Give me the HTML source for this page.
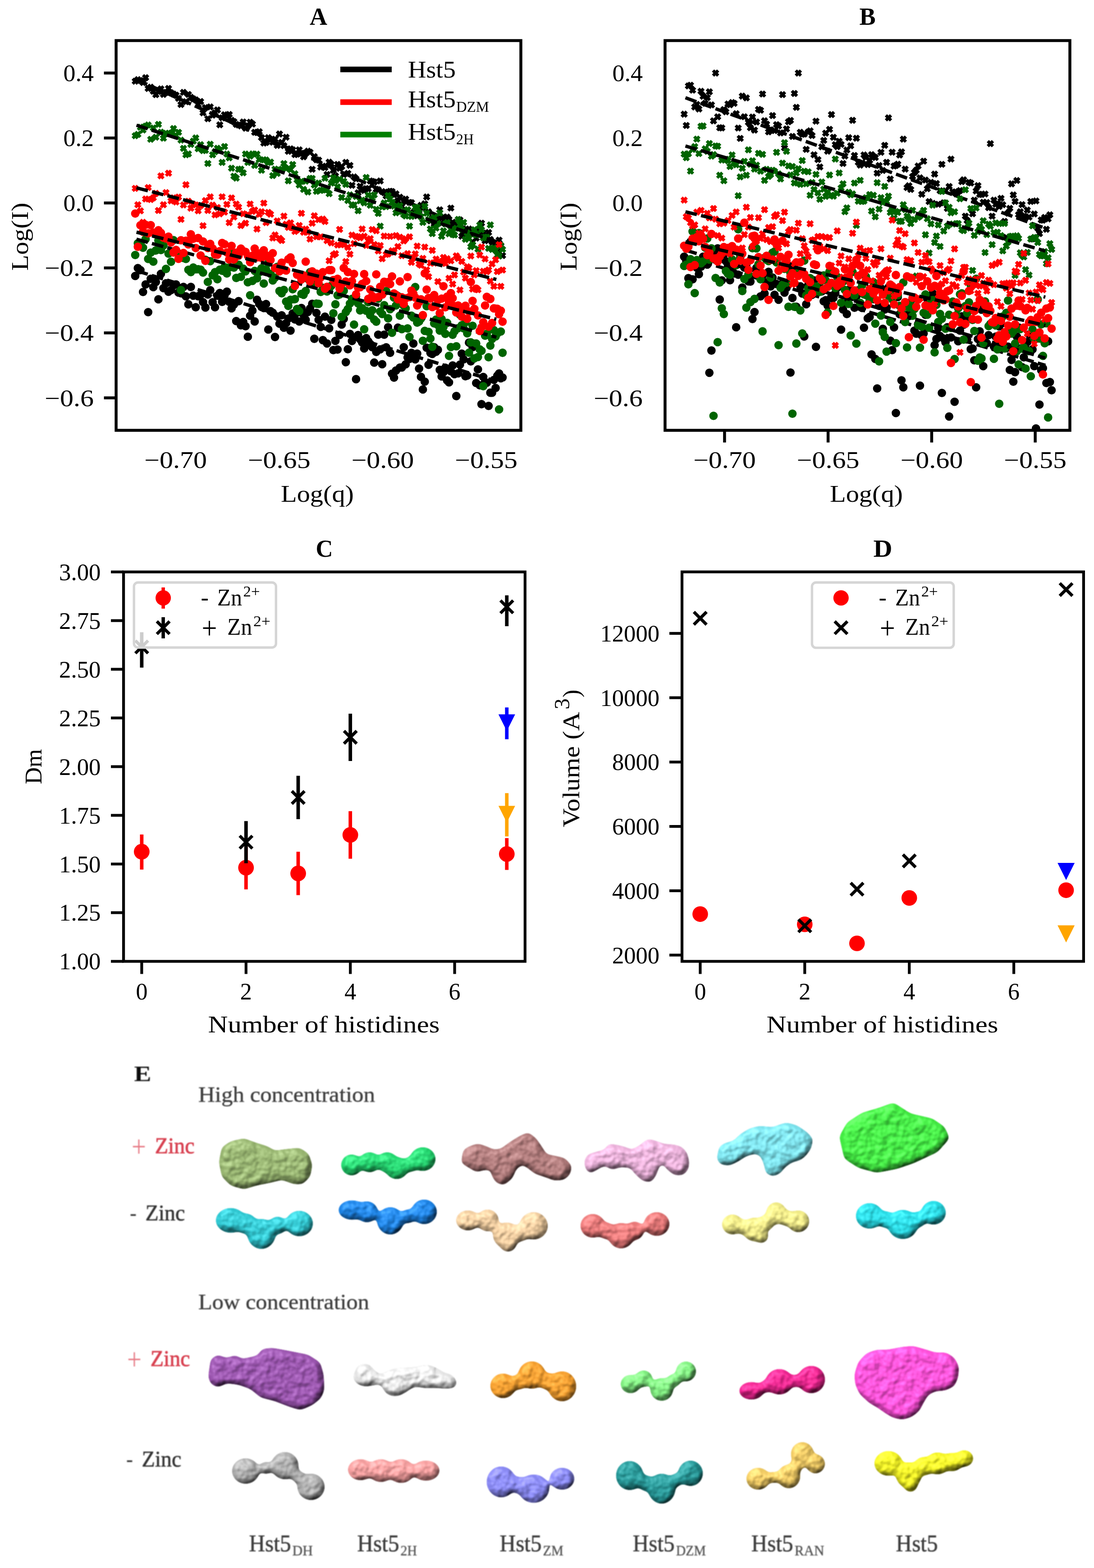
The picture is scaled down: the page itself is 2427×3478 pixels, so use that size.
<!DOCTYPE html>
<html><head><meta charset="utf-8"><style>
html,body{margin:0;padding:0;background:#fff;}
svg{display:block;font-family:'Liberation Serif', 'DejaVu Serif', serif;}
</style></head><body>
<svg width="2427" height="3478" viewBox="0 0 2427 3478">
<rect width="2427" height="3478" fill="#fff"/>
<clipPath id="clipA"><rect x="257.6" y="90" width="897.9" height="864.5"/></clipPath>
<path clip-path="url(#clipA)" fill="#000" d="M303.2,172.1 300.0,175.3 296.8,172.1 291.9,177.0 295.1,180.2 291.9,183.4 296.8,188.3 300.0,185.1 303.2,188.3 308.1,183.4 304.9,180.2 308.1,177.0ZM309.0,168.5 305.8,171.7 302.6,168.5 297.7,173.4 300.9,176.6 297.7,179.8 302.6,184.7 305.8,181.5 309.0,184.7 313.9,179.8 310.7,176.6 313.9,173.4ZM314.7,170.5 311.5,173.7 308.3,170.5 303.4,175.4 306.6,178.6 303.4,181.8 308.3,186.7 311.5,183.5 314.7,186.7 319.6,181.8 316.4,178.6 319.6,175.4ZM320.5,175.0 317.3,178.2 314.1,175.0 309.2,179.9 312.4,183.1 309.2,186.3 314.1,191.2 317.3,188.0 320.5,191.2 325.4,186.3 322.2,183.1 325.4,179.9ZM326.2,164.2 323.0,167.4 319.8,164.2 314.9,169.1 318.1,172.3 314.9,175.5 319.8,180.5 323.0,177.3 326.2,180.5 331.1,175.5 327.9,172.3 331.1,169.1ZM331.9,188.1 328.7,191.3 325.5,188.1 320.6,193.0 323.8,196.2 320.6,199.4 325.5,204.4 328.7,201.1 331.9,204.4 336.8,199.4 333.6,196.2 336.8,193.0ZM337.6,185.3 334.4,188.6 331.2,185.3 326.3,190.3 329.5,193.5 326.3,196.7 331.2,201.6 334.4,198.4 337.6,201.6 342.5,196.7 339.3,193.5 342.5,190.3ZM343.3,194.4 340.1,197.6 336.9,194.4 332.0,199.3 335.2,202.5 332.0,205.7 336.9,210.6 340.1,207.4 343.3,210.6 348.2,205.7 345.0,202.5 348.2,199.3ZM348.9,201.9 345.7,205.1 342.5,201.9 337.6,206.8 340.8,210.0 337.6,213.2 342.5,218.1 345.7,214.9 348.9,218.1 353.9,213.2 350.7,210.0 353.9,206.8ZM354.6,195.1 351.4,198.3 348.2,195.1 343.3,200.0 346.5,203.2 343.3,206.4 348.2,211.3 351.4,208.1 354.6,211.3 359.5,206.4 356.3,203.2 359.5,200.0ZM360.2,188.9 357.0,192.1 353.8,188.9 348.9,193.9 352.1,197.1 348.9,200.3 353.8,205.2 357.0,202.0 360.2,205.2 365.1,200.3 361.9,197.1 365.1,193.9ZM365.8,201.3 362.6,204.5 359.4,201.3 354.5,206.2 357.7,209.4 354.5,212.6 359.4,217.5 362.6,214.3 365.8,217.5 370.7,212.6 367.5,209.4 370.7,206.2ZM371.4,196.9 368.2,200.1 365.0,196.9 360.1,201.8 363.3,205.0 360.1,208.2 365.0,213.1 368.2,209.9 371.4,213.1 376.3,208.2 373.1,205.0 376.3,201.8ZM377.0,188.0 373.8,191.2 370.6,188.0 365.7,192.9 368.9,196.1 365.7,199.3 370.6,204.2 373.8,201.0 377.0,204.2 381.9,199.3 378.7,196.1 381.9,192.9ZM382.6,197.7 379.4,200.9 376.2,197.7 371.3,202.6 374.5,205.8 371.3,209.0 376.2,213.9 379.4,210.7 382.6,213.9 387.5,209.0 384.3,205.8 387.5,202.6ZM388.1,200.6 384.9,203.8 381.7,200.6 376.8,205.5 380.0,208.7 376.8,211.9 381.7,216.8 384.9,213.6 388.1,216.8 393.0,211.9 389.8,208.7 393.0,205.5ZM393.7,203.1 390.5,206.3 387.3,203.1 382.4,208.0 385.6,211.2 382.4,214.4 387.3,219.3 390.5,216.1 393.7,219.3 398.6,214.4 395.4,211.2 398.6,208.0ZM399.2,210.1 396.0,213.3 392.8,210.1 387.9,215.0 391.1,218.2 387.9,221.4 392.8,226.3 396.0,223.1 399.2,226.3 404.1,221.4 400.9,218.2 404.1,215.0ZM404.7,223.8 401.5,227.0 398.3,223.8 393.4,228.7 396.6,231.9 393.4,235.1 398.3,240.0 401.5,236.8 404.7,240.0 409.6,235.1 406.4,231.9 409.6,228.7ZM410.2,196.8 407.0,200.0 403.8,196.8 398.9,201.7 402.1,204.9 398.9,208.1 403.8,213.0 407.0,209.8 410.2,213.0 415.1,208.1 411.9,204.9 415.1,201.7ZM415.7,217.6 412.5,220.8 409.3,217.6 404.3,222.5 407.6,225.7 404.3,228.9 409.3,233.8 412.5,230.6 415.7,233.8 420.6,228.9 417.4,225.7 420.6,222.5ZM421.1,201.4 417.9,204.6 414.7,201.4 409.8,206.3 413.0,209.5 409.8,212.7 414.7,217.6 417.9,214.4 421.1,217.6 426.0,212.7 422.8,209.5 426.0,206.3ZM426.6,207.8 423.4,211.0 420.2,207.8 415.3,212.7 418.5,215.9 415.3,219.1 420.2,224.0 423.4,220.8 426.6,224.0 431.5,219.1 428.3,215.9 431.5,212.7ZM432.0,211.3 428.8,214.5 425.6,211.3 420.7,216.2 423.9,219.4 420.7,222.6 425.6,227.5 428.8,224.3 432.0,227.5 436.9,222.6 433.7,219.4 436.9,216.2ZM437.4,213.5 434.2,216.7 431.0,213.5 426.1,218.4 429.3,221.6 426.1,224.8 431.0,229.7 434.2,226.5 437.4,229.7 442.3,224.8 439.1,221.6 442.3,218.4ZM442.8,223.9 439.6,227.1 436.4,223.9 431.5,228.8 434.7,232.0 431.5,235.2 436.4,240.1 439.6,236.9 442.8,240.1 447.7,235.2 444.5,232.0 447.7,228.8ZM448.2,217.1 445.0,220.3 441.8,217.1 436.9,222.0 440.1,225.2 436.9,228.5 441.8,233.4 445.0,230.2 448.2,233.4 453.1,228.5 449.9,225.2 453.1,222.0ZM453.6,242.1 450.4,245.3 447.2,242.1 442.3,247.0 445.5,250.3 442.3,253.5 447.2,258.4 450.4,255.2 453.6,258.4 458.5,253.5 455.3,250.3 458.5,247.0ZM458.9,230.6 455.7,233.8 452.5,230.6 447.6,235.5 450.8,238.7 447.6,242.0 452.5,246.9 455.7,243.7 458.9,246.9 463.8,242.0 460.6,238.7 463.8,235.5ZM464.3,255.3 461.1,258.5 457.9,255.3 453.0,260.2 456.2,263.4 453.0,266.6 457.9,271.5 461.1,268.3 464.3,271.5 469.2,266.6 466.0,263.4 469.2,260.2ZM469.6,229.0 466.4,232.2 463.2,229.0 458.3,233.9 461.5,237.1 458.3,240.3 463.2,245.2 466.4,242.0 469.6,245.2 474.5,240.3 471.3,237.1 474.5,233.9ZM474.9,247.4 471.7,250.6 468.5,247.4 463.6,252.3 466.8,255.5 463.6,258.7 468.5,263.6 471.7,260.4 474.9,263.6 479.8,258.7 476.6,255.5 479.8,252.3ZM480.2,242.0 477.0,245.2 473.8,242.0 468.9,246.9 472.1,250.1 468.9,253.3 473.8,258.2 477.0,255.0 480.2,258.2 485.1,253.3 481.9,250.1 485.1,246.9ZM485.5,235.7 482.3,238.9 479.1,235.7 474.2,240.6 477.4,243.8 474.2,247.0 479.1,251.9 482.3,248.7 485.5,251.9 490.4,247.0 487.2,243.8 490.4,240.6ZM490.8,268.7 487.6,271.9 484.4,268.7 479.5,273.6 482.7,276.8 479.5,280.0 484.4,284.9 487.6,281.7 490.8,284.9 495.7,280.0 492.5,276.8 495.7,273.6ZM496.0,253.3 492.8,256.5 489.6,253.3 484.7,258.2 487.9,261.4 484.7,264.6 489.6,269.5 492.8,266.3 496.0,269.5 500.9,264.6 497.7,261.4 500.9,258.2ZM501.3,246.4 498.1,249.6 494.9,246.4 490.0,251.3 493.2,254.5 490.0,257.7 494.9,262.6 498.1,259.4 501.3,262.6 506.2,257.7 503.0,254.5 506.2,251.3ZM506.5,249.2 503.3,252.4 500.1,249.2 495.2,254.1 498.4,257.4 495.2,260.6 500.1,265.5 503.3,262.3 506.5,265.5 511.4,260.6 508.2,257.4 511.4,254.1ZM511.7,245.8 508.5,249.0 505.3,245.8 500.4,250.7 503.6,253.9 500.4,257.1 505.3,262.0 508.5,258.8 511.7,262.0 516.6,257.1 513.4,253.9 516.6,250.7ZM516.9,258.8 513.7,262.0 510.5,258.8 505.6,263.7 508.8,266.9 505.6,270.1 510.5,275.0 513.7,271.8 516.9,275.0 521.8,270.1 518.6,266.9 521.8,263.7ZM522.1,261.7 518.9,264.9 515.7,261.7 510.8,266.6 514.0,269.8 510.8,273.0 515.7,277.9 518.9,274.7 522.1,277.9 527.0,273.0 523.8,269.8 527.0,266.6ZM527.3,267.9 524.1,271.1 520.9,267.9 516.0,272.8 519.2,276.0 516.0,279.2 520.9,284.1 524.1,280.9 527.3,284.1 532.2,279.2 529.0,276.0 532.2,272.8ZM532.5,269.2 529.3,272.4 526.1,269.2 521.1,274.1 524.3,277.3 521.1,280.5 526.1,285.4 529.3,282.2 532.5,285.4 537.4,280.5 534.2,277.3 537.4,274.1ZM537.6,271.3 534.4,274.5 531.2,271.3 526.3,276.2 529.5,279.4 526.3,282.6 531.2,287.5 534.4,284.3 537.6,287.5 542.5,282.6 539.3,279.4 542.5,276.2ZM542.7,262.4 539.5,265.6 536.3,262.4 531.4,267.3 534.6,270.5 531.4,273.7 536.3,278.6 539.5,275.4 542.7,278.6 547.7,273.7 544.4,270.5 547.7,267.3ZM547.9,276.3 544.7,279.5 541.5,276.3 536.6,281.2 539.8,284.4 536.6,287.6 541.5,292.5 544.7,289.3 547.9,292.5 552.8,287.6 549.6,284.4 552.8,281.2ZM553.0,271.2 549.8,274.4 546.6,271.2 541.7,276.1 544.9,279.3 541.7,282.5 546.6,287.4 549.8,284.2 553.0,287.4 557.9,282.5 554.7,279.3 557.9,276.1ZM558.1,262.9 554.9,266.1 551.7,262.9 546.8,267.8 550.0,271.1 546.8,274.3 551.7,279.2 554.9,276.0 558.1,279.2 563.0,274.3 559.8,271.1 563.0,267.8ZM563.2,267.1 560.0,270.3 556.8,267.1 551.8,272.0 555.1,275.2 551.8,278.4 556.8,283.3 560.0,280.1 563.2,283.3 568.1,278.4 564.9,275.2 568.1,272.0ZM568.2,285.3 565.0,288.5 561.8,285.3 556.9,290.2 560.1,293.4 556.9,296.7 561.8,301.6 565.0,298.4 568.2,301.6 573.1,296.7 569.9,293.4 573.1,290.2ZM573.3,285.7 570.1,288.9 566.9,285.7 562.0,290.6 565.2,293.8 562.0,297.0 566.9,301.9 570.1,298.7 573.3,301.9 578.2,297.0 575.0,293.8 578.2,290.6ZM578.3,284.1 575.1,287.3 571.9,284.1 567.0,289.0 570.2,292.2 567.0,295.4 571.9,300.4 575.1,297.1 578.3,300.4 583.2,295.4 580.0,292.2 583.2,289.0ZM583.4,297.3 580.2,300.5 577.0,297.3 572.1,302.2 575.3,305.4 572.1,308.6 577.0,313.5 580.2,310.3 583.4,313.5 588.3,308.6 585.1,305.4 588.3,302.2ZM588.4,309.3 585.2,312.5 582.0,309.3 577.1,314.2 580.3,317.4 577.1,320.6 582.0,325.5 585.2,322.3 588.4,325.5 593.3,320.6 590.1,317.4 593.3,314.2ZM593.4,308.1 590.2,311.3 587.0,308.1 582.1,313.0 585.3,316.2 582.1,319.4 587.0,324.3 590.2,321.1 593.4,324.3 598.3,319.4 595.1,316.2 598.3,313.0ZM598.4,297.2 595.2,300.4 592.0,297.2 587.1,302.1 590.3,305.3 587.1,308.5 592.0,313.4 595.2,310.2 598.4,313.4 603.3,308.5 600.1,305.3 603.3,302.1ZM603.4,301.6 600.2,304.8 597.0,301.6 592.1,306.5 595.3,309.7 592.1,312.9 597.0,317.9 600.2,314.6 603.4,317.9 608.3,312.9 605.1,309.7 608.3,306.5ZM608.3,307.4 605.1,310.6 601.9,307.4 597.0,312.3 600.2,315.5 597.0,318.7 601.9,323.6 605.1,320.4 608.3,323.6 613.3,318.7 610.0,315.5 613.3,312.3ZM613.3,300.5 610.1,303.7 606.9,300.5 602.0,305.4 605.2,308.6 602.0,311.8 606.9,316.7 610.1,313.5 613.3,316.7 618.2,311.8 615.0,308.6 618.2,305.4ZM618.2,314.5 615.0,317.7 611.8,314.5 606.9,319.4 610.1,322.6 606.9,325.8 611.8,330.7 615.0,327.5 618.2,330.7 623.2,325.8 620.0,322.6 623.2,319.4ZM623.2,289.1 620.0,292.3 616.8,289.1 611.9,294.0 615.1,297.2 611.9,300.4 616.8,305.4 620.0,302.2 623.2,305.4 628.1,300.4 624.9,297.2 628.1,294.0ZM628.1,307.8 624.9,311.0 621.7,307.8 616.8,312.7 620.0,315.9 616.8,319.1 621.7,324.0 624.9,320.8 628.1,324.0 633.0,319.1 629.8,315.9 633.0,312.7ZM633.0,315.0 629.8,318.2 626.6,315.0 621.7,319.9 624.9,323.1 621.7,326.3 626.6,331.2 629.8,328.0 633.0,331.2 637.9,326.3 634.7,323.1 637.9,319.9ZM637.9,296.3 634.7,299.5 631.5,296.3 626.6,301.2 629.8,304.4 626.6,307.6 631.5,312.5 634.7,309.3 637.9,312.5 642.8,307.6 639.6,304.4 642.8,301.2ZM642.8,327.6 639.6,330.8 636.4,327.6 631.5,332.5 634.7,335.7 631.5,338.9 636.4,343.8 639.6,340.6 642.8,343.8 647.7,338.9 644.5,335.7 647.7,332.5ZM647.7,322.1 644.5,325.3 641.3,322.1 636.4,327.0 639.6,330.2 636.4,333.4 641.3,338.3 644.5,335.1 647.7,338.3 652.6,333.4 649.4,330.2 652.6,327.0ZM652.5,324.2 649.3,327.4 646.1,324.2 641.2,329.1 644.4,332.3 641.2,335.5 646.1,340.4 649.3,337.2 652.5,340.4 657.4,335.5 654.2,332.3 657.4,329.1ZM657.4,334.8 654.2,338.0 651.0,334.8 646.1,339.7 649.3,342.9 646.1,346.1 651.0,351.0 654.2,347.8 657.4,351.0 662.3,346.1 659.1,342.9 662.3,339.7ZM662.2,333.9 659.0,337.1 655.8,333.9 650.9,338.8 654.1,342.0 650.9,345.2 655.8,350.1 659.0,346.9 662.2,350.1 667.1,345.2 663.9,342.0 667.1,338.8ZM667.0,324.2 663.8,327.4 660.6,324.2 655.7,329.1 658.9,332.3 655.7,335.5 660.6,340.4 663.8,337.2 667.0,340.4 671.9,335.5 668.7,332.3 671.9,329.1ZM671.9,332.1 668.7,335.3 665.5,332.1 660.5,337.0 663.7,340.2 660.5,343.4 665.5,348.3 668.7,345.1 671.9,348.3 676.8,343.4 673.6,340.2 676.8,337.0ZM676.7,339.7 673.5,342.9 670.3,339.7 665.3,344.6 668.5,347.8 665.3,351.0 670.3,355.9 673.5,352.7 676.7,355.9 681.6,351.0 678.4,347.8 681.6,344.6ZM681.5,331.6 678.2,334.8 675.0,331.6 670.1,336.6 673.3,339.8 670.1,343.0 675.0,347.9 678.2,344.7 681.5,347.9 686.4,343.0 683.2,339.8 686.4,336.6ZM686.2,327.0 683.0,330.3 679.8,327.0 674.9,332.0 678.1,335.2 674.9,338.4 679.8,343.3 683.0,340.1 686.2,343.3 691.1,338.4 687.9,335.2 691.1,332.0ZM691.0,329.5 687.8,332.7 684.6,329.5 679.7,334.4 682.9,337.6 679.7,340.8 684.6,345.7 687.8,342.5 691.0,345.7 695.9,340.8 692.7,337.6 695.9,334.4ZM695.8,367.4 692.6,370.6 689.3,367.4 684.4,372.3 687.6,375.5 684.4,378.7 689.3,383.6 692.6,380.4 695.8,383.6 700.7,378.7 697.5,375.5 700.7,372.3ZM700.5,339.3 697.3,342.5 694.1,339.3 689.2,344.2 692.4,347.4 689.2,350.6 694.1,355.6 697.3,352.4 700.5,355.6 705.4,350.6 702.2,347.4 705.4,344.2ZM705.2,346.2 702.0,349.4 698.8,346.2 693.9,351.2 697.1,354.4 693.9,357.6 698.8,362.5 702.0,359.3 705.2,362.5 710.1,357.6 706.9,354.4 710.1,351.2ZM710.0,347.0 706.8,350.2 703.6,347.0 698.6,351.9 701.8,355.1 698.6,358.3 703.6,363.2 706.8,360.0 710.0,363.2 714.9,358.3 711.7,355.1 714.9,351.9ZM714.7,362.6 711.5,365.8 708.3,362.6 703.4,367.5 706.6,370.7 703.4,373.9 708.3,378.8 711.5,375.6 714.7,378.8 719.6,373.9 716.4,370.7 719.6,367.5ZM719.4,360.5 716.2,363.7 713.0,360.5 708.1,365.4 711.3,368.6 708.1,371.8 713.0,376.7 716.2,373.5 719.4,376.7 724.3,371.8 721.1,368.6 724.3,365.4ZM724.1,363.5 720.9,366.7 717.7,363.5 712.7,368.4 716.0,371.7 712.7,374.9 717.7,379.8 720.9,376.6 724.1,379.8 729.0,374.9 725.8,371.7 729.0,368.4ZM728.7,378.9 725.5,382.1 722.3,378.9 717.4,383.8 720.6,387.0 717.4,390.2 722.3,395.1 725.5,391.9 728.7,395.1 733.6,390.2 730.4,387.0 733.6,383.8ZM733.4,351.6 730.2,354.8 727.0,351.6 722.1,356.5 725.3,359.7 722.1,362.9 727.0,367.8 730.2,364.6 733.4,367.8 738.3,362.9 735.1,359.7 738.3,356.5ZM738.1,356.2 734.9,359.4 731.7,356.2 726.8,361.1 730.0,364.3 726.8,367.5 731.7,372.4 734.9,369.2 738.1,372.4 743.0,367.5 739.8,364.3 743.0,361.1ZM742.7,369.6 739.5,372.8 736.3,369.6 731.4,374.5 734.6,377.7 731.4,381.0 736.3,385.9 739.5,382.7 742.7,385.9 747.6,381.0 744.4,377.7 747.6,374.5ZM747.3,382.1 744.1,385.3 740.9,382.1 736.0,387.0 739.2,390.2 736.0,393.4 740.9,398.4 744.1,395.2 747.3,398.4 752.3,393.4 749.1,390.2 752.3,387.0ZM752.0,356.5 748.8,359.7 745.6,356.5 740.7,361.4 743.9,364.6 740.7,367.8 745.6,372.8 748.8,369.6 752.0,372.8 756.9,367.8 753.7,364.6 756.9,361.4ZM756.6,365.2 753.4,368.4 750.2,365.2 745.3,370.1 748.5,373.3 745.3,376.5 750.2,381.4 753.4,378.2 756.6,381.4 761.5,376.5 758.3,373.3 761.5,370.1ZM761.2,361.5 758.0,364.7 754.8,361.5 749.9,366.4 753.1,369.6 749.9,372.8 754.8,377.7 758.0,374.5 761.2,377.7 766.1,372.8 762.9,369.6 766.1,366.4ZM765.8,379.1 762.6,382.3 759.4,379.1 754.5,384.0 757.7,387.2 754.5,390.4 759.4,395.3 762.6,392.1 765.8,395.3 770.7,390.4 767.5,387.2 770.7,384.0ZM770.4,352.0 767.2,355.2 764.0,352.0 759.0,356.9 762.3,360.1 759.0,363.3 764.0,368.2 767.2,365.0 770.4,368.2 775.3,363.3 772.1,360.1 775.3,356.9ZM774.9,376.4 771.7,379.6 768.5,376.4 763.6,381.3 766.8,384.5 763.6,387.7 768.5,392.6 771.7,389.4 774.9,392.6 779.8,387.7 776.6,384.5 779.8,381.3ZM779.5,358.7 776.3,361.9 773.1,358.7 768.2,363.6 771.4,366.8 768.2,370.0 773.1,374.9 776.3,371.7 779.5,374.9 784.4,370.0 781.2,366.8 784.4,363.6ZM784.0,403.0 780.8,406.2 777.6,403.0 772.7,407.9 775.9,411.1 772.7,414.3 777.6,419.3 780.8,416.0 784.0,419.3 789.0,414.3 785.8,411.1 789.0,407.9ZM788.6,384.2 785.4,387.4 782.2,384.2 777.3,389.1 780.5,392.3 777.3,395.5 782.2,400.4 785.4,397.2 788.6,400.4 793.5,395.5 790.3,392.3 793.5,389.1ZM793.1,388.5 789.9,391.7 786.7,388.5 781.8,393.4 785.0,396.6 781.8,399.8 786.7,404.7 789.9,401.5 793.1,404.7 798.0,399.8 794.8,396.6 798.0,393.4ZM797.6,419.4 794.4,422.6 791.2,419.4 786.3,424.3 789.5,427.5 786.3,430.7 791.2,435.7 794.4,432.5 797.6,435.7 802.5,430.7 799.3,427.5 802.5,424.3ZM802.1,405.0 798.9,408.2 795.7,405.0 790.8,409.9 794.0,413.1 790.8,416.3 795.7,421.2 798.9,418.0 802.1,421.2 807.1,416.3 803.9,413.1 807.1,409.9ZM806.6,411.9 803.4,415.1 800.2,411.9 795.3,416.8 798.5,420.0 795.3,423.2 800.2,428.1 803.4,424.9 806.6,428.1 811.6,423.2 808.4,420.0 811.6,416.8ZM811.1,414.5 807.9,417.7 804.7,414.5 799.8,419.4 803.0,422.6 799.8,425.8 804.7,430.7 807.9,427.5 811.1,430.7 816.0,425.8 812.8,422.6 816.0,419.4ZM815.6,410.3 812.4,413.5 809.2,410.3 804.3,415.2 807.5,418.4 804.3,421.6 809.2,426.5 812.4,423.3 815.6,426.5 820.5,421.6 817.3,418.4 820.5,415.2ZM820.1,410.7 816.9,413.9 813.7,410.7 808.8,415.6 812.0,418.8 808.8,422.0 813.7,426.9 816.9,423.7 820.1,426.9 825.0,422.0 821.8,418.8 825.0,415.6ZM824.5,393.2 821.3,396.4 818.1,393.2 813.2,398.2 816.4,401.4 813.2,404.6 818.1,409.5 821.3,406.3 824.5,409.5 829.5,404.6 826.2,401.4 829.5,398.2ZM829.0,394.2 825.8,397.4 822.6,394.2 817.7,399.1 820.9,402.3 817.7,405.5 822.6,410.4 825.8,407.2 829.0,410.4 833.9,405.5 830.7,402.3 833.9,399.1ZM833.4,395.7 830.2,398.9 827.0,395.7 822.1,400.6 825.3,403.8 822.1,407.1 827.0,412.0 830.2,408.8 833.4,412.0 838.3,407.1 835.1,403.8 838.3,400.6ZM837.9,411.8 834.7,415.0 831.5,411.8 826.5,416.7 829.8,419.9 826.5,423.1 831.5,428.0 834.7,424.8 837.9,428.0 842.8,423.1 839.6,419.9 842.8,416.7ZM842.3,412.8 839.1,416.0 835.9,412.8 831.0,417.7 834.2,420.9 831.0,424.1 835.9,429.1 839.1,425.8 842.3,429.1 847.2,424.1 844.0,420.9 847.2,417.7ZM846.7,393.2 843.5,396.4 840.3,393.2 835.4,398.1 838.6,401.3 835.4,404.5 840.3,409.4 843.5,406.2 846.7,409.4 851.6,404.5 848.4,401.3 851.6,398.1ZM851.1,416.7 847.9,419.9 844.7,416.7 839.8,421.7 843.0,424.9 839.8,428.1 844.7,433.0 847.9,429.8 851.1,433.0 856.0,428.1 852.8,424.9 856.0,421.7ZM855.5,419.2 852.3,422.4 849.1,419.2 844.2,424.1 847.4,427.3 844.2,430.6 849.1,435.5 852.3,432.3 855.5,435.5 860.4,430.6 857.2,427.3 860.4,424.1ZM859.9,426.3 856.7,429.5 853.5,426.3 848.5,431.2 851.8,434.4 848.5,437.7 853.5,442.6 856.7,439.4 859.9,442.6 864.8,437.7 861.6,434.4 864.8,431.2ZM864.2,418.1 861.0,421.3 857.8,418.1 852.9,423.0 856.1,426.2 852.9,429.4 857.8,434.3 861.0,431.1 864.2,434.3 869.1,429.4 865.9,426.2 869.1,423.0ZM868.6,416.3 865.4,419.5 862.2,416.3 857.3,421.2 860.5,424.4 857.3,427.6 862.2,432.5 865.4,429.3 868.6,432.5 873.5,427.6 870.3,424.4 873.5,421.2ZM872.9,416.7 869.7,419.9 866.5,416.7 861.6,421.6 864.8,424.8 861.6,428.0 866.5,432.9 869.7,429.7 872.9,432.9 877.9,428.0 874.7,424.8 877.9,421.6ZM877.3,423.4 874.1,426.6 870.9,423.4 866.0,428.3 869.2,431.5 866.0,434.7 870.9,439.6 874.1,436.4 877.3,439.6 882.2,434.7 879.0,431.5 882.2,428.3ZM881.6,421.8 878.4,425.0 875.2,421.8 870.3,426.7 873.5,429.9 870.3,433.1 875.2,438.0 878.4,434.8 881.6,438.0 886.5,433.1 883.3,429.9 886.5,426.7ZM885.9,437.3 882.7,440.5 879.5,437.3 874.6,442.2 877.8,445.4 874.6,448.6 879.5,453.5 882.7,450.3 885.9,453.5 890.9,448.6 887.7,445.4 890.9,442.2ZM890.3,429.3 887.1,432.5 883.9,429.3 878.9,434.2 882.2,437.4 878.9,440.6 883.9,445.5 887.1,442.3 890.3,445.5 895.2,440.6 892.0,437.4 895.2,434.2ZM894.6,449.6 891.4,452.8 888.2,449.6 883.3,454.5 886.5,457.7 883.3,460.9 888.2,465.8 891.4,462.6 894.6,465.8 899.5,460.9 896.3,457.7 899.5,454.5ZM898.9,438.0 895.7,441.2 892.5,438.0 887.5,442.9 890.8,446.1 887.5,449.3 892.5,454.2 895.7,451.0 898.9,454.2 903.8,449.3 900.6,446.1 903.8,442.9ZM903.2,433.5 899.9,436.7 896.7,433.5 891.8,438.4 895.0,441.6 891.8,444.8 896.7,449.7 899.9,446.5 903.2,449.7 908.1,444.8 904.9,441.6 908.1,438.4ZM907.4,457.8 904.2,461.0 901.0,457.8 896.1,462.7 899.3,465.9 896.1,469.1 901.0,474.0 904.2,470.8 907.4,474.0 912.3,469.1 909.1,465.9 912.3,462.7ZM911.7,440.9 908.5,444.1 905.3,440.9 900.4,445.8 903.6,449.0 900.4,452.2 905.3,457.1 908.5,453.9 911.7,457.1 916.6,452.2 913.4,449.0 916.6,445.8ZM916.0,441.4 912.8,444.6 909.5,441.4 904.6,446.3 907.8,449.5 904.6,452.7 909.5,457.6 912.8,454.4 916.0,457.6 920.9,452.7 917.7,449.5 920.9,446.3ZM920.2,463.5 917.0,466.7 913.8,463.5 908.9,468.4 912.1,471.7 908.9,474.9 913.8,479.8 917.0,476.6 920.2,479.8 925.1,474.9 921.9,471.7 925.1,468.4ZM924.4,468.3 921.2,471.5 918.0,468.3 913.1,473.2 916.3,476.4 913.1,479.6 918.0,484.5 921.2,481.3 924.4,484.5 929.4,479.6 926.2,476.4 929.4,473.2ZM928.7,470.6 925.5,473.8 922.3,470.6 917.4,475.5 920.6,478.7 917.4,481.9 922.3,486.8 925.5,483.6 928.7,486.8 933.6,481.9 930.4,478.7 933.6,475.5ZM932.9,465.7 929.7,468.9 926.5,465.7 921.6,470.6 924.8,473.8 921.6,477.0 926.5,481.9 929.7,478.7 932.9,481.9 937.8,477.0 934.6,473.8 937.8,470.6ZM937.1,447.3 933.9,450.5 930.7,447.3 925.8,452.2 929.0,455.4 925.8,458.6 930.7,463.5 933.9,460.3 937.1,463.5 942.0,458.6 938.8,455.4 942.0,452.2ZM941.3,452.5 938.1,455.7 934.9,452.5 930.0,457.4 933.2,460.6 930.0,463.8 934.9,468.8 938.1,465.5 941.3,468.8 946.2,463.8 943.0,460.6 946.2,457.4ZM945.5,443.9 942.3,447.1 939.1,443.9 934.2,448.8 937.4,452.0 934.2,455.2 939.1,460.1 942.3,456.9 945.5,460.1 950.4,455.2 947.2,452.0 950.4,448.8ZM949.7,428.7 946.5,431.9 943.3,428.7 938.4,433.6 941.6,436.8 938.4,440.0 943.3,444.9 946.5,441.7 949.7,444.9 954.6,440.0 951.4,436.8 954.6,433.6ZM953.9,461.8 950.7,465.0 947.5,461.8 942.6,466.7 945.8,469.9 942.6,473.1 947.5,478.0 950.7,474.8 953.9,478.0 958.8,473.1 955.6,469.9 958.8,466.7ZM958.1,481.7 954.9,484.9 951.6,481.7 946.7,486.6 949.9,489.8 946.7,493.0 951.6,497.9 954.9,494.7 958.1,497.9 963.0,493.0 959.8,489.8 963.0,486.6ZM962.2,475.6 959.0,478.8 955.8,475.6 950.9,480.5 954.1,483.7 950.9,486.9 955.8,491.8 959.0,488.6 962.2,491.8 967.1,486.9 963.9,483.7 967.1,480.5ZM966.4,488.2 963.2,491.4 960.0,488.2 955.1,493.1 958.3,496.3 955.1,499.5 960.0,504.4 963.2,501.2 966.4,504.4 971.3,499.5 968.1,496.3 971.3,493.1ZM970.5,475.1 967.3,478.3 964.1,475.1 959.2,480.0 962.4,483.2 959.2,486.4 964.1,491.3 967.3,488.1 970.5,491.3 975.4,486.4 972.2,483.2 975.4,480.0ZM974.6,477.3 971.4,480.5 968.2,477.3 963.3,482.2 966.5,485.4 963.3,488.6 968.2,493.5 971.4,490.3 974.6,493.5 979.6,488.6 976.4,485.4 979.6,482.2ZM978.8,457.3 975.6,460.5 972.4,457.3 967.5,462.2 970.7,465.4 967.5,468.6 972.4,473.5 975.6,470.3 978.8,473.5 983.7,468.6 980.5,465.4 983.7,462.2ZM982.9,486.5 979.7,489.7 976.5,486.5 971.6,491.4 974.8,494.6 971.6,497.8 976.5,502.7 979.7,499.5 982.9,502.7 987.8,497.8 984.6,494.6 987.8,491.4ZM987.0,473.4 983.8,476.6 980.6,473.4 975.7,478.3 978.9,481.5 975.7,484.7 980.6,489.7 983.8,486.4 987.0,489.7 991.9,484.7 988.7,481.5 991.9,478.3ZM991.1,477.1 987.9,480.3 984.7,477.1 979.8,482.0 983.0,485.2 979.8,488.4 984.7,493.4 987.9,490.1 991.1,493.4 996.0,488.4 992.8,485.2 996.0,482.0ZM995.2,473.3 992.0,476.5 988.8,473.3 983.9,478.2 987.1,481.4 983.9,484.6 988.8,489.5 992.0,486.3 995.2,489.5 1000.1,484.6 996.9,481.4 1000.1,478.2ZM999.3,478.5 996.1,481.7 992.9,478.5 988.0,483.5 991.2,486.7 988.0,489.9 992.9,494.8 996.1,491.6 999.3,494.8 1004.2,489.9 1001.0,486.7 1004.2,483.5ZM1003.4,453.4 1000.2,456.6 997.0,453.4 992.0,458.3 995.3,461.5 992.0,464.7 997.0,469.6 1000.2,466.4 1003.4,469.6 1008.3,464.7 1005.1,461.5 1008.3,458.3ZM1007.4,485.3 1004.2,488.5 1001.0,485.3 996.1,490.2 999.3,493.4 996.1,496.6 1001.0,501.5 1004.2,498.3 1007.4,501.5 1012.3,496.6 1009.1,493.4 1012.3,490.2ZM1011.5,489.5 1008.3,492.7 1005.1,489.5 1000.2,494.4 1003.4,497.6 1000.2,500.8 1005.1,505.7 1008.3,502.5 1011.5,505.7 1016.4,500.8 1013.2,497.6 1016.4,494.4ZM1015.5,485.3 1012.3,488.5 1009.1,485.3 1004.2,490.3 1007.4,493.5 1004.2,496.7 1009.1,501.6 1012.3,498.4 1015.5,501.6 1020.4,496.7 1017.2,493.5 1020.4,490.3ZM1019.6,497.1 1016.4,500.3 1013.2,497.1 1008.3,502.0 1011.5,505.2 1008.3,508.4 1013.2,513.3 1016.4,510.1 1019.6,513.3 1024.5,508.4 1021.3,505.2 1024.5,502.0ZM1023.6,479.7 1020.4,482.9 1017.2,479.7 1012.3,484.6 1015.5,487.8 1012.3,491.0 1017.2,495.9 1020.4,492.7 1023.6,495.9 1028.5,491.0 1025.3,487.8 1028.5,484.6ZM1027.6,515.8 1024.4,519.0 1021.2,515.8 1016.3,520.7 1019.5,523.9 1016.3,527.1 1021.2,532.0 1024.4,528.8 1027.6,532.0 1032.6,527.1 1029.4,523.9 1032.6,520.7ZM1031.7,505.9 1028.5,509.1 1025.3,505.9 1020.4,510.8 1023.6,514.0 1020.4,517.2 1025.3,522.1 1028.5,518.9 1031.7,522.1 1036.6,517.2 1033.4,514.0 1036.6,510.8ZM1035.7,511.9 1032.5,515.1 1029.3,511.9 1024.4,516.8 1027.6,520.0 1024.4,523.2 1029.3,528.1 1032.5,524.9 1035.7,528.1 1040.6,523.2 1037.4,520.0 1040.6,516.8ZM1039.7,509.5 1036.5,512.7 1033.3,509.5 1028.4,514.4 1031.6,517.6 1028.4,520.8 1033.3,525.7 1036.5,522.5 1039.7,525.7 1044.6,520.8 1041.4,517.6 1044.6,514.4ZM1043.7,499.8 1040.5,503.0 1037.3,499.8 1032.4,504.7 1035.6,507.9 1032.4,511.1 1037.3,516.0 1040.5,512.8 1043.7,516.0 1048.6,511.1 1045.4,507.9 1048.6,504.7ZM1047.7,509.6 1044.5,512.8 1041.3,509.6 1036.3,514.5 1039.6,517.7 1036.3,520.9 1041.3,525.9 1044.5,522.6 1047.7,525.9 1052.6,520.9 1049.4,517.7 1052.6,514.5ZM1051.6,528.9 1048.4,532.1 1045.2,528.9 1040.3,533.8 1043.5,537.0 1040.3,540.2 1045.2,545.1 1048.4,541.9 1051.6,545.1 1056.5,540.2 1053.3,537.0 1056.5,533.8ZM1055.6,507.5 1052.4,510.7 1049.2,507.5 1044.3,512.4 1047.5,515.6 1044.3,518.8 1049.2,523.7 1052.4,520.5 1055.6,523.7 1060.5,518.8 1057.3,515.6 1060.5,512.4ZM1059.6,520.1 1056.4,523.3 1053.2,520.1 1048.3,525.0 1051.5,528.2 1048.3,531.4 1053.2,536.3 1056.4,533.1 1059.6,536.3 1064.5,531.4 1061.3,528.2 1064.5,525.0ZM1063.5,501.7 1060.3,504.9 1057.1,501.7 1052.2,506.6 1055.4,509.8 1052.2,513.0 1057.1,517.9 1060.3,514.7 1063.5,517.9 1068.4,513.0 1065.2,509.8 1068.4,506.6ZM1067.5,505.5 1064.3,508.7 1061.1,505.5 1056.2,510.4 1059.4,513.6 1056.2,516.8 1061.1,521.7 1064.3,518.5 1067.5,521.7 1072.4,516.8 1069.2,513.6 1072.4,510.4ZM1071.4,486.9 1068.2,490.1 1065.0,486.9 1060.1,491.8 1063.3,495.0 1060.1,498.2 1065.0,503.1 1068.2,499.9 1071.4,503.1 1076.3,498.2 1073.1,495.0 1076.3,491.8ZM1075.3,508.8 1072.1,512.0 1068.9,508.8 1064.0,513.7 1067.2,516.9 1064.0,520.1 1068.9,525.0 1072.1,521.8 1075.3,525.0 1080.3,520.1 1077.1,516.9 1080.3,513.7ZM1079.3,526.1 1076.1,529.3 1072.9,526.1 1068.0,531.0 1071.2,534.2 1068.0,537.4 1072.9,542.3 1076.1,539.1 1079.3,542.3 1084.2,537.4 1081.0,534.2 1084.2,531.0ZM1083.2,514.6 1080.0,517.8 1076.8,514.6 1071.9,519.5 1075.1,522.7 1071.9,525.9 1076.8,530.9 1080.0,527.6 1083.2,530.9 1088.1,525.9 1084.9,522.7 1088.1,519.5ZM1087.1,507.6 1083.9,510.8 1080.7,507.6 1075.8,512.5 1079.0,515.7 1075.8,518.9 1080.7,523.8 1083.9,520.6 1087.1,523.8 1092.0,518.9 1088.8,515.7 1092.0,512.5ZM1091.0,523.0 1087.8,526.2 1084.6,523.0 1079.7,527.9 1082.9,531.1 1079.7,534.3 1084.6,539.2 1087.8,536.0 1091.0,539.2 1095.9,534.3 1092.7,531.1 1095.9,527.9ZM1094.9,528.7 1091.7,531.9 1088.5,528.7 1083.6,533.6 1086.8,536.9 1083.6,540.1 1088.5,545.0 1091.7,541.8 1094.9,545.0 1099.8,540.1 1096.6,536.9 1099.8,533.6ZM1098.8,535.7 1095.6,538.9 1092.4,535.7 1087.5,540.6 1090.7,543.8 1087.5,547.0 1092.4,551.9 1095.6,548.7 1098.8,551.9 1103.7,547.0 1100.5,543.8 1103.7,540.6ZM1102.7,538.5 1099.5,541.7 1096.3,538.5 1091.3,543.4 1094.5,546.6 1091.3,549.8 1096.3,554.7 1099.5,551.5 1102.7,554.7 1107.6,549.8 1104.4,546.6 1107.6,543.4ZM1106.5,548.0 1103.3,551.2 1100.1,548.0 1095.2,552.9 1098.4,556.1 1095.2,559.3 1100.1,564.2 1103.3,561.0 1106.5,564.2 1111.4,559.3 1108.2,556.1 1111.4,552.9ZM1110.4,524.4 1107.2,527.6 1104.0,524.4 1099.1,529.3 1102.3,532.5 1099.1,535.7 1104.0,540.6 1107.2,537.4 1110.4,540.6 1115.3,535.7 1112.1,532.5 1115.3,529.3ZM1114.2,537.5 1111.0,540.7 1107.8,537.5 1102.9,542.4 1106.1,545.6 1102.9,548.8 1107.8,553.7 1111.0,550.5 1114.2,553.7 1119.2,548.8 1116.0,545.6 1119.2,542.4ZM1118.1,558.7 1114.9,561.9 1111.7,558.7 1106.8,563.6 1110.0,566.8 1106.8,570.0 1111.7,574.9 1114.9,571.7 1118.1,574.9 1123.0,570.0 1119.8,566.8 1123.0,563.6Z"/>
<line clip-path="url(#clipA)" x1="302.8" y1="176.4" x2="1101.1" y2="536.7" stroke="#000" stroke-width="7.5" stroke-dasharray="26,9.5"/>
<path clip-path="url(#clipA)" fill="#000" d="M290.6,612.1a9.4,9.4 0 1,0 18.8,0a9.4,9.4 0 1,0 -18.8,0ZM296.4,594.7a9.4,9.4 0 1,0 18.8,0a9.4,9.4 0 1,0 -18.8,0ZM302.1,599.2a9.4,9.4 0 1,0 18.8,0a9.4,9.4 0 1,0 -18.8,0ZM307.9,647.6a9.4,9.4 0 1,0 18.8,0a9.4,9.4 0 1,0 -18.8,0ZM313.6,630.9a9.4,9.4 0 1,0 18.8,0a9.4,9.4 0 1,0 -18.8,0ZM319.3,692.3a9.4,9.4 0 1,0 18.8,0a9.4,9.4 0 1,0 -18.8,0ZM325.0,618.5a9.4,9.4 0 1,0 18.8,0a9.4,9.4 0 1,0 -18.8,0ZM330.7,636.9a9.4,9.4 0 1,0 18.8,0a9.4,9.4 0 1,0 -18.8,0ZM336.3,625.5a9.4,9.4 0 1,0 18.8,0a9.4,9.4 0 1,0 -18.8,0ZM342.0,663.9a9.4,9.4 0 1,0 18.8,0a9.4,9.4 0 1,0 -18.8,0ZM347.6,607.4a9.4,9.4 0 1,0 18.8,0a9.4,9.4 0 1,0 -18.8,0ZM353.2,639.1a9.4,9.4 0 1,0 18.8,0a9.4,9.4 0 1,0 -18.8,0ZM358.8,628.4a9.4,9.4 0 1,0 18.8,0a9.4,9.4 0 1,0 -18.8,0ZM364.4,647.2a9.4,9.4 0 1,0 18.8,0a9.4,9.4 0 1,0 -18.8,0ZM370.0,643.7a9.4,9.4 0 1,0 18.8,0a9.4,9.4 0 1,0 -18.8,0ZM375.5,633.0a9.4,9.4 0 1,0 18.8,0a9.4,9.4 0 1,0 -18.8,0ZM381.1,631.0a9.4,9.4 0 1,0 18.8,0a9.4,9.4 0 1,0 -18.8,0ZM386.6,648.9a9.4,9.4 0 1,0 18.8,0a9.4,9.4 0 1,0 -18.8,0ZM392.1,650.6a9.4,9.4 0 1,0 18.8,0a9.4,9.4 0 1,0 -18.8,0ZM397.6,636.5a9.4,9.4 0 1,0 18.8,0a9.4,9.4 0 1,0 -18.8,0ZM403.1,657.4a9.4,9.4 0 1,0 18.8,0a9.4,9.4 0 1,0 -18.8,0ZM408.5,675.0a9.4,9.4 0 1,0 18.8,0a9.4,9.4 0 1,0 -18.8,0ZM414.0,636.5a9.4,9.4 0 1,0 18.8,0a9.4,9.4 0 1,0 -18.8,0ZM419.4,655.8a9.4,9.4 0 1,0 18.8,0a9.4,9.4 0 1,0 -18.8,0ZM424.8,681.5a9.4,9.4 0 1,0 18.8,0a9.4,9.4 0 1,0 -18.8,0ZM430.2,657.2a9.4,9.4 0 1,0 18.8,0a9.4,9.4 0 1,0 -18.8,0ZM435.6,653.9a9.4,9.4 0 1,0 18.8,0a9.4,9.4 0 1,0 -18.8,0ZM441.0,670.2a9.4,9.4 0 1,0 18.8,0a9.4,9.4 0 1,0 -18.8,0ZM446.3,682.0a9.4,9.4 0 1,0 18.8,0a9.4,9.4 0 1,0 -18.8,0ZM451.7,653.4a9.4,9.4 0 1,0 18.8,0a9.4,9.4 0 1,0 -18.8,0ZM457.0,643.6a9.4,9.4 0 1,0 18.8,0a9.4,9.4 0 1,0 -18.8,0ZM462.3,670.5a9.4,9.4 0 1,0 18.8,0a9.4,9.4 0 1,0 -18.8,0ZM467.6,681.7a9.4,9.4 0 1,0 18.8,0a9.4,9.4 0 1,0 -18.8,0ZM472.9,655.9a9.4,9.4 0 1,0 18.8,0a9.4,9.4 0 1,0 -18.8,0ZM478.2,649.9a9.4,9.4 0 1,0 18.8,0a9.4,9.4 0 1,0 -18.8,0ZM483.4,669.6a9.4,9.4 0 1,0 18.8,0a9.4,9.4 0 1,0 -18.8,0ZM488.7,655.2a9.4,9.4 0 1,0 18.8,0a9.4,9.4 0 1,0 -18.8,0ZM493.9,646.8a9.4,9.4 0 1,0 18.8,0a9.4,9.4 0 1,0 -18.8,0ZM499.1,669.5a9.4,9.4 0 1,0 18.8,0a9.4,9.4 0 1,0 -18.8,0ZM504.3,683.9a9.4,9.4 0 1,0 18.8,0a9.4,9.4 0 1,0 -18.8,0ZM509.5,675.7a9.4,9.4 0 1,0 18.8,0a9.4,9.4 0 1,0 -18.8,0ZM514.7,712.1a9.4,9.4 0 1,0 18.8,0a9.4,9.4 0 1,0 -18.8,0ZM519.9,668.0a9.4,9.4 0 1,0 18.8,0a9.4,9.4 0 1,0 -18.8,0ZM525.0,721.6a9.4,9.4 0 1,0 18.8,0a9.4,9.4 0 1,0 -18.8,0ZM530.1,714.1a9.4,9.4 0 1,0 18.8,0a9.4,9.4 0 1,0 -18.8,0ZM535.3,723.7a9.4,9.4 0 1,0 18.8,0a9.4,9.4 0 1,0 -18.8,0ZM540.4,746.9a9.4,9.4 0 1,0 18.8,0a9.4,9.4 0 1,0 -18.8,0ZM545.5,700.4a9.4,9.4 0 1,0 18.8,0a9.4,9.4 0 1,0 -18.8,0ZM550.6,688.9a9.4,9.4 0 1,0 18.8,0a9.4,9.4 0 1,0 -18.8,0ZM555.6,713.0a9.4,9.4 0 1,0 18.8,0a9.4,9.4 0 1,0 -18.8,0ZM560.7,664.9a9.4,9.4 0 1,0 18.8,0a9.4,9.4 0 1,0 -18.8,0ZM565.7,674.0a9.4,9.4 0 1,0 18.8,0a9.4,9.4 0 1,0 -18.8,0ZM570.8,680.8a9.4,9.4 0 1,0 18.8,0a9.4,9.4 0 1,0 -18.8,0ZM575.8,683.4a9.4,9.4 0 1,0 18.8,0a9.4,9.4 0 1,0 -18.8,0ZM580.8,674.4a9.4,9.4 0 1,0 18.8,0a9.4,9.4 0 1,0 -18.8,0ZM585.8,730.9a9.4,9.4 0 1,0 18.8,0a9.4,9.4 0 1,0 -18.8,0ZM590.8,690.2a9.4,9.4 0 1,0 18.8,0a9.4,9.4 0 1,0 -18.8,0ZM595.7,693.6a9.4,9.4 0 1,0 18.8,0a9.4,9.4 0 1,0 -18.8,0ZM600.7,747.5a9.4,9.4 0 1,0 18.8,0a9.4,9.4 0 1,0 -18.8,0ZM605.6,702.4a9.4,9.4 0 1,0 18.8,0a9.4,9.4 0 1,0 -18.8,0ZM610.6,717.9a9.4,9.4 0 1,0 18.8,0a9.4,9.4 0 1,0 -18.8,0ZM615.5,699.3a9.4,9.4 0 1,0 18.8,0a9.4,9.4 0 1,0 -18.8,0ZM620.4,726.9a9.4,9.4 0 1,0 18.8,0a9.4,9.4 0 1,0 -18.8,0ZM625.3,716.9a9.4,9.4 0 1,0 18.8,0a9.4,9.4 0 1,0 -18.8,0ZM630.2,706.7a9.4,9.4 0 1,0 18.8,0a9.4,9.4 0 1,0 -18.8,0ZM635.1,733.4a9.4,9.4 0 1,0 18.8,0a9.4,9.4 0 1,0 -18.8,0ZM639.9,695.4a9.4,9.4 0 1,0 18.8,0a9.4,9.4 0 1,0 -18.8,0ZM644.8,708.5a9.4,9.4 0 1,0 18.8,0a9.4,9.4 0 1,0 -18.8,0ZM649.6,693.7a9.4,9.4 0 1,0 18.8,0a9.4,9.4 0 1,0 -18.8,0ZM654.4,713.1a9.4,9.4 0 1,0 18.8,0a9.4,9.4 0 1,0 -18.8,0ZM659.3,683.1a9.4,9.4 0 1,0 18.8,0a9.4,9.4 0 1,0 -18.8,0ZM664.1,698.4a9.4,9.4 0 1,0 18.8,0a9.4,9.4 0 1,0 -18.8,0ZM668.8,709.5a9.4,9.4 0 1,0 18.8,0a9.4,9.4 0 1,0 -18.8,0ZM673.6,692.2a9.4,9.4 0 1,0 18.8,0a9.4,9.4 0 1,0 -18.8,0ZM678.4,684.4a9.4,9.4 0 1,0 18.8,0a9.4,9.4 0 1,0 -18.8,0ZM683.2,674.0a9.4,9.4 0 1,0 18.8,0a9.4,9.4 0 1,0 -18.8,0ZM687.9,751.5a9.4,9.4 0 1,0 18.8,0a9.4,9.4 0 1,0 -18.8,0ZM692.6,694.1a9.4,9.4 0 1,0 18.8,0a9.4,9.4 0 1,0 -18.8,0ZM697.4,709.4a9.4,9.4 0 1,0 18.8,0a9.4,9.4 0 1,0 -18.8,0ZM702.1,725.2a9.4,9.4 0 1,0 18.8,0a9.4,9.4 0 1,0 -18.8,0ZM706.8,754.5a9.4,9.4 0 1,0 18.8,0a9.4,9.4 0 1,0 -18.8,0ZM711.5,702.4a9.4,9.4 0 1,0 18.8,0a9.4,9.4 0 1,0 -18.8,0ZM716.1,761.8a9.4,9.4 0 1,0 18.8,0a9.4,9.4 0 1,0 -18.8,0ZM720.8,728.4a9.4,9.4 0 1,0 18.8,0a9.4,9.4 0 1,0 -18.8,0ZM725.5,709.7a9.4,9.4 0 1,0 18.8,0a9.4,9.4 0 1,0 -18.8,0ZM730.1,776.5a9.4,9.4 0 1,0 18.8,0a9.4,9.4 0 1,0 -18.8,0ZM734.7,756.1a9.4,9.4 0 1,0 18.8,0a9.4,9.4 0 1,0 -18.8,0ZM739.4,775.4a9.4,9.4 0 1,0 18.8,0a9.4,9.4 0 1,0 -18.8,0ZM744.0,742.8a9.4,9.4 0 1,0 18.8,0a9.4,9.4 0 1,0 -18.8,0ZM748.6,719.9a9.4,9.4 0 1,0 18.8,0a9.4,9.4 0 1,0 -18.8,0ZM753.2,707.3a9.4,9.4 0 1,0 18.8,0a9.4,9.4 0 1,0 -18.8,0ZM757.8,803.3a9.4,9.4 0 1,0 18.8,0a9.4,9.4 0 1,0 -18.8,0ZM762.3,774.7a9.4,9.4 0 1,0 18.8,0a9.4,9.4 0 1,0 -18.8,0ZM766.9,740.7a9.4,9.4 0 1,0 18.8,0a9.4,9.4 0 1,0 -18.8,0ZM771.4,756.4a9.4,9.4 0 1,0 18.8,0a9.4,9.4 0 1,0 -18.8,0ZM776.0,749.1a9.4,9.4 0 1,0 18.8,0a9.4,9.4 0 1,0 -18.8,0ZM780.5,841.0a9.4,9.4 0 1,0 18.8,0a9.4,9.4 0 1,0 -18.8,0ZM785.0,743.1a9.4,9.4 0 1,0 18.8,0a9.4,9.4 0 1,0 -18.8,0ZM789.5,752.5a9.4,9.4 0 1,0 18.8,0a9.4,9.4 0 1,0 -18.8,0ZM794.0,759.6a9.4,9.4 0 1,0 18.8,0a9.4,9.4 0 1,0 -18.8,0ZM798.5,772.9a9.4,9.4 0 1,0 18.8,0a9.4,9.4 0 1,0 -18.8,0ZM803.0,750.0a9.4,9.4 0 1,0 18.8,0a9.4,9.4 0 1,0 -18.8,0ZM807.5,757.1a9.4,9.4 0 1,0 18.8,0a9.4,9.4 0 1,0 -18.8,0ZM811.9,762.8a9.4,9.4 0 1,0 18.8,0a9.4,9.4 0 1,0 -18.8,0ZM816.4,770.1a9.4,9.4 0 1,0 18.8,0a9.4,9.4 0 1,0 -18.8,0ZM820.8,804.3a9.4,9.4 0 1,0 18.8,0a9.4,9.4 0 1,0 -18.8,0ZM825.3,780.7a9.4,9.4 0 1,0 18.8,0a9.4,9.4 0 1,0 -18.8,0ZM829.7,742.4a9.4,9.4 0 1,0 18.8,0a9.4,9.4 0 1,0 -18.8,0ZM834.1,774.8a9.4,9.4 0 1,0 18.8,0a9.4,9.4 0 1,0 -18.8,0ZM838.5,807.9a9.4,9.4 0 1,0 18.8,0a9.4,9.4 0 1,0 -18.8,0ZM842.9,742.3a9.4,9.4 0 1,0 18.8,0a9.4,9.4 0 1,0 -18.8,0ZM847.3,770.4a9.4,9.4 0 1,0 18.8,0a9.4,9.4 0 1,0 -18.8,0ZM851.6,725.8a9.4,9.4 0 1,0 18.8,0a9.4,9.4 0 1,0 -18.8,0ZM856.0,782.6a9.4,9.4 0 1,0 18.8,0a9.4,9.4 0 1,0 -18.8,0ZM860.3,828.8a9.4,9.4 0 1,0 18.8,0a9.4,9.4 0 1,0 -18.8,0ZM864.7,837.7a9.4,9.4 0 1,0 18.8,0a9.4,9.4 0 1,0 -18.8,0ZM869.0,822.0a9.4,9.4 0 1,0 18.8,0a9.4,9.4 0 1,0 -18.8,0ZM873.3,726.8a9.4,9.4 0 1,0 18.8,0a9.4,9.4 0 1,0 -18.8,0ZM877.7,815.4a9.4,9.4 0 1,0 18.8,0a9.4,9.4 0 1,0 -18.8,0ZM882.0,815.2a9.4,9.4 0 1,0 18.8,0a9.4,9.4 0 1,0 -18.8,0ZM886.3,770.2a9.4,9.4 0 1,0 18.8,0a9.4,9.4 0 1,0 -18.8,0ZM890.5,808.2a9.4,9.4 0 1,0 18.8,0a9.4,9.4 0 1,0 -18.8,0ZM894.8,792.8a9.4,9.4 0 1,0 18.8,0a9.4,9.4 0 1,0 -18.8,0ZM899.1,796.0a9.4,9.4 0 1,0 18.8,0a9.4,9.4 0 1,0 -18.8,0ZM903.4,782.7a9.4,9.4 0 1,0 18.8,0a9.4,9.4 0 1,0 -18.8,0ZM907.6,762.0a9.4,9.4 0 1,0 18.8,0a9.4,9.4 0 1,0 -18.8,0ZM911.8,797.0a9.4,9.4 0 1,0 18.8,0a9.4,9.4 0 1,0 -18.8,0ZM916.1,784.5a9.4,9.4 0 1,0 18.8,0a9.4,9.4 0 1,0 -18.8,0ZM920.3,817.7a9.4,9.4 0 1,0 18.8,0a9.4,9.4 0 1,0 -18.8,0ZM924.5,835.9a9.4,9.4 0 1,0 18.8,0a9.4,9.4 0 1,0 -18.8,0ZM928.7,863.9a9.4,9.4 0 1,0 18.8,0a9.4,9.4 0 1,0 -18.8,0ZM932.9,846.7a9.4,9.4 0 1,0 18.8,0a9.4,9.4 0 1,0 -18.8,0ZM937.1,771.3a9.4,9.4 0 1,0 18.8,0a9.4,9.4 0 1,0 -18.8,0ZM941.3,809.1a9.4,9.4 0 1,0 18.8,0a9.4,9.4 0 1,0 -18.8,0ZM945.5,782.8a9.4,9.4 0 1,0 18.8,0a9.4,9.4 0 1,0 -18.8,0ZM949.6,785.0a9.4,9.4 0 1,0 18.8,0a9.4,9.4 0 1,0 -18.8,0ZM953.8,770.2a9.4,9.4 0 1,0 18.8,0a9.4,9.4 0 1,0 -18.8,0ZM957.9,780.4a9.4,9.4 0 1,0 18.8,0a9.4,9.4 0 1,0 -18.8,0ZM962.0,776.0a9.4,9.4 0 1,0 18.8,0a9.4,9.4 0 1,0 -18.8,0ZM966.2,820.5a9.4,9.4 0 1,0 18.8,0a9.4,9.4 0 1,0 -18.8,0ZM970.3,834.9a9.4,9.4 0 1,0 18.8,0a9.4,9.4 0 1,0 -18.8,0ZM974.4,825.5a9.4,9.4 0 1,0 18.8,0a9.4,9.4 0 1,0 -18.8,0ZM978.5,815.7a9.4,9.4 0 1,0 18.8,0a9.4,9.4 0 1,0 -18.8,0ZM982.6,843.9a9.4,9.4 0 1,0 18.8,0a9.4,9.4 0 1,0 -18.8,0ZM986.7,848.1a9.4,9.4 0 1,0 18.8,0a9.4,9.4 0 1,0 -18.8,0ZM990.8,823.7a9.4,9.4 0 1,0 18.8,0a9.4,9.4 0 1,0 -18.8,0ZM994.8,810.7a9.4,9.4 0 1,0 18.8,0a9.4,9.4 0 1,0 -18.8,0ZM998.9,829.9a9.4,9.4 0 1,0 18.8,0a9.4,9.4 0 1,0 -18.8,0ZM1002.9,878.5a9.4,9.4 0 1,0 18.8,0a9.4,9.4 0 1,0 -18.8,0ZM1007.0,828.1a9.4,9.4 0 1,0 18.8,0a9.4,9.4 0 1,0 -18.8,0ZM1011.0,808.8a9.4,9.4 0 1,0 18.8,0a9.4,9.4 0 1,0 -18.8,0ZM1015.0,784.3a9.4,9.4 0 1,0 18.8,0a9.4,9.4 0 1,0 -18.8,0ZM1019.1,797.2a9.4,9.4 0 1,0 18.8,0a9.4,9.4 0 1,0 -18.8,0ZM1023.1,834.5a9.4,9.4 0 1,0 18.8,0a9.4,9.4 0 1,0 -18.8,0ZM1027.1,833.2a9.4,9.4 0 1,0 18.8,0a9.4,9.4 0 1,0 -18.8,0ZM1031.1,759.9a9.4,9.4 0 1,0 18.8,0a9.4,9.4 0 1,0 -18.8,0ZM1035.1,801.5a9.4,9.4 0 1,0 18.8,0a9.4,9.4 0 1,0 -18.8,0ZM1039.0,770.1a9.4,9.4 0 1,0 18.8,0a9.4,9.4 0 1,0 -18.8,0ZM1043.0,762.5a9.4,9.4 0 1,0 18.8,0a9.4,9.4 0 1,0 -18.8,0ZM1047.0,849.7a9.4,9.4 0 1,0 18.8,0a9.4,9.4 0 1,0 -18.8,0ZM1050.9,819.4a9.4,9.4 0 1,0 18.8,0a9.4,9.4 0 1,0 -18.8,0ZM1054.9,854.6a9.4,9.4 0 1,0 18.8,0a9.4,9.4 0 1,0 -18.8,0ZM1058.8,896.5a9.4,9.4 0 1,0 18.8,0a9.4,9.4 0 1,0 -18.8,0ZM1062.7,836.1a9.4,9.4 0 1,0 18.8,0a9.4,9.4 0 1,0 -18.8,0ZM1066.7,848.1a9.4,9.4 0 1,0 18.8,0a9.4,9.4 0 1,0 -18.8,0ZM1070.6,848.9a9.4,9.4 0 1,0 18.8,0a9.4,9.4 0 1,0 -18.8,0ZM1074.5,900.3a9.4,9.4 0 1,0 18.8,0a9.4,9.4 0 1,0 -18.8,0ZM1078.4,871.0a9.4,9.4 0 1,0 18.8,0a9.4,9.4 0 1,0 -18.8,0ZM1082.3,871.0a9.4,9.4 0 1,0 18.8,0a9.4,9.4 0 1,0 -18.8,0ZM1086.2,842.7a9.4,9.4 0 1,0 18.8,0a9.4,9.4 0 1,0 -18.8,0ZM1090.1,860.6a9.4,9.4 0 1,0 18.8,0a9.4,9.4 0 1,0 -18.8,0ZM1093.9,833.3a9.4,9.4 0 1,0 18.8,0a9.4,9.4 0 1,0 -18.8,0ZM1097.8,828.4a9.4,9.4 0 1,0 18.8,0a9.4,9.4 0 1,0 -18.8,0ZM1101.6,839.0a9.4,9.4 0 1,0 18.8,0a9.4,9.4 0 1,0 -18.8,0ZM1105.5,837.3a9.4,9.4 0 1,0 18.8,0a9.4,9.4 0 1,0 -18.8,0Z"/>
<line clip-path="url(#clipA)" x1="302.8" y1="600.6" x2="1101.1" y2="845.7" stroke="#000" stroke-width="7.5" stroke-dasharray="26,9.5"/>
<path clip-path="url(#clipA)" fill="#006400" d="M303.2,292.9 300.0,296.1 296.8,292.9 291.9,297.8 295.1,301.0 291.9,304.3 296.8,309.2 300.0,306.0 303.2,309.2 308.1,304.3 304.9,301.0 308.1,297.8ZM309.0,290.1 305.8,293.3 302.6,290.1 297.7,295.0 300.9,298.2 297.7,301.4 302.6,306.3 305.8,303.1 309.0,306.3 313.9,301.4 310.7,298.2 313.9,295.0ZM314.7,274.1 311.5,277.3 308.3,274.1 303.4,279.0 306.6,282.2 303.4,285.4 308.3,290.3 311.5,287.1 314.7,290.3 319.6,285.4 316.4,282.2 319.6,279.0ZM320.5,280.4 317.3,283.6 314.1,280.4 309.2,285.3 312.4,288.5 309.2,291.7 314.1,296.6 317.3,293.4 320.5,296.6 325.4,291.7 322.2,288.5 325.4,285.3ZM326.2,271.8 323.0,275.0 319.8,271.8 314.9,276.7 318.1,279.9 314.9,283.1 319.8,288.1 323.0,284.9 326.2,288.1 331.1,283.1 327.9,279.9 331.1,276.7ZM331.9,269.1 328.7,272.3 325.5,269.1 320.6,274.0 323.8,277.2 320.6,280.4 325.5,285.3 328.7,282.1 331.9,285.3 336.8,280.4 333.6,277.2 336.8,274.0ZM337.6,300.9 334.4,304.1 331.2,300.9 326.3,305.8 329.5,309.0 326.3,312.2 331.2,317.1 334.4,313.9 337.6,317.1 342.5,312.2 339.3,309.0 342.5,305.8ZM343.3,275.8 340.1,279.0 336.9,275.8 332.0,280.7 335.2,283.9 332.0,287.1 336.9,292.0 340.1,288.8 343.3,292.0 348.2,287.1 345.0,283.9 348.2,280.7ZM348.9,296.2 345.7,299.4 342.5,296.2 337.6,301.1 340.8,304.3 337.6,307.5 342.5,312.4 345.7,309.2 348.9,312.4 353.9,307.5 350.7,304.3 353.9,301.1ZM354.6,267.8 351.4,271.0 348.2,267.8 343.3,272.7 346.5,275.9 343.3,279.1 348.2,284.0 351.4,280.8 354.6,284.0 359.5,279.1 356.3,275.9 359.5,272.7ZM360.2,284.9 357.0,288.1 353.8,284.9 348.9,289.8 352.1,293.0 348.9,296.2 353.8,301.2 357.0,297.9 360.2,301.2 365.1,296.2 361.9,293.0 365.1,289.8ZM365.8,298.4 362.6,301.6 359.4,298.4 354.5,303.3 357.7,306.5 354.5,309.7 359.4,314.6 362.6,311.4 365.8,314.6 370.7,309.7 367.5,306.5 370.7,303.3ZM371.4,287.5 368.2,290.7 365.0,287.5 360.1,292.4 363.3,295.6 360.1,298.9 365.0,303.8 368.2,300.6 371.4,303.8 376.3,298.9 373.1,295.6 376.3,292.4ZM377.0,287.8 373.8,291.0 370.6,287.8 365.7,292.7 368.9,295.9 365.7,299.1 370.6,304.0 373.8,300.8 377.0,304.0 381.9,299.1 378.7,295.9 381.9,292.7ZM382.6,287.6 379.4,290.8 376.2,287.6 371.3,292.5 374.5,295.7 371.3,298.9 376.2,303.8 379.4,300.6 382.6,303.8 387.5,298.9 384.3,295.7 387.5,292.5ZM388.1,277.1 384.9,280.3 381.7,277.1 376.8,282.0 380.0,285.2 376.8,288.4 381.7,293.3 384.9,290.1 388.1,293.3 393.0,288.4 389.8,285.2 393.0,282.0ZM393.7,292.7 390.5,295.9 387.3,292.7 382.4,297.6 385.6,300.8 382.4,304.0 387.3,308.9 390.5,305.7 393.7,308.9 398.6,304.0 395.4,300.8 398.6,297.6ZM399.2,285.4 396.0,288.6 392.8,285.4 387.9,290.3 391.1,293.5 387.9,296.7 392.8,301.6 396.0,298.4 399.2,301.6 404.1,296.7 400.9,293.5 404.1,290.3ZM404.7,302.7 401.5,306.0 398.3,302.7 393.4,307.7 396.6,310.9 393.4,314.1 398.3,319.0 401.5,315.8 404.7,319.0 409.6,314.1 406.4,310.9 409.6,307.7ZM410.2,321.0 407.0,324.2 403.8,321.0 398.9,325.9 402.1,329.1 398.9,332.3 403.8,337.2 407.0,334.0 410.2,337.2 415.1,332.3 411.9,329.1 415.1,325.9ZM415.7,335.2 412.5,338.4 409.3,335.2 404.3,340.1 407.6,343.3 404.3,346.5 409.3,351.4 412.5,348.2 415.7,351.4 420.6,346.5 417.4,343.3 420.6,340.1ZM421.1,333.2 417.9,336.4 414.7,333.2 409.8,338.1 413.0,341.3 409.8,344.5 414.7,349.4 417.9,346.2 421.1,349.4 426.0,344.5 422.8,341.3 426.0,338.1ZM426.6,312.1 423.4,315.4 420.2,312.1 415.3,317.1 418.5,320.3 415.3,323.5 420.2,328.4 423.4,325.2 426.6,328.4 431.5,323.5 428.3,320.3 431.5,317.1ZM432.0,304.9 428.8,308.1 425.6,304.9 420.7,309.8 423.9,313.0 420.7,316.2 425.6,321.1 428.8,317.9 432.0,321.1 436.9,316.2 433.7,313.0 436.9,309.8ZM437.4,297.8 434.2,301.0 431.0,297.8 426.1,302.7 429.3,305.9 426.1,309.1 431.0,314.1 434.2,310.8 437.4,314.1 442.3,309.1 439.1,305.9 442.3,302.7ZM442.8,321.9 439.6,325.1 436.4,321.9 431.5,326.8 434.7,330.0 431.5,333.2 436.4,338.1 439.6,334.9 442.8,338.1 447.7,333.2 444.5,330.0 447.7,326.8ZM448.2,312.8 445.0,316.0 441.8,312.8 436.9,317.7 440.1,320.9 436.9,324.1 441.8,329.0 445.0,325.8 448.2,329.0 453.1,324.1 449.9,320.9 453.1,317.7ZM453.6,326.0 450.4,329.2 447.2,326.0 442.3,330.9 445.5,334.2 442.3,337.4 447.2,342.3 450.4,339.1 453.6,342.3 458.5,337.4 455.3,334.2 458.5,330.9ZM458.9,325.3 455.7,328.5 452.5,325.3 447.6,330.2 450.8,333.4 447.6,336.6 452.5,341.5 455.7,338.3 458.9,341.5 463.8,336.6 460.6,333.4 463.8,330.2ZM464.3,354.5 461.1,357.7 457.9,354.5 453.0,359.4 456.2,362.6 453.0,365.8 457.9,370.7 461.1,367.5 464.3,370.7 469.2,365.8 466.0,362.6 469.2,359.4ZM469.6,311.8 466.4,315.0 463.2,311.8 458.3,316.7 461.5,319.9 458.3,323.1 463.2,328.0 466.4,324.8 469.6,328.0 474.5,323.1 471.3,319.9 474.5,316.7ZM474.9,335.2 471.7,338.4 468.5,335.2 463.6,340.1 466.8,343.3 463.6,346.5 468.5,351.4 471.7,348.2 474.9,351.4 479.8,346.5 476.6,343.3 479.8,340.1ZM480.2,328.5 477.0,331.7 473.8,328.5 468.9,333.4 472.1,336.6 468.9,339.8 473.8,344.7 477.0,341.5 480.2,344.7 485.1,339.8 481.9,336.6 485.1,333.4ZM485.5,320.8 482.3,324.0 479.1,320.8 474.2,325.7 477.4,328.9 474.2,332.1 479.1,337.0 482.3,333.8 485.5,337.0 490.4,332.1 487.2,328.9 490.4,325.7ZM490.8,325.0 487.6,328.2 484.4,325.0 479.5,329.9 482.7,333.1 479.5,336.3 484.4,341.2 487.6,338.0 490.8,341.2 495.7,336.3 492.5,333.1 495.7,329.9ZM496.0,352.1 492.8,355.3 489.6,352.1 484.7,357.0 487.9,360.2 484.7,363.4 489.6,368.4 492.8,365.2 496.0,368.4 500.9,363.4 497.7,360.2 500.9,357.0ZM501.3,316.9 498.1,320.1 494.9,316.9 490.0,321.8 493.2,325.0 490.0,328.3 494.9,333.2 498.1,330.0 501.3,333.2 506.2,328.3 503.0,325.0 506.2,321.8ZM506.5,333.5 503.3,336.7 500.1,333.5 495.2,338.4 498.4,341.6 495.2,344.8 500.1,349.7 503.3,346.5 506.5,349.7 511.4,344.8 508.2,341.6 511.4,338.4ZM511.7,342.0 508.5,345.2 505.3,342.0 500.4,346.9 503.6,350.1 500.4,353.3 505.3,358.2 508.5,355.0 511.7,358.2 516.6,353.3 513.4,350.1 516.6,346.9ZM516.9,365.0 513.7,368.2 510.5,365.0 505.6,369.9 508.8,373.1 505.6,376.3 510.5,381.2 513.7,378.0 516.9,381.2 521.8,376.3 518.6,373.1 521.8,369.9ZM522.1,382.7 518.9,385.9 515.7,382.7 510.8,387.6 514.0,390.8 510.8,394.0 515.7,398.9 518.9,395.7 522.1,398.9 527.0,394.0 523.8,390.8 527.0,387.6ZM527.3,387.0 524.1,390.2 520.9,387.0 516.0,391.9 519.2,395.1 516.0,398.3 520.9,403.2 524.1,400.0 527.3,403.2 532.2,398.3 529.0,395.1 532.2,391.9ZM532.5,367.5 529.3,370.7 526.1,367.5 521.1,372.4 524.3,375.6 521.1,378.8 526.1,383.7 529.3,380.5 532.5,383.7 537.4,378.8 534.2,375.6 537.4,372.4ZM537.6,367.1 534.4,370.3 531.2,367.1 526.3,372.0 529.5,375.2 526.3,378.4 531.2,383.3 534.4,380.1 537.6,383.3 542.5,378.4 539.3,375.2 542.5,372.0ZM542.7,375.3 539.5,378.5 536.3,375.3 531.4,380.2 534.6,383.4 531.4,386.6 536.3,391.5 539.5,388.3 542.7,391.5 547.7,386.6 544.4,383.4 547.7,380.2ZM547.9,333.6 544.7,336.8 541.5,333.6 536.6,338.5 539.8,341.7 536.6,344.9 541.5,349.8 544.7,346.6 547.9,349.8 552.8,344.9 549.6,341.7 552.8,338.5ZM553.0,352.3 549.8,355.5 546.6,352.3 541.7,357.2 544.9,360.4 541.7,363.6 546.6,368.5 549.8,365.3 553.0,368.5 557.9,363.6 554.7,360.4 557.9,357.2ZM558.1,338.3 554.9,341.5 551.7,338.3 546.8,343.2 550.0,346.4 546.8,349.6 551.7,354.5 554.9,351.3 558.1,354.5 563.0,349.6 559.8,346.4 563.0,343.2ZM563.2,333.3 560.0,336.5 556.8,333.3 551.8,338.2 555.1,341.4 551.8,344.7 556.8,349.6 560.0,346.4 563.2,349.6 568.1,344.7 564.9,341.4 568.1,338.2ZM568.2,358.7 565.0,361.9 561.8,358.7 556.9,363.6 560.1,366.8 556.9,370.0 561.8,374.9 565.0,371.7 568.2,374.9 573.1,370.0 569.9,366.8 573.1,363.6ZM573.3,333.8 570.1,337.0 566.9,333.8 562.0,338.7 565.2,341.9 562.0,345.2 566.9,350.1 570.1,346.9 573.3,350.1 578.2,345.2 575.0,341.9 578.2,338.7ZM578.3,345.7 575.1,348.9 571.9,345.7 567.0,350.6 570.2,353.8 567.0,357.0 571.9,361.9 575.1,358.7 578.3,361.9 583.2,357.0 580.0,353.8 583.2,350.6ZM583.4,369.6 580.2,372.8 577.0,369.6 572.1,374.5 575.3,377.7 572.1,380.9 577.0,385.8 580.2,382.6 583.4,385.8 588.3,380.9 585.1,377.7 588.3,374.5ZM588.4,346.5 585.2,349.7 582.0,346.5 577.1,351.4 580.3,354.6 577.1,357.8 582.0,362.7 585.2,359.5 588.4,362.7 593.3,357.8 590.1,354.6 593.3,351.4ZM593.4,346.8 590.2,350.0 587.0,346.8 582.1,351.7 585.3,354.9 582.1,358.1 587.0,363.0 590.2,359.8 593.4,363.0 598.3,358.1 595.1,354.9 598.3,351.7ZM598.4,352.6 595.2,355.8 592.0,352.6 587.1,357.5 590.3,360.7 587.1,363.9 592.0,368.8 595.2,365.6 598.4,368.8 603.3,363.9 600.1,360.7 603.3,357.5ZM603.4,351.4 600.2,354.6 597.0,351.4 592.1,356.3 595.3,359.6 592.1,362.8 597.0,367.7 600.2,364.5 603.4,367.7 608.3,362.8 605.1,359.6 608.3,356.3ZM608.3,381.4 605.1,384.6 601.9,381.4 597.0,386.3 600.2,389.5 597.0,392.7 601.9,397.6 605.1,394.4 608.3,397.6 613.3,392.7 610.0,389.5 613.3,386.3ZM613.3,367.0 610.1,370.3 606.9,367.0 602.0,372.0 605.2,375.2 602.0,378.4 606.9,383.3 610.1,380.1 613.3,383.3 618.2,378.4 615.0,375.2 618.2,372.0ZM618.2,376.6 615.0,379.8 611.8,376.6 606.9,381.5 610.1,384.7 606.9,387.9 611.8,392.8 615.0,389.6 618.2,392.8 623.2,387.9 620.0,384.7 623.2,381.5ZM623.2,368.9 620.0,372.1 616.8,368.9 611.9,373.8 615.1,377.0 611.9,380.2 616.8,385.1 620.0,381.9 623.2,385.1 628.1,380.2 624.9,377.0 628.1,373.8ZM628.1,367.3 624.9,370.5 621.7,367.3 616.8,372.2 620.0,375.4 616.8,378.6 621.7,383.5 624.9,380.3 628.1,383.5 633.0,378.6 629.8,375.4 633.0,372.2ZM633.0,354.7 629.8,357.9 626.6,354.7 621.7,359.6 624.9,362.8 621.7,366.0 626.6,371.0 629.8,367.7 633.0,371.0 637.9,366.0 634.7,362.8 637.9,359.6ZM637.9,365.6 634.7,368.8 631.5,365.6 626.6,370.5 629.8,373.7 626.6,376.9 631.5,381.8 634.7,378.6 637.9,381.8 642.8,376.9 639.6,373.7 642.8,370.5ZM642.8,392.9 639.6,396.1 636.4,392.9 631.5,397.8 634.7,401.0 631.5,404.2 636.4,409.2 639.6,405.9 642.8,409.2 647.7,404.2 644.5,401.0 647.7,397.8ZM647.7,368.2 644.5,371.4 641.3,368.2 636.4,373.1 639.6,376.3 636.4,379.5 641.3,384.4 644.5,381.2 647.7,384.4 652.6,379.5 649.4,376.3 652.6,373.1ZM652.5,356.8 649.3,360.0 646.1,356.8 641.2,361.7 644.4,364.9 641.2,368.1 646.1,373.0 649.3,369.8 652.5,373.0 657.4,368.1 654.2,364.9 657.4,361.7ZM657.4,377.3 654.2,380.5 651.0,377.3 646.1,382.2 649.3,385.4 646.1,388.6 651.0,393.5 654.2,390.3 657.4,393.5 662.3,388.6 659.1,385.4 662.3,382.2ZM662.2,390.9 659.0,394.1 655.8,390.9 650.9,395.8 654.1,399.0 650.9,402.2 655.8,407.1 659.0,403.9 662.2,407.1 667.1,402.2 663.9,399.0 667.1,395.8ZM667.0,402.3 663.8,405.5 660.6,402.3 655.7,407.2 658.9,410.4 655.7,413.6 660.6,418.5 663.8,415.3 667.0,418.5 671.9,413.6 668.7,410.4 671.9,407.2ZM671.9,394.2 668.7,397.4 665.5,394.2 660.5,399.1 663.7,402.3 660.5,405.5 665.5,410.4 668.7,407.2 671.9,410.4 676.8,405.5 673.6,402.3 676.8,399.1ZM676.7,412.1 673.5,415.3 670.3,412.1 665.3,417.0 668.5,420.2 665.3,423.4 670.3,428.3 673.5,425.1 676.7,428.3 681.6,423.4 678.4,420.2 681.6,417.0ZM681.5,393.7 678.2,396.9 675.0,393.7 670.1,398.6 673.3,401.8 670.1,405.0 675.0,409.9 678.2,406.7 681.5,409.9 686.4,405.0 683.2,401.8 686.4,398.6ZM686.2,417.7 683.0,420.9 679.8,417.7 674.9,422.6 678.1,425.8 674.9,429.0 679.8,433.9 683.0,430.7 686.2,433.9 691.1,429.0 687.9,425.8 691.1,422.6ZM691.0,387.8 687.8,391.0 684.6,387.8 679.7,392.7 682.9,395.9 679.7,399.1 684.6,404.0 687.8,400.8 691.0,404.0 695.9,399.1 692.7,395.9 695.9,392.7ZM695.8,387.7 692.6,390.9 689.3,387.7 684.4,392.6 687.6,395.8 684.4,399.0 689.3,403.9 692.6,400.7 695.8,403.9 700.7,399.0 697.5,395.8 700.7,392.6ZM700.5,402.2 697.3,405.4 694.1,402.2 689.2,407.2 692.4,410.4 689.2,413.6 694.1,418.5 697.3,415.3 700.5,418.5 705.4,413.6 702.2,410.4 705.4,407.2ZM705.2,416.2 702.0,419.4 698.8,416.2 693.9,421.1 697.1,424.3 693.9,427.5 698.8,432.5 702.0,429.2 705.2,432.5 710.1,427.5 706.9,424.3 710.1,421.1ZM710.0,397.9 706.8,401.1 703.6,397.9 698.6,402.8 701.8,406.0 698.6,409.2 703.6,414.1 706.8,410.9 710.0,414.1 714.9,409.2 711.7,406.0 714.9,402.8ZM714.7,414.2 711.5,417.4 708.3,414.2 703.4,419.1 706.6,422.3 703.4,425.5 708.3,430.4 711.5,427.2 714.7,430.4 719.6,425.5 716.4,422.3 719.6,419.1ZM719.4,413.4 716.2,416.6 713.0,413.4 708.1,418.3 711.3,421.5 708.1,424.7 713.0,429.6 716.2,426.4 719.4,429.6 724.3,424.7 721.1,421.5 724.3,418.3ZM724.1,387.3 720.9,390.5 717.7,387.3 712.7,392.2 716.0,395.4 712.7,398.6 717.7,403.5 720.9,400.3 724.1,403.5 729.0,398.6 725.8,395.4 729.0,392.2ZM728.7,412.1 725.5,415.3 722.3,412.1 717.4,417.0 720.6,420.2 717.4,423.4 722.3,428.4 725.5,425.1 728.7,428.4 733.6,423.4 730.4,420.2 733.6,417.0ZM733.4,421.6 730.2,424.8 727.0,421.6 722.1,426.5 725.3,429.7 722.1,432.9 727.0,437.8 730.2,434.6 733.4,437.8 738.3,432.9 735.1,429.7 738.3,426.5ZM738.1,398.0 734.9,401.2 731.7,398.0 726.8,402.9 730.0,406.1 726.8,409.3 731.7,414.2 734.9,411.0 738.1,414.2 743.0,409.3 739.8,406.1 743.0,402.9ZM742.7,386.1 739.5,389.3 736.3,386.1 731.4,391.1 734.6,394.3 731.4,397.5 736.3,402.4 739.5,399.2 742.7,402.4 747.6,397.5 744.4,394.3 747.6,391.1ZM747.3,393.2 744.1,396.4 740.9,393.2 736.0,398.1 739.2,401.3 736.0,404.5 740.9,409.4 744.1,406.2 747.3,409.4 752.3,404.5 749.1,401.3 752.3,398.1ZM752.0,406.5 748.8,409.7 745.6,406.5 740.7,411.4 743.9,414.6 740.7,417.8 745.6,422.7 748.8,419.5 752.0,422.7 756.9,417.8 753.7,414.6 756.9,411.4ZM756.6,389.5 753.4,392.7 750.2,389.5 745.3,394.4 748.5,397.6 745.3,400.8 750.2,405.7 753.4,402.5 756.6,405.7 761.5,400.8 758.3,397.6 761.5,394.4ZM761.2,429.9 758.0,433.1 754.8,429.9 749.9,434.8 753.1,438.0 749.9,441.2 754.8,446.1 758.0,442.9 761.2,446.1 766.1,441.2 762.9,438.0 766.1,434.8ZM765.8,393.8 762.6,397.0 759.4,393.8 754.5,398.7 757.7,402.0 754.5,405.2 759.4,410.1 762.6,406.9 765.8,410.1 770.7,405.2 767.5,402.0 770.7,398.7ZM770.4,400.9 767.2,404.1 764.0,400.9 759.0,405.8 762.3,409.0 759.0,412.2 764.0,417.2 767.2,413.9 770.4,417.2 775.3,412.2 772.1,409.0 775.3,405.8ZM774.9,436.7 771.7,439.9 768.5,436.7 763.6,441.6 766.8,444.8 763.6,448.0 768.5,452.9 771.7,449.7 774.9,452.9 779.8,448.0 776.6,444.8 779.8,441.6ZM779.5,424.0 776.3,427.2 773.1,424.0 768.2,428.9 771.4,432.1 768.2,435.3 773.1,440.2 776.3,437.0 779.5,440.2 784.4,435.3 781.2,432.1 784.4,428.9ZM784.0,446.6 780.8,449.9 777.6,446.6 772.7,451.6 775.9,454.8 772.7,458.0 777.6,462.9 780.8,459.7 784.0,462.9 789.0,458.0 785.8,454.8 789.0,451.6ZM788.6,446.7 785.4,449.9 782.2,446.7 777.3,451.6 780.5,454.8 777.3,458.0 782.2,462.9 785.4,459.7 788.6,462.9 793.5,458.0 790.3,454.8 793.5,451.6ZM793.1,427.8 789.9,431.0 786.7,427.8 781.8,432.7 785.0,435.9 781.8,439.1 786.7,444.0 789.9,440.8 793.1,444.0 798.0,439.1 794.8,435.9 798.0,432.7ZM797.6,459.4 794.4,462.6 791.2,459.4 786.3,464.3 789.5,467.5 786.3,470.7 791.2,475.6 794.4,472.4 797.6,475.6 802.5,470.7 799.3,467.5 802.5,464.3ZM802.1,437.1 798.9,440.3 795.7,437.1 790.8,442.1 794.0,445.3 790.8,448.5 795.7,453.4 798.9,450.2 802.1,453.4 807.1,448.5 803.9,445.3 807.1,442.1ZM806.6,435.9 803.4,439.1 800.2,435.9 795.3,440.8 798.5,444.0 795.3,447.2 800.2,452.1 803.4,448.9 806.6,452.1 811.6,447.2 808.4,444.0 811.6,440.8ZM811.1,442.0 807.9,445.2 804.7,442.0 799.8,446.9 803.0,450.1 799.8,453.3 804.7,458.2 807.9,455.0 811.1,458.2 816.0,453.3 812.8,450.1 816.0,446.9ZM815.6,385.5 812.4,388.7 809.2,385.5 804.3,390.4 807.5,393.6 804.3,396.8 809.2,401.7 812.4,398.5 815.6,401.7 820.5,396.8 817.3,393.6 820.5,390.4ZM820.1,424.8 816.9,428.0 813.7,424.8 808.8,429.7 812.0,432.9 808.8,436.1 813.7,441.0 816.9,437.8 820.1,441.0 825.0,436.1 821.8,432.9 825.0,429.7ZM824.5,447.1 821.3,450.3 818.1,447.1 813.2,452.0 816.4,455.3 813.2,458.5 818.1,463.4 821.3,460.2 824.5,463.4 829.5,458.5 826.2,455.3 829.5,452.0ZM829.0,431.1 825.8,434.3 822.6,431.1 817.7,436.0 820.9,439.2 817.7,442.4 822.6,447.3 825.8,444.1 829.0,447.3 833.9,442.4 830.7,439.2 833.9,436.0ZM833.4,424.2 830.2,427.4 827.0,424.2 822.1,429.1 825.3,432.3 822.1,435.5 827.0,440.4 830.2,437.2 833.4,440.4 838.3,435.5 835.1,432.3 838.3,429.1ZM837.9,456.2 834.7,459.4 831.5,456.2 826.5,461.1 829.8,464.3 826.5,467.5 831.5,472.4 834.7,469.2 837.9,472.4 842.8,467.5 839.6,464.3 842.8,461.1ZM842.3,465.4 839.1,468.6 835.9,465.4 831.0,470.3 834.2,473.5 831.0,476.7 835.9,481.6 839.1,478.4 842.3,481.6 847.2,476.7 844.0,473.5 847.2,470.3ZM846.7,493.5 843.5,496.7 840.3,493.5 835.4,498.4 838.6,501.6 835.4,504.9 840.3,509.8 843.5,506.6 846.7,509.8 851.6,504.9 848.4,501.6 851.6,498.4ZM851.1,450.8 847.9,454.0 844.7,450.8 839.8,455.7 843.0,458.9 839.8,462.1 844.7,467.0 847.9,463.8 851.1,467.0 856.0,462.1 852.8,458.9 856.0,455.7ZM855.5,442.0 852.3,445.3 849.1,442.0 844.2,447.0 847.4,450.2 844.2,453.4 849.1,458.3 852.3,455.1 855.5,458.3 860.4,453.4 857.2,450.2 860.4,447.0ZM859.9,450.3 856.7,453.5 853.5,450.3 848.5,455.2 851.8,458.4 848.5,461.6 853.5,466.5 856.7,463.3 859.9,466.5 864.8,461.6 861.6,458.4 864.8,455.2ZM864.2,425.4 861.0,428.6 857.8,425.4 852.9,430.3 856.1,433.5 852.9,436.7 857.8,441.6 861.0,438.4 864.2,441.6 869.1,436.7 865.9,433.5 869.1,430.3ZM868.6,433.2 865.4,436.4 862.2,433.2 857.3,438.1 860.5,441.3 857.3,444.5 862.2,449.4 865.4,446.2 868.6,449.4 873.5,444.5 870.3,441.3 873.5,438.1ZM872.9,440.7 869.7,443.9 866.5,440.7 861.6,445.6 864.8,448.8 861.6,452.0 866.5,456.9 869.7,453.7 872.9,456.9 877.9,452.0 874.7,448.8 877.9,445.6ZM877.3,449.1 874.1,452.3 870.9,449.1 866.0,454.0 869.2,457.2 866.0,460.4 870.9,465.3 874.1,462.1 877.3,465.3 882.2,460.4 879.0,457.2 882.2,454.0ZM881.6,464.1 878.4,467.3 875.2,464.1 870.3,469.0 873.5,472.2 870.3,475.4 875.2,480.3 878.4,477.1 881.6,480.3 886.5,475.4 883.3,472.2 886.5,469.0ZM885.9,452.3 882.7,455.5 879.5,452.3 874.6,457.2 877.8,460.4 874.6,463.6 879.5,468.6 882.7,465.3 885.9,468.6 890.9,463.6 887.7,460.4 890.9,457.2ZM890.3,448.1 887.1,451.3 883.9,448.1 878.9,453.0 882.2,456.2 878.9,459.4 883.9,464.3 887.1,461.1 890.3,464.3 895.2,459.4 892.0,456.2 895.2,453.0ZM894.6,461.1 891.4,464.3 888.2,461.1 883.3,466.0 886.5,469.2 883.3,472.4 888.2,477.3 891.4,474.1 894.6,477.3 899.5,472.4 896.3,469.2 899.5,466.0ZM898.9,467.9 895.7,471.1 892.5,467.9 887.5,472.8 890.8,476.0 887.5,479.2 892.5,484.1 895.7,480.9 898.9,484.1 903.8,479.2 900.6,476.0 903.8,472.8ZM903.2,470.9 899.9,474.1 896.7,470.9 891.8,475.9 895.0,479.1 891.8,482.3 896.7,487.2 899.9,484.0 903.2,487.2 908.1,482.3 904.9,479.1 908.1,475.9ZM907.4,457.0 904.2,460.2 901.0,457.0 896.1,461.9 899.3,465.1 896.1,468.3 901.0,473.2 904.2,470.0 907.4,473.2 912.3,468.3 909.1,465.1 912.3,461.9ZM911.7,493.5 908.5,496.7 905.3,493.5 900.4,498.4 903.6,501.6 900.4,504.8 905.3,509.7 908.5,506.5 911.7,509.7 916.6,504.8 913.4,501.6 916.6,498.4ZM916.0,472.0 912.8,475.2 909.5,472.0 904.6,476.9 907.8,480.1 904.6,483.3 909.5,488.2 912.8,485.0 916.0,488.2 920.9,483.3 917.7,480.1 920.9,476.9ZM920.2,467.0 917.0,470.2 913.8,467.0 908.9,472.0 912.1,475.2 908.9,478.4 913.8,483.3 917.0,480.1 920.2,483.3 925.1,478.4 921.9,475.2 925.1,472.0ZM924.4,451.9 921.2,455.1 918.0,451.9 913.1,456.8 916.3,460.0 913.1,463.2 918.0,468.2 921.2,465.0 924.4,468.2 929.4,463.2 926.2,460.0 929.4,456.8ZM928.7,452.0 925.5,455.2 922.3,452.0 917.4,456.9 920.6,460.2 917.4,463.4 922.3,468.3 925.5,465.1 928.7,468.3 933.6,463.4 930.4,460.2 933.6,456.9ZM932.9,463.5 929.7,466.7 926.5,463.5 921.6,468.4 924.8,471.6 921.6,474.8 926.5,479.7 929.7,476.5 932.9,479.7 937.8,474.8 934.6,471.6 937.8,468.4ZM937.1,472.7 933.9,475.9 930.7,472.7 925.8,477.6 929.0,480.8 925.8,484.0 930.7,488.9 933.9,485.7 937.1,488.9 942.0,484.0 938.8,480.8 942.0,477.6ZM941.3,485.2 938.1,488.4 934.9,485.2 930.0,490.1 933.2,493.3 930.0,496.5 934.9,501.4 938.1,498.2 941.3,501.4 946.2,496.5 943.0,493.3 946.2,490.1ZM945.5,449.6 942.3,452.8 939.1,449.6 934.2,454.5 937.4,457.7 934.2,460.9 939.1,465.8 942.3,462.6 945.5,465.8 950.4,460.9 947.2,457.7 950.4,454.5ZM949.7,464.6 946.5,467.8 943.3,464.6 938.4,469.5 941.6,472.8 938.4,476.0 943.3,480.9 946.5,477.7 949.7,480.9 954.6,476.0 951.4,472.8 954.6,469.5ZM953.9,479.1 950.7,482.3 947.5,479.1 942.6,484.0 945.8,487.2 942.6,490.4 947.5,495.3 950.7,492.1 953.9,495.3 958.8,490.4 955.6,487.2 958.8,484.0ZM958.1,499.7 954.9,502.9 951.6,499.7 946.7,504.6 949.9,507.8 946.7,511.0 951.6,515.9 954.9,512.7 958.1,515.9 963.0,511.0 959.8,507.8 963.0,504.6ZM962.2,510.0 959.0,513.2 955.8,510.0 950.9,514.9 954.1,518.1 950.9,521.4 955.8,526.3 959.0,523.1 962.2,526.3 967.1,521.4 963.9,518.1 967.1,514.9ZM966.4,474.6 963.2,477.8 960.0,474.6 955.1,479.5 958.3,482.7 955.1,485.9 960.0,490.8 963.2,487.6 966.4,490.8 971.3,485.9 968.1,482.7 971.3,479.5ZM970.5,497.8 967.3,501.1 964.1,497.8 959.2,502.8 962.4,506.0 959.2,509.2 964.1,514.1 967.3,510.9 970.5,514.1 975.4,509.2 972.2,506.0 975.4,502.8ZM974.6,487.5 971.4,490.7 968.2,487.5 963.3,492.4 966.5,495.6 963.3,498.8 968.2,503.7 971.4,500.5 974.6,503.7 979.6,498.8 976.4,495.6 979.6,492.4ZM978.8,464.2 975.6,467.4 972.4,464.2 967.5,469.1 970.7,472.4 967.5,475.6 972.4,480.5 975.6,477.3 978.8,480.5 983.7,475.6 980.5,472.4 983.7,469.1ZM982.9,515.9 979.7,519.1 976.5,515.9 971.6,520.8 974.8,524.1 971.6,527.3 976.5,532.2 979.7,529.0 982.9,532.2 987.8,527.3 984.6,524.1 987.8,520.8ZM987.0,504.0 983.8,507.2 980.6,504.0 975.7,508.9 978.9,512.2 975.7,515.4 980.6,520.3 983.8,517.1 987.0,520.3 991.9,515.4 988.7,512.2 991.9,508.9ZM991.1,488.8 987.9,492.0 984.7,488.8 979.8,493.7 983.0,496.9 979.8,500.1 984.7,505.0 987.9,501.8 991.1,505.0 996.0,500.1 992.8,496.9 996.0,493.7ZM995.2,485.6 992.0,488.8 988.8,485.6 983.9,490.5 987.1,493.7 983.9,496.9 988.8,501.8 992.0,498.6 995.2,501.8 1000.1,496.9 996.9,493.7 1000.1,490.5ZM999.3,510.4 996.1,513.6 992.9,510.4 988.0,515.3 991.2,518.5 988.0,521.7 992.9,526.7 996.1,523.5 999.3,526.7 1004.2,521.7 1001.0,518.5 1004.2,515.3ZM1003.4,500.6 1000.2,503.8 997.0,500.6 992.0,505.5 995.3,508.7 992.0,511.9 997.0,516.8 1000.2,513.6 1003.4,516.8 1008.3,511.9 1005.1,508.7 1008.3,505.5ZM1007.4,512.1 1004.2,515.3 1001.0,512.1 996.1,517.0 999.3,520.2 996.1,523.4 1001.0,528.3 1004.2,525.1 1007.4,528.3 1012.3,523.4 1009.1,520.2 1012.3,517.0ZM1011.5,513.0 1008.3,516.2 1005.1,513.0 1000.2,517.9 1003.4,521.1 1000.2,524.3 1005.1,529.2 1008.3,526.0 1011.5,529.2 1016.4,524.3 1013.2,521.1 1016.4,517.9ZM1015.5,498.2 1012.3,501.4 1009.1,498.2 1004.2,503.1 1007.4,506.3 1004.2,509.5 1009.1,514.4 1012.3,511.2 1015.5,514.4 1020.4,509.5 1017.2,506.3 1020.4,503.1ZM1019.6,478.5 1016.4,481.7 1013.2,478.5 1008.3,483.4 1011.5,486.6 1008.3,489.8 1013.2,494.7 1016.4,491.5 1019.6,494.7 1024.5,489.8 1021.3,486.6 1024.5,483.4ZM1023.6,490.1 1020.4,493.3 1017.2,490.1 1012.3,495.0 1015.5,498.2 1012.3,501.4 1017.2,506.3 1020.4,503.1 1023.6,506.3 1028.5,501.4 1025.3,498.2 1028.5,495.0ZM1027.6,500.5 1024.4,503.7 1021.2,500.5 1016.3,505.4 1019.5,508.6 1016.3,511.8 1021.2,516.7 1024.4,513.5 1027.6,516.7 1032.6,511.8 1029.4,508.6 1032.6,505.4ZM1031.7,485.2 1028.5,488.4 1025.3,485.2 1020.4,490.1 1023.6,493.3 1020.4,496.5 1025.3,501.4 1028.5,498.2 1031.7,501.4 1036.6,496.5 1033.4,493.3 1036.6,490.1ZM1035.7,522.7 1032.5,525.9 1029.3,522.7 1024.4,527.6 1027.6,530.8 1024.4,534.0 1029.3,538.9 1032.5,535.7 1035.7,538.9 1040.6,534.0 1037.4,530.8 1040.6,527.6ZM1039.7,508.6 1036.5,511.8 1033.3,508.6 1028.4,513.5 1031.6,516.7 1028.4,519.9 1033.3,524.9 1036.5,521.6 1039.7,524.9 1044.6,519.9 1041.4,516.7 1044.6,513.5ZM1043.7,520.4 1040.5,523.6 1037.3,520.4 1032.4,525.3 1035.6,528.5 1032.4,531.7 1037.3,536.6 1040.5,533.4 1043.7,536.6 1048.6,531.7 1045.4,528.5 1048.6,525.3ZM1047.7,539.3 1044.5,542.5 1041.3,539.3 1036.3,544.2 1039.6,547.4 1036.3,550.6 1041.3,555.5 1044.5,552.3 1047.7,555.5 1052.6,550.6 1049.4,547.4 1052.6,544.2ZM1051.6,534.5 1048.4,537.7 1045.2,534.5 1040.3,539.4 1043.5,542.6 1040.3,545.8 1045.2,550.7 1048.4,547.5 1051.6,550.7 1056.5,545.8 1053.3,542.6 1056.5,539.4ZM1055.6,501.4 1052.4,504.6 1049.2,501.4 1044.3,506.3 1047.5,509.5 1044.3,512.7 1049.2,517.6 1052.4,514.4 1055.6,517.6 1060.5,512.7 1057.3,509.5 1060.5,506.3ZM1059.6,513.2 1056.4,516.4 1053.2,513.2 1048.3,518.1 1051.5,521.3 1048.3,524.5 1053.2,529.5 1056.4,526.2 1059.6,529.5 1064.5,524.5 1061.3,521.3 1064.5,518.1ZM1063.5,544.6 1060.3,547.8 1057.1,544.6 1052.2,549.5 1055.4,552.7 1052.2,555.9 1057.1,560.8 1060.3,557.6 1063.5,560.8 1068.4,555.9 1065.2,552.7 1068.4,549.5ZM1067.5,490.9 1064.3,494.1 1061.1,490.9 1056.2,495.8 1059.4,499.0 1056.2,502.2 1061.1,507.1 1064.3,503.9 1067.5,507.1 1072.4,502.2 1069.2,499.0 1072.4,495.8ZM1071.4,501.5 1068.2,504.7 1065.0,501.5 1060.1,506.4 1063.3,509.6 1060.1,512.8 1065.0,517.7 1068.2,514.5 1071.4,517.7 1076.3,512.8 1073.1,509.6 1076.3,506.4ZM1075.3,519.5 1072.1,522.7 1068.9,519.5 1064.0,524.4 1067.2,527.6 1064.0,530.8 1068.9,535.7 1072.1,532.5 1075.3,535.7 1080.3,530.8 1077.1,527.6 1080.3,524.4ZM1079.3,518.3 1076.1,521.5 1072.9,518.3 1068.0,523.2 1071.2,526.4 1068.0,529.6 1072.9,534.5 1076.1,531.3 1079.3,534.5 1084.2,529.6 1081.0,526.4 1084.2,523.2ZM1083.2,518.0 1080.0,521.2 1076.8,518.0 1071.9,522.9 1075.1,526.1 1071.9,529.3 1076.8,534.2 1080.0,531.0 1083.2,534.2 1088.1,529.3 1084.9,526.1 1088.1,522.9ZM1087.1,542.7 1083.9,546.0 1080.7,542.7 1075.8,547.7 1079.0,550.9 1075.8,554.1 1080.7,559.0 1083.9,555.8 1087.1,559.0 1092.0,554.1 1088.8,550.9 1092.0,547.7ZM1091.0,490.7 1087.8,493.9 1084.6,490.7 1079.7,495.6 1082.9,498.8 1079.7,502.0 1084.6,506.9 1087.8,503.7 1091.0,506.9 1095.9,502.0 1092.7,498.8 1095.9,495.6ZM1094.9,545.2 1091.7,548.4 1088.5,545.2 1083.6,550.1 1086.8,553.3 1083.6,556.5 1088.5,561.4 1091.7,558.2 1094.9,561.4 1099.8,556.5 1096.6,553.3 1099.8,550.1ZM1098.8,541.7 1095.6,544.9 1092.4,541.7 1087.5,546.6 1090.7,549.8 1087.5,553.0 1092.4,557.9 1095.6,554.7 1098.8,557.9 1103.7,553.0 1100.5,549.8 1103.7,546.6ZM1102.7,547.3 1099.5,550.5 1096.3,547.3 1091.3,552.2 1094.5,555.4 1091.3,558.6 1096.3,563.5 1099.5,560.3 1102.7,563.5 1107.6,558.6 1104.4,555.4 1107.6,552.2ZM1106.5,557.8 1103.3,561.0 1100.1,557.8 1095.2,562.7 1098.4,565.9 1095.2,569.1 1100.1,574.0 1103.3,570.8 1106.5,574.0 1111.4,569.1 1108.2,565.9 1111.4,562.7ZM1110.4,559.9 1107.2,563.1 1104.0,559.9 1099.1,564.8 1102.3,568.0 1099.1,571.2 1104.0,576.1 1107.2,572.9 1110.4,576.1 1115.3,571.2 1112.1,568.0 1115.3,564.8ZM1114.2,535.9 1111.0,539.1 1107.8,535.9 1102.9,540.8 1106.1,544.0 1102.9,547.2 1107.8,552.1 1111.0,548.9 1114.2,552.1 1119.2,547.2 1116.0,544.0 1119.2,540.8ZM1118.1,545.0 1114.9,548.2 1111.7,545.0 1106.8,549.9 1110.0,553.1 1106.8,556.3 1111.7,561.2 1114.9,558.0 1118.1,561.2 1123.0,556.3 1119.8,553.1 1123.0,549.9Z"/>
<line clip-path="url(#clipA)" x1="302.8" y1="277.7" x2="1101.1" y2="535.9" stroke="#000" stroke-width="7.5" stroke-dasharray="26,9.5"/>
<path clip-path="url(#clipA)" fill="#006400" d="M290.6,565.6a9.4,9.4 0 1,0 18.8,0a9.4,9.4 0 1,0 -18.8,0ZM296.4,539.6a9.4,9.4 0 1,0 18.8,0a9.4,9.4 0 1,0 -18.8,0ZM302.1,540.0a9.4,9.4 0 1,0 18.8,0a9.4,9.4 0 1,0 -18.8,0ZM307.9,549.5a9.4,9.4 0 1,0 18.8,0a9.4,9.4 0 1,0 -18.8,0ZM313.6,530.5a9.4,9.4 0 1,0 18.8,0a9.4,9.4 0 1,0 -18.8,0ZM319.3,574.3a9.4,9.4 0 1,0 18.8,0a9.4,9.4 0 1,0 -18.8,0ZM325.0,560.3a9.4,9.4 0 1,0 18.8,0a9.4,9.4 0 1,0 -18.8,0ZM330.7,580.4a9.4,9.4 0 1,0 18.8,0a9.4,9.4 0 1,0 -18.8,0ZM336.3,555.5a9.4,9.4 0 1,0 18.8,0a9.4,9.4 0 1,0 -18.8,0ZM342.0,533.4a9.4,9.4 0 1,0 18.8,0a9.4,9.4 0 1,0 -18.8,0ZM347.6,554.5a9.4,9.4 0 1,0 18.8,0a9.4,9.4 0 1,0 -18.8,0ZM353.2,544.7a9.4,9.4 0 1,0 18.8,0a9.4,9.4 0 1,0 -18.8,0ZM358.8,596.5a9.4,9.4 0 1,0 18.8,0a9.4,9.4 0 1,0 -18.8,0ZM364.4,562.5a9.4,9.4 0 1,0 18.8,0a9.4,9.4 0 1,0 -18.8,0ZM370.0,580.7a9.4,9.4 0 1,0 18.8,0a9.4,9.4 0 1,0 -18.8,0ZM375.5,532.6a9.4,9.4 0 1,0 18.8,0a9.4,9.4 0 1,0 -18.8,0ZM381.1,557.1a9.4,9.4 0 1,0 18.8,0a9.4,9.4 0 1,0 -18.8,0ZM386.6,561.9a9.4,9.4 0 1,0 18.8,0a9.4,9.4 0 1,0 -18.8,0ZM392.1,643.4a9.4,9.4 0 1,0 18.8,0a9.4,9.4 0 1,0 -18.8,0ZM397.6,572.3a9.4,9.4 0 1,0 18.8,0a9.4,9.4 0 1,0 -18.8,0ZM403.1,574.3a9.4,9.4 0 1,0 18.8,0a9.4,9.4 0 1,0 -18.8,0ZM408.5,598.3a9.4,9.4 0 1,0 18.8,0a9.4,9.4 0 1,0 -18.8,0ZM414.0,603.5a9.4,9.4 0 1,0 18.8,0a9.4,9.4 0 1,0 -18.8,0ZM419.4,593.5a9.4,9.4 0 1,0 18.8,0a9.4,9.4 0 1,0 -18.8,0ZM424.8,597.4a9.4,9.4 0 1,0 18.8,0a9.4,9.4 0 1,0 -18.8,0ZM430.2,597.1a9.4,9.4 0 1,0 18.8,0a9.4,9.4 0 1,0 -18.8,0ZM435.6,598.1a9.4,9.4 0 1,0 18.8,0a9.4,9.4 0 1,0 -18.8,0ZM441.0,604.6a9.4,9.4 0 1,0 18.8,0a9.4,9.4 0 1,0 -18.8,0ZM446.3,576.2a9.4,9.4 0 1,0 18.8,0a9.4,9.4 0 1,0 -18.8,0ZM451.7,625.4a9.4,9.4 0 1,0 18.8,0a9.4,9.4 0 1,0 -18.8,0ZM457.0,579.3a9.4,9.4 0 1,0 18.8,0a9.4,9.4 0 1,0 -18.8,0ZM462.3,610.7a9.4,9.4 0 1,0 18.8,0a9.4,9.4 0 1,0 -18.8,0ZM467.6,603.7a9.4,9.4 0 1,0 18.8,0a9.4,9.4 0 1,0 -18.8,0ZM472.9,619.3a9.4,9.4 0 1,0 18.8,0a9.4,9.4 0 1,0 -18.8,0ZM478.2,598.1a9.4,9.4 0 1,0 18.8,0a9.4,9.4 0 1,0 -18.8,0ZM483.4,600.7a9.4,9.4 0 1,0 18.8,0a9.4,9.4 0 1,0 -18.8,0ZM488.7,592.5a9.4,9.4 0 1,0 18.8,0a9.4,9.4 0 1,0 -18.8,0ZM493.9,606.7a9.4,9.4 0 1,0 18.8,0a9.4,9.4 0 1,0 -18.8,0ZM499.1,593.3a9.4,9.4 0 1,0 18.8,0a9.4,9.4 0 1,0 -18.8,0ZM504.3,560.2a9.4,9.4 0 1,0 18.8,0a9.4,9.4 0 1,0 -18.8,0ZM509.5,593.5a9.4,9.4 0 1,0 18.8,0a9.4,9.4 0 1,0 -18.8,0ZM514.7,616.5a9.4,9.4 0 1,0 18.8,0a9.4,9.4 0 1,0 -18.8,0ZM519.9,587.1a9.4,9.4 0 1,0 18.8,0a9.4,9.4 0 1,0 -18.8,0ZM525.0,613.9a9.4,9.4 0 1,0 18.8,0a9.4,9.4 0 1,0 -18.8,0ZM530.1,595.8a9.4,9.4 0 1,0 18.8,0a9.4,9.4 0 1,0 -18.8,0ZM535.3,601.8a9.4,9.4 0 1,0 18.8,0a9.4,9.4 0 1,0 -18.8,0ZM540.4,626.1a9.4,9.4 0 1,0 18.8,0a9.4,9.4 0 1,0 -18.8,0ZM545.5,654.8a9.4,9.4 0 1,0 18.8,0a9.4,9.4 0 1,0 -18.8,0ZM550.6,623.0a9.4,9.4 0 1,0 18.8,0a9.4,9.4 0 1,0 -18.8,0ZM555.6,600.8a9.4,9.4 0 1,0 18.8,0a9.4,9.4 0 1,0 -18.8,0ZM560.7,617.4a9.4,9.4 0 1,0 18.8,0a9.4,9.4 0 1,0 -18.8,0ZM565.7,604.0a9.4,9.4 0 1,0 18.8,0a9.4,9.4 0 1,0 -18.8,0ZM570.8,595.1a9.4,9.4 0 1,0 18.8,0a9.4,9.4 0 1,0 -18.8,0ZM575.8,628.9a9.4,9.4 0 1,0 18.8,0a9.4,9.4 0 1,0 -18.8,0ZM580.8,598.0a9.4,9.4 0 1,0 18.8,0a9.4,9.4 0 1,0 -18.8,0ZM585.8,583.6a9.4,9.4 0 1,0 18.8,0a9.4,9.4 0 1,0 -18.8,0ZM590.8,607.4a9.4,9.4 0 1,0 18.8,0a9.4,9.4 0 1,0 -18.8,0ZM595.7,622.2a9.4,9.4 0 1,0 18.8,0a9.4,9.4 0 1,0 -18.8,0ZM600.7,615.8a9.4,9.4 0 1,0 18.8,0a9.4,9.4 0 1,0 -18.8,0ZM605.6,591.9a9.4,9.4 0 1,0 18.8,0a9.4,9.4 0 1,0 -18.8,0ZM610.6,645.5a9.4,9.4 0 1,0 18.8,0a9.4,9.4 0 1,0 -18.8,0ZM615.5,650.6a9.4,9.4 0 1,0 18.8,0a9.4,9.4 0 1,0 -18.8,0ZM620.4,643.2a9.4,9.4 0 1,0 18.8,0a9.4,9.4 0 1,0 -18.8,0ZM625.3,668.8a9.4,9.4 0 1,0 18.8,0a9.4,9.4 0 1,0 -18.8,0ZM630.2,678.7a9.4,9.4 0 1,0 18.8,0a9.4,9.4 0 1,0 -18.8,0ZM635.1,664.9a9.4,9.4 0 1,0 18.8,0a9.4,9.4 0 1,0 -18.8,0ZM639.9,641.7a9.4,9.4 0 1,0 18.8,0a9.4,9.4 0 1,0 -18.8,0ZM644.8,663.5a9.4,9.4 0 1,0 18.8,0a9.4,9.4 0 1,0 -18.8,0ZM649.6,685.3a9.4,9.4 0 1,0 18.8,0a9.4,9.4 0 1,0 -18.8,0ZM654.4,690.1a9.4,9.4 0 1,0 18.8,0a9.4,9.4 0 1,0 -18.8,0ZM659.3,652.0a9.4,9.4 0 1,0 18.8,0a9.4,9.4 0 1,0 -18.8,0ZM664.1,653.8a9.4,9.4 0 1,0 18.8,0a9.4,9.4 0 1,0 -18.8,0ZM668.8,645.4a9.4,9.4 0 1,0 18.8,0a9.4,9.4 0 1,0 -18.8,0ZM673.6,618.5a9.4,9.4 0 1,0 18.8,0a9.4,9.4 0 1,0 -18.8,0ZM678.4,603.6a9.4,9.4 0 1,0 18.8,0a9.4,9.4 0 1,0 -18.8,0ZM683.2,628.1a9.4,9.4 0 1,0 18.8,0a9.4,9.4 0 1,0 -18.8,0ZM687.9,621.9a9.4,9.4 0 1,0 18.8,0a9.4,9.4 0 1,0 -18.8,0ZM692.6,673.5a9.4,9.4 0 1,0 18.8,0a9.4,9.4 0 1,0 -18.8,0ZM697.4,674.0a9.4,9.4 0 1,0 18.8,0a9.4,9.4 0 1,0 -18.8,0ZM702.1,647.5a9.4,9.4 0 1,0 18.8,0a9.4,9.4 0 1,0 -18.8,0ZM706.8,638.5a9.4,9.4 0 1,0 18.8,0a9.4,9.4 0 1,0 -18.8,0ZM711.5,639.1a9.4,9.4 0 1,0 18.8,0a9.4,9.4 0 1,0 -18.8,0ZM716.1,646.6a9.4,9.4 0 1,0 18.8,0a9.4,9.4 0 1,0 -18.8,0ZM720.8,641.3a9.4,9.4 0 1,0 18.8,0a9.4,9.4 0 1,0 -18.8,0ZM725.5,634.0a9.4,9.4 0 1,0 18.8,0a9.4,9.4 0 1,0 -18.8,0ZM730.1,694.9a9.4,9.4 0 1,0 18.8,0a9.4,9.4 0 1,0 -18.8,0ZM734.7,675.0a9.4,9.4 0 1,0 18.8,0a9.4,9.4 0 1,0 -18.8,0ZM739.4,654.8a9.4,9.4 0 1,0 18.8,0a9.4,9.4 0 1,0 -18.8,0ZM744.0,653.2a9.4,9.4 0 1,0 18.8,0a9.4,9.4 0 1,0 -18.8,0ZM748.6,702.9a9.4,9.4 0 1,0 18.8,0a9.4,9.4 0 1,0 -18.8,0ZM753.2,645.1a9.4,9.4 0 1,0 18.8,0a9.4,9.4 0 1,0 -18.8,0ZM757.8,692.4a9.4,9.4 0 1,0 18.8,0a9.4,9.4 0 1,0 -18.8,0ZM762.3,685.5a9.4,9.4 0 1,0 18.8,0a9.4,9.4 0 1,0 -18.8,0ZM766.9,673.2a9.4,9.4 0 1,0 18.8,0a9.4,9.4 0 1,0 -18.8,0ZM771.4,663.0a9.4,9.4 0 1,0 18.8,0a9.4,9.4 0 1,0 -18.8,0ZM776.0,719.9a9.4,9.4 0 1,0 18.8,0a9.4,9.4 0 1,0 -18.8,0ZM780.5,657.8a9.4,9.4 0 1,0 18.8,0a9.4,9.4 0 1,0 -18.8,0ZM785.0,673.0a9.4,9.4 0 1,0 18.8,0a9.4,9.4 0 1,0 -18.8,0ZM789.5,688.7a9.4,9.4 0 1,0 18.8,0a9.4,9.4 0 1,0 -18.8,0ZM794.0,683.6a9.4,9.4 0 1,0 18.8,0a9.4,9.4 0 1,0 -18.8,0ZM798.5,730.5a9.4,9.4 0 1,0 18.8,0a9.4,9.4 0 1,0 -18.8,0ZM803.0,689.4a9.4,9.4 0 1,0 18.8,0a9.4,9.4 0 1,0 -18.8,0ZM807.5,670.4a9.4,9.4 0 1,0 18.8,0a9.4,9.4 0 1,0 -18.8,0ZM811.9,699.0a9.4,9.4 0 1,0 18.8,0a9.4,9.4 0 1,0 -18.8,0ZM816.4,688.1a9.4,9.4 0 1,0 18.8,0a9.4,9.4 0 1,0 -18.8,0ZM820.8,709.0a9.4,9.4 0 1,0 18.8,0a9.4,9.4 0 1,0 -18.8,0ZM825.3,713.5a9.4,9.4 0 1,0 18.8,0a9.4,9.4 0 1,0 -18.8,0ZM829.7,662.5a9.4,9.4 0 1,0 18.8,0a9.4,9.4 0 1,0 -18.8,0ZM834.1,691.0a9.4,9.4 0 1,0 18.8,0a9.4,9.4 0 1,0 -18.8,0ZM838.5,696.6a9.4,9.4 0 1,0 18.8,0a9.4,9.4 0 1,0 -18.8,0ZM842.9,676.9a9.4,9.4 0 1,0 18.8,0a9.4,9.4 0 1,0 -18.8,0ZM847.3,645.6a9.4,9.4 0 1,0 18.8,0a9.4,9.4 0 1,0 -18.8,0ZM851.6,706.0a9.4,9.4 0 1,0 18.8,0a9.4,9.4 0 1,0 -18.8,0ZM856.0,685.8a9.4,9.4 0 1,0 18.8,0a9.4,9.4 0 1,0 -18.8,0ZM860.3,738.1a9.4,9.4 0 1,0 18.8,0a9.4,9.4 0 1,0 -18.8,0ZM864.7,660.2a9.4,9.4 0 1,0 18.8,0a9.4,9.4 0 1,0 -18.8,0ZM869.0,677.6a9.4,9.4 0 1,0 18.8,0a9.4,9.4 0 1,0 -18.8,0ZM873.3,656.8a9.4,9.4 0 1,0 18.8,0a9.4,9.4 0 1,0 -18.8,0ZM877.7,700.2a9.4,9.4 0 1,0 18.8,0a9.4,9.4 0 1,0 -18.8,0ZM882.0,730.0a9.4,9.4 0 1,0 18.8,0a9.4,9.4 0 1,0 -18.8,0ZM886.3,678.4a9.4,9.4 0 1,0 18.8,0a9.4,9.4 0 1,0 -18.8,0ZM890.5,684.2a9.4,9.4 0 1,0 18.8,0a9.4,9.4 0 1,0 -18.8,0ZM894.8,728.5a9.4,9.4 0 1,0 18.8,0a9.4,9.4 0 1,0 -18.8,0ZM899.1,747.3a9.4,9.4 0 1,0 18.8,0a9.4,9.4 0 1,0 -18.8,0ZM903.4,700.1a9.4,9.4 0 1,0 18.8,0a9.4,9.4 0 1,0 -18.8,0ZM907.6,704.4a9.4,9.4 0 1,0 18.8,0a9.4,9.4 0 1,0 -18.8,0ZM911.8,636.6a9.4,9.4 0 1,0 18.8,0a9.4,9.4 0 1,0 -18.8,0ZM916.1,715.7a9.4,9.4 0 1,0 18.8,0a9.4,9.4 0 1,0 -18.8,0ZM920.3,713.2a9.4,9.4 0 1,0 18.8,0a9.4,9.4 0 1,0 -18.8,0ZM924.5,706.8a9.4,9.4 0 1,0 18.8,0a9.4,9.4 0 1,0 -18.8,0ZM928.7,755.9a9.4,9.4 0 1,0 18.8,0a9.4,9.4 0 1,0 -18.8,0ZM932.9,733.9a9.4,9.4 0 1,0 18.8,0a9.4,9.4 0 1,0 -18.8,0ZM937.1,679.1a9.4,9.4 0 1,0 18.8,0a9.4,9.4 0 1,0 -18.8,0ZM941.3,736.1a9.4,9.4 0 1,0 18.8,0a9.4,9.4 0 1,0 -18.8,0ZM945.5,750.9a9.4,9.4 0 1,0 18.8,0a9.4,9.4 0 1,0 -18.8,0ZM949.6,769.2a9.4,9.4 0 1,0 18.8,0a9.4,9.4 0 1,0 -18.8,0ZM953.8,717.4a9.4,9.4 0 1,0 18.8,0a9.4,9.4 0 1,0 -18.8,0ZM957.9,708.9a9.4,9.4 0 1,0 18.8,0a9.4,9.4 0 1,0 -18.8,0ZM962.0,721.2a9.4,9.4 0 1,0 18.8,0a9.4,9.4 0 1,0 -18.8,0ZM966.2,733.3a9.4,9.4 0 1,0 18.8,0a9.4,9.4 0 1,0 -18.8,0ZM970.3,707.7a9.4,9.4 0 1,0 18.8,0a9.4,9.4 0 1,0 -18.8,0ZM974.4,725.0a9.4,9.4 0 1,0 18.8,0a9.4,9.4 0 1,0 -18.8,0ZM978.5,740.5a9.4,9.4 0 1,0 18.8,0a9.4,9.4 0 1,0 -18.8,0ZM982.6,716.2a9.4,9.4 0 1,0 18.8,0a9.4,9.4 0 1,0 -18.8,0ZM986.7,789.3a9.4,9.4 0 1,0 18.8,0a9.4,9.4 0 1,0 -18.8,0ZM990.8,769.8a9.4,9.4 0 1,0 18.8,0a9.4,9.4 0 1,0 -18.8,0ZM994.8,742.5a9.4,9.4 0 1,0 18.8,0a9.4,9.4 0 1,0 -18.8,0ZM998.9,734.9a9.4,9.4 0 1,0 18.8,0a9.4,9.4 0 1,0 -18.8,0ZM1002.9,768.1a9.4,9.4 0 1,0 18.8,0a9.4,9.4 0 1,0 -18.8,0ZM1007.0,727.8a9.4,9.4 0 1,0 18.8,0a9.4,9.4 0 1,0 -18.8,0ZM1011.0,698.2a9.4,9.4 0 1,0 18.8,0a9.4,9.4 0 1,0 -18.8,0ZM1015.0,721.3a9.4,9.4 0 1,0 18.8,0a9.4,9.4 0 1,0 -18.8,0ZM1019.1,728.4a9.4,9.4 0 1,0 18.8,0a9.4,9.4 0 1,0 -18.8,0ZM1023.1,715.2a9.4,9.4 0 1,0 18.8,0a9.4,9.4 0 1,0 -18.8,0ZM1027.1,739.3a9.4,9.4 0 1,0 18.8,0a9.4,9.4 0 1,0 -18.8,0ZM1031.1,782.3a9.4,9.4 0 1,0 18.8,0a9.4,9.4 0 1,0 -18.8,0ZM1035.1,759.3a9.4,9.4 0 1,0 18.8,0a9.4,9.4 0 1,0 -18.8,0ZM1039.0,722.7a9.4,9.4 0 1,0 18.8,0a9.4,9.4 0 1,0 -18.8,0ZM1043.0,794.8a9.4,9.4 0 1,0 18.8,0a9.4,9.4 0 1,0 -18.8,0ZM1047.0,761.9a9.4,9.4 0 1,0 18.8,0a9.4,9.4 0 1,0 -18.8,0ZM1050.9,791.8a9.4,9.4 0 1,0 18.8,0a9.4,9.4 0 1,0 -18.8,0ZM1054.9,774.9a9.4,9.4 0 1,0 18.8,0a9.4,9.4 0 1,0 -18.8,0ZM1058.8,778.2a9.4,9.4 0 1,0 18.8,0a9.4,9.4 0 1,0 -18.8,0ZM1062.7,856.7a9.4,9.4 0 1,0 18.8,0a9.4,9.4 0 1,0 -18.8,0ZM1066.7,744.6a9.4,9.4 0 1,0 18.8,0a9.4,9.4 0 1,0 -18.8,0ZM1070.6,740.5a9.4,9.4 0 1,0 18.8,0a9.4,9.4 0 1,0 -18.8,0ZM1074.5,792.4a9.4,9.4 0 1,0 18.8,0a9.4,9.4 0 1,0 -18.8,0ZM1078.4,766.6a9.4,9.4 0 1,0 18.8,0a9.4,9.4 0 1,0 -18.8,0ZM1082.3,751.8a9.4,9.4 0 1,0 18.8,0a9.4,9.4 0 1,0 -18.8,0ZM1086.2,732.2a9.4,9.4 0 1,0 18.8,0a9.4,9.4 0 1,0 -18.8,0ZM1090.1,746.4a9.4,9.4 0 1,0 18.8,0a9.4,9.4 0 1,0 -18.8,0ZM1093.9,739.6a9.4,9.4 0 1,0 18.8,0a9.4,9.4 0 1,0 -18.8,0ZM1097.8,908.2a9.4,9.4 0 1,0 18.8,0a9.4,9.4 0 1,0 -18.8,0ZM1101.6,735.3a9.4,9.4 0 1,0 18.8,0a9.4,9.4 0 1,0 -18.8,0ZM1105.5,782.5a9.4,9.4 0 1,0 18.8,0a9.4,9.4 0 1,0 -18.8,0Z"/>
<line clip-path="url(#clipA)" x1="302.8" y1="530.7" x2="1101.1" y2="748.0" stroke="#000" stroke-width="7.5" stroke-dasharray="26,9.5"/>
<path clip-path="url(#clipA)" fill="#ff0000" d="M303.2,409.7 300.0,412.9 296.8,409.7 291.9,414.6 295.1,417.8 291.9,421.0 296.8,425.9 300.0,422.7 303.2,425.9 308.1,421.0 304.9,417.8 308.1,414.6ZM309.0,446.1 305.8,449.3 302.6,446.1 297.7,451.0 300.9,454.2 297.7,457.4 302.6,462.3 305.8,459.1 309.0,462.3 313.9,457.4 310.7,454.2 313.9,451.0ZM314.7,459.6 311.5,462.8 308.3,459.6 303.4,464.5 306.6,467.7 303.4,470.9 308.3,475.8 311.5,472.6 314.7,475.8 319.6,470.9 316.4,467.7 319.6,464.5ZM320.5,484.9 317.3,488.1 314.1,484.9 309.2,489.8 312.4,493.0 309.2,496.2 314.1,501.1 317.3,497.9 320.5,501.1 325.4,496.2 322.2,493.0 325.4,489.8ZM326.2,433.3 323.0,436.5 319.8,433.3 314.9,438.2 318.1,441.4 314.9,444.6 319.8,449.5 323.0,446.3 326.2,449.5 331.1,444.6 327.9,441.4 331.1,438.2ZM331.9,407.9 328.7,411.1 325.5,407.9 320.6,412.8 323.8,416.0 320.6,419.2 325.5,424.1 328.7,420.9 331.9,424.1 336.8,419.2 333.6,416.0 336.8,412.8ZM337.6,434.6 334.4,437.8 331.2,434.6 326.3,439.5 329.5,442.7 326.3,445.9 331.2,450.8 334.4,447.6 337.6,450.8 342.5,445.9 339.3,442.7 342.5,439.5ZM343.3,430.8 340.1,434.0 336.9,430.8 332.0,435.7 335.2,438.9 332.0,442.1 336.9,447.0 340.1,443.8 343.3,447.0 348.2,442.1 345.0,438.9 348.2,435.7ZM348.9,420.7 345.7,423.9 342.5,420.7 337.6,425.6 340.8,428.8 337.6,432.0 342.5,436.9 345.7,433.7 348.9,436.9 353.9,432.0 350.7,428.8 353.9,425.6ZM354.6,458.7 351.4,461.9 348.2,458.7 343.3,463.6 346.5,466.8 343.3,470.0 348.2,474.9 351.4,471.7 354.6,474.9 359.5,470.0 356.3,466.8 359.5,463.6ZM360.2,381.9 357.0,385.1 353.8,381.9 348.9,386.9 352.1,390.1 348.9,393.3 353.8,398.2 357.0,395.0 360.2,398.2 365.1,393.3 361.9,390.1 365.1,386.9ZM365.8,446.1 362.6,449.3 359.4,446.1 354.5,451.0 357.7,454.2 354.5,457.4 359.4,462.3 362.6,459.1 365.8,462.3 370.7,457.4 367.5,454.2 370.7,451.0ZM371.4,419.0 368.2,422.2 365.0,419.0 360.1,423.9 363.3,427.1 360.1,430.3 365.0,435.2 368.2,432.0 371.4,435.2 376.3,430.3 373.1,427.1 376.3,423.9ZM377.0,376.1 373.8,379.3 370.6,376.1 365.7,381.0 368.9,384.2 365.7,387.4 370.6,392.3 373.8,389.1 377.0,392.3 381.9,387.4 378.7,384.2 381.9,381.0ZM382.6,437.5 379.4,440.7 376.2,437.5 371.3,442.4 374.5,445.6 371.3,448.8 376.2,453.7 379.4,450.5 382.6,453.7 387.5,448.8 384.3,445.6 387.5,442.4ZM388.1,430.8 384.9,434.0 381.7,430.8 376.8,435.7 380.0,438.9 376.8,442.1 381.7,447.0 384.9,443.8 388.1,447.0 393.0,442.1 389.8,438.9 393.0,435.7ZM393.7,440.0 390.5,443.2 387.3,440.0 382.4,444.9 385.6,448.1 382.4,451.3 387.3,456.2 390.5,453.0 393.7,456.2 398.6,451.3 395.4,448.1 398.6,444.9ZM399.2,429.0 396.0,432.2 392.8,429.0 387.9,433.9 391.1,437.1 387.9,440.3 392.8,445.2 396.0,442.0 399.2,445.2 404.1,440.3 400.9,437.1 404.1,433.9ZM404.7,478.6 401.5,481.8 398.3,478.6 393.4,483.5 396.6,486.7 393.4,489.9 398.3,494.8 401.5,491.6 404.7,494.8 409.6,489.9 406.4,486.7 409.6,483.5ZM410.2,446.5 407.0,449.7 403.8,446.5 398.9,451.4 402.1,454.6 398.9,457.8 403.8,462.7 407.0,459.5 410.2,462.7 415.1,457.8 411.9,454.6 415.1,451.4ZM415.7,401.6 412.5,404.8 409.3,401.6 404.3,406.5 407.6,409.7 404.3,412.9 409.3,417.9 412.5,414.7 415.7,417.9 420.6,412.9 417.4,409.7 420.6,406.5ZM421.1,438.2 417.9,441.4 414.7,438.2 409.8,443.1 413.0,446.3 409.8,449.6 414.7,454.5 417.9,451.3 421.1,454.5 426.0,449.6 422.8,446.3 426.0,443.1ZM426.6,453.7 423.4,456.9 420.2,453.7 415.3,458.6 418.5,461.8 415.3,465.0 420.2,469.9 423.4,466.7 426.6,469.9 431.5,465.0 428.3,461.8 431.5,458.6ZM432.0,445.1 428.8,448.3 425.6,445.1 420.7,450.0 423.9,453.2 420.7,456.4 425.6,461.3 428.8,458.1 432.0,461.3 436.9,456.4 433.7,453.2 436.9,450.0ZM437.4,446.4 434.2,449.6 431.0,446.4 426.1,451.3 429.3,454.5 426.1,457.7 431.0,462.6 434.2,459.4 437.4,462.6 442.3,457.7 439.1,454.5 442.3,451.3ZM442.8,459.4 439.6,462.6 436.4,459.4 431.5,464.3 434.7,467.6 431.5,470.8 436.4,475.7 439.6,472.5 442.8,475.7 447.7,470.8 444.5,467.6 447.7,464.3ZM448.2,447.8 445.0,451.0 441.8,447.8 436.9,452.8 440.1,456.0 436.9,459.2 441.8,464.1 445.0,460.9 448.2,464.1 453.1,459.2 449.9,456.0 453.1,452.8ZM453.6,492.5 450.4,495.7 447.2,492.5 442.3,497.4 445.5,500.6 442.3,503.8 447.2,508.7 450.4,505.5 453.6,508.7 458.5,503.8 455.3,500.6 458.5,497.4ZM458.9,436.8 455.7,440.0 452.5,436.8 447.6,441.7 450.8,444.9 447.6,448.1 452.5,453.0 455.7,449.8 458.9,453.0 463.8,448.1 460.6,444.9 463.8,441.7ZM464.3,458.8 461.1,462.0 457.9,458.8 453.0,463.7 456.2,466.9 453.0,470.1 457.9,475.1 461.1,471.8 464.3,475.1 469.2,470.1 466.0,466.9 469.2,463.7ZM469.6,428.5 466.4,431.7 463.2,428.5 458.3,433.4 461.5,436.6 458.3,439.9 463.2,444.8 466.4,441.6 469.6,444.8 474.5,439.9 471.3,436.6 474.5,433.4ZM474.9,446.8 471.7,450.0 468.5,446.8 463.6,451.7 466.8,454.9 463.6,458.1 468.5,463.0 471.7,459.8 474.9,463.0 479.8,458.1 476.6,454.9 479.8,451.7ZM480.2,468.6 477.0,471.8 473.8,468.6 468.9,473.5 472.1,476.7 468.9,479.9 473.8,484.8 477.0,481.6 480.2,484.8 485.1,479.9 481.9,476.7 485.1,473.5ZM485.5,452.2 482.3,455.4 479.1,452.2 474.2,457.1 477.4,460.3 474.2,463.5 479.1,468.4 482.3,465.2 485.5,468.4 490.4,463.5 487.2,460.3 490.4,457.1ZM490.8,466.2 487.6,469.4 484.4,466.2 479.5,471.1 482.7,474.3 479.5,477.5 484.4,482.4 487.6,479.2 490.8,482.4 495.7,477.5 492.5,474.3 495.7,471.1ZM496.0,428.4 492.8,431.6 489.6,428.4 484.7,433.3 487.9,436.5 484.7,439.7 489.6,444.6 492.8,441.4 496.0,444.6 500.9,439.7 497.7,436.5 500.9,433.3ZM501.3,462.4 498.1,465.6 494.9,462.4 490.0,467.3 493.2,470.5 490.0,473.7 494.9,478.6 498.1,475.4 501.3,478.6 506.2,473.7 503.0,470.5 506.2,467.3ZM506.5,445.3 503.3,448.5 500.1,445.3 495.2,450.2 498.4,453.4 495.2,456.6 500.1,461.5 503.3,458.3 506.5,461.5 511.4,456.6 508.2,453.4 511.4,450.2ZM511.7,485.7 508.5,488.9 505.3,485.7 500.4,490.6 503.6,493.8 500.4,497.0 505.3,501.9 508.5,498.7 511.7,501.9 516.6,497.0 513.4,493.8 516.6,490.6ZM516.9,430.9 513.7,434.1 510.5,430.9 505.6,435.8 508.8,439.0 505.6,442.2 510.5,447.1 513.7,443.9 516.9,447.1 521.8,442.2 518.6,439.0 521.8,435.8ZM522.1,473.3 518.9,476.5 515.7,473.3 510.8,478.2 514.0,481.4 510.8,484.6 515.7,489.5 518.9,486.3 522.1,489.5 527.0,484.6 523.8,481.4 527.0,478.2ZM527.3,444.5 524.1,447.7 520.9,444.5 516.0,449.4 519.2,452.6 516.0,455.8 520.9,460.7 524.1,457.5 527.3,460.7 532.2,455.8 529.0,452.6 532.2,449.4ZM532.5,451.3 529.3,454.5 526.1,451.3 521.1,456.2 524.3,459.4 521.1,462.6 526.1,467.5 529.3,464.3 532.5,467.5 537.4,462.6 534.2,459.4 537.4,456.2ZM537.6,492.3 534.4,495.5 531.2,492.3 526.3,497.2 529.5,500.4 526.3,503.7 531.2,508.6 534.4,505.4 537.6,508.6 542.5,503.7 539.3,500.4 542.5,497.2ZM542.7,466.0 539.5,469.2 536.3,466.0 531.4,470.9 534.6,474.1 531.4,477.3 536.3,482.2 539.5,479.0 542.7,482.2 547.7,477.3 544.4,474.1 547.7,470.9ZM547.9,487.0 544.7,490.2 541.5,487.0 536.6,491.9 539.8,495.1 536.6,498.3 541.5,503.2 544.7,500.0 547.9,503.2 552.8,498.3 549.6,495.1 552.8,491.9ZM553.0,467.8 549.8,471.0 546.6,467.8 541.7,472.7 544.9,475.9 541.7,479.1 546.6,484.0 549.8,480.8 553.0,484.0 557.9,479.1 554.7,475.9 557.9,472.7ZM558.1,444.4 554.9,447.6 551.7,444.4 546.8,449.3 550.0,452.5 546.8,455.7 551.7,460.6 554.9,457.4 558.1,460.6 563.0,455.7 559.8,452.5 563.0,449.3ZM563.2,460.8 560.0,464.0 556.8,460.8 551.8,465.8 555.1,469.0 551.8,472.2 556.8,477.1 560.0,473.9 563.2,477.1 568.1,472.2 564.9,469.0 568.1,465.8ZM568.2,457.7 565.0,460.9 561.8,457.7 556.9,462.6 560.1,465.8 556.9,469.0 561.8,473.9 565.0,470.7 568.2,473.9 573.1,469.0 569.9,465.8 573.1,462.6ZM573.3,500.0 570.1,503.2 566.9,500.0 562.0,504.9 565.2,508.1 562.0,511.3 566.9,516.2 570.1,513.0 573.3,516.2 578.2,511.3 575.0,508.1 578.2,504.9ZM578.3,467.2 575.1,470.4 571.9,467.2 567.0,472.1 570.2,475.3 567.0,478.5 571.9,483.4 575.1,480.2 578.3,483.4 583.2,478.5 580.0,475.3 583.2,472.1ZM583.4,461.6 580.2,464.8 577.0,461.6 572.1,466.5 575.3,469.7 572.1,472.9 577.0,477.8 580.2,474.6 583.4,477.8 588.3,472.9 585.1,469.7 588.3,466.5ZM588.4,442.4 585.2,445.6 582.0,442.4 577.1,447.3 580.3,450.5 577.1,453.7 582.0,458.6 585.2,455.4 588.4,458.6 593.3,453.7 590.1,450.5 593.3,447.3ZM593.4,485.6 590.2,488.9 587.0,485.6 582.1,490.6 585.3,493.8 582.1,497.0 587.0,501.9 590.2,498.7 593.4,501.9 598.3,497.0 595.1,493.8 598.3,490.6ZM598.4,463.0 595.2,466.2 592.0,463.0 587.1,467.9 590.3,471.1 587.1,474.3 592.0,479.2 595.2,476.0 598.4,479.2 603.3,474.3 600.1,471.1 603.3,467.9ZM603.4,467.1 600.2,470.3 597.0,467.1 592.1,472.0 595.3,475.2 592.1,478.4 597.0,483.3 600.2,480.1 603.4,483.3 608.3,478.4 605.1,475.2 608.3,472.0ZM608.3,519.8 605.1,523.1 601.9,519.8 597.0,524.8 600.2,528.0 597.0,531.2 601.9,536.1 605.1,532.9 608.3,536.1 613.3,531.2 610.0,528.0 613.3,524.8ZM613.3,513.1 610.1,516.3 606.9,513.1 602.0,518.0 605.2,521.2 602.0,524.4 606.9,529.3 610.1,526.1 613.3,529.3 618.2,524.4 615.0,521.2 618.2,518.0ZM618.2,481.9 615.0,485.1 611.8,481.9 606.9,486.8 610.1,490.0 606.9,493.2 611.8,498.1 615.0,494.9 618.2,498.1 623.2,493.2 620.0,490.0 623.2,486.8ZM623.2,520.5 620.0,523.7 616.8,520.5 611.9,525.4 615.1,528.6 611.9,531.8 616.8,536.7 620.0,533.5 623.2,536.7 628.1,531.8 624.9,528.6 628.1,525.4ZM628.1,525.4 624.9,528.6 621.7,525.4 616.8,530.3 620.0,533.5 616.8,536.7 621.7,541.6 624.9,538.4 628.1,541.6 633.0,536.7 629.8,533.5 633.0,530.3ZM633.0,471.2 629.8,474.4 626.6,471.2 621.7,476.1 624.9,479.3 621.7,482.5 626.6,487.4 629.8,484.2 633.0,487.4 637.9,482.5 634.7,479.3 637.9,476.1ZM637.9,489.2 634.7,492.4 631.5,489.2 626.6,494.1 629.8,497.3 626.6,500.5 631.5,505.4 634.7,502.2 637.9,505.4 642.8,500.5 639.6,497.3 642.8,494.1ZM642.8,496.3 639.6,499.5 636.4,496.3 631.5,501.2 634.7,504.4 631.5,507.6 636.4,512.5 639.6,509.3 642.8,512.5 647.7,507.6 644.5,504.4 647.7,501.2ZM647.7,486.3 644.5,489.5 641.3,486.3 636.4,491.2 639.6,494.4 636.4,497.6 641.3,502.5 644.5,499.3 647.7,502.5 652.6,497.6 649.4,494.4 652.6,491.2ZM652.5,497.4 649.3,500.6 646.1,497.4 641.2,502.3 644.4,505.5 641.2,508.7 646.1,513.6 649.3,510.4 652.5,513.6 657.4,508.7 654.2,505.5 657.4,502.3ZM657.4,505.3 654.2,508.5 651.0,505.3 646.1,510.2 649.3,513.4 646.1,516.6 651.0,521.5 654.2,518.3 657.4,521.5 662.3,516.6 659.1,513.4 662.3,510.2ZM662.2,501.5 659.0,504.7 655.8,501.5 650.9,506.4 654.1,509.6 650.9,512.8 655.8,517.7 659.0,514.5 662.2,517.7 667.1,512.8 663.9,509.6 667.1,506.4ZM667.0,492.0 663.8,495.2 660.6,492.0 655.7,496.9 658.9,500.1 655.7,503.3 660.6,508.2 663.8,505.0 667.0,508.2 671.9,503.3 668.7,500.1 671.9,496.9ZM671.9,464.9 668.7,468.2 665.5,464.9 660.5,469.9 663.7,473.1 660.5,476.3 665.5,481.2 668.7,478.0 671.9,481.2 676.8,476.3 673.6,473.1 676.8,469.9ZM676.7,507.0 673.5,510.2 670.3,507.0 665.3,511.9 668.5,515.1 665.3,518.3 670.3,523.3 673.5,520.1 676.7,523.3 681.6,518.3 678.4,515.1 681.6,511.9ZM681.5,500.0 678.2,503.3 675.0,500.0 670.1,505.0 673.3,508.2 670.1,511.4 675.0,516.3 678.2,513.1 681.5,516.3 686.4,511.4 683.2,508.2 686.4,505.0ZM686.2,506.9 683.0,510.1 679.8,506.9 674.9,511.8 678.1,515.0 674.9,518.2 679.8,523.1 683.0,519.9 686.2,523.1 691.1,518.2 687.9,515.0 691.1,511.8ZM691.0,522.2 687.8,525.4 684.6,522.2 679.7,527.1 682.9,530.3 679.7,533.5 684.6,538.4 687.8,535.2 691.0,538.4 695.9,533.5 692.7,530.3 695.9,527.1ZM695.8,487.0 692.6,490.2 689.3,487.0 684.4,491.9 687.6,495.1 684.4,498.3 689.3,503.2 692.6,500.0 695.8,503.2 700.7,498.3 697.5,495.1 700.7,491.9ZM700.5,470.5 697.3,473.7 694.1,470.5 689.2,475.4 692.4,478.6 689.2,481.9 694.1,486.8 697.3,483.6 700.5,486.8 705.4,481.9 702.2,478.6 705.4,475.4ZM705.2,517.1 702.0,520.3 698.8,517.1 693.9,522.0 697.1,525.2 693.9,528.4 698.8,533.3 702.0,530.1 705.2,533.3 710.1,528.4 706.9,525.2 710.1,522.0ZM710.0,479.0 706.8,482.2 703.6,479.0 698.6,483.9 701.8,487.1 698.6,490.3 703.6,495.2 706.8,492.0 710.0,495.2 714.9,490.3 711.7,487.1 714.9,483.9ZM714.7,517.3 711.5,520.5 708.3,517.3 703.4,522.2 706.6,525.4 703.4,528.6 708.3,533.6 711.5,530.4 714.7,533.6 719.6,528.6 716.4,525.4 719.6,522.2ZM719.4,477.8 716.2,481.0 713.0,477.8 708.1,482.7 711.3,485.9 708.1,489.1 713.0,494.0 716.2,490.8 719.4,494.0 724.3,489.1 721.1,485.9 724.3,482.7ZM724.1,483.2 720.9,486.4 717.7,483.2 712.7,488.1 716.0,491.3 712.7,494.5 717.7,499.4 720.9,496.2 724.1,499.4 729.0,494.5 725.8,491.3 729.0,488.1ZM728.7,525.7 725.5,528.9 722.3,525.7 717.4,530.6 720.6,533.8 717.4,537.0 722.3,541.9 725.5,538.7 728.7,541.9 733.6,537.0 730.4,533.8 733.6,530.6ZM733.4,570.2 730.2,573.4 727.0,570.2 722.1,575.1 725.3,578.3 722.1,581.6 727.0,586.5 730.2,583.3 733.4,586.5 738.3,581.6 735.1,578.3 738.3,575.1ZM738.1,530.7 734.9,533.9 731.7,530.7 726.8,535.6 730.0,538.8 726.8,542.0 731.7,546.9 734.9,543.7 738.1,546.9 743.0,542.0 739.8,538.8 743.0,535.6ZM742.7,557.4 739.5,560.7 736.3,557.4 731.4,562.4 734.6,565.6 731.4,568.8 736.3,573.7 739.5,570.5 742.7,573.7 747.6,568.8 744.4,565.6 747.6,562.4ZM747.3,554.5 744.1,557.7 740.9,554.5 736.0,559.4 739.2,562.6 736.0,565.8 740.9,570.7 744.1,567.5 747.3,570.7 752.3,565.8 749.1,562.6 752.3,559.4ZM752.0,535.3 748.8,538.5 745.6,535.3 740.7,540.2 743.9,543.4 740.7,546.6 745.6,551.5 748.8,548.3 752.0,551.5 756.9,546.6 753.7,543.4 756.9,540.2ZM756.6,500.7 753.4,503.9 750.2,500.7 745.3,505.6 748.5,508.8 745.3,512.0 750.2,516.9 753.4,513.7 756.6,516.9 761.5,512.0 758.3,508.8 761.5,505.6ZM761.2,533.9 758.0,537.1 754.8,533.9 749.9,538.8 753.1,542.0 749.9,545.2 754.8,550.1 758.0,546.9 761.2,550.1 766.1,545.2 762.9,542.0 766.1,538.8ZM765.8,534.7 762.6,537.9 759.4,534.7 754.5,539.6 757.7,542.8 754.5,546.0 759.4,550.9 762.6,547.7 765.8,550.9 770.7,546.0 767.5,542.8 770.7,539.6ZM770.4,572.1 767.2,575.3 764.0,572.1 759.0,577.0 762.3,580.2 759.0,583.4 764.0,588.3 767.2,585.1 770.4,588.3 775.3,583.4 772.1,580.2 775.3,577.0ZM774.9,540.5 771.7,543.7 768.5,540.5 763.6,545.4 766.8,548.6 763.6,551.8 768.5,556.7 771.7,553.5 774.9,556.7 779.8,551.8 776.6,548.6 779.8,545.4ZM779.5,555.8 776.3,559.0 773.1,555.8 768.2,560.7 771.4,563.9 768.2,567.1 773.1,572.0 776.3,568.8 779.5,572.0 784.4,567.1 781.2,563.9 784.4,560.7ZM784.0,513.3 780.8,516.5 777.6,513.3 772.7,518.2 775.9,521.4 772.7,524.6 777.6,529.5 780.8,526.3 784.0,529.5 789.0,524.6 785.8,521.4 789.0,518.2ZM788.6,532.2 785.4,535.4 782.2,532.2 777.3,537.1 780.5,540.3 777.3,543.5 782.2,548.4 785.4,545.2 788.6,548.4 793.5,543.5 790.3,540.3 793.5,537.1ZM793.1,516.4 789.9,519.6 786.7,516.4 781.8,521.3 785.0,524.5 781.8,527.7 786.7,532.6 789.9,529.4 793.1,532.6 798.0,527.7 794.8,524.5 798.0,521.3ZM797.6,516.9 794.4,520.1 791.2,516.9 786.3,521.8 789.5,525.0 786.3,528.2 791.2,533.1 794.4,529.9 797.6,533.1 802.5,528.2 799.3,525.0 802.5,521.8ZM802.1,519.4 798.9,522.6 795.7,519.4 790.8,524.3 794.0,527.5 790.8,530.7 795.7,535.6 798.9,532.4 802.1,535.6 807.1,530.7 803.9,527.5 807.1,524.3ZM806.6,499.7 803.4,502.9 800.2,499.7 795.3,504.6 798.5,507.8 795.3,511.0 800.2,515.9 803.4,512.7 806.6,515.9 811.6,511.0 808.4,507.8 811.6,504.6ZM811.1,516.0 807.9,519.2 804.7,516.0 799.8,521.0 803.0,524.2 799.8,527.4 804.7,532.3 807.9,529.1 811.1,532.3 816.0,527.4 812.8,524.2 816.0,521.0ZM815.6,536.3 812.4,539.5 809.2,536.3 804.3,541.2 807.5,544.4 804.3,547.6 809.2,552.5 812.4,549.3 815.6,552.5 820.5,547.6 817.3,544.4 820.5,541.2ZM820.1,526.2 816.9,529.4 813.7,526.2 808.8,531.1 812.0,534.3 808.8,537.5 813.7,542.4 816.9,539.2 820.1,542.4 825.0,537.5 821.8,534.3 825.0,531.1ZM824.5,521.2 821.3,524.4 818.1,521.2 813.2,526.1 816.4,529.3 813.2,532.5 818.1,537.4 821.3,534.2 824.5,537.4 829.5,532.5 826.2,529.3 829.5,526.1ZM829.0,501.1 825.8,504.3 822.6,501.1 817.7,506.0 820.9,509.2 817.7,512.4 822.6,517.3 825.8,514.1 829.0,517.3 833.9,512.4 830.7,509.2 833.9,506.0ZM833.4,534.2 830.2,537.4 827.0,534.2 822.1,539.1 825.3,542.3 822.1,545.5 827.0,550.4 830.2,547.2 833.4,550.4 838.3,545.5 835.1,542.3 838.3,539.1ZM837.9,503.8 834.7,507.0 831.5,503.8 826.5,508.7 829.8,511.9 826.5,515.1 831.5,520.0 834.7,516.8 837.9,520.0 842.8,515.1 839.6,511.9 842.8,508.7ZM842.3,548.6 839.1,551.8 835.9,548.6 831.0,553.5 834.2,556.7 831.0,559.9 835.9,564.8 839.1,561.6 842.3,564.8 847.2,559.9 844.0,556.7 847.2,553.5ZM846.7,536.5 843.5,539.7 840.3,536.5 835.4,541.4 838.6,544.6 835.4,547.8 840.3,552.7 843.5,549.5 846.7,552.7 851.6,547.8 848.4,544.6 851.6,541.4ZM851.1,565.9 847.9,569.1 844.7,565.9 839.8,570.8 843.0,574.0 839.8,577.2 844.7,582.1 847.9,578.9 851.1,582.1 856.0,577.2 852.8,574.0 856.0,570.8ZM855.5,515.6 852.3,518.8 849.1,515.6 844.2,520.5 847.4,523.7 844.2,526.9 849.1,531.8 852.3,528.6 855.5,531.8 860.4,526.9 857.2,523.7 860.4,520.5ZM859.9,556.3 856.7,559.5 853.5,556.3 848.5,561.2 851.8,564.4 848.5,567.6 853.5,572.5 856.7,569.3 859.9,572.5 864.8,567.6 861.6,564.4 864.8,561.2ZM864.2,555.3 861.0,558.5 857.8,555.3 852.9,560.2 856.1,563.4 852.9,566.6 857.8,571.5 861.0,568.3 864.2,571.5 869.1,566.6 865.9,563.4 869.1,560.2ZM868.6,516.2 865.4,519.4 862.2,516.2 857.3,521.1 860.5,524.3 857.3,527.5 862.2,532.4 865.4,529.2 868.6,532.4 873.5,527.5 870.3,524.3 873.5,521.1ZM872.9,548.1 869.7,551.3 866.5,548.1 861.6,553.0 864.8,556.2 861.6,559.4 866.5,564.3 869.7,561.1 872.9,564.3 877.9,559.4 874.7,556.2 877.9,553.0ZM877.3,551.2 874.1,554.4 870.9,551.2 866.0,556.1 869.2,559.3 866.0,562.5 870.9,567.4 874.1,564.2 877.3,567.4 882.2,562.5 879.0,559.3 882.2,556.1ZM881.6,514.4 878.4,517.6 875.2,514.4 870.3,519.3 873.5,522.6 870.3,525.8 875.2,530.7 878.4,527.5 881.6,530.7 886.5,525.8 883.3,522.6 886.5,519.3ZM885.9,538.8 882.7,542.0 879.5,538.8 874.6,543.7 877.8,546.9 874.6,550.1 879.5,555.0 882.7,551.8 885.9,555.0 890.9,550.1 887.7,546.9 890.9,543.7ZM890.3,517.9 887.1,521.1 883.9,517.9 878.9,522.8 882.2,526.0 878.9,529.3 883.9,534.2 887.1,531.0 890.3,534.2 895.2,529.3 892.0,526.0 895.2,522.8ZM894.6,559.0 891.4,562.2 888.2,559.0 883.3,563.9 886.5,567.1 883.3,570.3 888.2,575.3 891.4,572.0 894.6,575.3 899.5,570.3 896.3,567.1 899.5,563.9ZM898.9,526.3 895.7,529.6 892.5,526.3 887.5,531.3 890.8,534.5 887.5,537.7 892.5,542.6 895.7,539.4 898.9,542.6 903.8,537.7 900.6,534.5 903.8,531.3ZM903.2,521.5 899.9,524.7 896.7,521.5 891.8,526.4 895.0,529.6 891.8,532.8 896.7,537.7 899.9,534.5 903.2,537.7 908.1,532.8 904.9,529.6 908.1,526.4ZM907.4,554.5 904.2,557.7 901.0,554.5 896.1,559.4 899.3,562.6 896.1,565.8 901.0,570.7 904.2,567.5 907.4,570.7 912.3,565.8 909.1,562.6 912.3,559.4ZM911.7,517.3 908.5,520.5 905.3,517.3 900.4,522.2 903.6,525.4 900.4,528.6 905.3,533.5 908.5,530.3 911.7,533.5 916.6,528.6 913.4,525.4 916.6,522.2ZM916.0,573.8 912.8,577.0 909.5,573.8 904.6,578.7 907.8,581.9 904.6,585.1 909.5,590.0 912.8,586.8 916.0,590.0 920.9,585.1 917.7,581.9 920.9,578.7ZM920.2,563.5 917.0,566.7 913.8,563.5 908.9,568.4 912.1,571.6 908.9,574.8 913.8,579.7 917.0,576.5 920.2,579.7 925.1,574.8 921.9,571.6 925.1,568.4ZM924.4,555.0 921.2,558.2 918.0,555.0 913.1,559.9 916.3,563.1 913.1,566.3 918.0,571.2 921.2,568.0 924.4,571.2 929.4,566.3 926.2,563.1 929.4,559.9ZM928.7,537.7 925.5,540.9 922.3,537.7 917.4,542.6 920.6,545.8 917.4,549.0 922.3,553.9 925.5,550.7 928.7,553.9 933.6,549.0 930.4,545.8 933.6,542.6ZM932.9,577.5 929.7,580.7 926.5,577.5 921.6,582.4 924.8,585.6 921.6,588.8 926.5,593.7 929.7,590.5 932.9,593.7 937.8,588.8 934.6,585.6 937.8,582.4ZM937.1,580.4 933.9,583.6 930.7,580.4 925.8,585.3 929.0,588.5 925.8,591.7 930.7,596.6 933.9,593.4 937.1,596.6 942.0,591.7 938.8,588.5 942.0,585.3ZM941.3,565.0 938.1,568.2 934.9,565.0 930.0,569.9 933.2,573.1 930.0,576.4 934.9,581.3 938.1,578.1 941.3,581.3 946.2,576.4 943.0,573.1 946.2,569.9ZM945.5,539.9 942.3,543.1 939.1,539.9 934.2,544.8 937.4,548.0 934.2,551.2 939.1,556.1 942.3,552.9 945.5,556.1 950.4,551.2 947.2,548.0 950.4,544.8ZM949.7,590.6 946.5,593.8 943.3,590.6 938.4,595.5 941.6,598.8 938.4,602.0 943.3,606.9 946.5,603.7 949.7,606.9 954.6,602.0 951.4,598.8 954.6,595.5ZM953.9,605.7 950.7,608.9 947.5,605.7 942.6,610.6 945.8,613.8 942.6,617.0 947.5,622.0 950.7,618.8 953.9,622.0 958.8,617.0 955.6,613.8 958.8,610.6ZM958.1,575.3 954.9,578.5 951.6,575.3 946.7,580.3 949.9,583.5 946.7,586.7 951.6,591.6 954.9,588.4 958.1,591.6 963.0,586.7 959.8,583.5 963.0,580.3ZM962.2,547.2 959.0,550.4 955.8,547.2 950.9,552.1 954.1,555.3 950.9,558.5 955.8,563.4 959.0,560.2 962.2,563.4 967.1,558.5 963.9,555.3 967.1,552.1ZM966.4,575.6 963.2,578.8 960.0,575.6 955.1,580.5 958.3,583.7 955.1,586.9 960.0,591.8 963.2,588.6 966.4,591.8 971.3,586.9 968.1,583.7 971.3,580.5ZM970.5,566.5 967.3,569.7 964.1,566.5 959.2,571.4 962.4,574.6 959.2,577.8 964.1,582.7 967.3,579.5 970.5,582.7 975.4,577.8 972.2,574.6 975.4,571.4ZM974.6,616.5 971.4,619.7 968.2,616.5 963.3,621.4 966.5,624.6 963.3,627.8 968.2,632.8 971.4,629.5 974.6,632.8 979.6,627.8 976.4,624.6 979.6,621.4ZM978.8,572.8 975.6,576.0 972.4,572.8 967.5,577.7 970.7,580.9 967.5,584.1 972.4,589.0 975.6,585.8 978.8,589.0 983.7,584.1 980.5,580.9 983.7,577.7ZM982.9,571.9 979.7,575.1 976.5,571.9 971.6,576.8 974.8,580.0 971.6,583.2 976.5,588.1 979.7,584.9 982.9,588.1 987.8,583.2 984.6,580.0 987.8,576.8ZM987.0,563.0 983.8,566.2 980.6,563.0 975.7,567.9 978.9,571.1 975.7,574.3 980.6,579.2 983.8,576.0 987.0,579.2 991.9,574.3 988.7,571.1 991.9,567.9ZM991.1,576.3 987.9,579.5 984.7,576.3 979.8,581.2 983.0,584.4 979.8,587.6 984.7,592.5 987.9,589.3 991.1,592.5 996.0,587.6 992.8,584.4 996.0,581.2ZM995.2,565.7 992.0,568.9 988.8,565.7 983.9,570.6 987.1,573.8 983.9,577.0 988.8,581.9 992.0,578.7 995.2,581.9 1000.1,577.0 996.9,573.8 1000.1,570.6ZM999.3,609.1 996.1,612.3 992.9,609.1 988.0,614.0 991.2,617.2 988.0,620.4 992.9,625.3 996.1,622.1 999.3,625.3 1004.2,620.4 1001.0,617.2 1004.2,614.0ZM1003.4,570.4 1000.2,573.6 997.0,570.4 992.0,575.3 995.3,578.5 992.0,581.7 997.0,586.6 1000.2,583.4 1003.4,586.6 1008.3,581.7 1005.1,578.5 1008.3,575.3ZM1007.4,621.9 1004.2,625.1 1001.0,621.9 996.1,626.8 999.3,630.1 996.1,633.3 1001.0,638.2 1004.2,635.0 1007.4,638.2 1012.3,633.3 1009.1,630.1 1012.3,626.8ZM1011.5,601.7 1008.3,604.9 1005.1,601.7 1000.2,606.6 1003.4,609.8 1000.2,613.0 1005.1,617.9 1008.3,614.7 1011.5,617.9 1016.4,613.0 1013.2,609.8 1016.4,606.6ZM1015.5,559.4 1012.3,562.6 1009.1,559.4 1004.2,564.3 1007.4,567.5 1004.2,570.7 1009.1,575.6 1012.3,572.4 1015.5,575.6 1020.4,570.7 1017.2,567.5 1020.4,564.3ZM1019.6,565.3 1016.4,568.5 1013.2,565.3 1008.3,570.2 1011.5,573.4 1008.3,576.6 1013.2,581.5 1016.4,578.3 1019.6,581.5 1024.5,576.6 1021.3,573.4 1024.5,570.2ZM1023.6,635.0 1020.4,638.2 1017.2,635.0 1012.3,639.9 1015.5,643.1 1012.3,646.3 1017.2,651.2 1020.4,648.0 1023.6,651.2 1028.5,646.3 1025.3,643.1 1028.5,639.9ZM1027.6,571.8 1024.4,575.0 1021.2,571.8 1016.3,576.7 1019.5,579.9 1016.3,583.1 1021.2,588.0 1024.4,584.8 1027.6,588.0 1032.6,583.1 1029.4,579.9 1032.6,576.7ZM1031.7,595.2 1028.5,598.4 1025.3,595.2 1020.4,600.1 1023.6,603.3 1020.4,606.5 1025.3,611.4 1028.5,608.2 1031.7,611.4 1036.6,606.5 1033.4,603.3 1036.6,600.1ZM1035.7,608.9 1032.5,612.1 1029.3,608.9 1024.4,613.8 1027.6,617.0 1024.4,620.2 1029.3,625.1 1032.5,621.9 1035.7,625.1 1040.6,620.2 1037.4,617.0 1040.6,613.8ZM1039.7,583.5 1036.5,586.7 1033.3,583.5 1028.4,588.4 1031.6,591.6 1028.4,594.8 1033.3,599.7 1036.5,596.5 1039.7,599.7 1044.6,594.8 1041.4,591.6 1044.6,588.4ZM1043.7,586.2 1040.5,589.4 1037.3,586.2 1032.4,591.2 1035.6,594.4 1032.4,597.6 1037.3,602.5 1040.5,599.3 1043.7,602.5 1048.6,597.6 1045.4,594.4 1048.6,591.2ZM1047.7,559.8 1044.5,563.0 1041.3,559.8 1036.3,564.7 1039.6,567.9 1036.3,571.1 1041.3,576.0 1044.5,572.8 1047.7,576.0 1052.6,571.1 1049.4,567.9 1052.6,564.7ZM1051.6,633.1 1048.4,636.3 1045.2,633.1 1040.3,638.0 1043.5,641.2 1040.3,644.4 1045.2,649.3 1048.4,646.1 1051.6,649.3 1056.5,644.4 1053.3,641.2 1056.5,638.0ZM1055.6,601.5 1052.4,604.7 1049.2,601.5 1044.3,606.4 1047.5,609.6 1044.3,612.8 1049.2,617.7 1052.4,614.5 1055.6,617.7 1060.5,612.8 1057.3,609.6 1060.5,606.4ZM1059.6,592.2 1056.4,595.4 1053.2,592.2 1048.3,597.1 1051.5,600.3 1048.3,603.5 1053.2,608.5 1056.4,605.3 1059.6,608.5 1064.5,603.5 1061.3,600.3 1064.5,597.1ZM1063.5,634.6 1060.3,637.8 1057.1,634.6 1052.2,639.5 1055.4,642.7 1052.2,645.9 1057.1,650.8 1060.3,647.6 1063.5,650.8 1068.4,645.9 1065.2,642.7 1068.4,639.5ZM1067.5,557.6 1064.3,560.8 1061.1,557.6 1056.2,562.5 1059.4,565.7 1056.2,568.9 1061.1,573.8 1064.3,570.6 1067.5,573.8 1072.4,568.9 1069.2,565.7 1072.4,562.5ZM1071.4,539.8 1068.2,543.0 1065.0,539.8 1060.1,544.7 1063.3,548.0 1060.1,551.2 1065.0,556.1 1068.2,552.9 1071.4,556.1 1076.3,551.2 1073.1,548.0 1076.3,544.7ZM1075.3,593.6 1072.1,596.8 1068.9,593.6 1064.0,598.5 1067.2,601.7 1064.0,604.9 1068.9,609.8 1072.1,606.6 1075.3,609.8 1080.3,604.9 1077.1,601.7 1080.3,598.5ZM1079.3,566.3 1076.1,569.5 1072.9,566.3 1068.0,571.2 1071.2,574.4 1068.0,577.6 1072.9,582.5 1076.1,579.3 1079.3,582.5 1084.2,577.6 1081.0,574.4 1084.2,571.2ZM1083.2,594.6 1080.0,597.8 1076.8,594.6 1071.9,599.5 1075.1,602.7 1071.9,605.9 1076.8,610.8 1080.0,607.6 1083.2,610.8 1088.1,605.9 1084.9,602.7 1088.1,599.5ZM1087.1,590.6 1083.9,593.8 1080.7,590.6 1075.8,595.5 1079.0,598.7 1075.8,601.9 1080.7,606.8 1083.9,603.6 1087.1,606.8 1092.0,601.9 1088.8,598.7 1092.0,595.5ZM1091.0,615.5 1087.8,618.8 1084.6,615.5 1079.7,620.5 1082.9,623.7 1079.7,626.9 1084.6,631.8 1087.8,628.6 1091.0,631.8 1095.9,626.9 1092.7,623.7 1095.9,620.5ZM1094.9,577.4 1091.7,580.6 1088.5,577.4 1083.6,582.3 1086.8,585.5 1083.6,588.7 1088.5,593.6 1091.7,590.4 1094.9,593.6 1099.8,588.7 1096.6,585.5 1099.8,582.3ZM1098.8,626.8 1095.6,630.0 1092.4,626.8 1087.5,631.8 1090.7,635.0 1087.5,638.2 1092.4,643.1 1095.6,639.9 1098.8,643.1 1103.7,638.2 1100.5,635.0 1103.7,631.8ZM1102.7,568.1 1099.5,571.3 1096.3,568.1 1091.3,573.0 1094.5,576.2 1091.3,579.4 1096.3,584.3 1099.5,581.1 1102.7,584.3 1107.6,579.4 1104.4,576.2 1107.6,573.0ZM1106.5,594.2 1103.3,597.4 1100.1,594.2 1095.2,599.1 1098.4,602.3 1095.2,605.5 1100.1,610.4 1103.3,607.2 1106.5,610.4 1111.4,605.5 1108.2,602.3 1111.4,599.1ZM1110.4,534.4 1107.2,537.6 1104.0,534.4 1099.1,539.3 1102.3,542.5 1099.1,545.7 1104.0,550.6 1107.2,547.4 1110.4,550.6 1115.3,545.7 1112.1,542.5 1115.3,539.3ZM1114.2,627.0 1111.0,630.2 1107.8,627.0 1102.9,631.9 1106.1,635.1 1102.9,638.3 1107.8,643.2 1111.0,640.0 1114.2,643.2 1119.2,638.3 1116.0,635.1 1119.2,631.9ZM1118.1,590.9 1114.9,594.1 1111.7,590.9 1106.8,595.8 1110.0,599.0 1106.8,602.2 1111.7,607.1 1114.9,603.9 1118.1,607.1 1123.0,602.2 1119.8,599.0 1123.0,595.8Z"/>
<line clip-path="url(#clipA)" x1="302.8" y1="416.7" x2="1101.1" y2="619.9" stroke="#000" stroke-width="7.5" stroke-dasharray="26,9.5"/>
<path clip-path="url(#clipA)" fill="#ff0000" d="M290.6,473.7a9.4,9.4 0 1,0 18.8,0a9.4,9.4 0 1,0 -18.8,0ZM296.4,547.4a9.4,9.4 0 1,0 18.8,0a9.4,9.4 0 1,0 -18.8,0ZM302.1,499.7a9.4,9.4 0 1,0 18.8,0a9.4,9.4 0 1,0 -18.8,0ZM307.9,514.0a9.4,9.4 0 1,0 18.8,0a9.4,9.4 0 1,0 -18.8,0ZM313.6,498.6a9.4,9.4 0 1,0 18.8,0a9.4,9.4 0 1,0 -18.8,0ZM319.3,517.6a9.4,9.4 0 1,0 18.8,0a9.4,9.4 0 1,0 -18.8,0ZM325.0,499.4a9.4,9.4 0 1,0 18.8,0a9.4,9.4 0 1,0 -18.8,0ZM330.7,515.9a9.4,9.4 0 1,0 18.8,0a9.4,9.4 0 1,0 -18.8,0ZM336.3,517.5a9.4,9.4 0 1,0 18.8,0a9.4,9.4 0 1,0 -18.8,0ZM342.0,510.6a9.4,9.4 0 1,0 18.8,0a9.4,9.4 0 1,0 -18.8,0ZM347.6,516.6a9.4,9.4 0 1,0 18.8,0a9.4,9.4 0 1,0 -18.8,0ZM353.2,527.0a9.4,9.4 0 1,0 18.8,0a9.4,9.4 0 1,0 -18.8,0ZM358.8,528.9a9.4,9.4 0 1,0 18.8,0a9.4,9.4 0 1,0 -18.8,0ZM364.4,525.0a9.4,9.4 0 1,0 18.8,0a9.4,9.4 0 1,0 -18.8,0ZM370.0,537.8a9.4,9.4 0 1,0 18.8,0a9.4,9.4 0 1,0 -18.8,0ZM375.5,560.0a9.4,9.4 0 1,0 18.8,0a9.4,9.4 0 1,0 -18.8,0ZM381.1,554.3a9.4,9.4 0 1,0 18.8,0a9.4,9.4 0 1,0 -18.8,0ZM386.6,574.1a9.4,9.4 0 1,0 18.8,0a9.4,9.4 0 1,0 -18.8,0ZM392.1,532.9a9.4,9.4 0 1,0 18.8,0a9.4,9.4 0 1,0 -18.8,0ZM397.6,561.1a9.4,9.4 0 1,0 18.8,0a9.4,9.4 0 1,0 -18.8,0ZM403.1,533.8a9.4,9.4 0 1,0 18.8,0a9.4,9.4 0 1,0 -18.8,0ZM408.5,542.1a9.4,9.4 0 1,0 18.8,0a9.4,9.4 0 1,0 -18.8,0ZM414.0,519.7a9.4,9.4 0 1,0 18.8,0a9.4,9.4 0 1,0 -18.8,0ZM419.4,529.5a9.4,9.4 0 1,0 18.8,0a9.4,9.4 0 1,0 -18.8,0ZM424.8,550.2a9.4,9.4 0 1,0 18.8,0a9.4,9.4 0 1,0 -18.8,0ZM430.2,527.9a9.4,9.4 0 1,0 18.8,0a9.4,9.4 0 1,0 -18.8,0ZM435.6,566.6a9.4,9.4 0 1,0 18.8,0a9.4,9.4 0 1,0 -18.8,0ZM441.0,535.7a9.4,9.4 0 1,0 18.8,0a9.4,9.4 0 1,0 -18.8,0ZM446.3,578.5a9.4,9.4 0 1,0 18.8,0a9.4,9.4 0 1,0 -18.8,0ZM451.7,550.0a9.4,9.4 0 1,0 18.8,0a9.4,9.4 0 1,0 -18.8,0ZM457.0,540.8a9.4,9.4 0 1,0 18.8,0a9.4,9.4 0 1,0 -18.8,0ZM462.3,551.1a9.4,9.4 0 1,0 18.8,0a9.4,9.4 0 1,0 -18.8,0ZM467.6,564.3a9.4,9.4 0 1,0 18.8,0a9.4,9.4 0 1,0 -18.8,0ZM472.9,564.9a9.4,9.4 0 1,0 18.8,0a9.4,9.4 0 1,0 -18.8,0ZM478.2,557.0a9.4,9.4 0 1,0 18.8,0a9.4,9.4 0 1,0 -18.8,0ZM483.4,538.8a9.4,9.4 0 1,0 18.8,0a9.4,9.4 0 1,0 -18.8,0ZM488.7,541.6a9.4,9.4 0 1,0 18.8,0a9.4,9.4 0 1,0 -18.8,0ZM493.9,559.8a9.4,9.4 0 1,0 18.8,0a9.4,9.4 0 1,0 -18.8,0ZM499.1,575.5a9.4,9.4 0 1,0 18.8,0a9.4,9.4 0 1,0 -18.8,0ZM504.3,545.4a9.4,9.4 0 1,0 18.8,0a9.4,9.4 0 1,0 -18.8,0ZM509.5,575.7a9.4,9.4 0 1,0 18.8,0a9.4,9.4 0 1,0 -18.8,0ZM514.7,560.5a9.4,9.4 0 1,0 18.8,0a9.4,9.4 0 1,0 -18.8,0ZM519.9,567.1a9.4,9.4 0 1,0 18.8,0a9.4,9.4 0 1,0 -18.8,0ZM525.0,551.3a9.4,9.4 0 1,0 18.8,0a9.4,9.4 0 1,0 -18.8,0ZM530.1,556.8a9.4,9.4 0 1,0 18.8,0a9.4,9.4 0 1,0 -18.8,0ZM535.3,558.7a9.4,9.4 0 1,0 18.8,0a9.4,9.4 0 1,0 -18.8,0ZM540.4,567.4a9.4,9.4 0 1,0 18.8,0a9.4,9.4 0 1,0 -18.8,0ZM545.5,581.5a9.4,9.4 0 1,0 18.8,0a9.4,9.4 0 1,0 -18.8,0ZM550.6,567.1a9.4,9.4 0 1,0 18.8,0a9.4,9.4 0 1,0 -18.8,0ZM555.6,551.3a9.4,9.4 0 1,0 18.8,0a9.4,9.4 0 1,0 -18.8,0ZM560.7,570.8a9.4,9.4 0 1,0 18.8,0a9.4,9.4 0 1,0 -18.8,0ZM565.7,562.5a9.4,9.4 0 1,0 18.8,0a9.4,9.4 0 1,0 -18.8,0ZM570.8,572.1a9.4,9.4 0 1,0 18.8,0a9.4,9.4 0 1,0 -18.8,0ZM575.8,555.2a9.4,9.4 0 1,0 18.8,0a9.4,9.4 0 1,0 -18.8,0ZM580.8,566.1a9.4,9.4 0 1,0 18.8,0a9.4,9.4 0 1,0 -18.8,0ZM585.8,570.4a9.4,9.4 0 1,0 18.8,0a9.4,9.4 0 1,0 -18.8,0ZM590.8,576.8a9.4,9.4 0 1,0 18.8,0a9.4,9.4 0 1,0 -18.8,0ZM595.7,561.6a9.4,9.4 0 1,0 18.8,0a9.4,9.4 0 1,0 -18.8,0ZM600.7,594.7a9.4,9.4 0 1,0 18.8,0a9.4,9.4 0 1,0 -18.8,0ZM605.6,594.5a9.4,9.4 0 1,0 18.8,0a9.4,9.4 0 1,0 -18.8,0ZM610.6,601.8a9.4,9.4 0 1,0 18.8,0a9.4,9.4 0 1,0 -18.8,0ZM615.5,582.6a9.4,9.4 0 1,0 18.8,0a9.4,9.4 0 1,0 -18.8,0ZM620.4,598.3a9.4,9.4 0 1,0 18.8,0a9.4,9.4 0 1,0 -18.8,0ZM625.3,600.2a9.4,9.4 0 1,0 18.8,0a9.4,9.4 0 1,0 -18.8,0ZM630.2,574.8a9.4,9.4 0 1,0 18.8,0a9.4,9.4 0 1,0 -18.8,0ZM635.1,570.9a9.4,9.4 0 1,0 18.8,0a9.4,9.4 0 1,0 -18.8,0ZM639.9,583.3a9.4,9.4 0 1,0 18.8,0a9.4,9.4 0 1,0 -18.8,0ZM644.8,634.2a9.4,9.4 0 1,0 18.8,0a9.4,9.4 0 1,0 -18.8,0ZM649.6,609.3a9.4,9.4 0 1,0 18.8,0a9.4,9.4 0 1,0 -18.8,0ZM654.4,610.2a9.4,9.4 0 1,0 18.8,0a9.4,9.4 0 1,0 -18.8,0ZM659.3,619.9a9.4,9.4 0 1,0 18.8,0a9.4,9.4 0 1,0 -18.8,0ZM664.1,610.9a9.4,9.4 0 1,0 18.8,0a9.4,9.4 0 1,0 -18.8,0ZM668.8,580.3a9.4,9.4 0 1,0 18.8,0a9.4,9.4 0 1,0 -18.8,0ZM673.6,616.7a9.4,9.4 0 1,0 18.8,0a9.4,9.4 0 1,0 -18.8,0ZM678.4,624.4a9.4,9.4 0 1,0 18.8,0a9.4,9.4 0 1,0 -18.8,0ZM683.2,601.9a9.4,9.4 0 1,0 18.8,0a9.4,9.4 0 1,0 -18.8,0ZM687.9,613.8a9.4,9.4 0 1,0 18.8,0a9.4,9.4 0 1,0 -18.8,0ZM692.6,606.8a9.4,9.4 0 1,0 18.8,0a9.4,9.4 0 1,0 -18.8,0ZM697.4,628.0a9.4,9.4 0 1,0 18.8,0a9.4,9.4 0 1,0 -18.8,0ZM702.1,615.4a9.4,9.4 0 1,0 18.8,0a9.4,9.4 0 1,0 -18.8,0ZM706.8,603.6a9.4,9.4 0 1,0 18.8,0a9.4,9.4 0 1,0 -18.8,0ZM711.5,640.3a9.4,9.4 0 1,0 18.8,0a9.4,9.4 0 1,0 -18.8,0ZM716.1,636.2a9.4,9.4 0 1,0 18.8,0a9.4,9.4 0 1,0 -18.8,0ZM720.8,599.1a9.4,9.4 0 1,0 18.8,0a9.4,9.4 0 1,0 -18.8,0ZM725.5,599.2a9.4,9.4 0 1,0 18.8,0a9.4,9.4 0 1,0 -18.8,0ZM730.1,621.2a9.4,9.4 0 1,0 18.8,0a9.4,9.4 0 1,0 -18.8,0ZM734.7,627.1a9.4,9.4 0 1,0 18.8,0a9.4,9.4 0 1,0 -18.8,0ZM739.4,618.5a9.4,9.4 0 1,0 18.8,0a9.4,9.4 0 1,0 -18.8,0ZM744.0,640.3a9.4,9.4 0 1,0 18.8,0a9.4,9.4 0 1,0 -18.8,0ZM748.6,630.4a9.4,9.4 0 1,0 18.8,0a9.4,9.4 0 1,0 -18.8,0ZM753.2,594.4a9.4,9.4 0 1,0 18.8,0a9.4,9.4 0 1,0 -18.8,0ZM757.8,624.4a9.4,9.4 0 1,0 18.8,0a9.4,9.4 0 1,0 -18.8,0ZM762.3,603.4a9.4,9.4 0 1,0 18.8,0a9.4,9.4 0 1,0 -18.8,0ZM766.9,632.9a9.4,9.4 0 1,0 18.8,0a9.4,9.4 0 1,0 -18.8,0ZM771.4,623.7a9.4,9.4 0 1,0 18.8,0a9.4,9.4 0 1,0 -18.8,0ZM776.0,607.7a9.4,9.4 0 1,0 18.8,0a9.4,9.4 0 1,0 -18.8,0ZM780.5,653.0a9.4,9.4 0 1,0 18.8,0a9.4,9.4 0 1,0 -18.8,0ZM785.0,638.0a9.4,9.4 0 1,0 18.8,0a9.4,9.4 0 1,0 -18.8,0ZM789.5,637.2a9.4,9.4 0 1,0 18.8,0a9.4,9.4 0 1,0 -18.8,0ZM794.0,629.6a9.4,9.4 0 1,0 18.8,0a9.4,9.4 0 1,0 -18.8,0ZM798.5,607.9a9.4,9.4 0 1,0 18.8,0a9.4,9.4 0 1,0 -18.8,0ZM803.0,623.4a9.4,9.4 0 1,0 18.8,0a9.4,9.4 0 1,0 -18.8,0ZM807.5,663.0a9.4,9.4 0 1,0 18.8,0a9.4,9.4 0 1,0 -18.8,0ZM811.9,641.8a9.4,9.4 0 1,0 18.8,0a9.4,9.4 0 1,0 -18.8,0ZM816.4,656.3a9.4,9.4 0 1,0 18.8,0a9.4,9.4 0 1,0 -18.8,0ZM820.8,661.3a9.4,9.4 0 1,0 18.8,0a9.4,9.4 0 1,0 -18.8,0ZM825.3,608.7a9.4,9.4 0 1,0 18.8,0a9.4,9.4 0 1,0 -18.8,0ZM829.7,658.6a9.4,9.4 0 1,0 18.8,0a9.4,9.4 0 1,0 -18.8,0ZM834.1,636.2a9.4,9.4 0 1,0 18.8,0a9.4,9.4 0 1,0 -18.8,0ZM838.5,653.6a9.4,9.4 0 1,0 18.8,0a9.4,9.4 0 1,0 -18.8,0ZM842.9,624.8a9.4,9.4 0 1,0 18.8,0a9.4,9.4 0 1,0 -18.8,0ZM847.3,627.5a9.4,9.4 0 1,0 18.8,0a9.4,9.4 0 1,0 -18.8,0ZM851.6,625.5a9.4,9.4 0 1,0 18.8,0a9.4,9.4 0 1,0 -18.8,0ZM856.0,630.1a9.4,9.4 0 1,0 18.8,0a9.4,9.4 0 1,0 -18.8,0ZM860.3,613.2a9.4,9.4 0 1,0 18.8,0a9.4,9.4 0 1,0 -18.8,0ZM864.7,651.0a9.4,9.4 0 1,0 18.8,0a9.4,9.4 0 1,0 -18.8,0ZM869.0,654.0a9.4,9.4 0 1,0 18.8,0a9.4,9.4 0 1,0 -18.8,0ZM873.3,663.8a9.4,9.4 0 1,0 18.8,0a9.4,9.4 0 1,0 -18.8,0ZM877.7,624.1a9.4,9.4 0 1,0 18.8,0a9.4,9.4 0 1,0 -18.8,0ZM882.0,659.5a9.4,9.4 0 1,0 18.8,0a9.4,9.4 0 1,0 -18.8,0ZM886.3,673.9a9.4,9.4 0 1,0 18.8,0a9.4,9.4 0 1,0 -18.8,0ZM890.5,661.9a9.4,9.4 0 1,0 18.8,0a9.4,9.4 0 1,0 -18.8,0ZM894.8,614.6a9.4,9.4 0 1,0 18.8,0a9.4,9.4 0 1,0 -18.8,0ZM899.1,658.9a9.4,9.4 0 1,0 18.8,0a9.4,9.4 0 1,0 -18.8,0ZM903.4,644.6a9.4,9.4 0 1,0 18.8,0a9.4,9.4 0 1,0 -18.8,0ZM907.6,651.4a9.4,9.4 0 1,0 18.8,0a9.4,9.4 0 1,0 -18.8,0ZM911.8,660.0a9.4,9.4 0 1,0 18.8,0a9.4,9.4 0 1,0 -18.8,0ZM916.1,677.5a9.4,9.4 0 1,0 18.8,0a9.4,9.4 0 1,0 -18.8,0ZM920.3,670.0a9.4,9.4 0 1,0 18.8,0a9.4,9.4 0 1,0 -18.8,0ZM924.5,663.8a9.4,9.4 0 1,0 18.8,0a9.4,9.4 0 1,0 -18.8,0ZM928.7,699.0a9.4,9.4 0 1,0 18.8,0a9.4,9.4 0 1,0 -18.8,0ZM932.9,606.4a9.4,9.4 0 1,0 18.8,0a9.4,9.4 0 1,0 -18.8,0ZM937.1,642.3a9.4,9.4 0 1,0 18.8,0a9.4,9.4 0 1,0 -18.8,0ZM941.3,660.8a9.4,9.4 0 1,0 18.8,0a9.4,9.4 0 1,0 -18.8,0ZM945.5,662.4a9.4,9.4 0 1,0 18.8,0a9.4,9.4 0 1,0 -18.8,0ZM949.6,681.2a9.4,9.4 0 1,0 18.8,0a9.4,9.4 0 1,0 -18.8,0ZM953.8,654.4a9.4,9.4 0 1,0 18.8,0a9.4,9.4 0 1,0 -18.8,0ZM957.9,678.4a9.4,9.4 0 1,0 18.8,0a9.4,9.4 0 1,0 -18.8,0ZM962.0,665.6a9.4,9.4 0 1,0 18.8,0a9.4,9.4 0 1,0 -18.8,0ZM966.2,694.7a9.4,9.4 0 1,0 18.8,0a9.4,9.4 0 1,0 -18.8,0ZM970.3,662.4a9.4,9.4 0 1,0 18.8,0a9.4,9.4 0 1,0 -18.8,0ZM974.4,634.8a9.4,9.4 0 1,0 18.8,0a9.4,9.4 0 1,0 -18.8,0ZM978.5,681.6a9.4,9.4 0 1,0 18.8,0a9.4,9.4 0 1,0 -18.8,0ZM982.6,658.0a9.4,9.4 0 1,0 18.8,0a9.4,9.4 0 1,0 -18.8,0ZM986.7,670.1a9.4,9.4 0 1,0 18.8,0a9.4,9.4 0 1,0 -18.8,0ZM990.8,650.1a9.4,9.4 0 1,0 18.8,0a9.4,9.4 0 1,0 -18.8,0ZM994.8,661.3a9.4,9.4 0 1,0 18.8,0a9.4,9.4 0 1,0 -18.8,0ZM998.9,678.9a9.4,9.4 0 1,0 18.8,0a9.4,9.4 0 1,0 -18.8,0ZM1002.9,693.1a9.4,9.4 0 1,0 18.8,0a9.4,9.4 0 1,0 -18.8,0ZM1007.0,677.7a9.4,9.4 0 1,0 18.8,0a9.4,9.4 0 1,0 -18.8,0ZM1011.0,687.5a9.4,9.4 0 1,0 18.8,0a9.4,9.4 0 1,0 -18.8,0ZM1015.0,702.4a9.4,9.4 0 1,0 18.8,0a9.4,9.4 0 1,0 -18.8,0ZM1019.1,683.9a9.4,9.4 0 1,0 18.8,0a9.4,9.4 0 1,0 -18.8,0ZM1023.1,678.2a9.4,9.4 0 1,0 18.8,0a9.4,9.4 0 1,0 -18.8,0ZM1027.1,707.2a9.4,9.4 0 1,0 18.8,0a9.4,9.4 0 1,0 -18.8,0ZM1031.1,690.8a9.4,9.4 0 1,0 18.8,0a9.4,9.4 0 1,0 -18.8,0ZM1035.1,625.6a9.4,9.4 0 1,0 18.8,0a9.4,9.4 0 1,0 -18.8,0ZM1039.0,667.5a9.4,9.4 0 1,0 18.8,0a9.4,9.4 0 1,0 -18.8,0ZM1043.0,685.1a9.4,9.4 0 1,0 18.8,0a9.4,9.4 0 1,0 -18.8,0ZM1047.0,640.3a9.4,9.4 0 1,0 18.8,0a9.4,9.4 0 1,0 -18.8,0ZM1050.9,699.6a9.4,9.4 0 1,0 18.8,0a9.4,9.4 0 1,0 -18.8,0ZM1054.9,734.0a9.4,9.4 0 1,0 18.8,0a9.4,9.4 0 1,0 -18.8,0ZM1058.8,726.2a9.4,9.4 0 1,0 18.8,0a9.4,9.4 0 1,0 -18.8,0ZM1062.7,714.8a9.4,9.4 0 1,0 18.8,0a9.4,9.4 0 1,0 -18.8,0ZM1066.7,677.7a9.4,9.4 0 1,0 18.8,0a9.4,9.4 0 1,0 -18.8,0ZM1070.6,658.4a9.4,9.4 0 1,0 18.8,0a9.4,9.4 0 1,0 -18.8,0ZM1074.5,724.7a9.4,9.4 0 1,0 18.8,0a9.4,9.4 0 1,0 -18.8,0ZM1078.4,663.0a9.4,9.4 0 1,0 18.8,0a9.4,9.4 0 1,0 -18.8,0ZM1082.3,716.5a9.4,9.4 0 1,0 18.8,0a9.4,9.4 0 1,0 -18.8,0ZM1086.2,684.0a9.4,9.4 0 1,0 18.8,0a9.4,9.4 0 1,0 -18.8,0ZM1090.1,684.6a9.4,9.4 0 1,0 18.8,0a9.4,9.4 0 1,0 -18.8,0ZM1093.9,685.0a9.4,9.4 0 1,0 18.8,0a9.4,9.4 0 1,0 -18.8,0ZM1097.8,696.8a9.4,9.4 0 1,0 18.8,0a9.4,9.4 0 1,0 -18.8,0ZM1101.6,689.1a9.4,9.4 0 1,0 18.8,0a9.4,9.4 0 1,0 -18.8,0ZM1105.5,713.5a9.4,9.4 0 1,0 18.8,0a9.4,9.4 0 1,0 -18.8,0Z"/>
<line clip-path="url(#clipA)" x1="302.8" y1="515.0" x2="1101.1" y2="708.1" stroke="#000" stroke-width="7.5" stroke-dasharray="26,9.5"/>
<rect x="257.6" y="90" width="897.9" height="864.5" fill="none" stroke="#000" stroke-width="6.5"/>
<line x1="230.6" y1="162.0" x2="257.6" y2="162.0" stroke="#000" stroke-width="6.5"/>
<text x="208.1" y="180.0" font-size="52" text-anchor="end" textLength="67.5" lengthAdjust="spacingAndGlyphs" fill="#000">0.4</text>
<line x1="230.6" y1="306.1" x2="257.6" y2="306.1" stroke="#000" stroke-width="6.5"/>
<text x="208.1" y="324.1" font-size="52" text-anchor="end" textLength="67.5" lengthAdjust="spacingAndGlyphs" fill="#000">0.2</text>
<line x1="230.6" y1="450.2" x2="257.6" y2="450.2" stroke="#000" stroke-width="6.5"/>
<text x="208.1" y="468.2" font-size="52" text-anchor="end" textLength="67.5" lengthAdjust="spacingAndGlyphs" fill="#000">0.0</text>
<line x1="230.6" y1="594.3" x2="257.6" y2="594.3" stroke="#000" stroke-width="6.5"/>
<text x="208.1" y="612.3" font-size="52" text-anchor="end" textLength="109.0" lengthAdjust="spacingAndGlyphs" fill="#000">−0.2</text>
<line x1="230.6" y1="738.4" x2="257.6" y2="738.4" stroke="#000" stroke-width="6.5"/>
<text x="208.1" y="756.4" font-size="52" text-anchor="end" textLength="109.0" lengthAdjust="spacingAndGlyphs" fill="#000">−0.4</text>
<line x1="230.6" y1="882.5" x2="257.6" y2="882.5" stroke="#000" stroke-width="6.5"/>
<text x="208.1" y="900.5" font-size="52" text-anchor="end" textLength="109.0" lengthAdjust="spacingAndGlyphs" fill="#000">−0.6</text>
<text x="389.6" y="1038.0" font-size="52" text-anchor="middle" textLength="139.0" lengthAdjust="spacingAndGlyphs" fill="#000">−0.70</text>
<text x="619.2" y="1038.0" font-size="52" text-anchor="middle" textLength="139.0" lengthAdjust="spacingAndGlyphs" fill="#000">−0.65</text>
<text x="848.9" y="1038.0" font-size="52" text-anchor="middle" textLength="139.0" lengthAdjust="spacingAndGlyphs" fill="#000">−0.60</text>
<text x="1078.6" y="1038.0" font-size="52" text-anchor="middle" textLength="139.0" lengthAdjust="spacingAndGlyphs" fill="#000">−0.55</text>
<text x="704.0" y="1113.0" font-size="52" text-anchor="middle" textLength="162.0" lengthAdjust="spacingAndGlyphs" fill="#000">Log(q)</text>
<text transform="translate(61.6,525) rotate(-90)" font-size="52" text-anchor="middle" textLength="151" lengthAdjust="spacingAndGlyphs">Log(I)</text>
<text x="706.5" y="55.0" font-size="54" text-anchor="middle" font-weight="bold" fill="#000">A</text>
<line x1="755" y1="154" x2="869" y2="154" stroke="#000" stroke-width="12.5"/>
<line x1="755" y1="226.5" x2="869" y2="226.5" stroke="#ff0000" stroke-width="12.5"/>
<line x1="755" y1="298.5" x2="869" y2="298.5" stroke="#008000" stroke-width="12.5"/>
<text x="905.0" y="172.0" font-size="52" textLength="106.0" lengthAdjust="spacingAndGlyphs" fill="#000">Hst5</text>
<text x="905.0" y="237.5" font-size="52" textLength="106.0" lengthAdjust="spacingAndGlyphs" fill="#000">Hst5</text>
<text x="1012.0" y="248.0" font-size="34" textLength="73.0" lengthAdjust="spacingAndGlyphs" fill="#000">DZM</text>
<text x="905.0" y="310.0" font-size="52" textLength="106.0" lengthAdjust="spacingAndGlyphs" fill="#000">Hst5</text>
<text x="1012.0" y="320.0" font-size="34" textLength="39.0" lengthAdjust="spacingAndGlyphs" fill="#000">2H</text>
<clipPath id="clipB"><rect x="1475.4" y="90" width="898.0999999999999" height="864.5"/></clipPath>
<path clip-path="url(#clipB)" fill="#000" d="M1521.0,245.1 1517.8,248.3 1514.6,245.1 1509.7,250.1 1512.9,253.3 1509.7,256.5 1514.6,261.4 1517.8,258.2 1521.0,261.4 1525.9,256.5 1522.7,253.3 1525.9,250.1ZM1525.7,270.2 1522.5,273.4 1519.3,270.2 1514.4,275.1 1517.6,278.3 1514.4,281.5 1519.3,286.4 1522.5,283.2 1525.7,286.4 1530.6,281.5 1527.4,278.3 1530.6,275.1ZM1530.4,182.5 1527.2,185.7 1524.0,182.5 1519.1,187.4 1522.3,190.6 1519.1,193.8 1524.0,198.7 1527.2,195.5 1530.4,198.7 1535.3,193.8 1532.1,190.6 1535.3,187.4ZM1535.1,180.9 1531.9,184.1 1528.7,180.9 1523.8,185.8 1527.0,189.0 1523.8,192.2 1528.7,197.1 1531.9,193.9 1535.1,197.1 1540.0,192.2 1536.8,189.0 1540.0,185.8ZM1539.7,191.9 1536.5,195.1 1533.3,191.9 1528.4,196.8 1531.6,200.0 1528.4,203.2 1533.3,208.1 1536.5,204.9 1539.7,208.1 1544.6,203.2 1541.4,200.0 1544.6,196.8ZM1544.4,229.2 1541.2,232.4 1538.0,229.2 1533.1,234.1 1536.3,237.3 1533.1,240.5 1538.0,245.4 1541.2,242.2 1544.4,245.4 1549.3,240.5 1546.1,237.3 1549.3,234.1ZM1549.1,223.5 1545.9,226.7 1542.7,223.5 1537.7,228.4 1541.0,231.7 1537.7,234.9 1542.7,239.8 1545.9,236.6 1549.1,239.8 1554.0,234.9 1550.8,231.7 1554.0,228.4ZM1553.7,233.7 1550.5,236.9 1547.3,233.7 1542.4,238.6 1545.6,241.8 1542.4,245.0 1547.3,249.9 1550.5,246.7 1553.7,249.9 1558.6,245.0 1555.4,241.8 1558.6,238.6ZM1558.4,194.3 1555.2,197.5 1552.0,194.3 1547.0,199.2 1550.3,202.4 1547.0,205.6 1552.0,210.5 1555.2,207.3 1558.4,210.5 1563.3,205.6 1560.1,202.4 1563.3,199.2ZM1563.0,205.6 1559.8,208.8 1556.6,205.6 1551.7,210.5 1554.9,213.7 1551.7,216.9 1556.6,221.8 1559.8,218.6 1563.0,221.8 1567.9,216.9 1564.7,213.7 1567.9,210.5ZM1567.6,220.9 1564.4,224.1 1561.2,220.9 1556.3,225.9 1559.5,229.1 1556.3,232.3 1561.2,237.2 1564.4,234.0 1567.6,237.2 1572.5,232.3 1569.3,229.1 1572.5,225.9ZM1572.3,208.4 1569.1,211.6 1565.9,208.4 1560.9,213.3 1564.1,216.5 1560.9,219.7 1565.9,224.6 1569.1,221.4 1572.3,224.6 1577.2,219.7 1574.0,216.5 1577.2,213.3ZM1576.9,195.6 1573.7,198.8 1570.5,195.6 1565.6,200.5 1568.8,203.7 1565.6,206.9 1570.5,211.8 1573.7,208.6 1576.9,211.8 1581.8,206.9 1578.6,203.7 1581.8,200.5ZM1581.5,224.5 1578.3,227.7 1575.1,224.5 1570.2,229.4 1573.4,232.7 1570.2,235.9 1575.1,240.8 1578.3,237.6 1581.5,240.8 1586.4,235.9 1583.2,232.7 1586.4,229.4ZM1586.1,259.9 1582.9,263.1 1579.7,259.9 1574.8,264.8 1578.0,268.0 1574.8,271.2 1579.7,276.2 1582.9,273.0 1586.1,276.2 1591.0,271.2 1587.8,268.0 1591.0,264.8ZM1590.7,153.9 1587.5,157.1 1584.3,153.9 1579.4,158.8 1582.6,162.0 1579.4,165.2 1584.3,170.2 1587.5,166.9 1590.7,170.2 1595.6,165.2 1592.4,162.0 1595.6,158.8ZM1595.3,251.0 1592.1,254.2 1588.9,251.0 1584.0,255.9 1587.2,259.1 1584.0,262.3 1588.9,267.2 1592.1,264.0 1595.3,267.2 1600.2,262.3 1597.0,259.1 1600.2,255.9ZM1599.9,275.4 1596.7,278.6 1593.5,275.4 1588.6,280.3 1591.8,283.5 1588.6,286.7 1593.5,291.6 1596.7,288.4 1599.9,291.6 1604.8,286.7 1601.6,283.5 1604.8,280.3ZM1604.5,275.6 1601.3,278.9 1598.1,275.6 1593.2,280.6 1596.4,283.8 1593.2,287.0 1598.1,291.9 1601.3,288.7 1604.5,291.9 1609.4,287.0 1606.2,283.8 1609.4,280.6ZM1609.0,234.9 1605.8,238.1 1602.6,234.9 1597.7,239.8 1600.9,243.0 1597.7,246.2 1602.6,251.1 1605.8,247.9 1609.0,251.1 1614.0,246.2 1610.7,243.0 1614.0,239.8ZM1613.6,240.0 1610.4,243.2 1607.2,240.0 1602.3,244.9 1605.5,248.1 1602.3,251.3 1607.2,256.2 1610.4,253.0 1613.6,256.2 1618.5,251.3 1615.3,248.1 1618.5,244.9ZM1618.2,222.4 1615.0,225.6 1611.8,222.4 1606.9,227.3 1610.1,230.5 1606.9,233.7 1611.8,238.6 1615.0,235.4 1618.2,238.6 1623.1,233.7 1619.9,230.5 1623.1,227.3ZM1622.7,224.3 1619.5,227.5 1616.3,224.3 1611.4,229.2 1614.6,232.5 1611.4,235.7 1616.3,240.6 1619.5,237.4 1622.7,240.6 1627.6,235.7 1624.4,232.5 1627.6,229.2ZM1627.3,219.3 1624.1,222.5 1620.9,219.3 1616.0,224.2 1619.2,227.4 1616.0,230.6 1620.9,235.6 1624.1,232.4 1627.3,235.6 1632.2,230.6 1629.0,227.4 1632.2,224.2ZM1631.8,221.3 1628.6,224.5 1625.4,221.3 1620.5,226.2 1623.7,229.4 1620.5,232.6 1625.4,237.6 1628.6,234.3 1631.8,237.6 1636.7,232.6 1633.5,229.4 1636.7,226.2ZM1636.4,244.1 1633.2,247.3 1630.0,244.1 1625.1,249.0 1628.3,252.2 1625.1,255.4 1630.0,260.3 1633.2,257.1 1636.4,260.3 1641.3,255.4 1638.1,252.2 1641.3,249.0ZM1640.9,275.9 1637.7,279.1 1634.5,275.9 1629.6,280.8 1632.8,284.0 1629.6,287.2 1634.5,292.1 1637.7,288.9 1640.9,292.1 1645.8,287.2 1642.6,284.0 1645.8,280.8ZM1645.4,298.9 1642.2,302.1 1639.0,298.9 1634.1,303.8 1637.3,307.0 1634.1,310.2 1639.0,315.1 1642.2,311.9 1645.4,315.1 1650.3,310.2 1647.1,307.0 1650.3,303.8ZM1650.0,205.1 1646.8,208.3 1643.6,205.1 1638.6,210.0 1641.8,213.2 1638.6,216.4 1643.6,221.4 1646.8,218.1 1650.0,221.4 1654.9,216.4 1651.7,213.2 1654.9,210.0ZM1654.5,250.9 1651.3,254.1 1648.1,250.9 1643.2,255.8 1646.4,259.0 1643.2,262.2 1648.1,267.1 1651.3,263.9 1654.5,267.1 1659.4,262.2 1656.2,259.0 1659.4,255.8ZM1659.0,209.0 1655.8,212.2 1652.6,209.0 1647.7,213.9 1650.9,217.1 1647.7,220.3 1652.6,225.2 1655.8,222.0 1659.0,225.2 1663.9,220.3 1660.7,217.1 1663.9,213.9ZM1663.5,263.4 1660.3,266.6 1657.1,263.4 1652.2,268.3 1655.4,271.5 1652.2,274.7 1657.1,279.7 1660.3,276.4 1663.5,279.7 1668.4,274.7 1665.2,271.5 1668.4,268.3ZM1668.0,275.2 1664.8,278.4 1661.6,275.2 1656.7,280.1 1659.9,283.3 1656.7,286.5 1661.6,291.4 1664.8,288.2 1668.0,291.4 1672.9,286.5 1669.7,283.3 1672.9,280.1ZM1672.5,251.5 1669.3,254.7 1666.1,251.5 1661.2,256.4 1664.4,259.6 1661.2,262.8 1666.1,267.7 1669.3,264.5 1672.5,267.7 1677.4,262.8 1674.2,259.6 1677.4,256.4ZM1677.0,280.5 1673.8,283.7 1670.6,280.5 1665.7,285.4 1668.9,288.6 1665.7,291.8 1670.6,296.7 1673.8,293.5 1677.0,296.7 1681.9,291.8 1678.7,288.6 1681.9,285.4ZM1681.5,262.5 1678.2,265.7 1675.0,262.5 1670.1,267.4 1673.3,270.6 1670.1,273.8 1675.0,278.7 1678.2,275.5 1681.5,278.7 1686.4,273.8 1683.2,270.6 1686.4,267.4ZM1685.9,234.5 1682.7,237.7 1679.5,234.5 1674.6,239.4 1677.8,242.6 1674.6,245.8 1679.5,250.7 1682.7,247.5 1685.9,250.7 1690.8,245.8 1687.6,242.6 1690.8,239.4ZM1690.4,236.4 1687.2,239.6 1684.0,236.4 1679.1,241.3 1682.3,244.5 1679.1,247.7 1684.0,252.6 1687.2,249.4 1690.4,252.6 1695.3,247.7 1692.1,244.5 1695.3,241.3ZM1694.9,200.4 1691.7,203.6 1688.5,200.4 1683.5,205.3 1686.8,208.5 1683.5,211.7 1688.5,216.6 1691.7,213.4 1694.9,216.6 1699.8,211.7 1696.6,208.5 1699.8,205.3ZM1699.3,259.8 1696.1,263.0 1692.9,259.8 1688.0,264.7 1691.2,267.9 1688.0,271.1 1692.9,276.0 1696.1,272.8 1699.3,276.0 1704.2,271.1 1701.0,267.9 1704.2,264.7ZM1703.8,267.3 1700.6,270.5 1697.4,267.3 1692.5,272.2 1695.7,275.5 1692.5,278.7 1697.4,283.6 1700.6,280.4 1703.8,283.6 1708.7,278.7 1705.5,275.5 1708.7,272.2ZM1708.2,284.4 1705.0,287.6 1701.8,284.4 1696.9,289.3 1700.1,292.5 1696.9,295.7 1701.8,300.6 1705.0,297.4 1708.2,300.6 1713.1,295.7 1709.9,292.5 1713.1,289.3ZM1712.7,279.9 1709.5,283.1 1706.3,279.9 1701.4,284.8 1704.6,288.0 1701.4,291.2 1706.3,296.1 1709.5,292.9 1712.7,296.1 1717.6,291.2 1714.4,288.0 1717.6,284.8ZM1717.1,248.3 1713.9,251.5 1710.7,248.3 1705.8,253.2 1709.0,256.4 1705.8,259.6 1710.7,264.5 1713.9,261.3 1717.1,264.5 1722.0,259.6 1718.8,256.4 1722.0,253.2ZM1721.5,281.5 1718.3,284.8 1715.1,281.5 1710.2,286.5 1713.4,289.7 1710.2,292.9 1715.1,297.8 1718.3,294.6 1721.5,297.8 1726.4,292.9 1723.2,289.7 1726.4,286.5ZM1726.0,268.4 1722.8,271.6 1719.6,268.4 1714.6,273.3 1717.9,276.5 1714.6,279.7 1719.6,284.6 1722.8,281.4 1726.0,284.6 1730.9,279.7 1727.7,276.5 1730.9,273.3ZM1730.4,271.3 1727.2,274.5 1724.0,271.3 1719.1,276.3 1722.3,279.5 1719.1,282.7 1724.0,287.6 1727.2,284.4 1730.4,287.6 1735.3,282.7 1732.1,279.5 1735.3,276.3ZM1734.8,286.7 1731.6,289.9 1728.4,286.7 1723.5,291.6 1726.7,294.8 1723.5,298.0 1728.4,302.9 1731.6,299.7 1734.8,302.9 1739.7,298.0 1736.5,294.8 1739.7,291.6ZM1739.2,201.8 1736.0,205.0 1732.8,201.8 1727.9,206.7 1731.1,209.9 1727.9,213.1 1732.8,218.0 1736.0,214.8 1739.2,218.0 1744.1,213.1 1740.9,209.9 1744.1,206.7ZM1743.6,319.9 1740.4,323.1 1737.2,319.9 1732.3,324.8 1735.5,328.0 1732.3,331.2 1737.2,336.1 1740.4,332.9 1743.6,336.1 1748.5,331.2 1745.3,328.0 1748.5,324.8ZM1748.0,277.9 1744.8,281.1 1741.6,277.9 1736.7,282.8 1739.9,286.0 1736.7,289.2 1741.6,294.1 1744.8,290.9 1748.0,294.1 1752.9,289.2 1749.7,286.0 1752.9,282.8ZM1752.4,262.0 1749.2,265.2 1746.0,262.0 1741.1,266.9 1744.3,270.1 1741.1,273.3 1746.0,278.2 1749.2,275.0 1752.4,278.2 1757.3,273.3 1754.1,270.1 1757.3,266.9ZM1756.8,259.0 1753.6,262.2 1750.4,259.0 1745.5,263.9 1748.7,267.1 1745.5,270.3 1750.4,275.2 1753.6,272.0 1756.8,275.2 1761.7,270.3 1758.5,267.1 1761.7,263.9ZM1761.2,294.5 1758.0,297.7 1754.8,294.5 1749.9,299.4 1753.1,302.6 1749.9,305.8 1754.8,310.7 1758.0,307.5 1761.2,310.7 1766.1,305.8 1762.9,302.6 1766.1,299.4ZM1765.6,199.2 1762.4,202.4 1759.2,199.2 1754.2,204.1 1757.4,207.3 1754.2,210.5 1759.2,215.4 1762.4,212.2 1765.6,215.4 1770.5,210.5 1767.3,207.3 1770.5,204.1ZM1769.9,230.0 1766.7,233.2 1763.5,230.0 1758.6,234.9 1761.8,238.1 1758.6,241.3 1763.5,246.2 1766.7,243.0 1769.9,246.2 1774.8,241.3 1771.6,238.1 1774.8,234.9ZM1774.3,153.9 1771.1,157.1 1767.9,153.9 1763.0,158.8 1766.2,162.0 1763.0,165.2 1767.9,170.2 1771.1,166.9 1774.3,170.2 1779.2,165.2 1776.0,162.0 1779.2,158.8ZM1778.7,285.3 1775.5,288.5 1772.3,285.3 1767.3,290.2 1770.6,293.4 1767.3,296.6 1772.3,301.5 1775.5,298.3 1778.7,301.5 1783.6,296.6 1780.4,293.4 1783.6,290.2ZM1783.0,289.8 1779.8,293.0 1776.6,289.8 1771.7,294.7 1774.9,297.9 1771.7,301.1 1776.6,306.0 1779.8,302.8 1783.0,306.0 1787.9,301.1 1784.7,297.9 1787.9,294.7ZM1787.4,289.4 1784.2,292.6 1781.0,289.4 1776.1,294.3 1779.3,297.5 1776.1,300.7 1781.0,305.6 1784.2,302.4 1787.4,305.6 1792.3,300.7 1789.1,297.5 1792.3,294.3ZM1791.7,323.3 1788.5,326.5 1785.3,323.3 1780.4,328.2 1783.6,331.4 1780.4,334.6 1785.3,339.5 1788.5,336.3 1791.7,339.5 1796.6,334.6 1793.4,331.4 1796.6,328.2ZM1796.1,284.9 1792.9,288.1 1789.7,284.9 1784.7,289.8 1788.0,293.0 1784.7,296.2 1789.7,301.1 1792.9,297.9 1796.1,301.1 1801.0,296.2 1797.8,293.0 1801.0,289.8ZM1800.4,282.1 1797.2,285.3 1794.0,282.1 1789.1,287.0 1792.3,290.2 1789.1,293.4 1794.0,298.3 1797.2,295.1 1800.4,298.3 1805.3,293.4 1802.1,290.2 1805.3,287.0ZM1804.7,292.4 1801.5,295.6 1798.3,292.4 1793.4,297.3 1796.6,300.6 1793.4,303.8 1798.3,308.7 1801.5,305.5 1804.7,308.7 1809.6,303.8 1806.4,300.6 1809.6,297.3ZM1809.1,335.2 1805.9,338.4 1802.7,335.2 1797.7,340.1 1800.9,343.3 1797.7,346.5 1802.7,351.4 1805.9,348.2 1809.1,351.4 1814.0,346.5 1810.8,343.3 1814.0,340.1ZM1813.4,260.7 1810.2,263.9 1807.0,260.7 1802.1,265.6 1805.3,268.8 1802.1,272.0 1807.0,276.9 1810.2,273.7 1813.4,276.9 1818.3,272.0 1815.1,268.8 1818.3,265.6ZM1817.7,345.9 1814.5,349.1 1811.3,345.9 1806.4,350.8 1809.6,354.0 1806.4,357.2 1811.3,362.1 1814.5,358.9 1817.7,362.1 1822.6,357.2 1819.4,354.0 1822.6,350.8ZM1822.0,362.2 1818.8,365.4 1815.6,362.2 1810.7,367.1 1813.9,370.3 1810.7,373.5 1815.6,378.4 1818.8,375.2 1822.0,378.4 1826.9,373.5 1823.7,370.3 1826.9,367.1ZM1826.3,317.5 1823.1,320.7 1819.9,317.5 1815.0,322.4 1818.2,325.6 1815.0,328.8 1819.9,333.7 1823.1,330.5 1826.3,333.7 1831.2,328.8 1828.0,325.6 1831.2,322.4ZM1830.6,303.4 1827.4,306.6 1824.2,303.4 1819.3,308.3 1822.5,311.5 1819.3,314.7 1824.2,319.6 1827.4,316.4 1830.6,319.6 1835.5,314.7 1832.3,311.5 1835.5,308.3ZM1834.9,287.2 1831.7,290.4 1828.5,287.2 1823.6,292.1 1826.8,295.3 1823.6,298.5 1828.5,303.4 1831.7,300.2 1834.9,303.4 1839.8,298.5 1836.6,295.3 1839.8,292.1ZM1839.2,327.2 1836.0,330.4 1832.8,327.2 1827.9,332.1 1831.1,335.3 1827.9,338.5 1832.8,343.5 1836.0,340.2 1839.2,343.5 1844.1,338.5 1840.9,335.3 1844.1,332.1ZM1843.5,278.7 1840.3,282.0 1837.1,278.7 1832.2,283.7 1835.4,286.9 1832.2,290.1 1837.1,295.0 1840.3,291.8 1843.5,295.0 1848.4,290.1 1845.2,286.9 1848.4,283.7ZM1847.8,246.1 1844.6,249.3 1841.4,246.1 1836.5,251.0 1839.7,254.2 1836.5,257.4 1841.4,262.3 1844.6,259.1 1847.8,262.3 1852.7,257.4 1849.5,254.2 1852.7,251.0ZM1852.1,296.4 1848.9,299.6 1845.7,296.4 1840.8,301.3 1844.0,304.5 1840.8,307.7 1845.7,312.6 1848.9,309.4 1852.1,312.6 1857.0,307.7 1853.8,304.5 1857.0,301.3ZM1856.3,312.7 1853.1,315.9 1849.9,312.7 1845.0,317.6 1848.2,320.8 1845.0,324.0 1849.9,328.9 1853.1,325.7 1856.3,328.9 1861.2,324.0 1858.0,320.8 1861.2,317.6ZM1860.6,317.2 1857.4,320.4 1854.2,317.2 1849.3,322.1 1852.5,325.3 1849.3,328.5 1854.2,333.4 1857.4,330.2 1860.6,333.4 1865.5,328.5 1862.3,325.3 1865.5,322.1ZM1864.9,305.3 1861.7,308.5 1858.5,305.3 1853.6,310.3 1856.8,313.5 1853.6,316.7 1858.5,321.6 1861.7,318.4 1864.9,321.6 1869.8,316.7 1866.6,313.5 1869.8,310.3ZM1869.1,312.2 1865.9,315.4 1862.7,312.2 1857.8,317.1 1861.0,320.3 1857.8,323.5 1862.7,328.4 1865.9,325.2 1869.1,328.4 1874.0,323.5 1870.8,320.3 1874.0,317.1ZM1873.4,354.5 1870.2,357.7 1867.0,354.5 1862.1,359.4 1865.3,362.6 1862.1,365.8 1867.0,370.7 1870.2,367.5 1873.4,370.7 1878.3,365.8 1875.1,362.6 1878.3,359.4ZM1877.6,338.1 1874.4,341.3 1871.2,338.1 1866.3,343.0 1869.5,346.2 1866.3,349.4 1871.2,354.3 1874.4,351.1 1877.6,354.3 1882.5,349.4 1879.3,346.2 1882.5,343.0ZM1881.9,324.5 1878.7,327.7 1875.5,324.5 1870.6,329.4 1873.8,332.6 1870.6,335.9 1875.5,340.8 1878.7,337.6 1881.9,340.8 1886.8,335.9 1883.6,332.6 1886.8,329.4ZM1886.1,297.3 1882.9,300.5 1879.7,297.3 1874.8,302.2 1878.0,305.4 1874.8,308.6 1879.7,313.5 1882.9,310.3 1886.1,313.5 1891.0,308.6 1887.8,305.4 1891.0,302.2ZM1890.4,315.3 1887.2,318.5 1884.0,315.3 1879.1,320.2 1882.3,323.4 1879.1,326.6 1884.0,331.5 1887.2,328.3 1890.4,331.5 1895.3,326.6 1892.1,323.4 1895.3,320.2ZM1894.6,258.7 1891.4,261.9 1888.2,258.7 1883.3,263.6 1886.5,266.8 1883.3,270.0 1888.2,274.9 1891.4,271.7 1894.6,274.9 1899.5,270.0 1896.3,266.8 1899.5,263.6ZM1898.8,336.8 1895.6,340.0 1892.4,336.8 1887.5,341.7 1890.7,344.9 1887.5,348.1 1892.4,353.0 1895.6,349.8 1898.8,353.0 1903.7,348.1 1900.5,344.9 1903.7,341.7ZM1903.1,298.5 1899.8,301.7 1896.6,298.5 1891.7,303.4 1894.9,306.6 1891.7,309.8 1896.6,314.7 1899.8,311.5 1903.1,314.7 1908.0,309.8 1904.8,306.6 1908.0,303.4ZM1907.3,352.1 1904.1,355.3 1900.9,352.1 1896.0,357.0 1899.2,360.2 1896.0,363.4 1900.9,368.3 1904.1,365.1 1907.3,368.3 1912.2,363.4 1909.0,360.2 1912.2,357.0ZM1911.5,358.1 1908.3,361.3 1905.1,358.1 1900.2,363.0 1903.4,366.3 1900.2,369.5 1905.1,374.4 1908.3,371.2 1911.5,374.4 1916.4,369.5 1913.2,366.3 1916.4,363.0ZM1915.7,353.5 1912.5,356.7 1909.3,353.5 1904.4,358.4 1907.6,361.6 1904.4,364.8 1909.3,369.7 1912.5,366.5 1915.7,369.7 1920.6,364.8 1917.4,361.6 1920.6,358.4ZM1919.9,335.5 1916.7,338.7 1913.5,335.5 1908.6,340.4 1911.8,343.6 1908.6,346.8 1913.5,351.7 1916.7,348.5 1919.9,351.7 1924.8,346.8 1921.6,343.6 1924.8,340.4ZM1924.1,340.7 1920.9,343.9 1917.7,340.7 1912.8,345.6 1916.0,348.8 1912.8,352.0 1917.7,356.9 1920.9,353.7 1924.1,356.9 1929.0,352.0 1925.8,348.8 1929.0,345.6ZM1928.3,357.1 1925.1,360.3 1921.9,357.1 1917.0,362.0 1920.2,365.2 1917.0,368.4 1921.9,373.3 1925.1,370.1 1928.3,373.3 1933.2,368.4 1930.0,365.2 1933.2,362.0ZM1932.5,347.6 1929.3,350.8 1926.1,347.6 1921.2,352.5 1924.4,355.7 1921.2,358.9 1926.1,363.8 1929.3,360.6 1932.5,363.8 1937.4,358.9 1934.2,355.7 1937.4,352.5ZM1936.7,334.9 1933.5,338.1 1930.3,334.9 1925.4,339.8 1928.6,343.0 1925.4,346.2 1930.3,351.1 1933.5,347.9 1936.7,351.1 1941.6,346.2 1938.4,343.0 1941.6,339.8ZM1940.9,339.1 1937.7,342.3 1934.5,339.1 1929.5,344.0 1932.8,347.2 1929.5,350.4 1934.5,355.3 1937.7,352.1 1940.9,355.3 1945.8,350.4 1942.6,347.2 1945.8,344.0ZM1945.0,341.3 1941.8,344.5 1938.6,341.3 1933.7,346.2 1936.9,349.4 1933.7,352.6 1938.6,357.5 1941.8,354.3 1945.0,357.5 1949.9,352.6 1946.7,349.4 1949.9,346.2ZM1949.2,376.0 1946.0,379.2 1942.8,376.0 1937.9,380.9 1941.1,384.1 1937.9,387.3 1942.8,392.2 1946.0,389.0 1949.2,392.2 1954.1,387.3 1950.9,384.1 1954.1,380.9ZM1953.4,359.1 1950.2,362.3 1947.0,359.1 1942.1,364.0 1945.3,367.2 1942.1,370.4 1947.0,375.3 1950.2,372.1 1953.4,375.3 1958.3,370.4 1955.1,367.2 1958.3,364.0ZM1957.6,329.8 1954.3,333.0 1951.1,329.8 1946.2,334.7 1949.4,337.9 1946.2,341.1 1951.1,346.0 1954.3,342.8 1957.6,346.0 1962.5,341.1 1959.3,337.9 1962.5,334.7ZM1961.7,370.0 1958.5,373.2 1955.3,370.0 1950.4,374.9 1953.6,378.1 1950.4,381.3 1955.3,386.2 1958.5,383.0 1961.7,386.2 1966.6,381.3 1963.4,378.1 1966.6,374.9ZM1965.9,314.3 1962.7,317.5 1959.5,314.3 1954.6,319.2 1957.8,322.4 1954.6,325.6 1959.5,330.5 1962.7,327.3 1965.9,330.5 1970.8,325.6 1967.6,322.4 1970.8,319.2ZM1970.0,351.9 1966.8,355.1 1963.6,351.9 1958.7,356.8 1961.9,360.0 1958.7,363.2 1963.6,368.2 1966.8,364.9 1970.0,368.2 1974.9,363.2 1971.7,360.0 1974.9,356.8ZM1974.2,253.3 1971.0,256.5 1967.8,253.3 1962.9,258.2 1966.1,261.4 1962.9,264.6 1967.8,269.5 1971.0,266.3 1974.2,269.5 1979.1,264.6 1975.9,261.4 1979.1,258.2ZM1978.3,389.0 1975.1,392.2 1971.9,389.0 1967.0,394.0 1970.2,397.2 1967.0,400.4 1971.9,405.3 1975.1,402.1 1978.3,405.3 1983.2,400.4 1980.0,397.2 1983.2,394.0ZM1982.5,329.6 1979.3,332.8 1976.1,329.6 1971.1,334.5 1974.3,337.7 1971.1,340.9 1976.1,345.8 1979.3,342.6 1982.5,345.8 1987.4,340.9 1984.2,337.7 1987.4,334.5ZM1986.6,360.2 1983.4,363.4 1980.2,360.2 1975.3,365.1 1978.5,368.3 1975.3,371.5 1980.2,376.4 1983.4,373.2 1986.6,376.4 1991.5,371.5 1988.3,368.3 1991.5,365.1ZM1990.7,359.0 1987.5,362.2 1984.3,359.0 1979.4,363.9 1982.6,367.1 1979.4,370.3 1984.3,375.2 1987.5,372.0 1990.7,375.2 1995.6,370.3 1992.4,367.1 1995.6,363.9ZM1994.9,356.1 1991.7,359.3 1988.5,356.1 1983.5,361.0 1986.7,364.2 1983.5,367.4 1988.5,372.3 1991.7,369.1 1994.9,372.3 1999.8,367.4 1996.6,364.2 1999.8,361.0ZM1999.0,335.9 1995.8,339.1 1992.6,335.9 1987.7,340.8 1990.9,344.0 1987.7,347.2 1992.6,352.1 1995.8,348.9 1999.0,352.1 2003.9,347.2 2000.7,344.0 2003.9,340.8ZM2003.1,328.8 1999.9,332.0 1996.7,328.8 1991.8,333.7 1995.0,336.9 1991.8,340.1 1996.7,345.0 1999.9,341.8 2003.1,345.0 2008.0,340.1 2004.8,336.9 2008.0,333.7ZM2007.2,300.6 2004.0,303.8 2000.8,300.6 1995.9,305.5 1999.1,308.7 1995.9,311.9 2000.8,316.8 2004.0,313.6 2007.2,316.8 2012.1,311.9 2008.9,308.7 2012.1,305.5ZM2011.3,367.0 2008.1,370.2 2004.9,367.0 2000.0,371.9 2003.2,375.1 2000.0,378.3 2004.9,383.2 2008.1,380.0 2011.3,383.2 2016.2,378.3 2013.0,375.1 2016.2,371.9ZM2015.4,408.0 2012.2,411.2 2009.0,408.0 2004.1,412.9 2007.3,416.1 2004.1,419.3 2009.0,424.2 2012.2,421.0 2015.4,424.2 2020.3,419.3 2017.1,416.1 2020.3,412.9ZM2019.5,403.7 2016.3,406.9 2013.1,403.7 2008.2,408.7 2011.4,411.9 2008.2,415.1 2013.1,420.0 2016.3,416.8 2019.5,420.0 2024.5,415.1 2021.2,411.9 2024.5,408.7ZM2023.6,412.1 2020.4,415.3 2017.2,412.1 2012.3,417.0 2015.5,420.2 2012.3,423.4 2017.2,428.3 2020.4,425.1 2023.6,428.3 2028.6,423.4 2025.3,420.2 2028.6,417.0ZM2027.7,383.5 2024.5,386.7 2021.3,383.5 2016.4,388.4 2019.6,391.6 2016.4,394.8 2021.3,399.7 2024.5,396.5 2027.7,399.7 2032.6,394.8 2029.4,391.6 2032.6,388.4ZM2031.8,374.3 2028.6,377.5 2025.4,374.3 2020.5,379.2 2023.7,382.4 2020.5,385.6 2025.4,390.6 2028.6,387.4 2031.8,390.6 2036.7,385.6 2033.5,382.4 2036.7,379.2ZM2035.9,369.6 2032.7,372.8 2029.5,369.6 2024.6,374.5 2027.8,377.7 2024.6,380.9 2029.5,385.8 2032.7,382.6 2035.9,385.8 2040.8,380.9 2037.6,377.7 2040.8,374.5ZM2040.0,360.1 2036.8,363.3 2033.6,360.1 2028.7,365.0 2031.9,368.2 2028.7,371.4 2033.6,376.3 2036.8,373.1 2040.0,376.3 2044.9,371.4 2041.7,368.2 2044.9,365.0ZM2044.1,386.3 2040.9,389.5 2037.7,386.3 2032.8,391.2 2036.0,394.5 2032.8,397.7 2037.7,402.6 2040.9,399.4 2044.1,402.6 2049.0,397.7 2045.8,394.5 2049.0,391.2ZM2048.2,422.8 2045.0,426.0 2041.8,422.8 2036.8,427.7 2040.0,430.9 2036.8,434.1 2041.8,439.0 2045.0,435.8 2048.2,439.0 2053.1,434.1 2049.9,430.9 2053.1,427.7ZM2052.2,349.4 2049.0,352.6 2045.8,349.4 2040.9,354.3 2044.1,357.5 2040.9,360.7 2045.8,365.6 2049.0,362.4 2052.2,365.6 2057.1,360.7 2053.9,357.5 2057.1,354.3ZM2056.3,391.3 2053.1,394.5 2049.9,391.3 2045.0,396.2 2048.2,399.4 2045.0,402.6 2049.9,407.5 2053.1,404.3 2056.3,407.5 2061.2,402.6 2058.0,399.4 2061.2,396.2ZM2060.4,410.6 2057.2,413.8 2054.0,410.6 2049.1,415.5 2052.3,418.7 2049.1,421.9 2054.0,426.8 2057.2,423.6 2060.4,426.8 2065.3,421.9 2062.1,418.7 2065.3,415.5ZM2064.4,439.1 2061.2,442.3 2058.0,439.1 2053.1,444.0 2056.3,447.2 2053.1,450.4 2058.0,455.3 2061.2,452.1 2064.4,455.3 2069.3,450.4 2066.1,447.2 2069.3,444.0ZM2068.5,396.3 2065.3,399.5 2062.1,396.3 2057.2,401.2 2060.4,404.4 2057.2,407.6 2062.1,412.5 2065.3,409.3 2068.5,412.5 2073.4,407.6 2070.2,404.4 2073.4,401.2ZM2072.5,442.9 2069.3,446.1 2066.1,442.9 2061.2,447.8 2064.4,451.0 2061.2,454.2 2066.1,459.1 2069.3,455.9 2072.5,459.1 2077.4,454.2 2074.2,451.0 2077.4,447.8ZM2076.6,378.0 2073.4,381.2 2070.2,378.0 2065.3,382.9 2068.5,386.1 2065.3,389.3 2070.2,394.2 2073.4,391.0 2076.6,394.2 2081.5,389.3 2078.3,386.1 2081.5,382.9ZM2080.6,398.9 2077.4,402.1 2074.2,398.9 2069.3,403.8 2072.5,407.1 2069.3,410.3 2074.2,415.2 2077.4,412.0 2080.6,415.2 2085.5,410.3 2082.3,407.1 2085.5,403.8ZM2084.7,445.0 2081.5,448.2 2078.3,445.0 2073.4,449.9 2076.6,453.1 2073.4,456.3 2078.3,461.2 2081.5,458.0 2084.7,461.2 2089.6,456.3 2086.4,453.1 2089.6,449.9ZM2088.7,415.0 2085.5,418.2 2082.3,415.0 2077.4,419.9 2080.6,423.1 2077.4,426.3 2082.3,431.2 2085.5,428.0 2088.7,431.2 2093.6,426.3 2090.4,423.1 2093.6,419.9ZM2092.7,356.4 2089.5,359.6 2086.3,356.4 2081.4,361.3 2084.6,364.5 2081.4,367.7 2086.3,372.6 2089.5,369.4 2092.7,372.6 2097.7,367.7 2094.4,364.5 2097.7,361.3ZM2096.8,441.7 2093.6,444.9 2090.4,441.7 2085.5,446.6 2088.7,449.9 2085.5,453.1 2090.4,458.0 2093.6,454.8 2096.8,458.0 2101.7,453.1 2098.5,449.9 2101.7,446.6ZM2100.8,415.2 2097.6,418.4 2094.4,415.2 2089.5,420.1 2092.7,423.3 2089.5,426.6 2094.4,431.5 2097.6,428.3 2100.8,431.5 2105.7,426.6 2102.5,423.3 2105.7,420.1ZM2104.8,454.3 2101.6,457.5 2098.4,454.3 2093.5,459.2 2096.7,462.4 2093.5,465.6 2098.4,470.5 2101.6,467.3 2104.8,470.5 2109.7,465.6 2106.5,462.4 2109.7,459.2ZM2108.8,405.6 2105.6,408.8 2102.4,405.6 2097.5,410.5 2100.7,413.7 2097.5,416.9 2102.4,421.8 2105.6,418.6 2108.8,421.8 2113.8,416.9 2110.5,413.7 2113.8,410.5ZM2112.9,344.8 2109.7,348.0 2106.5,344.8 2101.5,349.7 2104.7,352.9 2101.5,356.1 2106.5,361.0 2109.7,357.8 2112.9,361.0 2117.8,356.1 2114.6,352.9 2117.8,349.7ZM2116.9,417.6 2113.7,420.8 2110.5,417.6 2105.6,422.5 2108.8,425.7 2105.6,428.9 2110.5,433.8 2113.7,430.6 2116.9,433.8 2121.8,428.9 2118.6,425.7 2121.8,422.5ZM2120.9,418.8 2117.7,422.0 2114.5,418.8 2109.6,423.8 2112.8,427.0 2109.6,430.2 2114.5,435.1 2117.7,431.9 2120.9,435.1 2125.8,430.2 2122.6,427.0 2125.8,423.8ZM2124.9,422.2 2121.7,425.4 2118.5,422.2 2113.6,427.1 2116.8,430.3 2113.6,433.5 2118.5,438.4 2121.7,435.2 2124.9,438.4 2129.8,433.5 2126.6,430.3 2129.8,427.1ZM2128.9,417.0 2125.7,420.2 2122.5,417.0 2117.6,421.9 2120.8,425.1 2117.6,428.3 2122.5,433.2 2125.7,430.0 2128.9,433.2 2133.8,428.3 2130.6,425.1 2133.8,421.9ZM2132.9,414.5 2129.7,417.7 2126.5,414.5 2121.6,419.4 2124.8,422.6 2121.6,425.8 2126.5,430.7 2129.7,427.5 2132.9,430.7 2137.8,425.8 2134.6,422.6 2137.8,419.4ZM2136.9,394.9 2133.7,398.1 2130.5,394.9 2125.6,399.8 2128.8,403.0 2125.6,406.2 2130.5,411.1 2133.7,407.9 2136.9,411.1 2141.8,406.2 2138.6,403.0 2141.8,399.8ZM2140.9,390.7 2137.7,393.9 2134.5,390.7 2129.6,395.6 2132.8,398.8 2129.6,402.0 2134.5,406.9 2137.7,403.7 2140.9,406.9 2145.8,402.0 2142.6,398.8 2145.8,395.6ZM2144.9,471.4 2141.7,474.6 2138.4,471.4 2133.5,476.3 2136.7,479.5 2133.5,482.7 2138.4,487.6 2141.7,484.4 2144.9,487.6 2149.8,482.7 2146.6,479.5 2149.8,476.3ZM2148.8,481.1 2145.6,484.3 2142.4,481.1 2137.5,486.0 2140.7,489.2 2137.5,492.4 2142.4,497.3 2145.6,494.1 2148.8,497.3 2153.7,492.4 2150.5,489.2 2153.7,486.0ZM2152.8,396.4 2149.6,399.6 2146.4,396.4 2141.5,401.3 2144.7,404.5 2141.5,407.7 2146.4,412.6 2149.6,409.4 2152.8,412.6 2157.7,407.7 2154.5,404.5 2157.7,401.3ZM2156.8,397.9 2153.6,401.1 2150.4,397.9 2145.5,402.8 2148.7,406.0 2145.5,409.2 2150.4,414.1 2153.6,410.9 2156.8,414.1 2161.7,409.2 2158.5,406.0 2161.7,402.8ZM2160.8,466.0 2157.6,469.2 2154.4,466.0 2149.5,470.9 2152.7,474.1 2149.5,477.3 2154.4,482.2 2157.6,479.0 2160.8,482.2 2165.7,477.3 2162.5,474.1 2165.7,470.9ZM2164.7,435.9 2161.5,439.1 2158.3,435.9 2153.4,440.8 2156.6,444.0 2153.4,447.2 2158.3,452.1 2161.5,448.9 2164.7,452.1 2169.6,447.2 2166.4,444.0 2169.6,440.8ZM2168.7,415.6 2165.5,418.8 2162.3,415.6 2157.4,420.5 2160.6,423.7 2157.4,426.9 2162.3,431.8 2165.5,428.6 2168.7,431.8 2173.6,426.9 2170.4,423.7 2173.6,420.5ZM2172.7,403.5 2169.5,406.7 2166.3,403.5 2161.3,408.4 2164.6,411.6 2161.3,414.8 2166.3,419.7 2169.5,416.5 2172.7,419.7 2177.6,414.8 2174.4,411.6 2177.6,408.4ZM2176.6,423.1 2173.4,426.3 2170.2,423.1 2165.3,428.0 2168.5,431.2 2165.3,434.4 2170.2,439.3 2173.4,436.1 2176.6,439.3 2181.5,434.4 2178.3,431.2 2181.5,428.0ZM2180.6,423.1 2177.4,426.3 2174.2,423.1 2169.3,428.0 2172.5,431.2 2169.3,434.4 2174.2,439.3 2177.4,436.1 2180.6,439.3 2185.5,434.4 2182.3,431.2 2185.5,428.0ZM2184.5,440.5 2181.3,443.8 2178.1,440.5 2173.2,445.5 2176.4,448.7 2173.2,451.9 2178.1,456.8 2181.3,453.6 2184.5,456.8 2189.4,451.9 2186.2,448.7 2189.4,445.5ZM2188.5,422.2 2185.3,425.4 2182.1,422.2 2177.2,427.1 2180.4,430.3 2177.2,433.5 2182.1,438.4 2185.3,435.2 2188.5,438.4 2193.4,433.5 2190.2,430.3 2193.4,427.1ZM2192.4,441.1 2189.2,444.3 2186.0,441.1 2181.1,446.0 2184.3,449.2 2181.1,452.4 2186.0,457.4 2189.2,454.1 2192.4,457.4 2197.3,452.4 2194.1,449.2 2197.3,446.0ZM2196.4,452.6 2193.2,455.8 2190.0,452.6 2185.0,457.5 2188.3,460.7 2185.0,463.9 2190.0,468.8 2193.2,465.6 2196.4,468.8 2201.3,463.9 2198.1,460.7 2201.3,457.5ZM2200.3,310.5 2197.1,313.7 2193.9,310.5 2189.0,315.4 2192.2,318.6 2189.0,321.8 2193.9,326.7 2197.1,323.5 2200.3,326.7 2205.2,321.8 2202.0,318.6 2205.2,315.4ZM2204.2,471.4 2201.0,474.6 2197.8,471.4 2192.9,476.3 2196.1,479.5 2192.9,482.7 2197.8,487.6 2201.0,484.4 2204.2,487.6 2209.1,482.7 2205.9,479.5 2209.1,476.3ZM2208.2,435.8 2205.0,439.0 2201.8,435.8 2196.9,440.7 2200.1,443.9 2196.9,447.1 2201.8,452.0 2205.0,448.8 2208.2,452.0 2213.1,447.1 2209.9,443.9 2213.1,440.7ZM2212.1,444.9 2208.9,448.1 2205.7,444.9 2200.8,449.8 2204.0,453.0 2200.8,456.2 2205.7,461.1 2208.9,457.9 2212.1,461.1 2217.0,456.2 2213.8,453.0 2217.0,449.8ZM2216.0,443.2 2212.8,446.4 2209.6,443.2 2204.7,448.1 2207.9,451.3 2204.7,454.5 2209.6,459.4 2212.8,456.2 2216.0,459.4 2220.9,454.5 2217.7,451.3 2220.9,448.1ZM2219.9,449.9 2216.7,453.1 2213.5,449.9 2208.6,454.8 2211.8,458.0 2208.6,461.2 2213.5,466.1 2216.7,462.9 2219.9,466.1 2224.8,461.2 2221.6,458.0 2224.8,454.8ZM2223.9,431.8 2220.7,435.0 2217.5,431.8 2212.5,436.7 2215.7,439.9 2212.5,443.1 2217.5,448.0 2220.7,444.8 2223.9,448.0 2228.8,443.1 2225.6,439.9 2228.8,436.7ZM2227.8,446.0 2224.6,449.2 2221.4,446.0 2216.5,450.9 2219.7,454.1 2216.5,457.3 2221.4,462.2 2224.6,459.0 2227.8,462.2 2232.7,457.3 2229.5,454.1 2232.7,450.9ZM2231.7,483.0 2228.5,486.2 2225.3,483.0 2220.4,487.9 2223.6,491.1 2220.4,494.3 2225.3,499.2 2228.5,496.0 2231.7,499.2 2236.6,494.3 2233.4,491.1 2236.6,487.9ZM2235.6,518.6 2232.4,521.8 2229.2,518.6 2224.3,523.5 2227.5,526.7 2224.3,529.9 2229.2,534.8 2232.4,531.6 2235.6,534.8 2240.5,529.9 2237.3,526.7 2240.5,523.5ZM2239.5,464.7 2236.3,467.9 2233.1,464.7 2228.2,469.6 2231.4,472.8 2228.2,476.0 2233.1,480.9 2236.3,477.7 2239.5,480.9 2244.4,476.0 2241.2,472.8 2244.4,469.6ZM2243.4,454.0 2240.2,457.2 2237.0,454.0 2232.1,458.9 2235.3,462.1 2232.1,465.3 2237.0,470.2 2240.2,467.0 2243.4,470.2 2248.3,465.3 2245.1,462.1 2248.3,458.9ZM2247.3,399.6 2244.1,402.8 2240.9,399.6 2236.0,404.5 2239.2,407.7 2236.0,411.0 2240.9,415.9 2244.1,412.7 2247.3,415.9 2252.2,411.0 2249.0,407.7 2252.2,404.5ZM2251.2,424.3 2248.0,427.5 2244.8,424.3 2239.9,429.2 2243.1,432.4 2239.9,435.7 2244.8,440.6 2248.0,437.4 2251.2,440.6 2256.1,435.7 2252.9,432.4 2256.1,429.2ZM2255.1,438.7 2251.9,441.9 2248.7,438.7 2243.8,443.6 2247.0,446.8 2243.8,450.0 2248.7,454.9 2251.9,451.7 2255.1,454.9 2260.0,450.0 2256.8,446.8 2260.0,443.6ZM2259.0,392.3 2255.8,395.5 2252.6,392.3 2247.7,397.2 2250.9,400.4 2247.7,403.6 2252.6,408.5 2255.8,405.3 2259.0,408.5 2263.9,403.6 2260.7,400.4 2263.9,397.2ZM2262.9,468.0 2259.7,471.2 2256.5,468.0 2251.5,472.9 2254.7,476.1 2251.5,479.3 2256.5,484.2 2259.7,481.0 2262.9,484.2 2267.8,479.3 2264.6,476.1 2267.8,472.9ZM2266.7,461.5 2263.5,464.7 2260.3,461.5 2255.4,466.4 2258.6,469.6 2255.4,472.8 2260.3,477.7 2263.5,474.5 2266.7,477.7 2271.6,472.8 2268.4,469.6 2271.6,466.4ZM2270.6,445.7 2267.4,448.9 2264.2,445.7 2259.3,450.6 2262.5,453.8 2259.3,457.0 2264.2,461.9 2267.4,458.7 2270.6,461.9 2275.5,457.0 2272.3,453.8 2275.5,450.6ZM2274.5,472.6 2271.3,475.8 2268.1,472.6 2263.2,477.5 2266.4,480.7 2263.2,483.9 2268.1,488.8 2271.3,485.6 2274.5,488.8 2279.4,483.9 2276.2,480.7 2279.4,477.5ZM2278.4,472.5 2275.2,475.7 2272.0,472.5 2267.1,477.4 2270.3,480.6 2267.1,483.8 2272.0,488.7 2275.2,485.5 2278.4,488.7 2283.3,483.8 2280.1,480.6 2283.3,477.4ZM2282.2,457.8 2279.0,461.1 2275.8,457.8 2270.9,462.8 2274.1,466.0 2270.9,469.2 2275.8,474.1 2279.0,470.9 2282.2,474.1 2287.1,469.2 2283.9,466.0 2287.1,462.8ZM2286.1,473.6 2282.9,476.8 2279.7,473.6 2274.8,478.5 2278.0,481.7 2274.8,484.9 2279.7,489.8 2282.9,486.6 2286.1,489.8 2291.0,484.9 2287.8,481.7 2291.0,478.5ZM2290.0,438.8 2286.8,442.0 2283.6,438.8 2278.7,443.7 2281.9,446.9 2278.7,450.1 2283.6,455.0 2286.8,451.8 2290.0,455.0 2294.9,450.1 2291.7,446.9 2294.9,443.7ZM2293.8,521.7 2290.6,524.9 2287.4,521.7 2282.5,526.6 2285.7,529.8 2282.5,533.0 2287.4,537.9 2290.6,534.7 2293.8,537.9 2298.7,533.0 2295.5,529.8 2298.7,526.6ZM2297.7,466.6 2294.5,469.8 2291.3,466.6 2286.4,471.5 2289.6,474.7 2286.4,477.9 2291.3,482.8 2294.5,479.6 2297.7,482.8 2302.6,477.9 2299.4,474.7 2302.6,471.5ZM2301.5,437.6 2298.3,440.8 2295.1,437.6 2290.2,442.5 2293.4,445.7 2290.2,448.9 2295.1,453.8 2298.3,450.6 2301.5,453.8 2306.4,448.9 2303.2,445.7 2306.4,442.5ZM2305.4,498.0 2302.2,501.2 2299.0,498.0 2294.1,502.9 2297.3,506.1 2294.1,509.4 2299.0,514.3 2302.2,511.1 2305.4,514.3 2310.3,509.4 2307.1,506.1 2310.3,502.9ZM2309.2,510.1 2306.0,513.3 2302.8,510.1 2297.9,515.0 2301.1,518.2 2297.9,521.4 2302.8,526.3 2306.0,523.1 2309.2,526.3 2314.1,521.4 2310.9,518.2 2314.1,515.0ZM2313.1,479.7 2309.9,482.9 2306.7,479.7 2301.8,484.6 2305.0,487.8 2301.8,491.0 2306.7,495.9 2309.9,492.7 2313.1,495.9 2318.0,491.0 2314.8,487.8 2318.0,484.6ZM2316.9,480.3 2313.7,483.5 2310.5,480.3 2305.6,485.2 2308.8,488.4 2305.6,491.6 2310.5,496.6 2313.7,493.3 2316.9,496.6 2321.8,491.6 2318.6,488.4 2321.8,485.2ZM2320.8,474.2 2317.6,477.4 2314.4,474.2 2309.4,479.1 2312.7,482.3 2309.4,485.5 2314.4,490.4 2317.6,487.2 2320.8,490.4 2325.7,485.5 2322.5,482.3 2325.7,479.1ZM2324.6,500.5 2321.4,503.7 2318.2,500.5 2313.3,505.4 2316.5,508.6 2313.3,511.8 2318.2,516.7 2321.4,513.5 2324.6,516.7 2329.5,511.8 2326.3,508.6 2329.5,505.4ZM2328.4,477.5 2325.2,480.7 2322.0,477.5 2317.1,482.4 2320.3,485.6 2317.1,488.8 2322.0,493.7 2325.2,490.5 2328.4,493.7 2333.3,488.8 2330.1,485.6 2333.3,482.4ZM2332.3,468.3 2329.1,471.5 2325.9,468.3 2320.9,473.2 2324.1,476.4 2320.9,479.6 2325.9,484.5 2329.1,481.3 2332.3,484.5 2337.2,479.6 2334.0,476.4 2337.2,473.2ZM2336.1,545.1 2332.9,548.3 2329.7,545.1 2324.8,550.0 2328.0,553.2 2324.8,556.4 2329.7,561.3 2332.9,558.1 2336.1,561.3 2341.0,556.4 2337.8,553.2 2341.0,550.0Z"/>
<line clip-path="url(#clipB)" x1="1520.6" y1="216.8" x2="2319.1" y2="506.4" stroke="#000" stroke-width="7.5" stroke-dasharray="26,9.5"/>
<path clip-path="url(#clipB)" fill="#000" d="M1508.4,569.5a9.4,9.4 0 1,0 18.8,0a9.4,9.4 0 1,0 -18.8,0ZM1513.1,578.9a9.4,9.4 0 1,0 18.8,0a9.4,9.4 0 1,0 -18.8,0ZM1517.8,617.0a9.4,9.4 0 1,0 18.8,0a9.4,9.4 0 1,0 -18.8,0ZM1522.5,536.1a9.4,9.4 0 1,0 18.8,0a9.4,9.4 0 1,0 -18.8,0ZM1527.1,619.6a9.4,9.4 0 1,0 18.8,0a9.4,9.4 0 1,0 -18.8,0ZM1531.8,589.5a9.4,9.4 0 1,0 18.8,0a9.4,9.4 0 1,0 -18.8,0ZM1536.5,593.9a9.4,9.4 0 1,0 18.8,0a9.4,9.4 0 1,0 -18.8,0ZM1541.1,608.0a9.4,9.4 0 1,0 18.8,0a9.4,9.4 0 1,0 -18.8,0ZM1545.8,591.5a9.4,9.4 0 1,0 18.8,0a9.4,9.4 0 1,0 -18.8,0ZM1550.4,569.3a9.4,9.4 0 1,0 18.8,0a9.4,9.4 0 1,0 -18.8,0ZM1555.0,575.2a9.4,9.4 0 1,0 18.8,0a9.4,9.4 0 1,0 -18.8,0ZM1559.7,586.8a9.4,9.4 0 1,0 18.8,0a9.4,9.4 0 1,0 -18.8,0ZM1564.3,826.8a9.4,9.4 0 1,0 18.8,0a9.4,9.4 0 1,0 -18.8,0ZM1568.9,777.5a9.4,9.4 0 1,0 18.8,0a9.4,9.4 0 1,0 -18.8,0ZM1573.5,558.9a9.4,9.4 0 1,0 18.8,0a9.4,9.4 0 1,0 -18.8,0ZM1578.1,576.3a9.4,9.4 0 1,0 18.8,0a9.4,9.4 0 1,0 -18.8,0ZM1582.7,550.9a9.4,9.4 0 1,0 18.8,0a9.4,9.4 0 1,0 -18.8,0ZM1587.3,664.5a9.4,9.4 0 1,0 18.8,0a9.4,9.4 0 1,0 -18.8,0ZM1591.9,621.8a9.4,9.4 0 1,0 18.8,0a9.4,9.4 0 1,0 -18.8,0ZM1596.4,564.4a9.4,9.4 0 1,0 18.8,0a9.4,9.4 0 1,0 -18.8,0ZM1601.0,579.4a9.4,9.4 0 1,0 18.8,0a9.4,9.4 0 1,0 -18.8,0ZM1605.6,588.1a9.4,9.4 0 1,0 18.8,0a9.4,9.4 0 1,0 -18.8,0ZM1610.1,621.7a9.4,9.4 0 1,0 18.8,0a9.4,9.4 0 1,0 -18.8,0ZM1614.7,597.1a9.4,9.4 0 1,0 18.8,0a9.4,9.4 0 1,0 -18.8,0ZM1619.2,606.5a9.4,9.4 0 1,0 18.8,0a9.4,9.4 0 1,0 -18.8,0ZM1623.8,725.9a9.4,9.4 0 1,0 18.8,0a9.4,9.4 0 1,0 -18.8,0ZM1628.3,609.3a9.4,9.4 0 1,0 18.8,0a9.4,9.4 0 1,0 -18.8,0ZM1632.8,570.8a9.4,9.4 0 1,0 18.8,0a9.4,9.4 0 1,0 -18.8,0ZM1637.4,637.8a9.4,9.4 0 1,0 18.8,0a9.4,9.4 0 1,0 -18.8,0ZM1641.9,593.6a9.4,9.4 0 1,0 18.8,0a9.4,9.4 0 1,0 -18.8,0ZM1646.4,586.5a9.4,9.4 0 1,0 18.8,0a9.4,9.4 0 1,0 -18.8,0ZM1650.9,624.1a9.4,9.4 0 1,0 18.8,0a9.4,9.4 0 1,0 -18.8,0ZM1655.4,624.6a9.4,9.4 0 1,0 18.8,0a9.4,9.4 0 1,0 -18.8,0ZM1659.9,707.6a9.4,9.4 0 1,0 18.8,0a9.4,9.4 0 1,0 -18.8,0ZM1664.4,692.1a9.4,9.4 0 1,0 18.8,0a9.4,9.4 0 1,0 -18.8,0ZM1668.8,594.2a9.4,9.4 0 1,0 18.8,0a9.4,9.4 0 1,0 -18.8,0ZM1673.3,603.1a9.4,9.4 0 1,0 18.8,0a9.4,9.4 0 1,0 -18.8,0ZM1677.8,657.3a9.4,9.4 0 1,0 18.8,0a9.4,9.4 0 1,0 -18.8,0ZM1682.3,611.2a9.4,9.4 0 1,0 18.8,0a9.4,9.4 0 1,0 -18.8,0ZM1686.7,651.0a9.4,9.4 0 1,0 18.8,0a9.4,9.4 0 1,0 -18.8,0ZM1691.2,626.3a9.4,9.4 0 1,0 18.8,0a9.4,9.4 0 1,0 -18.8,0ZM1695.6,603.0a9.4,9.4 0 1,0 18.8,0a9.4,9.4 0 1,0 -18.8,0ZM1700.1,635.4a9.4,9.4 0 1,0 18.8,0a9.4,9.4 0 1,0 -18.8,0ZM1704.5,615.7a9.4,9.4 0 1,0 18.8,0a9.4,9.4 0 1,0 -18.8,0ZM1708.9,653.8a9.4,9.4 0 1,0 18.8,0a9.4,9.4 0 1,0 -18.8,0ZM1713.4,629.9a9.4,9.4 0 1,0 18.8,0a9.4,9.4 0 1,0 -18.8,0ZM1717.8,664.8a9.4,9.4 0 1,0 18.8,0a9.4,9.4 0 1,0 -18.8,0ZM1722.2,632.4a9.4,9.4 0 1,0 18.8,0a9.4,9.4 0 1,0 -18.8,0ZM1726.6,628.3a9.4,9.4 0 1,0 18.8,0a9.4,9.4 0 1,0 -18.8,0ZM1731.0,649.1a9.4,9.4 0 1,0 18.8,0a9.4,9.4 0 1,0 -18.8,0ZM1735.4,638.6a9.4,9.4 0 1,0 18.8,0a9.4,9.4 0 1,0 -18.8,0ZM1739.8,589.5a9.4,9.4 0 1,0 18.8,0a9.4,9.4 0 1,0 -18.8,0ZM1744.2,826.4a9.4,9.4 0 1,0 18.8,0a9.4,9.4 0 1,0 -18.8,0ZM1748.6,660.9a9.4,9.4 0 1,0 18.8,0a9.4,9.4 0 1,0 -18.8,0ZM1753.0,594.3a9.4,9.4 0 1,0 18.8,0a9.4,9.4 0 1,0 -18.8,0ZM1757.3,680.4a9.4,9.4 0 1,0 18.8,0a9.4,9.4 0 1,0 -18.8,0ZM1761.7,1080.0a9.4,9.4 0 1,0 18.8,0a9.4,9.4 0 1,0 -18.8,0ZM1766.1,635.1a9.4,9.4 0 1,0 18.8,0a9.4,9.4 0 1,0 -18.8,0ZM1770.4,651.0a9.4,9.4 0 1,0 18.8,0a9.4,9.4 0 1,0 -18.8,0ZM1774.8,746.4a9.4,9.4 0 1,0 18.8,0a9.4,9.4 0 1,0 -18.8,0ZM1779.1,674.9a9.4,9.4 0 1,0 18.8,0a9.4,9.4 0 1,0 -18.8,0ZM1783.5,632.6a9.4,9.4 0 1,0 18.8,0a9.4,9.4 0 1,0 -18.8,0ZM1787.8,649.4a9.4,9.4 0 1,0 18.8,0a9.4,9.4 0 1,0 -18.8,0ZM1792.1,653.8a9.4,9.4 0 1,0 18.8,0a9.4,9.4 0 1,0 -18.8,0ZM1796.5,621.8a9.4,9.4 0 1,0 18.8,0a9.4,9.4 0 1,0 -18.8,0ZM1800.8,769.3a9.4,9.4 0 1,0 18.8,0a9.4,9.4 0 1,0 -18.8,0ZM1805.1,639.4a9.4,9.4 0 1,0 18.8,0a9.4,9.4 0 1,0 -18.8,0ZM1809.4,637.5a9.4,9.4 0 1,0 18.8,0a9.4,9.4 0 1,0 -18.8,0ZM1813.7,646.3a9.4,9.4 0 1,0 18.8,0a9.4,9.4 0 1,0 -18.8,0ZM1818.0,668.3a9.4,9.4 0 1,0 18.8,0a9.4,9.4 0 1,0 -18.8,0ZM1822.3,665.9a9.4,9.4 0 1,0 18.8,0a9.4,9.4 0 1,0 -18.8,0ZM1826.6,677.8a9.4,9.4 0 1,0 18.8,0a9.4,9.4 0 1,0 -18.8,0ZM1830.9,629.1a9.4,9.4 0 1,0 18.8,0a9.4,9.4 0 1,0 -18.8,0ZM1835.2,656.7a9.4,9.4 0 1,0 18.8,0a9.4,9.4 0 1,0 -18.8,0ZM1839.5,660.9a9.4,9.4 0 1,0 18.8,0a9.4,9.4 0 1,0 -18.8,0ZM1843.7,650.5a9.4,9.4 0 1,0 18.8,0a9.4,9.4 0 1,0 -18.8,0ZM1848.0,638.0a9.4,9.4 0 1,0 18.8,0a9.4,9.4 0 1,0 -18.8,0ZM1852.3,617.9a9.4,9.4 0 1,0 18.8,0a9.4,9.4 0 1,0 -18.8,0ZM1856.5,731.1a9.4,9.4 0 1,0 18.8,0a9.4,9.4 0 1,0 -18.8,0ZM1860.8,686.5a9.4,9.4 0 1,0 18.8,0a9.4,9.4 0 1,0 -18.8,0ZM1865.0,673.7a9.4,9.4 0 1,0 18.8,0a9.4,9.4 0 1,0 -18.8,0ZM1869.3,696.7a9.4,9.4 0 1,0 18.8,0a9.4,9.4 0 1,0 -18.8,0ZM1873.5,642.8a9.4,9.4 0 1,0 18.8,0a9.4,9.4 0 1,0 -18.8,0ZM1877.8,658.3a9.4,9.4 0 1,0 18.8,0a9.4,9.4 0 1,0 -18.8,0ZM1882.0,658.7a9.4,9.4 0 1,0 18.8,0a9.4,9.4 0 1,0 -18.8,0ZM1886.2,682.6a9.4,9.4 0 1,0 18.8,0a9.4,9.4 0 1,0 -18.8,0ZM1890.4,656.9a9.4,9.4 0 1,0 18.8,0a9.4,9.4 0 1,0 -18.8,0ZM1894.7,644.0a9.4,9.4 0 1,0 18.8,0a9.4,9.4 0 1,0 -18.8,0ZM1898.9,672.1a9.4,9.4 0 1,0 18.8,0a9.4,9.4 0 1,0 -18.8,0ZM1903.1,683.0a9.4,9.4 0 1,0 18.8,0a9.4,9.4 0 1,0 -18.8,0ZM1907.3,726.8a9.4,9.4 0 1,0 18.8,0a9.4,9.4 0 1,0 -18.8,0ZM1911.5,654.2a9.4,9.4 0 1,0 18.8,0a9.4,9.4 0 1,0 -18.8,0ZM1915.7,706.2a9.4,9.4 0 1,0 18.8,0a9.4,9.4 0 1,0 -18.8,0ZM1919.9,703.0a9.4,9.4 0 1,0 18.8,0a9.4,9.4 0 1,0 -18.8,0ZM1924.1,786.2a9.4,9.4 0 1,0 18.8,0a9.4,9.4 0 1,0 -18.8,0ZM1928.3,663.5a9.4,9.4 0 1,0 18.8,0a9.4,9.4 0 1,0 -18.8,0ZM1932.4,796.1a9.4,9.4 0 1,0 18.8,0a9.4,9.4 0 1,0 -18.8,0ZM1936.6,861.6a9.4,9.4 0 1,0 18.8,0a9.4,9.4 0 1,0 -18.8,0ZM1940.8,678.3a9.4,9.4 0 1,0 18.8,0a9.4,9.4 0 1,0 -18.8,0ZM1944.9,639.4a9.4,9.4 0 1,0 18.8,0a9.4,9.4 0 1,0 -18.8,0ZM1949.1,729.5a9.4,9.4 0 1,0 18.8,0a9.4,9.4 0 1,0 -18.8,0ZM1953.3,686.7a9.4,9.4 0 1,0 18.8,0a9.4,9.4 0 1,0 -18.8,0ZM1957.4,682.5a9.4,9.4 0 1,0 18.8,0a9.4,9.4 0 1,0 -18.8,0ZM1961.6,637.7a9.4,9.4 0 1,0 18.8,0a9.4,9.4 0 1,0 -18.8,0ZM1965.7,755.6a9.4,9.4 0 1,0 18.8,0a9.4,9.4 0 1,0 -18.8,0ZM1969.9,776.7a9.4,9.4 0 1,0 18.8,0a9.4,9.4 0 1,0 -18.8,0ZM1974.0,726.1a9.4,9.4 0 1,0 18.8,0a9.4,9.4 0 1,0 -18.8,0ZM1978.1,916.1a9.4,9.4 0 1,0 18.8,0a9.4,9.4 0 1,0 -18.8,0ZM1982.3,658.9a9.4,9.4 0 1,0 18.8,0a9.4,9.4 0 1,0 -18.8,0ZM1986.4,696.9a9.4,9.4 0 1,0 18.8,0a9.4,9.4 0 1,0 -18.8,0ZM1990.5,843.6a9.4,9.4 0 1,0 18.8,0a9.4,9.4 0 1,0 -18.8,0ZM1994.6,859.0a9.4,9.4 0 1,0 18.8,0a9.4,9.4 0 1,0 -18.8,0ZM1998.7,670.4a9.4,9.4 0 1,0 18.8,0a9.4,9.4 0 1,0 -18.8,0ZM2002.8,698.4a9.4,9.4 0 1,0 18.8,0a9.4,9.4 0 1,0 -18.8,0ZM2006.9,700.9a9.4,9.4 0 1,0 18.8,0a9.4,9.4 0 1,0 -18.8,0ZM2011.0,700.1a9.4,9.4 0 1,0 18.8,0a9.4,9.4 0 1,0 -18.8,0ZM2015.1,662.9a9.4,9.4 0 1,0 18.8,0a9.4,9.4 0 1,0 -18.8,0ZM2019.2,733.4a9.4,9.4 0 1,0 18.8,0a9.4,9.4 0 1,0 -18.8,0ZM2023.3,740.0a9.4,9.4 0 1,0 18.8,0a9.4,9.4 0 1,0 -18.8,0ZM2027.4,718.8a9.4,9.4 0 1,0 18.8,0a9.4,9.4 0 1,0 -18.8,0ZM2031.5,855.3a9.4,9.4 0 1,0 18.8,0a9.4,9.4 0 1,0 -18.8,0ZM2035.6,744.1a9.4,9.4 0 1,0 18.8,0a9.4,9.4 0 1,0 -18.8,0ZM2039.6,739.6a9.4,9.4 0 1,0 18.8,0a9.4,9.4 0 1,0 -18.8,0ZM2043.7,698.3a9.4,9.4 0 1,0 18.8,0a9.4,9.4 0 1,0 -18.8,0ZM2047.8,663.2a9.4,9.4 0 1,0 18.8,0a9.4,9.4 0 1,0 -18.8,0ZM2051.8,675.3a9.4,9.4 0 1,0 18.8,0a9.4,9.4 0 1,0 -18.8,0ZM2055.9,671.5a9.4,9.4 0 1,0 18.8,0a9.4,9.4 0 1,0 -18.8,0ZM2059.9,650.8a9.4,9.4 0 1,0 18.8,0a9.4,9.4 0 1,0 -18.8,0ZM2064.0,765.7a9.4,9.4 0 1,0 18.8,0a9.4,9.4 0 1,0 -18.8,0ZM2068.0,751.9a9.4,9.4 0 1,0 18.8,0a9.4,9.4 0 1,0 -18.8,0ZM2072.1,727.7a9.4,9.4 0 1,0 18.8,0a9.4,9.4 0 1,0 -18.8,0ZM2076.1,745.3a9.4,9.4 0 1,0 18.8,0a9.4,9.4 0 1,0 -18.8,0ZM2080.1,871.6a9.4,9.4 0 1,0 18.8,0a9.4,9.4 0 1,0 -18.8,0ZM2084.2,750.8a9.4,9.4 0 1,0 18.8,0a9.4,9.4 0 1,0 -18.8,0ZM2088.2,759.2a9.4,9.4 0 1,0 18.8,0a9.4,9.4 0 1,0 -18.8,0ZM2092.2,726.0a9.4,9.4 0 1,0 18.8,0a9.4,9.4 0 1,0 -18.8,0ZM2096.2,923.8a9.4,9.4 0 1,0 18.8,0a9.4,9.4 0 1,0 -18.8,0ZM2100.3,748.6a9.4,9.4 0 1,0 18.8,0a9.4,9.4 0 1,0 -18.8,0ZM2104.3,674.8a9.4,9.4 0 1,0 18.8,0a9.4,9.4 0 1,0 -18.8,0ZM2108.3,891.1a9.4,9.4 0 1,0 18.8,0a9.4,9.4 0 1,0 -18.8,0ZM2112.3,966.5a9.4,9.4 0 1,0 18.8,0a9.4,9.4 0 1,0 -18.8,0ZM2116.3,756.9a9.4,9.4 0 1,0 18.8,0a9.4,9.4 0 1,0 -18.8,0ZM2120.3,733.3a9.4,9.4 0 1,0 18.8,0a9.4,9.4 0 1,0 -18.8,0ZM2124.3,701.7a9.4,9.4 0 1,0 18.8,0a9.4,9.4 0 1,0 -18.8,0ZM2128.3,720.6a9.4,9.4 0 1,0 18.8,0a9.4,9.4 0 1,0 -18.8,0ZM2132.3,705.5a9.4,9.4 0 1,0 18.8,0a9.4,9.4 0 1,0 -18.8,0ZM2136.2,752.8a9.4,9.4 0 1,0 18.8,0a9.4,9.4 0 1,0 -18.8,0ZM2140.2,1062.5a9.4,9.4 0 1,0 18.8,0a9.4,9.4 0 1,0 -18.8,0ZM2144.2,774.5a9.4,9.4 0 1,0 18.8,0a9.4,9.4 0 1,0 -18.8,0ZM2148.2,773.1a9.4,9.4 0 1,0 18.8,0a9.4,9.4 0 1,0 -18.8,0ZM2152.1,799.2a9.4,9.4 0 1,0 18.8,0a9.4,9.4 0 1,0 -18.8,0ZM2156.1,859.2a9.4,9.4 0 1,0 18.8,0a9.4,9.4 0 1,0 -18.8,0ZM2160.1,752.1a9.4,9.4 0 1,0 18.8,0a9.4,9.4 0 1,0 -18.8,0ZM2164.0,735.0a9.4,9.4 0 1,0 18.8,0a9.4,9.4 0 1,0 -18.8,0ZM2168.0,686.9a9.4,9.4 0 1,0 18.8,0a9.4,9.4 0 1,0 -18.8,0ZM2171.9,812.2a9.4,9.4 0 1,0 18.8,0a9.4,9.4 0 1,0 -18.8,0ZM2175.9,686.8a9.4,9.4 0 1,0 18.8,0a9.4,9.4 0 1,0 -18.8,0ZM2179.8,761.4a9.4,9.4 0 1,0 18.8,0a9.4,9.4 0 1,0 -18.8,0ZM2183.8,743.4a9.4,9.4 0 1,0 18.8,0a9.4,9.4 0 1,0 -18.8,0ZM2187.7,719.2a9.4,9.4 0 1,0 18.8,0a9.4,9.4 0 1,0 -18.8,0ZM2191.6,715.2a9.4,9.4 0 1,0 18.8,0a9.4,9.4 0 1,0 -18.8,0ZM2195.6,768.8a9.4,9.4 0 1,0 18.8,0a9.4,9.4 0 1,0 -18.8,0ZM2199.5,746.6a9.4,9.4 0 1,0 18.8,0a9.4,9.4 0 1,0 -18.8,0ZM2203.4,761.1a9.4,9.4 0 1,0 18.8,0a9.4,9.4 0 1,0 -18.8,0ZM2207.3,723.9a9.4,9.4 0 1,0 18.8,0a9.4,9.4 0 1,0 -18.8,0ZM2211.3,718.7a9.4,9.4 0 1,0 18.8,0a9.4,9.4 0 1,0 -18.8,0ZM2215.2,768.8a9.4,9.4 0 1,0 18.8,0a9.4,9.4 0 1,0 -18.8,0ZM2219.1,745.8a9.4,9.4 0 1,0 18.8,0a9.4,9.4 0 1,0 -18.8,0ZM2223.0,772.4a9.4,9.4 0 1,0 18.8,0a9.4,9.4 0 1,0 -18.8,0ZM2226.9,768.9a9.4,9.4 0 1,0 18.8,0a9.4,9.4 0 1,0 -18.8,0ZM2230.8,820.6a9.4,9.4 0 1,0 18.8,0a9.4,9.4 0 1,0 -18.8,0ZM2234.7,798.4a9.4,9.4 0 1,0 18.8,0a9.4,9.4 0 1,0 -18.8,0ZM2238.6,846.6a9.4,9.4 0 1,0 18.8,0a9.4,9.4 0 1,0 -18.8,0ZM2242.5,825.5a9.4,9.4 0 1,0 18.8,0a9.4,9.4 0 1,0 -18.8,0ZM2246.4,746.5a9.4,9.4 0 1,0 18.8,0a9.4,9.4 0 1,0 -18.8,0ZM2250.3,726.3a9.4,9.4 0 1,0 18.8,0a9.4,9.4 0 1,0 -18.8,0ZM2254.1,772.8a9.4,9.4 0 1,0 18.8,0a9.4,9.4 0 1,0 -18.8,0ZM2258.0,814.4a9.4,9.4 0 1,0 18.8,0a9.4,9.4 0 1,0 -18.8,0ZM2261.9,792.7a9.4,9.4 0 1,0 18.8,0a9.4,9.4 0 1,0 -18.8,0ZM2265.8,772.9a9.4,9.4 0 1,0 18.8,0a9.4,9.4 0 1,0 -18.8,0ZM2269.6,758.8a9.4,9.4 0 1,0 18.8,0a9.4,9.4 0 1,0 -18.8,0ZM2273.5,742.0a9.4,9.4 0 1,0 18.8,0a9.4,9.4 0 1,0 -18.8,0ZM2277.4,741.1a9.4,9.4 0 1,0 18.8,0a9.4,9.4 0 1,0 -18.8,0ZM2281.2,774.9a9.4,9.4 0 1,0 18.8,0a9.4,9.4 0 1,0 -18.8,0ZM2285.1,812.1a9.4,9.4 0 1,0 18.8,0a9.4,9.4 0 1,0 -18.8,0ZM2288.9,950.3a9.4,9.4 0 1,0 18.8,0a9.4,9.4 0 1,0 -18.8,0ZM2292.8,749.1a9.4,9.4 0 1,0 18.8,0a9.4,9.4 0 1,0 -18.8,0ZM2296.6,897.4a9.4,9.4 0 1,0 18.8,0a9.4,9.4 0 1,0 -18.8,0ZM2300.5,821.1a9.4,9.4 0 1,0 18.8,0a9.4,9.4 0 1,0 -18.8,0ZM2304.3,816.7a9.4,9.4 0 1,0 18.8,0a9.4,9.4 0 1,0 -18.8,0ZM2308.2,992.2a9.4,9.4 0 1,0 18.8,0a9.4,9.4 0 1,0 -18.8,0ZM2312.0,849.7a9.4,9.4 0 1,0 18.8,0a9.4,9.4 0 1,0 -18.8,0ZM2315.8,757.0a9.4,9.4 0 1,0 18.8,0a9.4,9.4 0 1,0 -18.8,0ZM2319.7,847.3a9.4,9.4 0 1,0 18.8,0a9.4,9.4 0 1,0 -18.8,0ZM2323.5,865.6a9.4,9.4 0 1,0 18.8,0a9.4,9.4 0 1,0 -18.8,0Z"/>
<line clip-path="url(#clipB)" x1="1520.6" y1="569.1" x2="2319.1" y2="810.4" stroke="#000" stroke-width="7.5" stroke-dasharray="26,9.5"/>
<path clip-path="url(#clipB)" fill="#006400" d="M1521.0,333.8 1517.8,337.0 1514.6,333.8 1509.7,338.7 1512.9,341.9 1509.7,345.1 1514.6,350.0 1517.8,346.8 1521.0,350.0 1525.9,345.1 1522.7,341.9 1525.9,338.7ZM1525.7,341.8 1522.5,345.0 1519.3,341.8 1514.4,346.7 1517.6,349.9 1514.4,353.1 1519.3,358.0 1522.5,354.8 1525.7,358.0 1530.6,353.1 1527.4,349.9 1530.6,346.7ZM1530.4,333.0 1527.2,336.2 1524.0,333.0 1519.1,337.9 1522.3,341.1 1519.1,344.3 1524.0,349.2 1527.2,346.0 1530.4,349.2 1535.3,344.3 1532.1,341.1 1535.3,337.9ZM1535.1,371.4 1531.9,374.6 1528.7,371.4 1523.8,376.3 1527.0,379.5 1523.8,382.7 1528.7,387.6 1531.9,384.4 1535.1,387.6 1540.0,382.7 1536.8,379.5 1540.0,376.3ZM1539.7,323.1 1536.5,326.4 1533.3,323.1 1528.4,328.1 1531.6,331.3 1528.4,334.5 1533.3,339.4 1536.5,336.2 1539.7,339.4 1544.6,334.5 1541.4,331.3 1544.6,328.1ZM1544.4,317.0 1541.2,320.2 1538.0,317.0 1533.1,321.9 1536.3,325.1 1533.1,328.3 1538.0,333.2 1541.2,330.0 1544.4,333.2 1549.3,328.3 1546.1,325.1 1549.3,321.9ZM1549.1,300.4 1545.9,303.6 1542.7,300.4 1537.7,305.3 1541.0,308.5 1537.7,311.7 1542.7,316.6 1545.9,313.4 1549.1,316.6 1554.0,311.7 1550.8,308.5 1554.0,305.3ZM1553.7,332.6 1550.5,335.8 1547.3,332.6 1542.4,337.5 1545.6,340.7 1542.4,343.9 1547.3,348.8 1550.5,345.6 1553.7,348.8 1558.6,343.9 1555.4,340.7 1558.6,337.5ZM1558.4,272.0 1555.2,275.2 1552.0,272.0 1547.0,276.9 1550.3,280.1 1547.0,283.3 1552.0,288.2 1555.2,285.0 1558.4,288.2 1563.3,283.3 1560.1,280.1 1563.3,276.9ZM1563.0,271.3 1559.8,274.5 1556.6,271.3 1551.7,276.2 1554.9,279.4 1551.7,282.6 1556.6,287.5 1559.8,284.3 1563.0,287.5 1567.9,282.6 1564.7,279.4 1567.9,276.2ZM1567.6,321.9 1564.4,325.1 1561.2,321.9 1556.3,326.8 1559.5,330.0 1556.3,333.2 1561.2,338.1 1564.4,334.9 1567.6,338.1 1572.5,333.2 1569.3,330.0 1572.5,326.8ZM1572.3,327.6 1569.1,330.8 1565.9,327.6 1560.9,332.5 1564.1,335.7 1560.9,338.9 1565.9,343.8 1569.1,340.6 1572.3,343.8 1577.2,338.9 1574.0,335.7 1577.2,332.5ZM1576.9,310.2 1573.7,313.4 1570.5,310.2 1565.6,315.1 1568.8,318.3 1565.6,321.5 1570.5,326.4 1573.7,323.2 1576.9,326.4 1581.8,321.5 1578.6,318.3 1581.8,315.1ZM1581.5,338.3 1578.3,341.5 1575.1,338.3 1570.2,343.2 1573.4,346.4 1570.2,349.6 1575.1,354.5 1578.3,351.3 1581.5,354.5 1586.4,349.6 1583.2,346.4 1586.4,343.2ZM1586.1,334.8 1582.9,338.0 1579.7,334.8 1574.8,339.7 1578.0,342.9 1574.8,346.1 1579.7,351.0 1582.9,347.8 1586.1,351.0 1591.0,346.1 1587.8,342.9 1591.0,339.7ZM1590.7,315.7 1587.5,318.9 1584.3,315.7 1579.4,320.6 1582.6,323.8 1579.4,327.0 1584.3,331.9 1587.5,328.7 1590.7,331.9 1595.6,327.0 1592.4,323.8 1595.6,320.6ZM1595.3,316.2 1592.1,319.4 1588.9,316.2 1584.0,321.1 1587.2,324.3 1584.0,327.5 1588.9,332.4 1592.1,329.2 1595.3,332.4 1600.2,327.5 1597.0,324.3 1600.2,321.1ZM1599.9,380.6 1596.7,383.8 1593.5,380.6 1588.6,385.5 1591.8,388.7 1588.6,391.9 1593.5,396.8 1596.7,393.6 1599.9,396.8 1604.8,391.9 1601.6,388.7 1604.8,385.5ZM1604.5,347.1 1601.3,350.3 1598.1,347.1 1593.2,352.0 1596.4,355.2 1593.2,358.4 1598.1,363.3 1601.3,360.1 1604.5,363.3 1609.4,358.4 1606.2,355.2 1609.4,352.0ZM1609.0,392.8 1605.8,396.0 1602.6,392.8 1597.7,397.7 1600.9,400.9 1597.7,404.1 1602.6,409.0 1605.8,405.8 1609.0,409.0 1614.0,404.1 1610.7,400.9 1614.0,397.7ZM1613.6,345.3 1610.4,348.5 1607.2,345.3 1602.3,350.2 1605.5,353.4 1602.3,356.6 1607.2,361.5 1610.4,358.3 1613.6,361.5 1618.5,356.6 1615.3,353.4 1618.5,350.2ZM1618.2,348.5 1615.0,351.7 1611.8,348.5 1606.9,353.4 1610.1,356.6 1606.9,359.8 1611.8,364.7 1615.0,361.5 1618.2,364.7 1623.1,359.8 1619.9,356.6 1623.1,353.4ZM1622.7,361.2 1619.5,364.4 1616.3,361.2 1611.4,366.1 1614.6,369.3 1611.4,372.5 1616.3,377.4 1619.5,374.2 1622.7,377.4 1627.6,372.5 1624.4,369.3 1627.6,366.1ZM1627.3,335.6 1624.1,338.8 1620.9,335.6 1616.0,340.5 1619.2,343.7 1616.0,346.9 1620.9,351.8 1624.1,348.6 1627.3,351.8 1632.2,346.9 1629.0,343.7 1632.2,340.5ZM1631.8,353.0 1628.6,356.2 1625.4,353.0 1620.5,357.9 1623.7,361.1 1620.5,364.3 1625.4,369.2 1628.6,366.0 1631.8,369.2 1636.7,364.3 1633.5,361.1 1636.7,357.9ZM1636.4,357.5 1633.2,360.7 1630.0,357.5 1625.1,362.4 1628.3,365.6 1625.1,368.8 1630.0,373.7 1633.2,370.5 1636.4,373.7 1641.3,368.8 1638.1,365.6 1641.3,362.4ZM1640.9,426.0 1637.7,429.2 1634.5,426.0 1629.6,430.9 1632.8,434.1 1629.6,437.3 1634.5,442.2 1637.7,439.0 1640.9,442.2 1645.8,437.3 1642.6,434.1 1645.8,430.9ZM1645.4,384.3 1642.2,387.5 1639.0,384.3 1634.1,389.2 1637.3,392.4 1634.1,395.6 1639.0,400.5 1642.2,397.3 1645.4,400.5 1650.3,395.6 1647.1,392.4 1650.3,389.2ZM1650.0,365.2 1646.8,368.4 1643.6,365.2 1638.6,370.1 1641.8,373.3 1638.6,376.5 1643.6,381.4 1646.8,378.2 1650.0,381.4 1654.9,376.5 1651.7,373.3 1654.9,370.1ZM1654.5,349.9 1651.3,353.1 1648.1,349.9 1643.2,354.8 1646.4,358.0 1643.2,361.2 1648.1,366.1 1651.3,362.9 1654.5,366.1 1659.4,361.2 1656.2,358.0 1659.4,354.8ZM1659.0,380.5 1655.8,383.7 1652.6,380.5 1647.7,385.4 1650.9,388.6 1647.7,391.8 1652.6,396.8 1655.8,393.6 1659.0,396.8 1663.9,391.8 1660.7,388.6 1663.9,385.4ZM1663.5,324.2 1660.3,327.4 1657.1,324.2 1652.2,329.1 1655.4,332.3 1652.2,335.6 1657.1,340.5 1660.3,337.3 1663.5,340.5 1668.4,335.6 1665.2,332.3 1668.4,329.1ZM1668.0,356.4 1664.8,359.6 1661.6,356.4 1656.7,361.3 1659.9,364.5 1656.7,367.7 1661.6,372.6 1664.8,369.4 1668.0,372.6 1672.9,367.7 1669.7,364.5 1672.9,361.3ZM1672.5,348.6 1669.3,351.8 1666.1,348.6 1661.2,353.5 1664.4,356.7 1661.2,359.9 1666.1,364.8 1669.3,361.6 1672.5,364.8 1677.4,359.9 1674.2,356.7 1677.4,353.5ZM1677.0,367.0 1673.8,370.2 1670.6,367.0 1665.7,371.9 1668.9,375.1 1665.7,378.3 1670.6,383.2 1673.8,380.0 1677.0,383.2 1681.9,378.3 1678.7,375.1 1681.9,371.9ZM1681.5,358.2 1678.2,361.4 1675.0,358.2 1670.1,363.1 1673.3,366.3 1670.1,369.5 1675.0,374.4 1678.2,371.2 1681.5,374.4 1686.4,369.5 1683.2,366.3 1686.4,363.1ZM1685.9,332.0 1682.7,335.2 1679.5,332.0 1674.6,336.9 1677.8,340.1 1674.6,343.3 1679.5,348.2 1682.7,345.0 1685.9,348.2 1690.8,343.3 1687.6,340.1 1690.8,336.9ZM1690.4,371.6 1687.2,374.8 1684.0,371.6 1679.1,376.5 1682.3,379.7 1679.1,382.9 1684.0,387.8 1687.2,384.6 1690.4,387.8 1695.3,382.9 1692.1,379.7 1695.3,376.5ZM1694.9,334.2 1691.7,337.4 1688.5,334.2 1683.5,339.1 1686.8,342.3 1683.5,345.5 1688.5,350.4 1691.7,347.2 1694.9,350.4 1699.8,345.5 1696.6,342.3 1699.8,339.1ZM1699.3,392.0 1696.1,395.2 1692.9,392.0 1688.0,396.9 1691.2,400.1 1688.0,403.3 1692.9,408.2 1696.1,405.0 1699.3,408.2 1704.2,403.3 1701.0,400.1 1704.2,396.9ZM1703.8,367.6 1700.6,370.8 1697.4,367.6 1692.5,372.5 1695.7,375.7 1692.5,378.9 1697.4,383.8 1700.6,380.6 1703.8,383.8 1708.7,378.9 1705.5,375.7 1708.7,372.5ZM1708.2,383.4 1705.0,386.6 1701.8,383.4 1696.9,388.3 1700.1,391.5 1696.9,394.7 1701.8,399.6 1705.0,396.4 1708.2,399.6 1713.1,394.7 1709.9,391.5 1713.1,388.3ZM1712.7,379.1 1709.5,382.3 1706.3,379.1 1701.4,384.0 1704.6,387.2 1701.4,390.4 1706.3,395.4 1709.5,392.1 1712.7,395.4 1717.6,390.4 1714.4,387.2 1717.6,384.0ZM1717.1,369.4 1713.9,372.6 1710.7,369.4 1705.8,374.3 1709.0,377.5 1705.8,380.7 1710.7,385.6 1713.9,382.4 1717.1,385.6 1722.0,380.7 1718.8,377.5 1722.0,374.3ZM1721.5,371.9 1718.3,375.1 1715.1,371.9 1710.2,376.8 1713.4,380.0 1710.2,383.2 1715.1,388.1 1718.3,384.9 1721.5,388.1 1726.4,383.2 1723.2,380.0 1726.4,376.8ZM1726.0,329.7 1722.8,332.9 1719.6,329.7 1714.6,334.6 1717.9,337.8 1714.6,341.0 1719.6,345.9 1722.8,342.7 1726.0,345.9 1730.9,341.0 1727.7,337.8 1730.9,334.6ZM1730.4,377.6 1727.2,380.8 1724.0,377.6 1719.1,382.5 1722.3,385.7 1719.1,388.9 1724.0,393.8 1727.2,390.6 1730.4,393.8 1735.3,388.9 1732.1,385.7 1735.3,382.5ZM1734.8,388.9 1731.6,392.1 1728.4,388.9 1723.5,393.8 1726.7,397.0 1723.5,400.2 1728.4,405.1 1731.6,401.9 1734.8,405.1 1739.7,400.2 1736.5,397.0 1739.7,393.8ZM1739.2,353.7 1736.0,356.9 1732.8,353.7 1727.9,358.6 1731.1,361.8 1727.9,365.0 1732.8,369.9 1736.0,366.7 1739.2,369.9 1744.1,365.0 1740.9,361.8 1744.1,358.6ZM1743.6,308.4 1740.4,311.6 1737.2,308.4 1732.3,313.3 1735.5,316.5 1732.3,319.7 1737.2,324.6 1740.4,321.4 1743.6,324.6 1748.5,319.7 1745.3,316.5 1748.5,313.3ZM1748.0,327.5 1744.8,330.7 1741.6,327.5 1736.7,332.4 1739.9,335.6 1736.7,338.8 1741.6,343.7 1744.8,340.5 1748.0,343.7 1752.9,338.8 1749.7,335.6 1752.9,332.4ZM1752.4,359.9 1749.2,363.1 1746.0,359.9 1741.1,364.8 1744.3,368.0 1741.1,371.2 1746.0,376.1 1749.2,372.9 1752.4,376.1 1757.3,371.2 1754.1,368.0 1757.3,364.8ZM1756.8,380.1 1753.6,383.3 1750.4,380.1 1745.5,385.0 1748.7,388.2 1745.5,391.4 1750.4,396.3 1753.6,393.1 1756.8,396.3 1761.7,391.4 1758.5,388.2 1761.7,385.0ZM1761.2,361.2 1758.0,364.4 1754.8,361.2 1749.9,366.1 1753.1,369.3 1749.9,372.5 1754.8,377.4 1758.0,374.2 1761.2,377.4 1766.1,372.5 1762.9,369.3 1766.1,366.1ZM1765.6,397.7 1762.4,400.9 1759.2,397.7 1754.2,402.6 1757.4,405.8 1754.2,409.0 1759.2,413.9 1762.4,410.7 1765.6,413.9 1770.5,409.0 1767.3,405.8 1770.5,402.6ZM1769.9,375.6 1766.7,378.8 1763.5,375.6 1758.6,380.5 1761.8,383.7 1758.6,386.9 1763.5,391.8 1766.7,388.6 1769.9,391.8 1774.8,386.9 1771.6,383.7 1774.8,380.5ZM1774.3,366.0 1771.1,369.2 1767.9,366.0 1763.0,371.0 1766.2,374.2 1763.0,377.4 1767.9,382.3 1771.1,379.1 1774.3,382.3 1779.2,377.4 1776.0,374.2 1779.2,371.0ZM1778.7,400.9 1775.5,404.1 1772.3,400.9 1767.3,405.8 1770.6,409.0 1767.3,412.2 1772.3,417.1 1775.5,413.9 1778.7,417.1 1783.6,412.2 1780.4,409.0 1783.6,405.8ZM1783.0,348.1 1779.8,351.3 1776.6,348.1 1771.7,353.0 1774.9,356.2 1771.7,359.4 1776.6,364.3 1779.8,361.1 1783.0,364.3 1787.9,359.4 1784.7,356.2 1787.9,353.0ZM1787.4,371.7 1784.2,374.9 1781.0,371.7 1776.1,376.6 1779.3,379.8 1776.1,383.0 1781.0,387.9 1784.2,384.7 1787.4,387.9 1792.3,383.0 1789.1,379.8 1792.3,376.6ZM1791.7,399.6 1788.5,402.8 1785.3,399.6 1780.4,404.5 1783.6,407.7 1780.4,410.9 1785.3,415.8 1788.5,412.6 1791.7,415.8 1796.6,410.9 1793.4,407.7 1796.6,404.5ZM1796.1,372.9 1792.9,376.1 1789.7,372.9 1784.7,377.8 1788.0,381.0 1784.7,384.2 1789.7,389.1 1792.9,385.9 1796.1,389.1 1801.0,384.2 1797.8,381.0 1801.0,377.8ZM1800.4,425.0 1797.2,428.2 1794.0,425.0 1789.1,429.9 1792.3,433.1 1789.1,436.3 1794.0,441.2 1797.2,438.0 1800.4,441.2 1805.3,436.3 1802.1,433.1 1805.3,429.9ZM1804.7,396.7 1801.5,399.9 1798.3,396.7 1793.4,401.6 1796.6,404.8 1793.4,408.0 1798.3,413.0 1801.5,409.7 1804.7,413.0 1809.6,408.0 1806.4,404.8 1809.6,401.6ZM1809.1,412.3 1805.9,415.5 1802.7,412.3 1797.7,417.2 1800.9,420.4 1797.7,423.6 1802.7,428.5 1805.9,425.3 1809.1,428.5 1814.0,423.6 1810.8,420.4 1814.0,417.2ZM1813.4,378.8 1810.2,382.0 1807.0,378.8 1802.1,383.7 1805.3,386.9 1802.1,390.1 1807.0,395.0 1810.2,391.8 1813.4,395.0 1818.3,390.1 1815.1,386.9 1818.3,383.7ZM1817.7,419.8 1814.5,423.0 1811.3,419.8 1806.4,424.7 1809.6,427.9 1806.4,431.1 1811.3,436.0 1814.5,432.8 1817.7,436.0 1822.6,431.1 1819.4,427.9 1822.6,424.7ZM1822.0,434.0 1818.8,437.2 1815.6,434.0 1810.7,438.9 1813.9,442.1 1810.7,445.3 1815.6,450.2 1818.8,447.0 1822.0,450.2 1826.9,445.3 1823.7,442.1 1826.9,438.9ZM1826.3,395.5 1823.1,398.7 1819.9,395.5 1815.0,400.4 1818.2,403.6 1815.0,406.8 1819.9,411.7 1823.1,408.5 1826.3,411.7 1831.2,406.8 1828.0,403.6 1831.2,400.4ZM1830.6,411.5 1827.4,414.7 1824.2,411.5 1819.3,416.5 1822.5,419.7 1819.3,422.9 1824.2,427.8 1827.4,424.6 1830.6,427.8 1835.5,422.9 1832.3,419.7 1835.5,416.5ZM1834.9,427.6 1831.7,430.8 1828.5,427.6 1823.6,432.5 1826.8,435.7 1823.6,438.9 1828.5,443.8 1831.7,440.6 1834.9,443.8 1839.8,438.9 1836.6,435.7 1839.8,432.5ZM1839.2,418.0 1836.0,421.2 1832.8,418.0 1827.9,422.9 1831.1,426.1 1827.9,429.3 1832.8,434.2 1836.0,431.0 1839.2,434.2 1844.1,429.3 1840.9,426.1 1844.1,422.9ZM1843.5,380.1 1840.3,383.3 1837.1,380.1 1832.2,385.0 1835.4,388.2 1832.2,391.4 1837.1,396.3 1840.3,393.1 1843.5,396.3 1848.4,391.4 1845.2,388.2 1848.4,385.0ZM1847.8,424.9 1844.6,428.1 1841.4,424.9 1836.5,429.8 1839.7,433.0 1836.5,436.2 1841.4,441.1 1844.6,437.9 1847.8,441.1 1852.7,436.2 1849.5,433.0 1852.7,429.8ZM1852.1,427.1 1848.9,430.3 1845.7,427.1 1840.8,432.0 1844.0,435.2 1840.8,438.4 1845.7,443.3 1848.9,440.1 1852.1,443.3 1857.0,438.4 1853.8,435.2 1857.0,432.0ZM1856.3,344.7 1853.1,347.9 1849.9,344.7 1845.0,349.6 1848.2,352.8 1845.0,356.0 1849.9,360.9 1853.1,357.7 1856.3,360.9 1861.2,356.0 1858.0,352.8 1861.2,349.6ZM1860.6,420.5 1857.4,423.7 1854.2,420.5 1849.3,425.4 1852.5,428.6 1849.3,431.8 1854.2,436.7 1857.4,433.5 1860.6,436.7 1865.5,431.8 1862.3,428.6 1865.5,425.4ZM1864.9,375.5 1861.7,378.7 1858.5,375.5 1853.6,380.4 1856.8,383.6 1853.6,386.8 1858.5,391.7 1861.7,388.5 1864.9,391.7 1869.8,386.8 1866.6,383.6 1869.8,380.4ZM1869.1,408.8 1865.9,412.0 1862.7,408.8 1857.8,413.7 1861.0,416.9 1857.8,420.1 1862.7,425.1 1865.9,421.9 1869.1,425.1 1874.0,420.1 1870.8,416.9 1874.0,413.7ZM1873.4,399.5 1870.2,402.7 1867.0,399.5 1862.1,404.4 1865.3,407.6 1862.1,410.8 1867.0,415.7 1870.2,412.5 1873.4,415.7 1878.3,410.8 1875.1,407.6 1878.3,404.4ZM1877.6,461.4 1874.4,464.6 1871.2,461.4 1866.3,466.3 1869.5,469.6 1866.3,472.8 1871.2,477.7 1874.4,474.5 1877.6,477.7 1882.5,472.8 1879.3,469.6 1882.5,466.3ZM1881.9,452.9 1878.7,456.1 1875.5,452.9 1870.6,457.8 1873.8,461.0 1870.6,464.2 1875.5,469.1 1878.7,465.9 1881.9,469.1 1886.8,464.2 1883.6,461.0 1886.8,457.8ZM1886.1,418.3 1882.9,421.5 1879.7,418.3 1874.8,423.2 1878.0,426.4 1874.8,429.6 1879.7,434.5 1882.9,431.3 1886.1,434.5 1891.0,429.6 1887.8,426.4 1891.0,423.2ZM1890.4,424.1 1887.2,427.3 1884.0,424.1 1879.1,429.0 1882.3,432.2 1879.1,435.4 1884.0,440.3 1887.2,437.1 1890.4,440.3 1895.3,435.4 1892.1,432.2 1895.3,429.0ZM1894.6,422.0 1891.4,425.2 1888.2,422.0 1883.3,426.9 1886.5,430.1 1883.3,433.3 1888.2,438.2 1891.4,435.0 1894.6,438.2 1899.5,433.3 1896.3,430.1 1899.5,426.9ZM1898.8,397.9 1895.6,401.1 1892.4,397.9 1887.5,402.8 1890.7,406.0 1887.5,409.2 1892.4,414.1 1895.6,410.9 1898.8,414.1 1903.7,409.2 1900.5,406.0 1903.7,402.8ZM1903.1,491.8 1899.8,495.0 1896.6,491.8 1891.7,496.7 1894.9,499.9 1891.7,503.1 1896.6,508.0 1899.8,504.8 1903.1,508.0 1908.0,503.1 1904.8,499.9 1908.0,496.7ZM1907.3,438.2 1904.1,441.4 1900.9,438.2 1896.0,443.1 1899.2,446.3 1896.0,449.5 1900.9,454.4 1904.1,451.2 1907.3,454.4 1912.2,449.5 1909.0,446.3 1912.2,443.1ZM1911.5,391.9 1908.3,395.1 1905.1,391.9 1900.2,396.8 1903.4,400.0 1900.2,403.2 1905.1,408.1 1908.3,404.9 1911.5,408.1 1916.4,403.2 1913.2,400.0 1916.4,396.8ZM1915.7,438.6 1912.5,441.8 1909.3,438.6 1904.4,443.5 1907.6,446.7 1904.4,449.9 1909.3,454.8 1912.5,451.6 1915.7,454.8 1920.6,449.9 1917.4,446.7 1920.6,443.5ZM1919.9,438.0 1916.7,441.2 1913.5,438.0 1908.6,442.9 1911.8,446.1 1908.6,449.3 1913.5,454.2 1916.7,451.0 1919.9,454.2 1924.8,449.3 1921.6,446.1 1924.8,442.9ZM1924.1,430.5 1920.9,433.7 1917.7,430.5 1912.8,435.4 1916.0,438.6 1912.8,441.8 1917.7,446.8 1920.9,443.5 1924.1,446.8 1929.0,441.8 1925.8,438.6 1929.0,435.4ZM1928.3,431.4 1925.1,434.6 1921.9,431.4 1917.0,436.3 1920.2,439.5 1917.0,442.7 1921.9,447.6 1925.1,444.4 1928.3,447.6 1933.2,442.7 1930.0,439.5 1933.2,436.3ZM1932.5,423.4 1929.3,426.6 1926.1,423.4 1921.2,428.3 1924.4,431.5 1921.2,434.7 1926.1,439.6 1929.3,436.4 1932.5,439.6 1937.4,434.7 1934.2,431.5 1937.4,428.3ZM1936.7,460.1 1933.5,463.3 1930.3,460.1 1925.4,465.0 1928.6,468.2 1925.4,471.4 1930.3,476.3 1933.5,473.1 1936.7,476.3 1941.6,471.4 1938.4,468.2 1941.6,465.0ZM1940.9,424.9 1937.7,428.2 1934.5,424.9 1929.5,429.9 1932.8,433.1 1929.5,436.3 1934.5,441.2 1937.7,438.0 1940.9,441.2 1945.8,436.3 1942.6,433.1 1945.8,429.9ZM1945.0,472.7 1941.8,476.0 1938.6,472.7 1933.7,477.7 1936.9,480.9 1933.7,484.1 1938.6,489.0 1941.8,485.8 1945.0,489.0 1949.9,484.1 1946.7,480.9 1949.9,477.7ZM1949.2,397.1 1946.0,400.3 1942.8,397.1 1937.9,402.0 1941.1,405.2 1937.9,408.4 1942.8,413.4 1946.0,410.1 1949.2,413.4 1954.1,408.4 1950.9,405.2 1954.1,402.0ZM1953.4,455.8 1950.2,459.0 1947.0,455.8 1942.1,460.7 1945.3,463.9 1942.1,467.1 1947.0,472.0 1950.2,468.8 1953.4,472.0 1958.3,467.1 1955.1,463.9 1958.3,460.7ZM1957.6,430.3 1954.3,433.5 1951.1,430.3 1946.2,435.2 1949.4,438.4 1946.2,441.6 1951.1,446.5 1954.3,443.3 1957.6,446.5 1962.5,441.6 1959.3,438.4 1962.5,435.2ZM1961.7,441.0 1958.5,444.2 1955.3,441.0 1950.4,445.9 1953.6,449.1 1950.4,452.3 1955.3,457.2 1958.5,454.0 1961.7,457.2 1966.6,452.3 1963.4,449.1 1966.6,445.9ZM1965.9,405.4 1962.7,408.6 1959.5,405.4 1954.6,410.3 1957.8,413.5 1954.6,416.7 1959.5,421.6 1962.7,418.4 1965.9,421.6 1970.8,416.7 1967.6,413.5 1970.8,410.3ZM1970.0,438.9 1966.8,442.1 1963.6,438.9 1958.7,443.8 1961.9,447.0 1958.7,450.2 1963.6,455.1 1966.8,451.9 1970.0,455.1 1974.9,450.2 1971.7,447.0 1974.9,443.8ZM1974.2,427.0 1971.0,430.2 1967.8,427.0 1962.9,431.9 1966.1,435.1 1962.9,438.3 1967.8,443.2 1971.0,440.0 1974.2,443.2 1979.1,438.3 1975.9,435.1 1979.1,431.9ZM1978.3,463.1 1975.1,466.3 1971.9,463.1 1967.0,468.0 1970.2,471.2 1967.0,474.4 1971.9,479.3 1975.1,476.1 1978.3,479.3 1983.2,474.4 1980.0,471.2 1983.2,468.0ZM1982.5,456.8 1979.3,460.0 1976.1,456.8 1971.1,461.7 1974.3,464.9 1971.1,468.1 1976.1,473.0 1979.3,469.8 1982.5,473.0 1987.4,468.1 1984.2,464.9 1987.4,461.7ZM1986.6,475.7 1983.4,478.9 1980.2,475.7 1975.3,480.6 1978.5,483.8 1975.3,487.0 1980.2,491.9 1983.4,488.7 1986.6,491.9 1991.5,487.0 1988.3,483.8 1991.5,480.6ZM1990.7,461.0 1987.5,464.2 1984.3,461.0 1979.4,465.9 1982.6,469.1 1979.4,472.3 1984.3,477.2 1987.5,474.0 1990.7,477.2 1995.6,472.3 1992.4,469.1 1995.6,465.9ZM1994.9,463.1 1991.7,466.3 1988.5,463.1 1983.5,468.0 1986.7,471.2 1983.5,474.4 1988.5,479.3 1991.7,476.1 1994.9,479.3 1999.8,474.4 1996.6,471.2 1999.8,468.0ZM1999.0,482.6 1995.8,485.8 1992.6,482.6 1987.7,487.6 1990.9,490.8 1987.7,494.0 1992.6,498.9 1995.8,495.7 1999.0,498.9 2003.9,494.0 2000.7,490.8 2003.9,487.6ZM2003.1,482.8 1999.9,486.0 1996.7,482.8 1991.8,487.7 1995.0,490.9 1991.8,494.1 1996.7,499.0 1999.9,495.8 2003.1,499.0 2008.0,494.1 2004.8,490.9 2008.0,487.7ZM2007.2,446.0 2004.0,449.2 2000.8,446.0 1995.9,450.9 1999.1,454.1 1995.9,457.3 2000.8,462.2 2004.0,459.0 2007.2,462.2 2012.1,457.3 2008.9,454.1 2012.1,450.9ZM2011.3,456.9 2008.1,460.1 2004.9,456.9 2000.0,461.8 2003.2,465.0 2000.0,468.2 2004.9,473.1 2008.1,469.9 2011.3,473.1 2016.2,468.2 2013.0,465.0 2016.2,461.8ZM2015.4,471.3 2012.2,474.5 2009.0,471.3 2004.1,476.2 2007.3,479.4 2004.1,482.6 2009.0,487.5 2012.2,484.3 2015.4,487.5 2020.3,482.6 2017.1,479.4 2020.3,476.2ZM2019.5,477.3 2016.3,480.5 2013.1,477.3 2008.2,482.2 2011.4,485.4 2008.2,488.6 2013.1,493.5 2016.3,490.3 2019.5,493.5 2024.5,488.6 2021.2,485.4 2024.5,482.2ZM2023.6,487.7 2020.4,490.9 2017.2,487.7 2012.3,492.6 2015.5,495.8 2012.3,499.0 2017.2,503.9 2020.4,500.7 2023.6,503.9 2028.6,499.0 2025.3,495.8 2028.6,492.6ZM2027.7,458.4 2024.5,461.6 2021.3,458.4 2016.4,463.3 2019.6,466.5 2016.4,469.7 2021.3,474.6 2024.5,471.4 2027.7,474.6 2032.6,469.7 2029.4,466.5 2032.6,463.3ZM2031.8,478.8 2028.6,482.0 2025.4,478.8 2020.5,483.7 2023.7,486.9 2020.5,490.2 2025.4,495.1 2028.6,491.9 2031.8,495.1 2036.7,490.2 2033.5,486.9 2036.7,483.7ZM2035.9,604.1 2032.7,607.3 2029.5,604.1 2024.6,609.0 2027.8,612.2 2024.6,615.4 2029.5,620.3 2032.7,617.1 2035.9,620.3 2040.8,615.4 2037.6,612.2 2040.8,609.0ZM2040.0,474.1 2036.8,477.3 2033.6,474.1 2028.7,479.0 2031.9,482.2 2028.7,485.4 2033.6,490.3 2036.8,487.1 2040.0,490.3 2044.9,485.4 2041.7,482.2 2044.9,479.0ZM2044.1,470.9 2040.9,474.1 2037.7,470.9 2032.8,475.9 2036.0,479.1 2032.8,482.3 2037.7,487.2 2040.9,484.0 2044.1,487.2 2049.0,482.3 2045.8,479.1 2049.0,475.9ZM2048.2,465.0 2045.0,468.2 2041.8,465.0 2036.8,469.9 2040.0,473.1 2036.8,476.3 2041.8,481.2 2045.0,478.0 2048.2,481.2 2053.1,476.3 2049.9,473.1 2053.1,469.9ZM2052.2,458.5 2049.0,461.7 2045.8,458.5 2040.9,463.4 2044.1,466.6 2040.9,469.8 2045.8,474.8 2049.0,471.5 2052.2,474.8 2057.1,469.8 2053.9,466.6 2057.1,463.4ZM2056.3,512.6 2053.1,515.8 2049.9,512.6 2045.0,517.6 2048.2,520.8 2045.0,524.0 2049.9,528.9 2053.1,525.7 2056.3,528.9 2061.2,524.0 2058.0,520.8 2061.2,517.6ZM2060.4,477.1 2057.2,480.3 2054.0,477.1 2049.1,482.0 2052.3,485.2 2049.1,488.4 2054.0,493.3 2057.2,490.1 2060.4,493.3 2065.3,488.4 2062.1,485.2 2065.3,482.0ZM2064.4,553.1 2061.2,556.3 2058.0,553.1 2053.1,558.0 2056.3,561.2 2053.1,564.4 2058.0,569.3 2061.2,566.1 2064.4,569.3 2069.3,564.4 2066.1,561.2 2069.3,558.0ZM2068.5,488.4 2065.3,491.6 2062.1,488.4 2057.2,493.4 2060.4,496.6 2057.2,499.8 2062.1,504.7 2065.3,501.5 2068.5,504.7 2073.4,499.8 2070.2,496.6 2073.4,493.4ZM2072.5,447.1 2069.3,450.3 2066.1,447.1 2061.2,452.0 2064.4,455.2 2061.2,458.4 2066.1,463.3 2069.3,460.1 2072.5,463.3 2077.4,458.4 2074.2,455.2 2077.4,452.0ZM2076.6,529.8 2073.4,533.0 2070.2,529.8 2065.3,534.7 2068.5,537.9 2065.3,541.1 2070.2,546.0 2073.4,542.8 2076.6,546.0 2081.5,541.1 2078.3,537.9 2081.5,534.7ZM2080.6,515.5 2077.4,518.7 2074.2,515.5 2069.3,520.4 2072.5,523.6 2069.3,526.8 2074.2,531.7 2077.4,528.5 2080.6,531.7 2085.5,526.8 2082.3,523.6 2085.5,520.4ZM2084.7,490.8 2081.5,494.0 2078.3,490.8 2073.4,495.7 2076.6,498.9 2073.4,502.1 2078.3,507.0 2081.5,503.8 2084.7,507.0 2089.6,502.1 2086.4,498.9 2089.6,495.7ZM2088.7,538.6 2085.5,541.8 2082.3,538.6 2077.4,543.5 2080.6,546.7 2077.4,549.9 2082.3,554.8 2085.5,551.6 2088.7,554.8 2093.6,549.9 2090.4,546.7 2093.6,543.5ZM2092.7,416.6 2089.5,419.8 2086.3,416.6 2081.4,421.5 2084.6,424.7 2081.4,427.9 2086.3,432.8 2089.5,429.6 2092.7,432.8 2097.7,427.9 2094.4,424.7 2097.7,421.5ZM2096.8,504.2 2093.6,507.4 2090.4,504.2 2085.5,509.1 2088.7,512.4 2085.5,515.6 2090.4,520.5 2093.6,517.3 2096.8,520.5 2101.7,515.6 2098.5,512.4 2101.7,509.1ZM2100.8,441.9 2097.6,445.1 2094.4,441.9 2089.5,446.8 2092.7,450.0 2089.5,453.2 2094.4,458.1 2097.6,454.9 2100.8,458.1 2105.7,453.2 2102.5,450.0 2105.7,446.8ZM2104.8,493.4 2101.6,496.6 2098.4,493.4 2093.5,498.3 2096.7,501.5 2093.5,504.7 2098.4,509.6 2101.6,506.4 2104.8,509.6 2109.7,504.7 2106.5,501.5 2109.7,498.3ZM2108.8,451.7 2105.6,454.9 2102.4,451.7 2097.5,456.6 2100.7,459.8 2097.5,463.0 2102.4,467.9 2105.6,464.7 2108.8,467.9 2113.8,463.0 2110.5,459.8 2113.8,456.6ZM2112.9,464.0 2109.7,467.2 2106.5,464.0 2101.5,468.9 2104.7,472.1 2101.5,475.3 2106.5,480.2 2109.7,477.0 2112.9,480.2 2117.8,475.3 2114.6,472.1 2117.8,468.9ZM2116.9,488.7 2113.7,491.9 2110.5,488.7 2105.6,493.6 2108.8,496.8 2105.6,500.0 2110.5,504.9 2113.7,501.7 2116.9,504.9 2121.8,500.0 2118.6,496.8 2121.8,493.6ZM2120.9,461.7 2117.7,464.9 2114.5,461.7 2109.6,466.6 2112.8,469.8 2109.6,473.0 2114.5,477.9 2117.7,474.7 2120.9,477.9 2125.8,473.0 2122.6,469.8 2125.8,466.6ZM2124.9,488.1 2121.7,491.3 2118.5,488.1 2113.6,493.0 2116.8,496.2 2113.6,499.4 2118.5,504.3 2121.7,501.1 2124.9,504.3 2129.8,499.4 2126.6,496.2 2129.8,493.0ZM2128.9,487.8 2125.7,491.0 2122.5,487.8 2117.6,492.7 2120.8,495.9 2117.6,499.1 2122.5,504.0 2125.7,500.8 2128.9,504.0 2133.8,499.1 2130.6,495.9 2133.8,492.7ZM2132.9,432.9 2129.7,436.1 2126.5,432.9 2121.6,437.8 2124.8,441.0 2121.6,444.2 2126.5,449.1 2129.7,445.9 2132.9,449.1 2137.8,444.2 2134.6,441.0 2137.8,437.8ZM2136.9,501.1 2133.7,504.3 2130.5,501.1 2125.6,506.0 2128.8,509.2 2125.6,512.4 2130.5,517.3 2133.7,514.1 2136.9,517.3 2141.8,512.4 2138.6,509.2 2141.8,506.0ZM2140.9,503.5 2137.7,506.7 2134.5,503.5 2129.6,508.4 2132.8,511.6 2129.6,514.8 2134.5,519.7 2137.7,516.5 2140.9,519.7 2145.8,514.8 2142.6,511.6 2145.8,508.4ZM2144.9,412.7 2141.7,415.9 2138.4,412.7 2133.5,417.6 2136.7,420.8 2133.5,424.0 2138.4,428.9 2141.7,425.7 2144.9,428.9 2149.8,424.0 2146.6,420.8 2149.8,417.6ZM2148.8,497.6 2145.6,500.8 2142.4,497.6 2137.5,502.6 2140.7,505.8 2137.5,509.0 2142.4,513.9 2145.6,510.7 2148.8,513.9 2153.7,509.0 2150.5,505.8 2153.7,502.6ZM2152.8,486.8 2149.6,490.0 2146.4,486.8 2141.5,491.7 2144.7,494.9 2141.5,498.1 2146.4,503.0 2149.6,499.8 2152.8,503.0 2157.7,498.1 2154.5,494.9 2157.7,491.7ZM2156.8,454.4 2153.6,457.6 2150.4,454.4 2145.5,459.3 2148.7,462.5 2145.5,465.7 2150.4,470.6 2153.6,467.4 2156.8,470.6 2161.7,465.7 2158.5,462.5 2161.7,459.3ZM2160.8,591.7 2157.6,594.9 2154.4,591.7 2149.5,596.6 2152.7,599.8 2149.5,603.0 2154.4,607.9 2157.6,604.7 2160.8,607.9 2165.7,603.0 2162.5,599.8 2165.7,596.6ZM2164.7,514.0 2161.5,517.2 2158.3,514.0 2153.4,518.9 2156.6,522.1 2153.4,525.3 2158.3,530.2 2161.5,527.0 2164.7,530.2 2169.6,525.3 2166.4,522.1 2169.6,518.9ZM2168.7,453.3 2165.5,456.5 2162.3,453.3 2157.4,458.3 2160.6,461.5 2157.4,464.7 2162.3,469.6 2165.5,466.4 2168.7,469.6 2173.6,464.7 2170.4,461.5 2173.6,458.3ZM2172.7,506.0 2169.5,509.2 2166.3,506.0 2161.3,510.9 2164.6,514.1 2161.3,517.3 2166.3,522.2 2169.5,519.0 2172.7,522.2 2177.6,517.3 2174.4,514.1 2177.6,510.9ZM2176.6,494.1 2173.4,497.3 2170.2,494.1 2165.3,499.0 2168.5,502.2 2165.3,505.4 2170.2,510.3 2173.4,507.1 2176.6,510.3 2181.5,505.4 2178.3,502.2 2181.5,499.0ZM2180.6,500.6 2177.4,503.8 2174.2,500.6 2169.3,505.5 2172.5,508.7 2169.3,511.9 2174.2,516.8 2177.4,513.6 2180.6,516.8 2185.5,511.9 2182.3,508.7 2185.5,505.5ZM2184.5,481.6 2181.3,484.8 2178.1,481.6 2173.2,486.5 2176.4,489.7 2173.2,492.9 2178.1,497.8 2181.3,494.6 2184.5,497.8 2189.4,492.9 2186.2,489.7 2189.4,486.5ZM2188.5,552.0 2185.3,555.2 2182.1,552.0 2177.2,556.9 2180.4,560.1 2177.2,563.3 2182.1,568.2 2185.3,565.0 2188.5,568.2 2193.4,563.3 2190.2,560.1 2193.4,556.9ZM2192.4,512.3 2189.2,515.5 2186.0,512.3 2181.1,517.2 2184.3,520.4 2181.1,523.6 2186.0,528.5 2189.2,525.3 2192.4,528.5 2197.3,523.6 2194.1,520.4 2197.3,517.2ZM2196.4,489.0 2193.2,492.2 2190.0,489.0 2185.0,493.9 2188.3,497.2 2185.0,500.4 2190.0,505.3 2193.2,502.1 2196.4,505.3 2201.3,500.4 2198.1,497.2 2201.3,493.9ZM2200.3,493.5 2197.1,496.7 2193.9,493.5 2189.0,498.4 2192.2,501.6 2189.0,504.8 2193.9,509.7 2197.1,506.5 2200.3,509.7 2205.2,504.8 2202.0,501.6 2205.2,498.4ZM2204.2,534.6 2201.0,537.8 2197.8,534.6 2192.9,539.5 2196.1,542.7 2192.9,545.9 2197.8,550.8 2201.0,547.6 2204.2,550.8 2209.1,545.9 2205.9,542.7 2209.1,539.5ZM2208.2,507.8 2205.0,511.0 2201.8,507.8 2196.9,512.7 2200.1,515.9 2196.9,519.1 2201.8,524.0 2205.0,520.8 2208.2,524.0 2213.1,519.1 2209.9,515.9 2213.1,512.7ZM2212.1,486.4 2208.9,489.6 2205.7,486.4 2200.8,491.3 2204.0,494.5 2200.8,497.7 2205.7,502.6 2208.9,499.4 2212.1,502.6 2217.0,497.7 2213.8,494.5 2217.0,491.3ZM2216.0,507.1 2212.8,510.3 2209.6,507.1 2204.7,512.0 2207.9,515.2 2204.7,518.4 2209.6,523.3 2212.8,520.1 2216.0,523.3 2220.9,518.4 2217.7,515.2 2220.9,512.0ZM2219.9,487.8 2216.7,491.0 2213.5,487.8 2208.6,492.7 2211.8,495.9 2208.6,499.1 2213.5,504.0 2216.7,500.8 2219.9,504.0 2224.8,499.1 2221.6,495.9 2224.8,492.7ZM2223.9,514.4 2220.7,517.6 2217.5,514.4 2212.5,519.4 2215.7,522.6 2212.5,525.8 2217.5,530.7 2220.7,527.5 2223.9,530.7 2228.8,525.8 2225.6,522.6 2228.8,519.4ZM2227.8,548.3 2224.6,551.5 2221.4,548.3 2216.5,553.2 2219.7,556.4 2216.5,559.6 2221.4,564.6 2224.6,561.4 2227.8,564.6 2232.7,559.6 2229.5,556.4 2232.7,553.2ZM2231.7,487.5 2228.5,490.7 2225.3,487.5 2220.4,492.4 2223.6,495.6 2220.4,498.8 2225.3,503.7 2228.5,500.5 2231.7,503.7 2236.6,498.8 2233.4,495.6 2236.6,492.4ZM2235.6,537.7 2232.4,540.9 2229.2,537.7 2224.3,542.6 2227.5,545.8 2224.3,549.0 2229.2,553.9 2232.4,550.7 2235.6,553.9 2240.5,549.0 2237.3,545.8 2240.5,542.6ZM2239.5,528.9 2236.3,532.1 2233.1,528.9 2228.2,533.8 2231.4,537.0 2228.2,540.2 2233.1,545.1 2236.3,541.9 2239.5,545.1 2244.4,540.2 2241.2,537.0 2244.4,533.8ZM2243.4,516.9 2240.2,520.1 2237.0,516.9 2232.1,521.8 2235.3,525.0 2232.1,528.2 2237.0,533.1 2240.2,529.9 2243.4,533.1 2248.3,528.2 2245.1,525.0 2248.3,521.8ZM2247.3,515.8 2244.1,519.0 2240.9,515.8 2236.0,520.7 2239.2,523.9 2236.0,527.1 2240.9,532.0 2244.1,528.8 2247.3,532.0 2252.2,527.1 2249.0,523.9 2252.2,520.7ZM2251.2,521.4 2248.0,524.6 2244.8,521.4 2239.9,526.3 2243.1,529.5 2239.9,532.7 2244.8,537.6 2248.0,534.4 2251.2,537.6 2256.1,532.7 2252.9,529.5 2256.1,526.3ZM2255.1,602.8 2251.9,606.0 2248.7,602.8 2243.8,607.7 2247.0,610.9 2243.8,614.1 2248.7,619.0 2251.9,615.8 2255.1,619.0 2260.0,614.1 2256.8,610.9 2260.0,607.7ZM2259.0,514.8 2255.8,518.0 2252.6,514.8 2247.7,519.7 2250.9,522.9 2247.7,526.1 2252.6,531.0 2255.8,527.8 2259.0,531.0 2263.9,526.1 2260.7,522.9 2263.9,519.7ZM2262.9,520.6 2259.7,523.8 2256.5,520.6 2251.5,525.5 2254.7,528.7 2251.5,531.9 2256.5,536.8 2259.7,533.6 2262.9,536.8 2267.8,531.9 2264.6,528.7 2267.8,525.5ZM2266.7,552.6 2263.5,555.8 2260.3,552.6 2255.4,557.5 2258.6,560.7 2255.4,563.9 2260.3,568.8 2263.5,565.6 2266.7,568.8 2271.6,563.9 2268.4,560.7 2271.6,557.5ZM2270.6,558.0 2267.4,561.3 2264.2,558.0 2259.3,563.0 2262.5,566.2 2259.3,569.4 2264.2,574.3 2267.4,571.1 2270.6,574.3 2275.5,569.4 2272.3,566.2 2275.5,563.0ZM2274.5,561.9 2271.3,565.1 2268.1,561.9 2263.2,566.8 2266.4,570.0 2263.2,573.2 2268.1,578.1 2271.3,574.9 2274.5,578.1 2279.4,573.2 2276.2,570.0 2279.4,566.8ZM2278.4,590.0 2275.2,593.3 2272.0,590.0 2267.1,595.0 2270.3,598.2 2267.1,601.4 2272.0,606.3 2275.2,603.1 2278.4,606.3 2283.3,601.4 2280.1,598.2 2283.3,595.0ZM2282.2,551.8 2279.0,555.0 2275.8,551.8 2270.9,556.7 2274.1,559.9 2270.9,563.1 2275.8,568.0 2279.0,564.8 2282.2,568.0 2287.1,563.1 2283.9,559.9 2287.1,556.7ZM2286.1,602.0 2282.9,605.2 2279.7,602.0 2274.8,606.9 2278.0,610.1 2274.8,613.3 2279.7,618.2 2282.9,615.0 2286.1,618.2 2291.0,613.3 2287.8,610.1 2291.0,606.9ZM2290.0,522.1 2286.8,525.3 2283.6,522.1 2278.7,527.0 2281.9,530.2 2278.7,533.4 2283.6,538.4 2286.8,535.1 2290.0,538.4 2294.9,533.4 2291.7,530.2 2294.9,527.0ZM2293.8,492.6 2290.6,495.9 2287.4,492.6 2282.5,497.6 2285.7,500.8 2282.5,504.0 2287.4,508.9 2290.6,505.7 2293.8,508.9 2298.7,504.0 2295.5,500.8 2298.7,497.6ZM2297.7,518.6 2294.5,521.8 2291.3,518.6 2286.4,523.5 2289.6,526.7 2286.4,529.9 2291.3,534.8 2294.5,531.6 2297.7,534.8 2302.6,529.9 2299.4,526.7 2302.6,523.5ZM2301.5,519.7 2298.3,522.9 2295.1,519.7 2290.2,524.6 2293.4,527.8 2290.2,531.0 2295.1,535.9 2298.3,532.7 2301.5,535.9 2306.4,531.0 2303.2,527.8 2306.4,524.6ZM2305.4,529.8 2302.2,533.0 2299.0,529.8 2294.1,534.7 2297.3,537.9 2294.1,541.1 2299.0,546.0 2302.2,542.8 2305.4,546.0 2310.3,541.1 2307.1,537.9 2310.3,534.7ZM2309.2,556.3 2306.0,559.5 2302.8,556.3 2297.9,561.2 2301.1,564.4 2297.9,567.6 2302.8,572.5 2306.0,569.3 2309.2,572.5 2314.1,567.6 2310.9,564.4 2314.1,561.2ZM2313.1,559.4 2309.9,562.6 2306.7,559.4 2301.8,564.3 2305.0,567.5 2301.8,570.7 2306.7,575.6 2309.9,572.4 2313.1,575.6 2318.0,570.7 2314.8,567.5 2318.0,564.3ZM2316.9,558.8 2313.7,562.0 2310.5,558.8 2305.6,563.8 2308.8,567.0 2305.6,570.2 2310.5,575.1 2313.7,571.9 2316.9,575.1 2321.8,570.2 2318.6,567.0 2321.8,563.8ZM2320.8,549.9 2317.6,553.1 2314.4,549.9 2309.4,554.8 2312.7,558.0 2309.4,561.3 2314.4,566.2 2317.6,563.0 2320.8,566.2 2325.7,561.3 2322.5,558.0 2325.7,554.8ZM2324.6,576.7 2321.4,579.9 2318.2,576.7 2313.3,581.6 2316.5,584.8 2313.3,588.0 2318.2,592.9 2321.4,589.7 2324.6,592.9 2329.5,588.0 2326.3,584.8 2329.5,581.6ZM2328.4,563.6 2325.2,566.8 2322.0,563.6 2317.1,568.5 2320.3,571.7 2317.1,574.9 2322.0,579.8 2325.2,576.6 2328.4,579.8 2333.3,574.9 2330.1,571.7 2333.3,568.5ZM2332.3,532.3 2329.1,535.5 2325.9,532.3 2320.9,537.2 2324.1,540.4 2320.9,543.6 2325.9,548.5 2329.1,545.3 2332.3,548.5 2337.2,543.6 2334.0,540.4 2337.2,537.2ZM2336.1,544.9 2332.9,548.1 2329.7,544.9 2324.8,549.8 2328.0,553.0 2324.8,556.2 2329.7,561.1 2332.9,557.9 2336.1,561.1 2341.0,556.2 2337.8,553.0 2341.0,549.8Z"/>
<line clip-path="url(#clipB)" x1="1520.6" y1="323.8" x2="2319.1" y2="556.8" stroke="#000" stroke-width="7.5" stroke-dasharray="26,9.5"/>
<path clip-path="url(#clipB)" fill="#006400" d="M1508.4,589.9a9.4,9.4 0 1,0 18.8,0a9.4,9.4 0 1,0 -18.8,0ZM1513.1,587.0a9.4,9.4 0 1,0 18.8,0a9.4,9.4 0 1,0 -18.8,0ZM1517.8,630.5a9.4,9.4 0 1,0 18.8,0a9.4,9.4 0 1,0 -18.8,0ZM1522.5,574.9a9.4,9.4 0 1,0 18.8,0a9.4,9.4 0 1,0 -18.8,0ZM1527.1,513.4a9.4,9.4 0 1,0 18.8,0a9.4,9.4 0 1,0 -18.8,0ZM1531.8,650.1a9.4,9.4 0 1,0 18.8,0a9.4,9.4 0 1,0 -18.8,0ZM1536.5,576.8a9.4,9.4 0 1,0 18.8,0a9.4,9.4 0 1,0 -18.8,0ZM1541.1,516.8a9.4,9.4 0 1,0 18.8,0a9.4,9.4 0 1,0 -18.8,0ZM1545.8,584.1a9.4,9.4 0 1,0 18.8,0a9.4,9.4 0 1,0 -18.8,0ZM1550.4,579.8a9.4,9.4 0 1,0 18.8,0a9.4,9.4 0 1,0 -18.8,0ZM1555.0,549.3a9.4,9.4 0 1,0 18.8,0a9.4,9.4 0 1,0 -18.8,0ZM1559.7,528.9a9.4,9.4 0 1,0 18.8,0a9.4,9.4 0 1,0 -18.8,0ZM1564.3,575.9a9.4,9.4 0 1,0 18.8,0a9.4,9.4 0 1,0 -18.8,0ZM1568.9,550.9a9.4,9.4 0 1,0 18.8,0a9.4,9.4 0 1,0 -18.8,0ZM1573.5,922.4a9.4,9.4 0 1,0 18.8,0a9.4,9.4 0 1,0 -18.8,0ZM1578.1,616.6a9.4,9.4 0 1,0 18.8,0a9.4,9.4 0 1,0 -18.8,0ZM1582.7,758.9a9.4,9.4 0 1,0 18.8,0a9.4,9.4 0 1,0 -18.8,0ZM1587.3,626.6a9.4,9.4 0 1,0 18.8,0a9.4,9.4 0 1,0 -18.8,0ZM1591.9,683.8a9.4,9.4 0 1,0 18.8,0a9.4,9.4 0 1,0 -18.8,0ZM1596.4,696.6a9.4,9.4 0 1,0 18.8,0a9.4,9.4 0 1,0 -18.8,0ZM1601.0,601.3a9.4,9.4 0 1,0 18.8,0a9.4,9.4 0 1,0 -18.8,0ZM1605.6,607.4a9.4,9.4 0 1,0 18.8,0a9.4,9.4 0 1,0 -18.8,0ZM1610.1,609.6a9.4,9.4 0 1,0 18.8,0a9.4,9.4 0 1,0 -18.8,0ZM1614.7,575.5a9.4,9.4 0 1,0 18.8,0a9.4,9.4 0 1,0 -18.8,0ZM1619.2,585.0a9.4,9.4 0 1,0 18.8,0a9.4,9.4 0 1,0 -18.8,0ZM1623.8,588.4a9.4,9.4 0 1,0 18.8,0a9.4,9.4 0 1,0 -18.8,0ZM1628.3,508.7a9.4,9.4 0 1,0 18.8,0a9.4,9.4 0 1,0 -18.8,0ZM1632.8,568.0a9.4,9.4 0 1,0 18.8,0a9.4,9.4 0 1,0 -18.8,0ZM1637.4,645.7a9.4,9.4 0 1,0 18.8,0a9.4,9.4 0 1,0 -18.8,0ZM1641.9,618.8a9.4,9.4 0 1,0 18.8,0a9.4,9.4 0 1,0 -18.8,0ZM1646.4,682.3a9.4,9.4 0 1,0 18.8,0a9.4,9.4 0 1,0 -18.8,0ZM1650.9,608.8a9.4,9.4 0 1,0 18.8,0a9.4,9.4 0 1,0 -18.8,0ZM1655.4,670.2a9.4,9.4 0 1,0 18.8,0a9.4,9.4 0 1,0 -18.8,0ZM1659.9,550.6a9.4,9.4 0 1,0 18.8,0a9.4,9.4 0 1,0 -18.8,0ZM1664.4,663.0a9.4,9.4 0 1,0 18.8,0a9.4,9.4 0 1,0 -18.8,0ZM1668.8,550.8a9.4,9.4 0 1,0 18.8,0a9.4,9.4 0 1,0 -18.8,0ZM1673.3,586.2a9.4,9.4 0 1,0 18.8,0a9.4,9.4 0 1,0 -18.8,0ZM1677.8,619.5a9.4,9.4 0 1,0 18.8,0a9.4,9.4 0 1,0 -18.8,0ZM1682.3,735.0a9.4,9.4 0 1,0 18.8,0a9.4,9.4 0 1,0 -18.8,0ZM1686.7,571.6a9.4,9.4 0 1,0 18.8,0a9.4,9.4 0 1,0 -18.8,0ZM1691.2,576.3a9.4,9.4 0 1,0 18.8,0a9.4,9.4 0 1,0 -18.8,0ZM1695.6,579.2a9.4,9.4 0 1,0 18.8,0a9.4,9.4 0 1,0 -18.8,0ZM1700.1,615.9a9.4,9.4 0 1,0 18.8,0a9.4,9.4 0 1,0 -18.8,0ZM1704.5,560.4a9.4,9.4 0 1,0 18.8,0a9.4,9.4 0 1,0 -18.8,0ZM1708.9,557.9a9.4,9.4 0 1,0 18.8,0a9.4,9.4 0 1,0 -18.8,0ZM1713.4,582.1a9.4,9.4 0 1,0 18.8,0a9.4,9.4 0 1,0 -18.8,0ZM1717.8,765.6a9.4,9.4 0 1,0 18.8,0a9.4,9.4 0 1,0 -18.8,0ZM1722.2,638.5a9.4,9.4 0 1,0 18.8,0a9.4,9.4 0 1,0 -18.8,0ZM1726.6,632.0a9.4,9.4 0 1,0 18.8,0a9.4,9.4 0 1,0 -18.8,0ZM1731.0,596.4a9.4,9.4 0 1,0 18.8,0a9.4,9.4 0 1,0 -18.8,0ZM1735.4,627.1a9.4,9.4 0 1,0 18.8,0a9.4,9.4 0 1,0 -18.8,0ZM1739.8,680.5a9.4,9.4 0 1,0 18.8,0a9.4,9.4 0 1,0 -18.8,0ZM1744.2,606.1a9.4,9.4 0 1,0 18.8,0a9.4,9.4 0 1,0 -18.8,0ZM1748.6,917.6a9.4,9.4 0 1,0 18.8,0a9.4,9.4 0 1,0 -18.8,0ZM1753.0,680.5a9.4,9.4 0 1,0 18.8,0a9.4,9.4 0 1,0 -18.8,0ZM1757.3,762.0a9.4,9.4 0 1,0 18.8,0a9.4,9.4 0 1,0 -18.8,0ZM1761.7,604.0a9.4,9.4 0 1,0 18.8,0a9.4,9.4 0 1,0 -18.8,0ZM1766.1,688.6a9.4,9.4 0 1,0 18.8,0a9.4,9.4 0 1,0 -18.8,0ZM1770.4,739.6a9.4,9.4 0 1,0 18.8,0a9.4,9.4 0 1,0 -18.8,0ZM1774.8,577.9a9.4,9.4 0 1,0 18.8,0a9.4,9.4 0 1,0 -18.8,0ZM1779.1,655.3a9.4,9.4 0 1,0 18.8,0a9.4,9.4 0 1,0 -18.8,0ZM1783.5,639.4a9.4,9.4 0 1,0 18.8,0a9.4,9.4 0 1,0 -18.8,0ZM1787.8,616.8a9.4,9.4 0 1,0 18.8,0a9.4,9.4 0 1,0 -18.8,0ZM1792.1,648.7a9.4,9.4 0 1,0 18.8,0a9.4,9.4 0 1,0 -18.8,0ZM1796.5,648.4a9.4,9.4 0 1,0 18.8,0a9.4,9.4 0 1,0 -18.8,0ZM1800.8,635.7a9.4,9.4 0 1,0 18.8,0a9.4,9.4 0 1,0 -18.8,0ZM1805.1,641.3a9.4,9.4 0 1,0 18.8,0a9.4,9.4 0 1,0 -18.8,0ZM1809.4,647.3a9.4,9.4 0 1,0 18.8,0a9.4,9.4 0 1,0 -18.8,0ZM1813.7,622.9a9.4,9.4 0 1,0 18.8,0a9.4,9.4 0 1,0 -18.8,0ZM1818.0,610.9a9.4,9.4 0 1,0 18.8,0a9.4,9.4 0 1,0 -18.8,0ZM1822.3,621.6a9.4,9.4 0 1,0 18.8,0a9.4,9.4 0 1,0 -18.8,0ZM1826.6,693.4a9.4,9.4 0 1,0 18.8,0a9.4,9.4 0 1,0 -18.8,0ZM1830.9,602.5a9.4,9.4 0 1,0 18.8,0a9.4,9.4 0 1,0 -18.8,0ZM1835.2,604.0a9.4,9.4 0 1,0 18.8,0a9.4,9.4 0 1,0 -18.8,0ZM1839.5,605.7a9.4,9.4 0 1,0 18.8,0a9.4,9.4 0 1,0 -18.8,0ZM1843.7,638.8a9.4,9.4 0 1,0 18.8,0a9.4,9.4 0 1,0 -18.8,0ZM1848.0,614.1a9.4,9.4 0 1,0 18.8,0a9.4,9.4 0 1,0 -18.8,0ZM1852.3,626.6a9.4,9.4 0 1,0 18.8,0a9.4,9.4 0 1,0 -18.8,0ZM1856.5,671.6a9.4,9.4 0 1,0 18.8,0a9.4,9.4 0 1,0 -18.8,0ZM1860.8,624.9a9.4,9.4 0 1,0 18.8,0a9.4,9.4 0 1,0 -18.8,0ZM1865.0,643.1a9.4,9.4 0 1,0 18.8,0a9.4,9.4 0 1,0 -18.8,0ZM1869.3,649.8a9.4,9.4 0 1,0 18.8,0a9.4,9.4 0 1,0 -18.8,0ZM1873.5,674.1a9.4,9.4 0 1,0 18.8,0a9.4,9.4 0 1,0 -18.8,0ZM1877.8,744.2a9.4,9.4 0 1,0 18.8,0a9.4,9.4 0 1,0 -18.8,0ZM1882.0,603.4a9.4,9.4 0 1,0 18.8,0a9.4,9.4 0 1,0 -18.8,0ZM1886.2,655.7a9.4,9.4 0 1,0 18.8,0a9.4,9.4 0 1,0 -18.8,0ZM1890.4,762.1a9.4,9.4 0 1,0 18.8,0a9.4,9.4 0 1,0 -18.8,0ZM1894.7,645.6a9.4,9.4 0 1,0 18.8,0a9.4,9.4 0 1,0 -18.8,0ZM1898.9,671.9a9.4,9.4 0 1,0 18.8,0a9.4,9.4 0 1,0 -18.8,0ZM1903.1,632.6a9.4,9.4 0 1,0 18.8,0a9.4,9.4 0 1,0 -18.8,0ZM1907.3,653.2a9.4,9.4 0 1,0 18.8,0a9.4,9.4 0 1,0 -18.8,0ZM1911.5,613.5a9.4,9.4 0 1,0 18.8,0a9.4,9.4 0 1,0 -18.8,0ZM1915.7,654.7a9.4,9.4 0 1,0 18.8,0a9.4,9.4 0 1,0 -18.8,0ZM1919.9,665.6a9.4,9.4 0 1,0 18.8,0a9.4,9.4 0 1,0 -18.8,0ZM1924.1,655.5a9.4,9.4 0 1,0 18.8,0a9.4,9.4 0 1,0 -18.8,0ZM1928.3,625.9a9.4,9.4 0 1,0 18.8,0a9.4,9.4 0 1,0 -18.8,0ZM1932.4,717.8a9.4,9.4 0 1,0 18.8,0a9.4,9.4 0 1,0 -18.8,0ZM1936.6,638.8a9.4,9.4 0 1,0 18.8,0a9.4,9.4 0 1,0 -18.8,0ZM1940.8,801.5a9.4,9.4 0 1,0 18.8,0a9.4,9.4 0 1,0 -18.8,0ZM1944.9,699.9a9.4,9.4 0 1,0 18.8,0a9.4,9.4 0 1,0 -18.8,0ZM1949.1,737.1a9.4,9.4 0 1,0 18.8,0a9.4,9.4 0 1,0 -18.8,0ZM1953.3,747.1a9.4,9.4 0 1,0 18.8,0a9.4,9.4 0 1,0 -18.8,0ZM1957.4,779.8a9.4,9.4 0 1,0 18.8,0a9.4,9.4 0 1,0 -18.8,0ZM1961.6,655.8a9.4,9.4 0 1,0 18.8,0a9.4,9.4 0 1,0 -18.8,0ZM1965.7,714.2a9.4,9.4 0 1,0 18.8,0a9.4,9.4 0 1,0 -18.8,0ZM1969.9,663.8a9.4,9.4 0 1,0 18.8,0a9.4,9.4 0 1,0 -18.8,0ZM1974.0,648.2a9.4,9.4 0 1,0 18.8,0a9.4,9.4 0 1,0 -18.8,0ZM1978.1,761.1a9.4,9.4 0 1,0 18.8,0a9.4,9.4 0 1,0 -18.8,0ZM1982.3,654.4a9.4,9.4 0 1,0 18.8,0a9.4,9.4 0 1,0 -18.8,0ZM1986.4,678.4a9.4,9.4 0 1,0 18.8,0a9.4,9.4 0 1,0 -18.8,0ZM1990.5,689.8a9.4,9.4 0 1,0 18.8,0a9.4,9.4 0 1,0 -18.8,0ZM1994.6,626.6a9.4,9.4 0 1,0 18.8,0a9.4,9.4 0 1,0 -18.8,0ZM1998.7,714.4a9.4,9.4 0 1,0 18.8,0a9.4,9.4 0 1,0 -18.8,0ZM2002.8,770.7a9.4,9.4 0 1,0 18.8,0a9.4,9.4 0 1,0 -18.8,0ZM2006.9,682.0a9.4,9.4 0 1,0 18.8,0a9.4,9.4 0 1,0 -18.8,0ZM2011.0,676.6a9.4,9.4 0 1,0 18.8,0a9.4,9.4 0 1,0 -18.8,0ZM2015.1,700.4a9.4,9.4 0 1,0 18.8,0a9.4,9.4 0 1,0 -18.8,0ZM2019.2,685.3a9.4,9.4 0 1,0 18.8,0a9.4,9.4 0 1,0 -18.8,0ZM2023.3,970.0a9.4,9.4 0 1,0 18.8,0a9.4,9.4 0 1,0 -18.8,0ZM2027.4,721.2a9.4,9.4 0 1,0 18.8,0a9.4,9.4 0 1,0 -18.8,0ZM2031.5,771.1a9.4,9.4 0 1,0 18.8,0a9.4,9.4 0 1,0 -18.8,0ZM2035.6,724.5a9.4,9.4 0 1,0 18.8,0a9.4,9.4 0 1,0 -18.8,0ZM2039.6,693.9a9.4,9.4 0 1,0 18.8,0a9.4,9.4 0 1,0 -18.8,0ZM2043.7,653.2a9.4,9.4 0 1,0 18.8,0a9.4,9.4 0 1,0 -18.8,0ZM2047.8,698.2a9.4,9.4 0 1,0 18.8,0a9.4,9.4 0 1,0 -18.8,0ZM2051.8,726.9a9.4,9.4 0 1,0 18.8,0a9.4,9.4 0 1,0 -18.8,0ZM2055.9,668.8a9.4,9.4 0 1,0 18.8,0a9.4,9.4 0 1,0 -18.8,0ZM2059.9,665.6a9.4,9.4 0 1,0 18.8,0a9.4,9.4 0 1,0 -18.8,0ZM2064.0,781.6a9.4,9.4 0 1,0 18.8,0a9.4,9.4 0 1,0 -18.8,0ZM2068.0,676.0a9.4,9.4 0 1,0 18.8,0a9.4,9.4 0 1,0 -18.8,0ZM2072.1,714.2a9.4,9.4 0 1,0 18.8,0a9.4,9.4 0 1,0 -18.8,0ZM2076.1,696.3a9.4,9.4 0 1,0 18.8,0a9.4,9.4 0 1,0 -18.8,0ZM2080.1,707.0a9.4,9.4 0 1,0 18.8,0a9.4,9.4 0 1,0 -18.8,0ZM2084.2,660.0a9.4,9.4 0 1,0 18.8,0a9.4,9.4 0 1,0 -18.8,0ZM2088.2,729.1a9.4,9.4 0 1,0 18.8,0a9.4,9.4 0 1,0 -18.8,0ZM2092.2,771.7a9.4,9.4 0 1,0 18.8,0a9.4,9.4 0 1,0 -18.8,0ZM2096.2,698.1a9.4,9.4 0 1,0 18.8,0a9.4,9.4 0 1,0 -18.8,0ZM2100.3,727.3a9.4,9.4 0 1,0 18.8,0a9.4,9.4 0 1,0 -18.8,0ZM2104.3,669.0a9.4,9.4 0 1,0 18.8,0a9.4,9.4 0 1,0 -18.8,0ZM2108.3,796.4a9.4,9.4 0 1,0 18.8,0a9.4,9.4 0 1,0 -18.8,0ZM2112.3,698.8a9.4,9.4 0 1,0 18.8,0a9.4,9.4 0 1,0 -18.8,0ZM2116.3,683.9a9.4,9.4 0 1,0 18.8,0a9.4,9.4 0 1,0 -18.8,0ZM2120.3,652.6a9.4,9.4 0 1,0 18.8,0a9.4,9.4 0 1,0 -18.8,0ZM2124.3,650.7a9.4,9.4 0 1,0 18.8,0a9.4,9.4 0 1,0 -18.8,0ZM2128.3,753.4a9.4,9.4 0 1,0 18.8,0a9.4,9.4 0 1,0 -18.8,0ZM2132.3,678.9a9.4,9.4 0 1,0 18.8,0a9.4,9.4 0 1,0 -18.8,0ZM2136.2,694.3a9.4,9.4 0 1,0 18.8,0a9.4,9.4 0 1,0 -18.8,0ZM2140.2,670.7a9.4,9.4 0 1,0 18.8,0a9.4,9.4 0 1,0 -18.8,0ZM2144.2,632.6a9.4,9.4 0 1,0 18.8,0a9.4,9.4 0 1,0 -18.8,0ZM2148.2,709.7a9.4,9.4 0 1,0 18.8,0a9.4,9.4 0 1,0 -18.8,0ZM2152.1,734.2a9.4,9.4 0 1,0 18.8,0a9.4,9.4 0 1,0 -18.8,0ZM2156.1,618.3a9.4,9.4 0 1,0 18.8,0a9.4,9.4 0 1,0 -18.8,0ZM2160.1,800.1a9.4,9.4 0 1,0 18.8,0a9.4,9.4 0 1,0 -18.8,0ZM2164.0,792.9a9.4,9.4 0 1,0 18.8,0a9.4,9.4 0 1,0 -18.8,0ZM2168.0,795.0a9.4,9.4 0 1,0 18.8,0a9.4,9.4 0 1,0 -18.8,0ZM2171.9,761.6a9.4,9.4 0 1,0 18.8,0a9.4,9.4 0 1,0 -18.8,0ZM2175.9,668.6a9.4,9.4 0 1,0 18.8,0a9.4,9.4 0 1,0 -18.8,0ZM2179.8,681.0a9.4,9.4 0 1,0 18.8,0a9.4,9.4 0 1,0 -18.8,0ZM2183.8,723.4a9.4,9.4 0 1,0 18.8,0a9.4,9.4 0 1,0 -18.8,0ZM2187.7,718.3a9.4,9.4 0 1,0 18.8,0a9.4,9.4 0 1,0 -18.8,0ZM2191.6,718.8a9.4,9.4 0 1,0 18.8,0a9.4,9.4 0 1,0 -18.8,0ZM2195.6,795.9a9.4,9.4 0 1,0 18.8,0a9.4,9.4 0 1,0 -18.8,0ZM2199.5,721.9a9.4,9.4 0 1,0 18.8,0a9.4,9.4 0 1,0 -18.8,0ZM2203.4,774.9a9.4,9.4 0 1,0 18.8,0a9.4,9.4 0 1,0 -18.8,0ZM2207.3,895.6a9.4,9.4 0 1,0 18.8,0a9.4,9.4 0 1,0 -18.8,0ZM2211.3,709.8a9.4,9.4 0 1,0 18.8,0a9.4,9.4 0 1,0 -18.8,0ZM2215.2,701.8a9.4,9.4 0 1,0 18.8,0a9.4,9.4 0 1,0 -18.8,0ZM2219.1,772.9a9.4,9.4 0 1,0 18.8,0a9.4,9.4 0 1,0 -18.8,0ZM2223.0,693.8a9.4,9.4 0 1,0 18.8,0a9.4,9.4 0 1,0 -18.8,0ZM2226.9,666.5a9.4,9.4 0 1,0 18.8,0a9.4,9.4 0 1,0 -18.8,0ZM2230.8,735.3a9.4,9.4 0 1,0 18.8,0a9.4,9.4 0 1,0 -18.8,0ZM2234.7,739.8a9.4,9.4 0 1,0 18.8,0a9.4,9.4 0 1,0 -18.8,0ZM2238.6,734.7a9.4,9.4 0 1,0 18.8,0a9.4,9.4 0 1,0 -18.8,0ZM2242.5,761.8a9.4,9.4 0 1,0 18.8,0a9.4,9.4 0 1,0 -18.8,0ZM2246.4,779.0a9.4,9.4 0 1,0 18.8,0a9.4,9.4 0 1,0 -18.8,0ZM2250.3,808.3a9.4,9.4 0 1,0 18.8,0a9.4,9.4 0 1,0 -18.8,0ZM2254.1,729.8a9.4,9.4 0 1,0 18.8,0a9.4,9.4 0 1,0 -18.8,0ZM2258.0,773.3a9.4,9.4 0 1,0 18.8,0a9.4,9.4 0 1,0 -18.8,0ZM2261.9,770.6a9.4,9.4 0 1,0 18.8,0a9.4,9.4 0 1,0 -18.8,0ZM2265.8,817.7a9.4,9.4 0 1,0 18.8,0a9.4,9.4 0 1,0 -18.8,0ZM2269.6,970.9a9.4,9.4 0 1,0 18.8,0a9.4,9.4 0 1,0 -18.8,0ZM2273.5,778.8a9.4,9.4 0 1,0 18.8,0a9.4,9.4 0 1,0 -18.8,0ZM2277.4,834.6a9.4,9.4 0 1,0 18.8,0a9.4,9.4 0 1,0 -18.8,0ZM2281.2,731.0a9.4,9.4 0 1,0 18.8,0a9.4,9.4 0 1,0 -18.8,0ZM2285.1,751.4a9.4,9.4 0 1,0 18.8,0a9.4,9.4 0 1,0 -18.8,0ZM2288.9,978.7a9.4,9.4 0 1,0 18.8,0a9.4,9.4 0 1,0 -18.8,0ZM2292.8,664.0a9.4,9.4 0 1,0 18.8,0a9.4,9.4 0 1,0 -18.8,0ZM2296.6,750.8a9.4,9.4 0 1,0 18.8,0a9.4,9.4 0 1,0 -18.8,0ZM2300.5,719.7a9.4,9.4 0 1,0 18.8,0a9.4,9.4 0 1,0 -18.8,0ZM2304.3,789.4a9.4,9.4 0 1,0 18.8,0a9.4,9.4 0 1,0 -18.8,0ZM2308.2,761.4a9.4,9.4 0 1,0 18.8,0a9.4,9.4 0 1,0 -18.8,0ZM2312.0,717.2a9.4,9.4 0 1,0 18.8,0a9.4,9.4 0 1,0 -18.8,0ZM2315.8,925.9a9.4,9.4 0 1,0 18.8,0a9.4,9.4 0 1,0 -18.8,0ZM2319.7,973.7a9.4,9.4 0 1,0 18.8,0a9.4,9.4 0 1,0 -18.8,0ZM2323.5,997.8a9.4,9.4 0 1,0 18.8,0a9.4,9.4 0 1,0 -18.8,0Z"/>
<line clip-path="url(#clipB)" x1="1520.6" y1="554.9" x2="2319.1" y2="794.4" stroke="#000" stroke-width="7.5" stroke-dasharray="26,9.5"/>
<path clip-path="url(#clipB)" fill="#ff0000" d="M1521.0,435.8 1517.8,439.0 1514.6,435.8 1509.7,440.7 1512.9,443.9 1509.7,447.1 1514.6,452.0 1517.8,448.8 1521.0,452.0 1525.9,447.1 1522.7,443.9 1525.9,440.7ZM1525.7,472.6 1522.5,475.8 1519.3,472.6 1514.4,477.5 1517.6,480.7 1514.4,483.9 1519.3,488.8 1522.5,485.6 1525.7,488.8 1530.6,483.9 1527.4,480.7 1530.6,477.5ZM1530.4,475.6 1527.2,478.8 1524.0,475.6 1519.1,480.6 1522.3,483.8 1519.1,487.0 1524.0,491.9 1527.2,488.7 1530.4,491.9 1535.3,487.0 1532.1,483.8 1535.3,480.6ZM1535.1,485.8 1531.9,489.0 1528.7,485.8 1523.8,490.7 1527.0,493.9 1523.8,497.1 1528.7,502.0 1531.9,498.8 1535.1,502.0 1540.0,497.1 1536.8,493.9 1540.0,490.7ZM1539.7,492.7 1536.5,495.9 1533.3,492.7 1528.4,497.6 1531.6,500.9 1528.4,504.1 1533.3,509.0 1536.5,505.8 1539.7,509.0 1544.6,504.1 1541.4,500.9 1544.6,497.6ZM1544.4,490.7 1541.2,493.9 1538.0,490.7 1533.1,495.6 1536.3,498.8 1533.1,502.0 1538.0,506.9 1541.2,503.7 1544.4,506.9 1549.3,502.0 1546.1,498.8 1549.3,495.6ZM1549.1,462.3 1545.9,465.5 1542.7,462.3 1537.7,467.2 1541.0,470.4 1537.7,473.6 1542.7,478.5 1545.9,475.3 1549.1,478.5 1554.0,473.6 1550.8,470.4 1554.0,467.2ZM1553.7,509.1 1550.5,512.4 1547.3,509.1 1542.4,514.1 1545.6,517.3 1542.4,520.5 1547.3,525.4 1550.5,522.2 1553.7,525.4 1558.6,520.5 1555.4,517.3 1558.6,514.1ZM1558.4,458.5 1555.2,461.7 1552.0,458.5 1547.0,463.4 1550.3,466.6 1547.0,469.8 1552.0,474.7 1555.2,471.5 1558.4,474.7 1563.3,469.8 1560.1,466.6 1563.3,463.4ZM1563.0,522.8 1559.8,526.0 1556.6,522.8 1551.7,527.7 1554.9,530.9 1551.7,534.1 1556.6,539.0 1559.8,535.8 1563.0,539.0 1567.9,534.1 1564.7,530.9 1567.9,527.7ZM1567.6,499.6 1564.4,502.8 1561.2,499.6 1556.3,504.5 1559.5,507.7 1556.3,510.9 1561.2,515.8 1564.4,512.6 1567.6,515.8 1572.5,510.9 1569.3,507.7 1572.5,504.5ZM1572.3,465.0 1569.1,468.2 1565.9,465.0 1560.9,469.9 1564.1,473.1 1560.9,476.3 1565.9,481.3 1569.1,478.0 1572.3,481.3 1577.2,476.3 1574.0,473.1 1577.2,469.9ZM1576.9,475.1 1573.7,478.3 1570.5,475.1 1565.6,480.0 1568.8,483.2 1565.6,486.4 1570.5,491.3 1573.7,488.1 1576.9,491.3 1581.8,486.4 1578.6,483.2 1581.8,480.0ZM1581.5,510.1 1578.3,513.3 1575.1,510.1 1570.2,515.0 1573.4,518.3 1570.2,521.5 1575.1,526.4 1578.3,523.2 1581.5,526.4 1586.4,521.5 1583.2,518.3 1586.4,515.0ZM1586.1,454.4 1582.9,457.6 1579.7,454.4 1574.8,459.3 1578.0,462.5 1574.8,465.7 1579.7,470.6 1582.9,467.4 1586.1,470.6 1591.0,465.7 1587.8,462.5 1591.0,459.3ZM1590.7,478.0 1587.5,481.2 1584.3,478.0 1579.4,482.9 1582.6,486.1 1579.4,489.3 1584.3,494.2 1587.5,491.0 1590.7,494.2 1595.6,489.3 1592.4,486.1 1595.6,482.9ZM1595.3,514.5 1592.1,517.7 1588.9,514.5 1584.0,519.4 1587.2,522.6 1584.0,525.8 1588.9,530.7 1592.1,527.5 1595.3,530.7 1600.2,525.8 1597.0,522.6 1600.2,519.4ZM1599.9,488.3 1596.7,491.5 1593.5,488.3 1588.6,493.2 1591.8,496.4 1588.6,499.6 1593.5,504.5 1596.7,501.3 1599.9,504.5 1604.8,499.6 1601.6,496.4 1604.8,493.2ZM1604.5,520.0 1601.3,523.2 1598.1,520.0 1593.2,524.9 1596.4,528.1 1593.2,531.3 1598.1,536.2 1601.3,533.0 1604.5,536.2 1609.4,531.3 1606.2,528.1 1609.4,524.9ZM1609.0,486.9 1605.8,490.1 1602.6,486.9 1597.7,491.8 1600.9,495.1 1597.7,498.3 1602.6,503.2 1605.8,500.0 1609.0,503.2 1614.0,498.3 1610.7,495.1 1614.0,491.8ZM1613.6,543.2 1610.4,546.4 1607.2,543.2 1602.3,548.1 1605.5,551.3 1602.3,554.5 1607.2,559.4 1610.4,556.2 1613.6,559.4 1618.5,554.5 1615.3,551.3 1618.5,548.1ZM1618.2,481.1 1615.0,484.3 1611.8,481.1 1606.9,486.0 1610.1,489.2 1606.9,492.4 1611.8,497.3 1615.0,494.1 1618.2,497.3 1623.1,492.4 1619.9,489.2 1623.1,486.0ZM1622.7,555.1 1619.5,558.3 1616.3,555.1 1611.4,560.0 1614.6,563.2 1611.4,566.4 1616.3,571.3 1619.5,568.1 1622.7,571.3 1627.6,566.4 1624.4,563.2 1627.6,560.0ZM1627.3,469.7 1624.1,472.9 1620.9,469.7 1616.0,474.6 1619.2,477.8 1616.0,481.0 1620.9,485.9 1624.1,482.7 1627.3,485.9 1632.2,481.0 1629.0,477.8 1632.2,474.6ZM1631.8,495.7 1628.6,498.9 1625.4,495.7 1620.5,500.6 1623.7,503.8 1620.5,507.0 1625.4,511.9 1628.6,508.7 1631.8,511.9 1636.7,507.0 1633.5,503.8 1636.7,500.6ZM1636.4,462.1 1633.2,465.3 1630.0,462.1 1625.1,467.0 1628.3,470.2 1625.1,473.4 1630.0,478.3 1633.2,475.1 1636.4,478.3 1641.3,473.4 1638.1,470.2 1641.3,467.0ZM1640.9,519.4 1637.7,522.6 1634.5,519.4 1629.6,524.3 1632.8,527.5 1629.6,530.7 1634.5,535.6 1637.7,532.4 1640.9,535.6 1645.8,530.7 1642.6,527.5 1645.8,524.3ZM1645.4,560.8 1642.2,564.0 1639.0,560.8 1634.1,565.7 1637.3,568.9 1634.1,572.1 1639.0,577.1 1642.2,573.8 1645.4,577.1 1650.3,572.1 1647.1,568.9 1650.3,565.7ZM1650.0,541.9 1646.8,545.1 1643.6,541.9 1638.6,546.8 1641.8,550.0 1638.6,553.2 1643.6,558.2 1646.8,554.9 1650.0,558.2 1654.9,553.2 1651.7,550.0 1654.9,546.8ZM1654.5,512.3 1651.3,515.5 1648.1,512.3 1643.2,517.2 1646.4,520.4 1643.2,523.6 1648.1,528.5 1651.3,525.3 1654.5,528.5 1659.4,523.6 1656.2,520.4 1659.4,517.2ZM1659.0,451.6 1655.8,454.8 1652.6,451.6 1647.7,456.5 1650.9,459.7 1647.7,462.9 1652.6,467.8 1655.8,464.6 1659.0,467.8 1663.9,462.9 1660.7,459.7 1663.9,456.5ZM1663.5,495.4 1660.3,498.6 1657.1,495.4 1652.2,500.4 1655.4,503.6 1652.2,506.8 1657.1,511.7 1660.3,508.5 1663.5,511.7 1668.4,506.8 1665.2,503.6 1668.4,500.4ZM1668.0,474.3 1664.8,477.5 1661.6,474.3 1656.7,479.2 1659.9,482.4 1656.7,485.6 1661.6,490.5 1664.8,487.3 1668.0,490.5 1672.9,485.6 1669.7,482.4 1672.9,479.2ZM1672.5,539.1 1669.3,542.3 1666.1,539.1 1661.2,544.0 1664.4,547.2 1661.2,550.4 1666.1,555.3 1669.3,552.1 1672.5,555.3 1677.4,550.4 1674.2,547.2 1677.4,544.0ZM1677.0,528.6 1673.8,531.8 1670.6,528.6 1665.7,533.5 1668.9,536.7 1665.7,539.9 1670.6,544.8 1673.8,541.6 1677.0,544.8 1681.9,539.9 1678.7,536.7 1681.9,533.5ZM1681.5,526.8 1678.2,530.0 1675.0,526.8 1670.1,531.8 1673.3,535.0 1670.1,538.2 1675.0,543.1 1678.2,539.9 1681.5,543.1 1686.4,538.2 1683.2,535.0 1686.4,531.8ZM1685.9,474.7 1682.7,477.9 1679.5,474.7 1674.6,479.6 1677.8,482.8 1674.6,486.0 1679.5,490.9 1682.7,487.7 1685.9,490.9 1690.8,486.0 1687.6,482.8 1690.8,479.6ZM1690.4,520.8 1687.2,524.0 1684.0,520.8 1679.1,525.7 1682.3,528.9 1679.1,532.1 1684.0,537.0 1687.2,533.8 1690.4,537.0 1695.3,532.1 1692.1,528.9 1695.3,525.7ZM1694.9,510.6 1691.7,513.8 1688.5,510.6 1683.5,515.5 1686.8,518.7 1683.5,521.9 1688.5,526.8 1691.7,523.6 1694.9,526.8 1699.8,521.9 1696.6,518.7 1699.8,515.5ZM1699.3,457.0 1696.1,460.2 1692.9,457.0 1688.0,461.9 1691.2,465.2 1688.0,468.4 1692.9,473.3 1696.1,470.1 1699.3,473.3 1704.2,468.4 1701.0,465.2 1704.2,461.9ZM1703.8,523.5 1700.6,526.7 1697.4,523.5 1692.5,528.4 1695.7,531.6 1692.5,534.8 1697.4,539.7 1700.6,536.5 1703.8,539.7 1708.7,534.8 1705.5,531.6 1708.7,528.4ZM1708.2,496.6 1705.0,499.8 1701.8,496.6 1696.9,501.5 1700.1,504.7 1696.9,507.9 1701.8,512.8 1705.0,509.6 1708.2,512.8 1713.1,507.9 1709.9,504.7 1713.1,501.5ZM1712.7,527.9 1709.5,531.1 1706.3,527.9 1701.4,532.8 1704.6,536.0 1701.4,539.2 1706.3,544.1 1709.5,540.9 1712.7,544.1 1717.6,539.2 1714.4,536.0 1717.6,532.8ZM1717.1,494.7 1713.9,497.9 1710.7,494.7 1705.8,499.6 1709.0,502.8 1705.8,506.0 1710.7,510.9 1713.9,507.7 1717.1,510.9 1722.0,506.0 1718.8,502.8 1722.0,499.6ZM1721.5,471.8 1718.3,475.0 1715.1,471.8 1710.2,476.7 1713.4,480.0 1710.2,483.2 1715.1,488.1 1718.3,484.9 1721.5,488.1 1726.4,483.2 1723.2,480.0 1726.4,476.7ZM1726.0,468.0 1722.8,471.2 1719.6,468.0 1714.6,472.9 1717.9,476.1 1714.6,479.3 1719.6,484.2 1722.8,481.0 1726.0,484.2 1730.9,479.3 1727.7,476.1 1730.9,472.9ZM1730.4,542.0 1727.2,545.2 1724.0,542.0 1719.1,546.9 1722.3,550.1 1719.1,553.3 1724.0,558.2 1727.2,555.0 1730.4,558.2 1735.3,553.3 1732.1,550.1 1735.3,546.9ZM1734.8,578.1 1731.6,581.3 1728.4,578.1 1723.5,583.0 1726.7,586.2 1723.5,589.4 1728.4,594.3 1731.6,591.1 1734.8,594.3 1739.7,589.4 1736.5,586.2 1739.7,583.0ZM1739.2,481.2 1736.0,484.4 1732.8,481.2 1727.9,486.1 1731.1,489.3 1727.9,492.5 1732.8,497.4 1736.0,494.2 1739.2,497.4 1744.1,492.5 1740.9,489.3 1744.1,486.1ZM1743.6,462.5 1740.4,465.7 1737.2,462.5 1732.3,467.4 1735.5,470.6 1732.3,473.8 1737.2,478.7 1740.4,475.5 1743.6,478.7 1748.5,473.8 1745.3,470.6 1748.5,467.4ZM1748.0,532.6 1744.8,535.8 1741.6,532.6 1736.7,537.5 1739.9,540.7 1736.7,544.0 1741.6,548.9 1744.8,545.7 1748.0,548.9 1752.9,544.0 1749.7,540.7 1752.9,537.5ZM1752.4,505.7 1749.2,508.9 1746.0,505.7 1741.1,510.7 1744.3,513.9 1741.1,517.1 1746.0,522.0 1749.2,518.8 1752.4,522.0 1757.3,517.1 1754.1,513.9 1757.3,510.7ZM1756.8,501.0 1753.6,504.2 1750.4,501.0 1745.5,505.9 1748.7,509.1 1745.5,512.3 1750.4,517.2 1753.6,514.0 1756.8,517.2 1761.7,512.3 1758.5,509.1 1761.7,505.9ZM1761.2,622.7 1758.0,625.9 1754.8,622.7 1749.9,627.6 1753.1,630.8 1749.9,634.0 1754.8,638.9 1758.0,635.7 1761.2,638.9 1766.1,634.0 1762.9,630.8 1766.1,627.6ZM1765.6,576.9 1762.4,580.1 1759.2,576.9 1754.2,581.8 1757.4,585.0 1754.2,588.2 1759.2,593.1 1762.4,589.9 1765.6,593.1 1770.5,588.2 1767.3,585.0 1770.5,581.8ZM1769.9,502.5 1766.7,505.7 1763.5,502.5 1758.6,507.4 1761.8,510.6 1758.6,513.8 1763.5,518.7 1766.7,515.5 1769.9,518.7 1774.8,513.8 1771.6,510.6 1774.8,507.4ZM1774.3,486.9 1771.1,490.1 1767.9,486.9 1763.0,491.8 1766.2,495.0 1763.0,498.2 1767.9,503.1 1771.1,499.9 1774.3,503.1 1779.2,498.2 1776.0,495.0 1779.2,491.8ZM1778.7,554.6 1775.5,557.8 1772.3,554.6 1767.3,559.5 1770.6,562.8 1767.3,566.0 1772.3,570.9 1775.5,567.7 1778.7,570.9 1783.6,566.0 1780.4,562.8 1783.6,559.5ZM1783.0,521.3 1779.8,524.5 1776.6,521.3 1771.7,526.2 1774.9,529.4 1771.7,532.6 1776.6,537.5 1779.8,534.3 1783.0,537.5 1787.9,532.6 1784.7,529.4 1787.9,526.2ZM1787.4,537.1 1784.2,540.3 1781.0,537.1 1776.1,542.0 1779.3,545.2 1776.1,548.4 1781.0,553.3 1784.2,550.1 1787.4,553.3 1792.3,548.4 1789.1,545.2 1792.3,542.0ZM1791.7,548.8 1788.5,552.0 1785.3,548.8 1780.4,553.7 1783.6,556.9 1780.4,560.1 1785.3,565.0 1788.5,561.8 1791.7,565.0 1796.6,560.1 1793.4,556.9 1796.6,553.7ZM1796.1,561.1 1792.9,564.3 1789.7,561.1 1784.7,566.0 1788.0,569.2 1784.7,572.4 1789.7,577.3 1792.9,574.1 1796.1,577.3 1801.0,572.4 1797.8,569.2 1801.0,566.0ZM1800.4,488.1 1797.2,491.4 1794.0,488.1 1789.1,493.1 1792.3,496.3 1789.1,499.5 1794.0,504.4 1797.2,501.2 1800.4,504.4 1805.3,499.5 1802.1,496.3 1805.3,493.1ZM1804.7,525.1 1801.5,528.3 1798.3,525.1 1793.4,530.0 1796.6,533.2 1793.4,536.4 1798.3,541.3 1801.5,538.1 1804.7,541.3 1809.6,536.4 1806.4,533.2 1809.6,530.0ZM1809.1,523.6 1805.9,526.8 1802.7,523.6 1797.7,528.5 1800.9,531.7 1797.7,534.9 1802.7,539.8 1805.9,536.6 1809.1,539.8 1814.0,534.9 1810.8,531.7 1814.0,528.5ZM1813.4,541.0 1810.2,544.2 1807.0,541.0 1802.1,545.9 1805.3,549.1 1802.1,552.3 1807.0,557.2 1810.2,554.0 1813.4,557.2 1818.3,552.3 1815.1,549.1 1818.3,545.9ZM1817.7,516.5 1814.5,519.7 1811.3,516.5 1806.4,521.4 1809.6,524.6 1806.4,527.8 1811.3,532.7 1814.5,529.5 1817.7,532.7 1822.6,527.8 1819.4,524.6 1822.6,521.4ZM1822.0,538.2 1818.8,541.4 1815.6,538.2 1810.7,543.1 1813.9,546.3 1810.7,549.5 1815.6,554.4 1818.8,551.2 1822.0,554.4 1826.9,549.5 1823.7,546.3 1826.9,543.1ZM1826.3,516.5 1823.1,519.7 1819.9,516.5 1815.0,521.4 1818.2,524.6 1815.0,527.8 1819.9,532.7 1823.1,529.5 1826.3,532.7 1831.2,527.8 1828.0,524.6 1831.2,521.4ZM1830.6,543.8 1827.4,547.0 1824.2,543.8 1819.3,548.7 1822.5,551.9 1819.3,555.2 1824.2,560.1 1827.4,556.9 1830.6,560.1 1835.5,555.2 1832.3,551.9 1835.5,548.7ZM1834.9,518.2 1831.7,521.4 1828.5,518.2 1823.6,523.1 1826.8,526.3 1823.6,529.5 1828.5,534.4 1831.7,531.2 1834.9,534.4 1839.8,529.5 1836.6,526.3 1839.8,523.1ZM1839.2,547.9 1836.0,551.1 1832.8,547.9 1827.9,552.8 1831.1,556.0 1827.9,559.2 1832.8,564.1 1836.0,560.9 1839.2,564.1 1844.1,559.2 1840.9,556.0 1844.1,552.8ZM1843.5,518.9 1840.3,522.1 1837.1,518.9 1832.2,523.8 1835.4,527.0 1832.2,530.2 1837.1,535.1 1840.3,531.9 1843.5,535.1 1848.4,530.2 1845.2,527.0 1848.4,523.8ZM1847.8,581.6 1844.6,584.8 1841.4,581.6 1836.5,586.5 1839.7,589.7 1836.5,592.9 1841.4,597.8 1844.6,594.6 1847.8,597.8 1852.7,592.9 1849.5,589.7 1852.7,586.5ZM1852.1,598.8 1848.9,602.0 1845.7,598.8 1840.8,603.7 1844.0,606.9 1840.8,610.1 1845.7,615.0 1848.9,611.8 1852.1,615.0 1857.0,610.1 1853.8,606.9 1857.0,603.7ZM1856.3,758.0 1853.1,761.2 1849.9,758.0 1845.0,762.9 1848.2,766.1 1845.0,769.3 1849.9,774.2 1853.1,771.0 1856.3,774.2 1861.2,769.3 1858.0,766.1 1861.2,762.9ZM1860.6,504.1 1857.4,507.3 1854.2,504.1 1849.3,509.0 1852.5,512.2 1849.3,515.4 1854.2,520.3 1857.4,517.1 1860.6,520.3 1865.5,515.4 1862.3,512.2 1865.5,509.0ZM1864.9,575.4 1861.7,578.6 1858.5,575.4 1853.6,580.3 1856.8,583.5 1853.6,586.7 1858.5,591.6 1861.7,588.4 1864.9,591.6 1869.8,586.7 1866.6,583.5 1869.8,580.3ZM1869.1,559.5 1865.9,562.7 1862.7,559.5 1857.8,564.4 1861.0,567.7 1857.8,570.9 1862.7,575.8 1865.9,572.6 1869.1,575.8 1874.0,570.9 1870.8,567.7 1874.0,564.4ZM1873.4,606.5 1870.2,609.7 1867.0,606.5 1862.1,611.4 1865.3,614.6 1862.1,617.8 1867.0,622.7 1870.2,619.5 1873.4,622.7 1878.3,617.8 1875.1,614.6 1878.3,611.4ZM1877.6,584.1 1874.4,587.3 1871.2,584.1 1866.3,589.0 1869.5,592.2 1866.3,595.4 1871.2,600.3 1874.4,597.1 1877.6,600.3 1882.5,595.4 1879.3,592.2 1882.5,589.0ZM1881.9,606.1 1878.7,609.3 1875.5,606.1 1870.6,611.1 1873.8,614.3 1870.6,617.5 1875.5,622.4 1878.7,619.2 1881.9,622.4 1886.8,617.5 1883.6,614.3 1886.8,611.1ZM1886.1,566.1 1882.9,569.3 1879.7,566.1 1874.8,571.0 1878.0,574.2 1874.8,577.4 1879.7,582.3 1882.9,579.1 1886.1,582.3 1891.0,577.4 1887.8,574.2 1891.0,571.0ZM1890.4,594.1 1887.2,597.3 1884.0,594.1 1879.1,599.0 1882.3,602.2 1879.1,605.4 1884.0,610.3 1887.2,607.1 1890.4,610.3 1895.3,605.4 1892.1,602.2 1895.3,599.0ZM1894.6,509.2 1891.4,512.4 1888.2,509.2 1883.3,514.1 1886.5,517.3 1883.3,520.5 1888.2,525.4 1891.4,522.2 1894.6,525.4 1899.5,520.5 1896.3,517.3 1899.5,514.1ZM1898.8,578.2 1895.6,581.4 1892.4,578.2 1887.5,583.1 1890.7,586.3 1887.5,589.5 1892.4,594.4 1895.6,591.2 1898.8,594.4 1903.7,589.5 1900.5,586.3 1903.7,583.1ZM1903.1,484.5 1899.8,487.7 1896.6,484.5 1891.7,489.4 1894.9,492.6 1891.7,495.8 1896.6,500.7 1899.8,497.5 1903.1,500.7 1908.0,495.8 1904.8,492.6 1908.0,489.4ZM1907.3,558.5 1904.1,561.7 1900.9,558.5 1896.0,563.4 1899.2,566.6 1896.0,569.8 1900.9,574.7 1904.1,571.5 1907.3,574.7 1912.2,569.8 1909.0,566.6 1912.2,563.4ZM1911.5,542.3 1908.3,545.5 1905.1,542.3 1900.2,547.2 1903.4,550.4 1900.2,553.6 1905.1,558.5 1908.3,555.3 1911.5,558.5 1916.4,553.6 1913.2,550.4 1916.4,547.2ZM1915.7,596.6 1912.5,599.8 1909.3,596.6 1904.4,601.5 1907.6,604.7 1904.4,607.9 1909.3,612.8 1912.5,609.6 1915.7,612.8 1920.6,607.9 1917.4,604.7 1920.6,601.5ZM1919.9,548.9 1916.7,552.1 1913.5,548.9 1908.6,553.8 1911.8,557.0 1908.6,560.2 1913.5,565.1 1916.7,561.9 1919.9,565.1 1924.8,560.2 1921.6,557.0 1924.8,553.8ZM1924.1,565.0 1920.9,568.2 1917.7,565.0 1912.8,569.9 1916.0,573.1 1912.8,576.3 1917.7,581.2 1920.9,578.0 1924.1,581.2 1929.0,576.3 1925.8,573.1 1929.0,569.9ZM1928.3,589.8 1925.1,593.0 1921.9,589.8 1917.0,594.7 1920.2,597.9 1917.0,601.1 1921.9,606.0 1925.1,602.8 1928.3,606.0 1933.2,601.1 1930.0,597.9 1933.2,594.7ZM1932.5,547.4 1929.3,550.6 1926.1,547.4 1921.2,552.3 1924.4,555.5 1921.2,558.7 1926.1,563.6 1929.3,560.4 1932.5,563.6 1937.4,558.7 1934.2,555.5 1937.4,552.3ZM1936.7,614.7 1933.5,617.9 1930.3,614.7 1925.4,619.6 1928.6,622.8 1925.4,626.0 1930.3,630.9 1933.5,627.7 1936.7,630.9 1941.6,626.0 1938.4,622.8 1941.6,619.6ZM1940.9,574.3 1937.7,577.5 1934.5,574.3 1929.5,579.2 1932.8,582.4 1929.5,585.6 1934.5,590.5 1937.7,587.3 1940.9,590.5 1945.8,585.6 1942.6,582.4 1945.8,579.2ZM1945.0,579.7 1941.8,582.9 1938.6,579.7 1933.7,584.6 1936.9,587.8 1933.7,591.0 1938.6,595.9 1941.8,592.7 1945.0,595.9 1949.9,591.0 1946.7,587.8 1949.9,584.6ZM1949.2,572.6 1946.0,575.8 1942.8,572.6 1937.9,577.5 1941.1,580.7 1937.9,583.9 1942.8,588.9 1946.0,585.6 1949.2,588.9 1954.1,583.9 1950.9,580.7 1954.1,577.5ZM1953.4,602.4 1950.2,605.6 1947.0,602.4 1942.1,607.3 1945.3,610.5 1942.1,613.7 1947.0,618.6 1950.2,615.4 1953.4,618.6 1958.3,613.7 1955.1,610.5 1958.3,607.3ZM1957.6,543.8 1954.3,547.0 1951.1,543.8 1946.2,548.7 1949.4,551.9 1946.2,555.1 1951.1,560.0 1954.3,556.8 1957.6,560.0 1962.5,555.1 1959.3,551.9 1962.5,548.7ZM1961.7,600.2 1958.5,603.4 1955.3,600.2 1950.4,605.1 1953.6,608.3 1950.4,611.5 1955.3,616.4 1958.5,613.2 1961.7,616.4 1966.6,611.5 1963.4,608.3 1966.6,605.1ZM1965.9,595.9 1962.7,599.1 1959.5,595.9 1954.6,600.8 1957.8,604.0 1954.6,607.2 1959.5,612.1 1962.7,608.9 1965.9,612.1 1970.8,607.2 1967.6,604.0 1970.8,600.8ZM1970.0,606.1 1966.8,609.3 1963.6,606.1 1958.7,611.0 1961.9,614.2 1958.7,617.4 1963.6,622.3 1966.8,619.1 1970.0,622.3 1974.9,617.4 1971.7,614.2 1974.9,611.0ZM1974.2,590.1 1971.0,593.3 1967.8,590.1 1962.9,595.0 1966.1,598.2 1962.9,601.4 1967.8,606.3 1971.0,603.1 1974.2,606.3 1979.1,601.4 1975.9,598.2 1979.1,595.0ZM1978.3,564.5 1975.1,567.7 1971.9,564.5 1967.0,569.4 1970.2,572.6 1967.0,575.8 1971.9,580.7 1975.1,577.5 1978.3,580.7 1983.2,575.8 1980.0,572.6 1983.2,569.4ZM1982.5,480.2 1979.3,483.4 1976.1,480.2 1971.1,485.1 1974.3,488.3 1971.1,491.5 1976.1,496.4 1979.3,493.2 1982.5,496.4 1987.4,491.5 1984.2,488.3 1987.4,485.1ZM1986.6,649.2 1983.4,652.4 1980.2,649.2 1975.3,654.1 1978.5,657.3 1975.3,660.5 1980.2,665.4 1983.4,662.2 1986.6,665.4 1991.5,660.5 1988.3,657.3 1991.5,654.1ZM1990.7,535.4 1987.5,538.6 1984.3,535.4 1979.4,540.3 1982.6,543.5 1979.4,546.7 1984.3,551.6 1987.5,548.4 1990.7,551.6 1995.6,546.7 1992.4,543.5 1995.6,540.3ZM1994.9,523.9 1991.7,527.1 1988.5,523.9 1983.5,528.8 1986.7,532.0 1983.5,535.2 1988.5,540.1 1991.7,536.9 1994.9,540.1 1999.8,535.2 1996.6,532.0 1999.8,528.8ZM1999.0,503.3 1995.8,506.5 1992.6,503.3 1987.7,508.2 1990.9,511.4 1987.7,514.6 1992.6,519.5 1995.8,516.3 1999.0,519.5 2003.9,514.6 2000.7,511.4 2003.9,508.2ZM2003.1,537.7 1999.9,540.9 1996.7,537.7 1991.8,542.6 1995.0,545.8 1991.8,549.0 1996.7,553.9 1999.9,550.7 2003.1,553.9 2008.0,549.0 2004.8,545.8 2008.0,542.6ZM2007.2,539.8 2004.0,543.0 2000.8,539.8 1995.9,544.7 1999.1,547.9 1995.9,551.1 2000.8,556.0 2004.0,552.8 2007.2,556.0 2012.1,551.1 2008.9,547.9 2012.1,544.7ZM2011.3,510.3 2008.1,513.5 2004.9,510.3 2000.0,515.2 2003.2,518.4 2000.0,521.6 2004.9,526.5 2008.1,523.3 2011.3,526.5 2016.2,521.6 2013.0,518.4 2016.2,515.2ZM2015.4,567.5 2012.2,570.7 2009.0,567.5 2004.1,572.4 2007.3,575.6 2004.1,578.8 2009.0,583.7 2012.2,580.5 2015.4,583.7 2020.3,578.8 2017.1,575.6 2020.3,572.4ZM2019.5,570.8 2016.3,574.0 2013.1,570.8 2008.2,575.7 2011.4,578.9 2008.2,582.1 2013.1,587.0 2016.3,583.8 2019.5,587.0 2024.5,582.1 2021.2,578.9 2024.5,575.7ZM2023.6,570.1 2020.4,573.3 2017.2,570.1 2012.3,575.0 2015.5,578.2 2012.3,581.4 2017.2,586.4 2020.4,583.2 2023.6,586.4 2028.6,581.4 2025.3,578.2 2028.6,575.0ZM2027.7,610.3 2024.5,613.5 2021.3,610.3 2016.4,615.2 2019.6,618.4 2016.4,621.6 2021.3,626.5 2024.5,623.3 2027.7,626.5 2032.6,621.6 2029.4,618.4 2032.6,615.2ZM2031.8,530.8 2028.6,534.0 2025.4,530.8 2020.5,535.7 2023.7,538.9 2020.5,542.1 2025.4,547.0 2028.6,543.8 2031.8,547.0 2036.7,542.1 2033.5,538.9 2036.7,535.7ZM2035.9,618.2 2032.7,621.4 2029.5,618.2 2024.6,623.1 2027.8,626.3 2024.6,629.5 2029.5,634.4 2032.7,631.2 2035.9,634.4 2040.8,629.5 2037.6,626.3 2040.8,623.1ZM2040.0,552.0 2036.8,555.2 2033.6,552.0 2028.7,556.9 2031.9,560.1 2028.7,563.3 2033.6,568.2 2036.8,565.0 2040.0,568.2 2044.9,563.3 2041.7,560.1 2044.9,556.9ZM2044.1,654.4 2040.9,657.6 2037.7,654.4 2032.8,659.3 2036.0,662.5 2032.8,665.7 2037.7,670.6 2040.9,667.4 2044.1,670.6 2049.0,665.7 2045.8,662.5 2049.0,659.3ZM2048.2,573.4 2045.0,576.6 2041.8,573.4 2036.8,578.3 2040.0,581.5 2036.8,584.7 2041.8,589.6 2045.0,586.4 2048.2,589.6 2053.1,584.7 2049.9,581.5 2053.1,578.3ZM2052.2,605.6 2049.0,608.8 2045.8,605.6 2040.9,610.5 2044.1,613.7 2040.9,616.9 2045.8,621.8 2049.0,618.6 2052.2,621.8 2057.1,616.9 2053.9,613.7 2057.1,610.5ZM2056.3,558.4 2053.1,561.6 2049.9,558.4 2045.0,563.3 2048.2,566.5 2045.0,569.7 2049.9,574.6 2053.1,571.4 2056.3,574.6 2061.2,569.7 2058.0,566.5 2061.2,563.3ZM2060.4,571.3 2057.2,574.5 2054.0,571.3 2049.1,576.2 2052.3,579.4 2049.1,582.6 2054.0,587.5 2057.2,584.3 2060.4,587.5 2065.3,582.6 2062.1,579.4 2065.3,576.2ZM2064.4,572.5 2061.2,575.8 2058.0,572.5 2053.1,577.5 2056.3,580.7 2053.1,583.9 2058.0,588.8 2061.2,585.6 2064.4,588.8 2069.3,583.9 2066.1,580.7 2069.3,577.5ZM2068.5,587.9 2065.3,591.1 2062.1,587.9 2057.2,592.8 2060.4,596.0 2057.2,599.2 2062.1,604.1 2065.3,600.9 2068.5,604.1 2073.4,599.2 2070.2,596.0 2073.4,592.8ZM2072.5,593.2 2069.3,596.4 2066.1,593.2 2061.2,598.1 2064.4,601.3 2061.2,604.5 2066.1,609.4 2069.3,606.2 2072.5,609.4 2077.4,604.5 2074.2,601.3 2077.4,598.1ZM2076.6,666.6 2073.4,669.8 2070.2,666.6 2065.3,671.5 2068.5,674.7 2065.3,677.9 2070.2,682.8 2073.4,679.6 2076.6,682.8 2081.5,677.9 2078.3,674.7 2081.5,671.5ZM2080.6,599.7 2077.4,602.9 2074.2,599.7 2069.3,604.6 2072.5,607.8 2069.3,611.0 2074.2,615.9 2077.4,612.7 2080.6,615.9 2085.5,611.0 2082.3,607.8 2085.5,604.6ZM2084.7,652.5 2081.5,655.7 2078.3,652.5 2073.4,657.5 2076.6,660.7 2073.4,663.9 2078.3,668.8 2081.5,665.6 2084.7,668.8 2089.6,663.9 2086.4,660.7 2089.6,657.5ZM2088.7,580.9 2085.5,584.1 2082.3,580.9 2077.4,585.8 2080.6,589.0 2077.4,592.2 2082.3,597.1 2085.5,593.9 2088.7,597.1 2093.6,592.2 2090.4,589.0 2093.6,585.8ZM2092.7,621.3 2089.5,624.5 2086.3,621.3 2081.4,626.2 2084.6,629.4 2081.4,632.6 2086.3,637.5 2089.5,634.3 2092.7,637.5 2097.7,632.6 2094.4,629.4 2097.7,626.2ZM2096.8,596.6 2093.6,599.8 2090.4,596.6 2085.5,601.5 2088.7,604.7 2085.5,607.9 2090.4,612.8 2093.6,609.6 2096.8,612.8 2101.7,607.9 2098.5,604.7 2101.7,601.5ZM2100.8,614.8 2097.6,618.0 2094.4,614.8 2089.5,619.7 2092.7,623.0 2089.5,626.2 2094.4,631.1 2097.6,627.9 2100.8,631.1 2105.7,626.2 2102.5,623.0 2105.7,619.7ZM2104.8,592.0 2101.6,595.2 2098.4,592.0 2093.5,597.0 2096.7,600.2 2093.5,603.4 2098.4,608.3 2101.6,605.1 2104.8,608.3 2109.7,603.4 2106.5,600.2 2109.7,597.0ZM2108.8,588.5 2105.6,591.7 2102.4,588.5 2097.5,593.4 2100.7,596.6 2097.5,599.8 2102.4,604.7 2105.6,601.5 2108.8,604.7 2113.8,599.8 2110.5,596.6 2113.8,593.4ZM2112.9,570.9 2109.7,574.1 2106.5,570.9 2101.5,575.8 2104.7,579.0 2101.5,582.2 2106.5,587.1 2109.7,583.9 2112.9,587.1 2117.8,582.2 2114.6,579.0 2117.8,575.8ZM2116.9,623.2 2113.7,626.4 2110.5,623.2 2105.6,628.1 2108.8,631.3 2105.6,634.5 2110.5,639.4 2113.7,636.2 2116.9,639.4 2121.8,634.5 2118.6,631.3 2121.8,628.1ZM2120.9,544.1 2117.7,547.3 2114.5,544.1 2109.6,549.0 2112.8,552.2 2109.6,555.4 2114.5,560.3 2117.7,557.1 2120.9,560.3 2125.8,555.4 2122.6,552.2 2125.8,549.0ZM2124.9,627.3 2121.7,630.5 2118.5,627.3 2113.6,632.2 2116.8,635.4 2113.6,638.6 2118.5,643.5 2121.7,640.3 2124.9,643.5 2129.8,638.6 2126.6,635.4 2129.8,632.2ZM2128.9,608.3 2125.7,611.5 2122.5,608.3 2117.6,613.2 2120.8,616.4 2117.6,619.6 2122.5,624.5 2125.7,621.3 2128.9,624.5 2133.8,619.6 2130.6,616.4 2133.8,613.2ZM2132.9,773.6 2129.7,776.8 2126.5,773.6 2121.6,778.5 2124.8,781.7 2121.6,784.9 2126.5,789.8 2129.7,786.6 2132.9,789.8 2137.8,784.9 2134.6,781.7 2137.8,778.5ZM2136.9,603.0 2133.7,606.2 2130.5,603.0 2125.6,607.9 2128.8,611.1 2125.6,614.3 2130.5,619.2 2133.7,616.0 2136.9,619.2 2141.8,614.3 2138.6,611.1 2141.8,607.9ZM2140.9,584.9 2137.7,588.1 2134.5,584.9 2129.6,589.9 2132.8,593.1 2129.6,596.3 2134.5,601.2 2137.7,598.0 2140.9,601.2 2145.8,596.3 2142.6,593.1 2145.8,589.9ZM2144.9,584.7 2141.7,587.9 2138.4,584.7 2133.5,589.6 2136.7,592.8 2133.5,596.0 2138.4,600.9 2141.7,597.7 2144.9,600.9 2149.8,596.0 2146.6,592.8 2149.8,589.6ZM2148.8,618.3 2145.6,621.5 2142.4,618.3 2137.5,623.2 2140.7,626.4 2137.5,629.6 2142.4,634.5 2145.6,631.3 2148.8,634.5 2153.7,629.6 2150.5,626.4 2153.7,623.2ZM2152.8,611.0 2149.6,614.2 2146.4,611.0 2141.5,615.9 2144.7,619.1 2141.5,622.3 2146.4,627.2 2149.6,624.0 2152.8,627.2 2157.7,622.3 2154.5,619.1 2157.7,615.9ZM2156.8,636.8 2153.6,640.0 2150.4,636.8 2145.5,641.7 2148.7,645.0 2145.5,648.2 2150.4,653.1 2153.6,649.9 2156.8,653.1 2161.7,648.2 2158.5,645.0 2161.7,641.7ZM2160.8,626.1 2157.6,629.3 2154.4,626.1 2149.5,631.0 2152.7,634.2 2149.5,637.4 2154.4,642.3 2157.6,639.1 2160.8,642.3 2165.7,637.4 2162.5,634.2 2165.7,631.0ZM2164.7,622.7 2161.5,625.9 2158.3,622.7 2153.4,627.6 2156.6,630.8 2153.4,634.0 2158.3,638.9 2161.5,635.7 2164.7,638.9 2169.6,634.0 2166.4,630.8 2169.6,627.6ZM2168.7,611.1 2165.5,614.3 2162.3,611.1 2157.4,616.0 2160.6,619.2 2157.4,622.4 2162.3,627.3 2165.5,624.1 2168.7,627.3 2173.6,622.4 2170.4,619.2 2173.6,616.0ZM2172.7,642.6 2169.5,645.8 2166.3,642.6 2161.3,647.5 2164.6,650.7 2161.3,653.9 2166.3,658.8 2169.5,655.6 2172.7,658.8 2177.6,653.9 2174.4,650.7 2177.6,647.5ZM2176.6,626.4 2173.4,629.6 2170.2,626.4 2165.3,631.3 2168.5,634.5 2165.3,637.7 2170.2,642.6 2173.4,639.4 2176.6,642.6 2181.5,637.7 2178.3,634.5 2181.5,631.3ZM2180.6,603.1 2177.4,606.3 2174.2,603.1 2169.3,608.0 2172.5,611.2 2169.3,614.4 2174.2,619.3 2177.4,616.1 2180.6,619.3 2185.5,614.4 2182.3,611.2 2185.5,608.0ZM2184.5,620.0 2181.3,623.2 2178.1,620.0 2173.2,624.9 2176.4,628.1 2173.2,631.3 2178.1,636.2 2181.3,633.0 2184.5,636.2 2189.4,631.3 2186.2,628.1 2189.4,624.9ZM2188.5,625.3 2185.3,628.5 2182.1,625.3 2177.2,630.2 2180.4,633.4 2177.2,636.6 2182.1,641.5 2185.3,638.3 2188.5,641.5 2193.4,636.6 2190.2,633.4 2193.4,630.2ZM2192.4,637.3 2189.2,640.6 2186.0,637.3 2181.1,642.3 2184.3,645.5 2181.1,648.7 2186.0,653.6 2189.2,650.4 2192.4,653.6 2197.3,648.7 2194.1,645.5 2197.3,642.3ZM2196.4,613.2 2193.2,616.4 2190.0,613.2 2185.0,618.1 2188.3,621.3 2185.0,624.5 2190.0,629.4 2193.2,626.2 2196.4,629.4 2201.3,624.5 2198.1,621.3 2201.3,618.1ZM2200.3,619.7 2197.1,622.9 2193.9,619.7 2189.0,624.6 2192.2,627.8 2189.0,631.0 2193.9,635.9 2197.1,632.7 2200.3,635.9 2205.2,631.0 2202.0,627.8 2205.2,624.6ZM2204.2,580.7 2201.0,583.9 2197.8,580.7 2192.9,585.6 2196.1,588.8 2192.9,592.0 2197.8,596.9 2201.0,593.7 2204.2,596.9 2209.1,592.0 2205.9,588.8 2209.1,585.6ZM2208.2,623.4 2205.0,626.6 2201.8,623.4 2196.9,628.3 2200.1,631.5 2196.9,634.7 2201.8,639.6 2205.0,636.4 2208.2,639.6 2213.1,634.7 2209.9,631.5 2213.1,628.3ZM2212.1,577.3 2208.9,580.5 2205.7,577.3 2200.8,582.2 2204.0,585.4 2200.8,588.6 2205.7,593.5 2208.9,590.3 2212.1,593.5 2217.0,588.6 2213.8,585.4 2217.0,582.2ZM2216.0,661.2 2212.8,664.4 2209.6,661.2 2204.7,666.1 2207.9,669.3 2204.7,672.5 2209.6,677.4 2212.8,674.2 2216.0,677.4 2220.9,672.5 2217.7,669.3 2220.9,666.1ZM2219.9,573.6 2216.7,576.8 2213.5,573.6 2208.6,578.5 2211.8,581.7 2208.6,584.9 2213.5,589.8 2216.7,586.6 2219.9,589.8 2224.8,584.9 2221.6,581.7 2224.8,578.5ZM2223.9,671.2 2220.7,674.4 2217.5,671.2 2212.5,676.1 2215.7,679.3 2212.5,682.5 2217.5,687.4 2220.7,684.2 2223.9,687.4 2228.8,682.5 2225.6,679.3 2228.8,676.1ZM2227.8,621.0 2224.6,624.2 2221.4,621.0 2216.5,625.9 2219.7,629.1 2216.5,632.3 2221.4,637.2 2224.6,634.0 2227.8,637.2 2232.7,632.3 2229.5,629.1 2232.7,625.9ZM2231.7,622.5 2228.5,625.7 2225.3,622.5 2220.4,627.4 2223.6,630.6 2220.4,633.8 2225.3,638.7 2228.5,635.5 2231.7,638.7 2236.6,633.8 2233.4,630.6 2236.6,627.4ZM2235.6,631.1 2232.4,634.3 2229.2,631.1 2224.3,636.0 2227.5,639.2 2224.3,642.4 2229.2,647.3 2232.4,644.1 2235.6,647.3 2240.5,642.4 2237.3,639.2 2240.5,636.0ZM2239.5,619.6 2236.3,622.8 2233.1,619.6 2228.2,624.5 2231.4,627.7 2228.2,630.9 2233.1,635.8 2236.3,632.6 2239.5,635.8 2244.4,630.9 2241.2,627.7 2244.4,624.5ZM2243.4,643.4 2240.2,646.6 2237.0,643.4 2232.1,648.3 2235.3,651.5 2232.1,654.7 2237.0,659.6 2240.2,656.4 2243.4,659.6 2248.3,654.7 2245.1,651.5 2248.3,648.3ZM2247.3,625.9 2244.1,629.1 2240.9,625.9 2236.0,630.8 2239.2,634.0 2236.0,637.2 2240.9,642.1 2244.1,638.9 2247.3,642.1 2252.2,637.2 2249.0,634.0 2252.2,630.8ZM2251.2,619.3 2248.0,622.5 2244.8,619.3 2239.9,624.2 2243.1,627.4 2239.9,630.7 2244.8,635.6 2248.0,632.4 2251.2,635.6 2256.1,630.7 2252.9,627.4 2256.1,624.2ZM2255.1,593.0 2251.9,596.2 2248.7,593.0 2243.8,597.9 2247.0,601.1 2243.8,604.3 2248.7,609.2 2251.9,606.0 2255.1,609.2 2260.0,604.3 2256.8,601.1 2260.0,597.9ZM2259.0,595.6 2255.8,598.8 2252.6,595.6 2247.7,600.5 2250.9,603.7 2247.7,606.9 2252.6,611.8 2255.8,608.6 2259.0,611.8 2263.9,606.9 2260.7,603.7 2263.9,600.5ZM2262.9,578.3 2259.7,581.5 2256.5,578.3 2251.5,583.2 2254.7,586.4 2251.5,589.6 2256.5,594.5 2259.7,591.3 2262.9,594.5 2267.8,589.6 2264.6,586.4 2267.8,583.2ZM2266.7,619.5 2263.5,622.7 2260.3,619.5 2255.4,624.4 2258.6,627.6 2255.4,630.8 2260.3,635.7 2263.5,632.5 2266.7,635.7 2271.6,630.8 2268.4,627.6 2271.6,624.4ZM2270.6,656.1 2267.4,659.3 2264.2,656.1 2259.3,661.0 2262.5,664.2 2259.3,667.4 2264.2,672.3 2267.4,669.1 2270.6,672.3 2275.5,667.4 2272.3,664.2 2275.5,661.0ZM2274.5,554.0 2271.3,557.2 2268.1,554.0 2263.2,558.9 2266.4,562.1 2263.2,565.3 2268.1,570.2 2271.3,567.0 2274.5,570.2 2279.4,565.3 2276.2,562.1 2279.4,558.9ZM2278.4,613.6 2275.2,616.8 2272.0,613.6 2267.1,618.6 2270.3,621.8 2267.1,625.0 2272.0,629.9 2275.2,626.7 2278.4,629.9 2283.3,625.0 2280.1,621.8 2283.3,618.6ZM2282.2,732.1 2279.0,735.3 2275.8,732.1 2270.9,737.0 2274.1,740.2 2270.9,743.4 2275.8,748.3 2279.0,745.1 2282.2,748.3 2287.1,743.4 2283.9,740.2 2287.1,737.0ZM2286.1,641.7 2282.9,644.9 2279.7,641.7 2274.8,646.6 2278.0,649.8 2274.8,653.0 2279.7,657.9 2282.9,654.7 2286.1,657.9 2291.0,653.0 2287.8,649.8 2291.0,646.6ZM2290.0,657.6 2286.8,660.8 2283.6,657.6 2278.7,662.5 2281.9,665.7 2278.7,668.9 2283.6,673.8 2286.8,670.6 2290.0,673.8 2294.9,668.9 2291.7,665.7 2294.9,662.5ZM2293.8,677.5 2290.6,680.7 2287.4,677.5 2282.5,682.4 2285.7,685.7 2282.5,688.9 2287.4,693.8 2290.6,690.6 2293.8,693.8 2298.7,688.9 2295.5,685.7 2298.7,682.4ZM2297.7,754.6 2294.5,757.8 2291.3,754.6 2286.4,759.5 2289.6,762.7 2286.4,765.9 2291.3,770.8 2294.5,767.6 2297.7,770.8 2302.6,765.9 2299.4,762.7 2302.6,759.5ZM2301.5,639.4 2298.3,642.6 2295.1,639.4 2290.2,644.4 2293.4,647.6 2290.2,650.8 2295.1,655.7 2298.3,652.5 2301.5,655.7 2306.4,650.8 2303.2,647.6 2306.4,644.4ZM2305.4,658.8 2302.2,662.0 2299.0,658.8 2294.1,663.7 2297.3,666.9 2294.1,670.1 2299.0,675.0 2302.2,671.8 2305.4,675.0 2310.3,670.1 2307.1,666.9 2310.3,663.7ZM2309.2,623.8 2306.0,627.0 2302.8,623.8 2297.9,628.7 2301.1,631.9 2297.9,635.1 2302.8,640.0 2306.0,636.8 2309.2,640.0 2314.1,635.1 2310.9,631.9 2314.1,628.7ZM2313.1,631.6 2309.9,634.8 2306.7,631.6 2301.8,636.5 2305.0,639.7 2301.8,642.9 2306.7,647.9 2309.9,644.7 2313.1,647.9 2318.0,642.9 2314.8,639.7 2318.0,636.5ZM2316.9,634.6 2313.7,637.8 2310.5,634.6 2305.6,639.5 2308.8,642.7 2305.6,645.9 2310.5,650.8 2313.7,647.6 2316.9,650.8 2321.8,645.9 2318.6,642.7 2321.8,639.5ZM2320.8,700.0 2317.6,703.2 2314.4,700.0 2309.4,704.9 2312.7,708.1 2309.4,711.3 2314.4,716.2 2317.6,713.0 2320.8,716.2 2325.7,711.3 2322.5,708.1 2325.7,704.9ZM2324.6,618.6 2321.4,621.8 2318.2,618.6 2313.3,623.5 2316.5,626.7 2313.3,629.9 2318.2,634.8 2321.4,631.6 2324.6,634.8 2329.5,629.9 2326.3,626.7 2329.5,623.5ZM2328.4,577.1 2325.2,580.3 2322.0,577.1 2317.1,582.0 2320.3,585.2 2317.1,588.5 2322.0,593.4 2325.2,590.2 2328.4,593.4 2333.3,588.5 2330.1,585.2 2333.3,582.0ZM2332.3,620.5 2329.1,623.7 2325.9,620.5 2320.9,625.4 2324.1,628.6 2320.9,631.8 2325.9,636.7 2329.1,633.5 2332.3,636.7 2337.2,631.8 2334.0,628.6 2337.2,625.4ZM2336.1,662.9 2332.9,666.1 2329.7,662.9 2324.8,667.8 2328.0,671.0 2324.8,674.2 2329.7,679.1 2332.9,675.9 2336.1,679.1 2341.0,674.2 2337.8,671.0 2341.0,667.8Z"/>
<line clip-path="url(#clipB)" x1="1520.6" y1="469.9" x2="2319.1" y2="659.1" stroke="#000" stroke-width="7.5" stroke-dasharray="26,9.5"/>
<path clip-path="url(#clipB)" fill="#ff0000" d="M1508.4,545.2a9.4,9.4 0 1,0 18.8,0a9.4,9.4 0 1,0 -18.8,0ZM1513.1,551.7a9.4,9.4 0 1,0 18.8,0a9.4,9.4 0 1,0 -18.8,0ZM1517.8,547.1a9.4,9.4 0 1,0 18.8,0a9.4,9.4 0 1,0 -18.8,0ZM1522.5,592.3a9.4,9.4 0 1,0 18.8,0a9.4,9.4 0 1,0 -18.8,0ZM1527.1,529.4a9.4,9.4 0 1,0 18.8,0a9.4,9.4 0 1,0 -18.8,0ZM1531.8,588.0a9.4,9.4 0 1,0 18.8,0a9.4,9.4 0 1,0 -18.8,0ZM1536.5,526.0a9.4,9.4 0 1,0 18.8,0a9.4,9.4 0 1,0 -18.8,0ZM1541.1,535.2a9.4,9.4 0 1,0 18.8,0a9.4,9.4 0 1,0 -18.8,0ZM1545.8,522.1a9.4,9.4 0 1,0 18.8,0a9.4,9.4 0 1,0 -18.8,0ZM1550.4,529.3a9.4,9.4 0 1,0 18.8,0a9.4,9.4 0 1,0 -18.8,0ZM1555.0,547.6a9.4,9.4 0 1,0 18.8,0a9.4,9.4 0 1,0 -18.8,0ZM1559.7,565.9a9.4,9.4 0 1,0 18.8,0a9.4,9.4 0 1,0 -18.8,0ZM1564.3,560.4a9.4,9.4 0 1,0 18.8,0a9.4,9.4 0 1,0 -18.8,0ZM1568.9,518.8a9.4,9.4 0 1,0 18.8,0a9.4,9.4 0 1,0 -18.8,0ZM1573.5,573.4a9.4,9.4 0 1,0 18.8,0a9.4,9.4 0 1,0 -18.8,0ZM1578.1,573.2a9.4,9.4 0 1,0 18.8,0a9.4,9.4 0 1,0 -18.8,0ZM1582.7,580.1a9.4,9.4 0 1,0 18.8,0a9.4,9.4 0 1,0 -18.8,0ZM1587.3,569.1a9.4,9.4 0 1,0 18.8,0a9.4,9.4 0 1,0 -18.8,0ZM1591.9,562.0a9.4,9.4 0 1,0 18.8,0a9.4,9.4 0 1,0 -18.8,0ZM1596.4,547.9a9.4,9.4 0 1,0 18.8,0a9.4,9.4 0 1,0 -18.8,0ZM1601.0,557.0a9.4,9.4 0 1,0 18.8,0a9.4,9.4 0 1,0 -18.8,0ZM1605.6,550.0a9.4,9.4 0 1,0 18.8,0a9.4,9.4 0 1,0 -18.8,0ZM1610.1,557.1a9.4,9.4 0 1,0 18.8,0a9.4,9.4 0 1,0 -18.8,0ZM1614.7,545.9a9.4,9.4 0 1,0 18.8,0a9.4,9.4 0 1,0 -18.8,0ZM1619.2,585.3a9.4,9.4 0 1,0 18.8,0a9.4,9.4 0 1,0 -18.8,0ZM1623.8,553.6a9.4,9.4 0 1,0 18.8,0a9.4,9.4 0 1,0 -18.8,0ZM1628.3,529.2a9.4,9.4 0 1,0 18.8,0a9.4,9.4 0 1,0 -18.8,0ZM1632.8,577.8a9.4,9.4 0 1,0 18.8,0a9.4,9.4 0 1,0 -18.8,0ZM1637.4,562.6a9.4,9.4 0 1,0 18.8,0a9.4,9.4 0 1,0 -18.8,0ZM1641.9,493.8a9.4,9.4 0 1,0 18.8,0a9.4,9.4 0 1,0 -18.8,0ZM1646.4,582.6a9.4,9.4 0 1,0 18.8,0a9.4,9.4 0 1,0 -18.8,0ZM1650.9,598.7a9.4,9.4 0 1,0 18.8,0a9.4,9.4 0 1,0 -18.8,0ZM1655.4,577.2a9.4,9.4 0 1,0 18.8,0a9.4,9.4 0 1,0 -18.8,0ZM1659.9,523.9a9.4,9.4 0 1,0 18.8,0a9.4,9.4 0 1,0 -18.8,0ZM1664.4,522.8a9.4,9.4 0 1,0 18.8,0a9.4,9.4 0 1,0 -18.8,0ZM1668.8,607.4a9.4,9.4 0 1,0 18.8,0a9.4,9.4 0 1,0 -18.8,0ZM1673.3,570.2a9.4,9.4 0 1,0 18.8,0a9.4,9.4 0 1,0 -18.8,0ZM1677.8,589.1a9.4,9.4 0 1,0 18.8,0a9.4,9.4 0 1,0 -18.8,0ZM1682.3,605.9a9.4,9.4 0 1,0 18.8,0a9.4,9.4 0 1,0 -18.8,0ZM1686.7,636.5a9.4,9.4 0 1,0 18.8,0a9.4,9.4 0 1,0 -18.8,0ZM1691.2,567.4a9.4,9.4 0 1,0 18.8,0a9.4,9.4 0 1,0 -18.8,0ZM1695.6,665.2a9.4,9.4 0 1,0 18.8,0a9.4,9.4 0 1,0 -18.8,0ZM1700.1,576.3a9.4,9.4 0 1,0 18.8,0a9.4,9.4 0 1,0 -18.8,0ZM1704.5,575.6a9.4,9.4 0 1,0 18.8,0a9.4,9.4 0 1,0 -18.8,0ZM1708.9,531.1a9.4,9.4 0 1,0 18.8,0a9.4,9.4 0 1,0 -18.8,0ZM1713.4,542.5a9.4,9.4 0 1,0 18.8,0a9.4,9.4 0 1,0 -18.8,0ZM1717.8,600.7a9.4,9.4 0 1,0 18.8,0a9.4,9.4 0 1,0 -18.8,0ZM1722.2,569.6a9.4,9.4 0 1,0 18.8,0a9.4,9.4 0 1,0 -18.8,0ZM1726.6,534.2a9.4,9.4 0 1,0 18.8,0a9.4,9.4 0 1,0 -18.8,0ZM1731.0,594.6a9.4,9.4 0 1,0 18.8,0a9.4,9.4 0 1,0 -18.8,0ZM1735.4,578.5a9.4,9.4 0 1,0 18.8,0a9.4,9.4 0 1,0 -18.8,0ZM1739.8,565.2a9.4,9.4 0 1,0 18.8,0a9.4,9.4 0 1,0 -18.8,0ZM1744.2,613.3a9.4,9.4 0 1,0 18.8,0a9.4,9.4 0 1,0 -18.8,0ZM1748.6,605.9a9.4,9.4 0 1,0 18.8,0a9.4,9.4 0 1,0 -18.8,0ZM1753.0,627.3a9.4,9.4 0 1,0 18.8,0a9.4,9.4 0 1,0 -18.8,0ZM1757.3,581.9a9.4,9.4 0 1,0 18.8,0a9.4,9.4 0 1,0 -18.8,0ZM1761.7,611.9a9.4,9.4 0 1,0 18.8,0a9.4,9.4 0 1,0 -18.8,0ZM1766.1,581.7a9.4,9.4 0 1,0 18.8,0a9.4,9.4 0 1,0 -18.8,0ZM1770.4,605.6a9.4,9.4 0 1,0 18.8,0a9.4,9.4 0 1,0 -18.8,0ZM1774.8,608.0a9.4,9.4 0 1,0 18.8,0a9.4,9.4 0 1,0 -18.8,0ZM1779.1,618.4a9.4,9.4 0 1,0 18.8,0a9.4,9.4 0 1,0 -18.8,0ZM1783.5,660.9a9.4,9.4 0 1,0 18.8,0a9.4,9.4 0 1,0 -18.8,0ZM1787.8,625.9a9.4,9.4 0 1,0 18.8,0a9.4,9.4 0 1,0 -18.8,0ZM1792.1,651.8a9.4,9.4 0 1,0 18.8,0a9.4,9.4 0 1,0 -18.8,0ZM1796.5,586.4a9.4,9.4 0 1,0 18.8,0a9.4,9.4 0 1,0 -18.8,0ZM1800.8,587.9a9.4,9.4 0 1,0 18.8,0a9.4,9.4 0 1,0 -18.8,0ZM1805.1,555.0a9.4,9.4 0 1,0 18.8,0a9.4,9.4 0 1,0 -18.8,0ZM1809.4,616.3a9.4,9.4 0 1,0 18.8,0a9.4,9.4 0 1,0 -18.8,0ZM1813.7,621.7a9.4,9.4 0 1,0 18.8,0a9.4,9.4 0 1,0 -18.8,0ZM1818.0,641.6a9.4,9.4 0 1,0 18.8,0a9.4,9.4 0 1,0 -18.8,0ZM1822.3,698.5a9.4,9.4 0 1,0 18.8,0a9.4,9.4 0 1,0 -18.8,0ZM1826.6,636.7a9.4,9.4 0 1,0 18.8,0a9.4,9.4 0 1,0 -18.8,0ZM1830.9,589.7a9.4,9.4 0 1,0 18.8,0a9.4,9.4 0 1,0 -18.8,0ZM1835.2,627.4a9.4,9.4 0 1,0 18.8,0a9.4,9.4 0 1,0 -18.8,0ZM1839.5,678.7a9.4,9.4 0 1,0 18.8,0a9.4,9.4 0 1,0 -18.8,0ZM1843.7,602.3a9.4,9.4 0 1,0 18.8,0a9.4,9.4 0 1,0 -18.8,0ZM1848.0,634.2a9.4,9.4 0 1,0 18.8,0a9.4,9.4 0 1,0 -18.8,0ZM1852.3,624.0a9.4,9.4 0 1,0 18.8,0a9.4,9.4 0 1,0 -18.8,0ZM1856.5,628.5a9.4,9.4 0 1,0 18.8,0a9.4,9.4 0 1,0 -18.8,0ZM1860.8,619.6a9.4,9.4 0 1,0 18.8,0a9.4,9.4 0 1,0 -18.8,0ZM1865.0,597.4a9.4,9.4 0 1,0 18.8,0a9.4,9.4 0 1,0 -18.8,0ZM1869.3,652.1a9.4,9.4 0 1,0 18.8,0a9.4,9.4 0 1,0 -18.8,0ZM1873.5,613.8a9.4,9.4 0 1,0 18.8,0a9.4,9.4 0 1,0 -18.8,0ZM1877.8,627.7a9.4,9.4 0 1,0 18.8,0a9.4,9.4 0 1,0 -18.8,0ZM1882.0,589.6a9.4,9.4 0 1,0 18.8,0a9.4,9.4 0 1,0 -18.8,0ZM1886.2,644.1a9.4,9.4 0 1,0 18.8,0a9.4,9.4 0 1,0 -18.8,0ZM1890.4,576.1a9.4,9.4 0 1,0 18.8,0a9.4,9.4 0 1,0 -18.8,0ZM1894.7,612.0a9.4,9.4 0 1,0 18.8,0a9.4,9.4 0 1,0 -18.8,0ZM1898.9,589.6a9.4,9.4 0 1,0 18.8,0a9.4,9.4 0 1,0 -18.8,0ZM1903.1,647.9a9.4,9.4 0 1,0 18.8,0a9.4,9.4 0 1,0 -18.8,0ZM1907.3,605.5a9.4,9.4 0 1,0 18.8,0a9.4,9.4 0 1,0 -18.8,0ZM1911.5,621.7a9.4,9.4 0 1,0 18.8,0a9.4,9.4 0 1,0 -18.8,0ZM1915.7,675.4a9.4,9.4 0 1,0 18.8,0a9.4,9.4 0 1,0 -18.8,0ZM1919.9,641.2a9.4,9.4 0 1,0 18.8,0a9.4,9.4 0 1,0 -18.8,0ZM1924.1,640.5a9.4,9.4 0 1,0 18.8,0a9.4,9.4 0 1,0 -18.8,0ZM1928.3,651.0a9.4,9.4 0 1,0 18.8,0a9.4,9.4 0 1,0 -18.8,0ZM1932.4,645.0a9.4,9.4 0 1,0 18.8,0a9.4,9.4 0 1,0 -18.8,0ZM1936.6,666.2a9.4,9.4 0 1,0 18.8,0a9.4,9.4 0 1,0 -18.8,0ZM1940.8,639.5a9.4,9.4 0 1,0 18.8,0a9.4,9.4 0 1,0 -18.8,0ZM1944.9,623.8a9.4,9.4 0 1,0 18.8,0a9.4,9.4 0 1,0 -18.8,0ZM1949.1,653.6a9.4,9.4 0 1,0 18.8,0a9.4,9.4 0 1,0 -18.8,0ZM1953.3,671.8a9.4,9.4 0 1,0 18.8,0a9.4,9.4 0 1,0 -18.8,0ZM1957.4,601.4a9.4,9.4 0 1,0 18.8,0a9.4,9.4 0 1,0 -18.8,0ZM1961.6,643.9a9.4,9.4 0 1,0 18.8,0a9.4,9.4 0 1,0 -18.8,0ZM1965.7,631.1a9.4,9.4 0 1,0 18.8,0a9.4,9.4 0 1,0 -18.8,0ZM1969.9,634.3a9.4,9.4 0 1,0 18.8,0a9.4,9.4 0 1,0 -18.8,0ZM1974.0,675.3a9.4,9.4 0 1,0 18.8,0a9.4,9.4 0 1,0 -18.8,0ZM1978.1,610.0a9.4,9.4 0 1,0 18.8,0a9.4,9.4 0 1,0 -18.8,0ZM1982.3,649.8a9.4,9.4 0 1,0 18.8,0a9.4,9.4 0 1,0 -18.8,0ZM1986.4,636.7a9.4,9.4 0 1,0 18.8,0a9.4,9.4 0 1,0 -18.8,0ZM1990.5,684.2a9.4,9.4 0 1,0 18.8,0a9.4,9.4 0 1,0 -18.8,0ZM1994.6,700.8a9.4,9.4 0 1,0 18.8,0a9.4,9.4 0 1,0 -18.8,0ZM1998.7,670.1a9.4,9.4 0 1,0 18.8,0a9.4,9.4 0 1,0 -18.8,0ZM2002.8,612.9a9.4,9.4 0 1,0 18.8,0a9.4,9.4 0 1,0 -18.8,0ZM2006.9,747.9a9.4,9.4 0 1,0 18.8,0a9.4,9.4 0 1,0 -18.8,0ZM2011.0,616.2a9.4,9.4 0 1,0 18.8,0a9.4,9.4 0 1,0 -18.8,0ZM2015.1,660.7a9.4,9.4 0 1,0 18.8,0a9.4,9.4 0 1,0 -18.8,0ZM2019.2,659.9a9.4,9.4 0 1,0 18.8,0a9.4,9.4 0 1,0 -18.8,0ZM2023.3,680.3a9.4,9.4 0 1,0 18.8,0a9.4,9.4 0 1,0 -18.8,0ZM2027.4,664.5a9.4,9.4 0 1,0 18.8,0a9.4,9.4 0 1,0 -18.8,0ZM2031.5,613.8a9.4,9.4 0 1,0 18.8,0a9.4,9.4 0 1,0 -18.8,0ZM2035.6,634.6a9.4,9.4 0 1,0 18.8,0a9.4,9.4 0 1,0 -18.8,0ZM2039.6,753.6a9.4,9.4 0 1,0 18.8,0a9.4,9.4 0 1,0 -18.8,0ZM2043.7,677.5a9.4,9.4 0 1,0 18.8,0a9.4,9.4 0 1,0 -18.8,0ZM2047.8,623.9a9.4,9.4 0 1,0 18.8,0a9.4,9.4 0 1,0 -18.8,0ZM2051.8,680.0a9.4,9.4 0 1,0 18.8,0a9.4,9.4 0 1,0 -18.8,0ZM2055.9,637.7a9.4,9.4 0 1,0 18.8,0a9.4,9.4 0 1,0 -18.8,0ZM2059.9,688.3a9.4,9.4 0 1,0 18.8,0a9.4,9.4 0 1,0 -18.8,0ZM2064.0,634.0a9.4,9.4 0 1,0 18.8,0a9.4,9.4 0 1,0 -18.8,0ZM2068.0,612.2a9.4,9.4 0 1,0 18.8,0a9.4,9.4 0 1,0 -18.8,0ZM2072.1,636.3a9.4,9.4 0 1,0 18.8,0a9.4,9.4 0 1,0 -18.8,0ZM2076.1,650.0a9.4,9.4 0 1,0 18.8,0a9.4,9.4 0 1,0 -18.8,0ZM2080.1,653.7a9.4,9.4 0 1,0 18.8,0a9.4,9.4 0 1,0 -18.8,0ZM2084.2,666.2a9.4,9.4 0 1,0 18.8,0a9.4,9.4 0 1,0 -18.8,0ZM2088.2,664.2a9.4,9.4 0 1,0 18.8,0a9.4,9.4 0 1,0 -18.8,0ZM2092.2,645.8a9.4,9.4 0 1,0 18.8,0a9.4,9.4 0 1,0 -18.8,0ZM2096.2,644.4a9.4,9.4 0 1,0 18.8,0a9.4,9.4 0 1,0 -18.8,0ZM2100.3,805.2a9.4,9.4 0 1,0 18.8,0a9.4,9.4 0 1,0 -18.8,0ZM2104.3,719.5a9.4,9.4 0 1,0 18.8,0a9.4,9.4 0 1,0 -18.8,0ZM2108.3,701.1a9.4,9.4 0 1,0 18.8,0a9.4,9.4 0 1,0 -18.8,0ZM2112.3,671.0a9.4,9.4 0 1,0 18.8,0a9.4,9.4 0 1,0 -18.8,0ZM2116.3,679.6a9.4,9.4 0 1,0 18.8,0a9.4,9.4 0 1,0 -18.8,0ZM2120.3,714.8a9.4,9.4 0 1,0 18.8,0a9.4,9.4 0 1,0 -18.8,0ZM2124.3,656.0a9.4,9.4 0 1,0 18.8,0a9.4,9.4 0 1,0 -18.8,0ZM2128.3,602.0a9.4,9.4 0 1,0 18.8,0a9.4,9.4 0 1,0 -18.8,0ZM2132.3,718.4a9.4,9.4 0 1,0 18.8,0a9.4,9.4 0 1,0 -18.8,0ZM2136.2,683.1a9.4,9.4 0 1,0 18.8,0a9.4,9.4 0 1,0 -18.8,0ZM2140.2,645.3a9.4,9.4 0 1,0 18.8,0a9.4,9.4 0 1,0 -18.8,0ZM2144.2,847.7a9.4,9.4 0 1,0 18.8,0a9.4,9.4 0 1,0 -18.8,0ZM2148.2,707.6a9.4,9.4 0 1,0 18.8,0a9.4,9.4 0 1,0 -18.8,0ZM2152.1,689.9a9.4,9.4 0 1,0 18.8,0a9.4,9.4 0 1,0 -18.8,0ZM2156.1,678.3a9.4,9.4 0 1,0 18.8,0a9.4,9.4 0 1,0 -18.8,0ZM2160.1,708.8a9.4,9.4 0 1,0 18.8,0a9.4,9.4 0 1,0 -18.8,0ZM2164.0,664.9a9.4,9.4 0 1,0 18.8,0a9.4,9.4 0 1,0 -18.8,0ZM2168.0,748.9a9.4,9.4 0 1,0 18.8,0a9.4,9.4 0 1,0 -18.8,0ZM2171.9,670.5a9.4,9.4 0 1,0 18.8,0a9.4,9.4 0 1,0 -18.8,0ZM2175.9,677.0a9.4,9.4 0 1,0 18.8,0a9.4,9.4 0 1,0 -18.8,0ZM2179.8,694.6a9.4,9.4 0 1,0 18.8,0a9.4,9.4 0 1,0 -18.8,0ZM2183.8,679.3a9.4,9.4 0 1,0 18.8,0a9.4,9.4 0 1,0 -18.8,0ZM2187.7,689.6a9.4,9.4 0 1,0 18.8,0a9.4,9.4 0 1,0 -18.8,0ZM2191.6,714.7a9.4,9.4 0 1,0 18.8,0a9.4,9.4 0 1,0 -18.8,0ZM2195.6,715.4a9.4,9.4 0 1,0 18.8,0a9.4,9.4 0 1,0 -18.8,0ZM2199.5,705.4a9.4,9.4 0 1,0 18.8,0a9.4,9.4 0 1,0 -18.8,0ZM2203.4,751.1a9.4,9.4 0 1,0 18.8,0a9.4,9.4 0 1,0 -18.8,0ZM2207.3,743.4a9.4,9.4 0 1,0 18.8,0a9.4,9.4 0 1,0 -18.8,0ZM2211.3,711.8a9.4,9.4 0 1,0 18.8,0a9.4,9.4 0 1,0 -18.8,0ZM2215.2,758.2a9.4,9.4 0 1,0 18.8,0a9.4,9.4 0 1,0 -18.8,0ZM2219.1,736.8a9.4,9.4 0 1,0 18.8,0a9.4,9.4 0 1,0 -18.8,0ZM2223.0,746.4a9.4,9.4 0 1,0 18.8,0a9.4,9.4 0 1,0 -18.8,0ZM2226.9,721.8a9.4,9.4 0 1,0 18.8,0a9.4,9.4 0 1,0 -18.8,0ZM2230.8,702.7a9.4,9.4 0 1,0 18.8,0a9.4,9.4 0 1,0 -18.8,0ZM2234.7,684.5a9.4,9.4 0 1,0 18.8,0a9.4,9.4 0 1,0 -18.8,0ZM2238.6,779.1a9.4,9.4 0 1,0 18.8,0a9.4,9.4 0 1,0 -18.8,0ZM2242.5,719.5a9.4,9.4 0 1,0 18.8,0a9.4,9.4 0 1,0 -18.8,0ZM2246.4,677.8a9.4,9.4 0 1,0 18.8,0a9.4,9.4 0 1,0 -18.8,0ZM2250.3,666.6a9.4,9.4 0 1,0 18.8,0a9.4,9.4 0 1,0 -18.8,0ZM2254.1,679.1a9.4,9.4 0 1,0 18.8,0a9.4,9.4 0 1,0 -18.8,0ZM2258.0,754.3a9.4,9.4 0 1,0 18.8,0a9.4,9.4 0 1,0 -18.8,0ZM2261.9,726.7a9.4,9.4 0 1,0 18.8,0a9.4,9.4 0 1,0 -18.8,0ZM2265.8,688.4a9.4,9.4 0 1,0 18.8,0a9.4,9.4 0 1,0 -18.8,0ZM2269.6,683.0a9.4,9.4 0 1,0 18.8,0a9.4,9.4 0 1,0 -18.8,0ZM2273.5,714.7a9.4,9.4 0 1,0 18.8,0a9.4,9.4 0 1,0 -18.8,0ZM2277.4,709.7a9.4,9.4 0 1,0 18.8,0a9.4,9.4 0 1,0 -18.8,0ZM2281.2,713.3a9.4,9.4 0 1,0 18.8,0a9.4,9.4 0 1,0 -18.8,0ZM2285.1,745.2a9.4,9.4 0 1,0 18.8,0a9.4,9.4 0 1,0 -18.8,0ZM2288.9,714.1a9.4,9.4 0 1,0 18.8,0a9.4,9.4 0 1,0 -18.8,0ZM2292.8,703.4a9.4,9.4 0 1,0 18.8,0a9.4,9.4 0 1,0 -18.8,0ZM2296.6,737.4a9.4,9.4 0 1,0 18.8,0a9.4,9.4 0 1,0 -18.8,0ZM2300.5,693.6a9.4,9.4 0 1,0 18.8,0a9.4,9.4 0 1,0 -18.8,0ZM2304.3,830.7a9.4,9.4 0 1,0 18.8,0a9.4,9.4 0 1,0 -18.8,0ZM2308.2,750.7a9.4,9.4 0 1,0 18.8,0a9.4,9.4 0 1,0 -18.8,0ZM2312.0,684.4a9.4,9.4 0 1,0 18.8,0a9.4,9.4 0 1,0 -18.8,0ZM2315.8,705.6a9.4,9.4 0 1,0 18.8,0a9.4,9.4 0 1,0 -18.8,0ZM2319.7,681.8a9.4,9.4 0 1,0 18.8,0a9.4,9.4 0 1,0 -18.8,0ZM2323.5,728.8a9.4,9.4 0 1,0 18.8,0a9.4,9.4 0 1,0 -18.8,0Z"/>
<line clip-path="url(#clipB)" x1="1520.6" y1="536.5" x2="2319.1" y2="721.8" stroke="#000" stroke-width="7.5" stroke-dasharray="26,9.5"/>
<rect x="1475.4" y="90" width="898.0999999999999" height="864.5" fill="none" stroke="#000" stroke-width="6.5"/>
<text x="1425.9" y="180.0" font-size="52" text-anchor="end" textLength="67.5" lengthAdjust="spacingAndGlyphs" fill="#000">0.4</text>
<text x="1425.9" y="324.1" font-size="52" text-anchor="end" textLength="67.5" lengthAdjust="spacingAndGlyphs" fill="#000">0.2</text>
<text x="1425.9" y="468.2" font-size="52" text-anchor="end" textLength="67.5" lengthAdjust="spacingAndGlyphs" fill="#000">0.0</text>
<text x="1425.9" y="612.3" font-size="52" text-anchor="end" textLength="109.0" lengthAdjust="spacingAndGlyphs" fill="#000">−0.2</text>
<text x="1425.9" y="756.4" font-size="52" text-anchor="end" textLength="109.0" lengthAdjust="spacingAndGlyphs" fill="#000">−0.4</text>
<text x="1425.9" y="900.5" font-size="52" text-anchor="end" textLength="109.0" lengthAdjust="spacingAndGlyphs" fill="#000">−0.6</text>
<line x1="1607.4" y1="954.5" x2="1607.4" y2="981.5" stroke="#000" stroke-width="6.5"/>
<text x="1607.4" y="1038.0" font-size="52" text-anchor="middle" textLength="139.0" lengthAdjust="spacingAndGlyphs" fill="#000">−0.70</text>
<line x1="1837.1" y1="954.5" x2="1837.1" y2="981.5" stroke="#000" stroke-width="6.5"/>
<text x="1837.1" y="1038.0" font-size="52" text-anchor="middle" textLength="139.0" lengthAdjust="spacingAndGlyphs" fill="#000">−0.65</text>
<line x1="2066.9" y1="954.5" x2="2066.9" y2="981.5" stroke="#000" stroke-width="6.5"/>
<text x="2066.9" y="1038.0" font-size="52" text-anchor="middle" textLength="139.0" lengthAdjust="spacingAndGlyphs" fill="#000">−0.60</text>
<line x1="2296.6" y1="954.5" x2="2296.6" y2="981.5" stroke="#000" stroke-width="6.5"/>
<text x="2296.6" y="1038.0" font-size="52" text-anchor="middle" textLength="139.0" lengthAdjust="spacingAndGlyphs" fill="#000">−0.55</text>
<text x="1922.0" y="1113.0" font-size="52" text-anchor="middle" textLength="162.0" lengthAdjust="spacingAndGlyphs" fill="#000">Log(q)</text>
<text transform="translate(1279.4,525) rotate(-90)" font-size="52" text-anchor="middle" textLength="151" lengthAdjust="spacingAndGlyphs">Log(I)</text>
<text x="1924.5" y="55.0" font-size="54" text-anchor="middle" font-weight="bold" fill="#000">B</text>
<line x1="314.4" y1="1851.0" x2="314.4" y2="1928.8" stroke="#ff0000" stroke-width="7.8"/>
<circle cx="314.4" cy="1889.2" r="17.4" fill="#ff0000"/>
<line x1="545.8" y1="1876.5" x2="545.8" y2="1972.7" stroke="#ff0000" stroke-width="7.8"/>
<circle cx="545.8" cy="1924.6" r="17.4" fill="#ff0000"/>
<line x1="661.5" y1="1889.2" x2="661.5" y2="1985.4" stroke="#ff0000" stroke-width="7.8"/>
<circle cx="661.5" cy="1937.3" r="17.4" fill="#ff0000"/>
<line x1="777.2" y1="1799.3" x2="777.2" y2="1904.7" stroke="#ff0000" stroke-width="7.8"/>
<circle cx="777.2" cy="1852.0" r="17.4" fill="#ff0000"/>
<line x1="1124.3" y1="1859.0" x2="1124.3" y2="1929.6" stroke="#ff0000" stroke-width="7.8"/>
<circle cx="1124.3" cy="1894.3" r="17.4" fill="#ff0000"/>
<line x1="314.4" y1="1402.4" x2="314.4" y2="1480.8" stroke="#000" stroke-width="7.8"/>
<path d="M300.3,1420.9L328.5,1449.1M300.3,1449.1L328.5,1420.9" stroke="#000" stroke-width="6.9" fill="none"/>
<line x1="545.8" y1="1821.3" x2="545.8" y2="1914.7" stroke="#000" stroke-width="7.8"/>
<path d="M531.7,1853.9L559.9,1882.1M531.7,1882.1L559.9,1853.9" stroke="#000" stroke-width="6.9" fill="none"/>
<line x1="661.5" y1="1720.8" x2="661.5" y2="1817.0" stroke="#000" stroke-width="7.8"/>
<path d="M647.4,1754.8L675.6,1783.0M647.4,1783.0L675.6,1754.8" stroke="#000" stroke-width="6.9" fill="none"/>
<line x1="777.2" y1="1583.0" x2="777.2" y2="1687.9" stroke="#000" stroke-width="7.8"/>
<path d="M763.1,1621.3L791.3,1649.5M763.1,1649.5L791.3,1621.3" stroke="#000" stroke-width="6.9" fill="none"/>
<line x1="1124.3" y1="1320.5" x2="1124.3" y2="1389.0" stroke="#000" stroke-width="7.8"/>
<path d="M1110.2,1331.9L1138.4,1360.1M1110.2,1360.1L1138.4,1331.9" stroke="#000" stroke-width="6.9" fill="none"/>
<line x1="1124.3" y1="1569.2" x2="1124.3" y2="1639.7" stroke="#0000ff" stroke-width="7.8"/>
<path d="M1105.8,1584.5L1142.8,1584.5L1124.3,1621.5Z" fill="#0000ff"/>
<line x1="1124.3" y1="1759.2" x2="1124.3" y2="1855.2" stroke="#ffa500" stroke-width="7.8"/>
<path d="M1105.8,1787.5L1142.8,1787.5L1124.3,1824.5Z" fill="#ffa500"/>
<rect x="297.2" y="1292.0" width="315.1" height="144.3" rx="9" ry="9" fill="#fff" fill-opacity="0.8" stroke="#d5d5d5" stroke-width="5.4"/>
<line x1="362.1" y1="1303.0" x2="362.1" y2="1350.0" stroke="#ff0000" stroke-width="7.5"/>
<circle cx="362.1" cy="1326.3" r="17" fill="#ff0000"/>
<line x1="362.1" y1="1369.0" x2="362.1" y2="1416.0" stroke="#000" stroke-width="7.5"/>
<path d="M348.0,1378.2L376.2,1406.4M348.0,1406.4L376.2,1378.2" stroke="#000" stroke-width="6.9" fill="none"/>
<text x="445.5" y="1342.8" font-size="52" fill="#000">-</text>
<text x="482.0" y="1342.8" font-size="52" textLength="55.0" lengthAdjust="spacingAndGlyphs" fill="#000">Zn</text>
<text x="539.6" y="1323.3" font-size="34" textLength="37.0" lengthAdjust="spacingAndGlyphs" fill="#000">2+</text>
<text x="447.6" y="1416.5" font-size="70" textLength="34.0" lengthAdjust="spacingAndGlyphs" fill="#000" font-weight="300">+</text>
<text x="504.2" y="1407.7" font-size="52" textLength="55.0" lengthAdjust="spacingAndGlyphs" fill="#000">Zn</text>
<text x="561.9" y="1388.8" font-size="34" textLength="38.0" lengthAdjust="spacingAndGlyphs" fill="#000">2+</text>
<rect x="274.1" y="1268.6" width="890.7" height="863.8" fill="none" stroke="#000" stroke-width="6.2"/>
<line x1="246.1" y1="1268.6" x2="274.1" y2="1268.6" stroke="#000" stroke-width="6.2"/>
<text x="223.5" y="1286.6" font-size="52" text-anchor="end" textLength="92.5" lengthAdjust="spacingAndGlyphs" fill="#000">3.00</text>
<line x1="246.1" y1="1376.6" x2="274.1" y2="1376.6" stroke="#000" stroke-width="6.2"/>
<text x="223.5" y="1394.6" font-size="52" text-anchor="end" textLength="92.5" lengthAdjust="spacingAndGlyphs" fill="#000">2.75</text>
<line x1="246.1" y1="1484.5" x2="274.1" y2="1484.5" stroke="#000" stroke-width="6.2"/>
<text x="223.5" y="1502.5" font-size="52" text-anchor="end" textLength="92.5" lengthAdjust="spacingAndGlyphs" fill="#000">2.50</text>
<line x1="246.1" y1="1592.5" x2="274.1" y2="1592.5" stroke="#000" stroke-width="6.2"/>
<text x="223.5" y="1610.5" font-size="52" text-anchor="end" textLength="92.5" lengthAdjust="spacingAndGlyphs" fill="#000">2.25</text>
<line x1="246.1" y1="1700.5" x2="274.1" y2="1700.5" stroke="#000" stroke-width="6.2"/>
<text x="223.5" y="1718.5" font-size="52" text-anchor="end" textLength="92.5" lengthAdjust="spacingAndGlyphs" fill="#000">2.00</text>
<line x1="246.1" y1="1808.5" x2="274.1" y2="1808.5" stroke="#000" stroke-width="6.2"/>
<text x="223.5" y="1826.5" font-size="52" text-anchor="end" textLength="92.5" lengthAdjust="spacingAndGlyphs" fill="#000">1.75</text>
<line x1="246.1" y1="1916.5" x2="274.1" y2="1916.5" stroke="#000" stroke-width="6.2"/>
<text x="223.5" y="1934.5" font-size="52" text-anchor="end" textLength="92.5" lengthAdjust="spacingAndGlyphs" fill="#000">1.50</text>
<line x1="246.1" y1="2024.4" x2="274.1" y2="2024.4" stroke="#000" stroke-width="6.2"/>
<text x="223.5" y="2042.4" font-size="52" text-anchor="end" textLength="92.5" lengthAdjust="spacingAndGlyphs" fill="#000">1.25</text>
<line x1="246.1" y1="2132.4" x2="274.1" y2="2132.4" stroke="#000" stroke-width="6.2"/>
<text x="223.5" y="2150.4" font-size="52" text-anchor="end" textLength="92.5" lengthAdjust="spacingAndGlyphs" fill="#000">1.00</text>
<line x1="314.4" y1="2132.4" x2="314.4" y2="2160.4" stroke="#000" stroke-width="6.2"/>
<text x="314.4" y="2217.0" font-size="52" text-anchor="middle" fill="#000">0</text>
<line x1="545.8" y1="2132.4" x2="545.8" y2="2160.4" stroke="#000" stroke-width="6.2"/>
<text x="545.8" y="2217.0" font-size="52" text-anchor="middle" fill="#000">2</text>
<line x1="777.2" y1="2132.4" x2="777.2" y2="2160.4" stroke="#000" stroke-width="6.2"/>
<text x="777.2" y="2217.0" font-size="52" text-anchor="middle" fill="#000">4</text>
<line x1="1008.6" y1="2132.4" x2="1008.6" y2="2160.4" stroke="#000" stroke-width="6.2"/>
<text x="1008.6" y="2217.0" font-size="52" text-anchor="middle" fill="#000">6</text>
<text x="718.5" y="2290.0" font-size="52" text-anchor="middle" textLength="514.0" lengthAdjust="spacingAndGlyphs" fill="#000">Number of histidines</text>
<text transform="translate(92,1700.5) rotate(-90)" font-size="52" text-anchor="middle">Dm</text>
<text x="719.5" y="1234.5" font-size="54" text-anchor="middle" font-weight="bold" textLength="38.0" lengthAdjust="spacingAndGlyphs" fill="#000">C</text>
<circle cx="1553.4" cy="2027.6" r="17.3" fill="#ff0000"/>
<circle cx="1785.3" cy="2050.3" r="17.3" fill="#ff0000"/>
<circle cx="1901.2" cy="2092.5" r="17.3" fill="#ff0000"/>
<circle cx="2017.2" cy="1991.7" r="17.3" fill="#ff0000"/>
<circle cx="2365.1" cy="1974.6" r="17.3" fill="#ff0000"/>
<path d="M1539.3,1357.3L1567.5,1385.5M1539.3,1385.5L1567.5,1357.3" stroke="#000" stroke-width="6.9" fill="none"/>
<path d="M1771.2,2039.4L1799.4,2067.6M1771.2,2067.6L1799.4,2039.4" stroke="#000" stroke-width="6.9" fill="none"/>
<path d="M1887.2,1958.2L1915.3,1986.4M1887.2,1986.4L1915.3,1958.2" stroke="#000" stroke-width="6.9" fill="none"/>
<path d="M2003.1,1895.5L2031.3,1923.7M2003.1,1923.7L2031.3,1895.5" stroke="#000" stroke-width="6.9" fill="none"/>
<path d="M2351.0,1293.6L2379.2,1321.8M2351.0,1321.8L2379.2,1293.6" stroke="#000" stroke-width="6.9" fill="none"/>
<path d="M2346.1,1913.9L2384.1,1913.9L2365.1,1951.9Z" fill="#0000ff"/>
<path d="M2346.1,2052.4L2384.1,2052.4L2365.1,2090.4Z" fill="#ffa500"/>
<rect x="1801.4" y="1292.0" width="314.4" height="144.9" rx="9" ry="9" fill="#fff" fill-opacity="0.8" stroke="#d5d5d5" stroke-width="5.4"/>
<circle cx="1865.8" cy="1326.3" r="17" fill="#ff0000"/>
<path d="M1851.7,1378.2L1879.9,1406.4M1851.7,1406.4L1879.9,1378.2" stroke="#000" stroke-width="6.9" fill="none"/>
<text x="1949.6" y="1342.8" font-size="52" fill="#000">-</text>
<text x="1986.1" y="1342.8" font-size="52" textLength="55.0" lengthAdjust="spacingAndGlyphs" fill="#000">Zn</text>
<text x="2043.7" y="1323.3" font-size="34" textLength="37.0" lengthAdjust="spacingAndGlyphs" fill="#000">2+</text>
<text x="1951.7" y="1416.5" font-size="70" textLength="34.0" lengthAdjust="spacingAndGlyphs" fill="#000" font-weight="300">+</text>
<text x="2008.3" y="1407.7" font-size="52" textLength="55.0" lengthAdjust="spacingAndGlyphs" fill="#000">Zn</text>
<text x="2066.0" y="1388.8" font-size="34" textLength="38.0" lengthAdjust="spacingAndGlyphs" fill="#000">2+</text>
<rect x="1513" y="1268.5" width="890.9" height="863.9" fill="none" stroke="#000" stroke-width="6.2"/>
<line x1="1485.0" y1="1404.9" x2="1513" y2="1404.9" stroke="#000" stroke-width="6.2"/>
<text x="1463.0" y="1422.9" font-size="52" text-anchor="end" textLength="131.5" lengthAdjust="spacingAndGlyphs" fill="#000">12000</text>
<line x1="1485.0" y1="1547.6" x2="1513" y2="1547.6" stroke="#000" stroke-width="6.2"/>
<text x="1463.0" y="1565.6" font-size="52" text-anchor="end" textLength="131.5" lengthAdjust="spacingAndGlyphs" fill="#000">10000</text>
<line x1="1485.0" y1="1690.3" x2="1513" y2="1690.3" stroke="#000" stroke-width="6.2"/>
<text x="1463.0" y="1708.3" font-size="52" text-anchor="end" textLength="105.0" lengthAdjust="spacingAndGlyphs" fill="#000">8000</text>
<line x1="1485.0" y1="1833.1" x2="1513" y2="1833.1" stroke="#000" stroke-width="6.2"/>
<text x="1463.0" y="1851.1" font-size="52" text-anchor="end" textLength="105.0" lengthAdjust="spacingAndGlyphs" fill="#000">6000</text>
<line x1="1485.0" y1="1975.8" x2="1513" y2="1975.8" stroke="#000" stroke-width="6.2"/>
<text x="1463.0" y="1993.8" font-size="52" text-anchor="end" textLength="105.0" lengthAdjust="spacingAndGlyphs" fill="#000">4000</text>
<line x1="1485.0" y1="2118.5" x2="1513" y2="2118.5" stroke="#000" stroke-width="6.2"/>
<text x="1463.0" y="2136.5" font-size="52" text-anchor="end" textLength="105.0" lengthAdjust="spacingAndGlyphs" fill="#000">2000</text>
<line x1="1553.4" y1="2132.4" x2="1553.4" y2="2160.4" stroke="#000" stroke-width="6.2"/>
<text x="1553.4" y="2217.0" font-size="52" text-anchor="middle" fill="#000">0</text>
<line x1="1785.3" y1="2132.4" x2="1785.3" y2="2160.4" stroke="#000" stroke-width="6.2"/>
<text x="1785.3" y="2217.0" font-size="52" text-anchor="middle" fill="#000">2</text>
<line x1="2017.2" y1="2132.4" x2="2017.2" y2="2160.4" stroke="#000" stroke-width="6.2"/>
<text x="2017.2" y="2217.0" font-size="52" text-anchor="middle" fill="#000">4</text>
<line x1="2249.1" y1="2132.4" x2="2249.1" y2="2160.4" stroke="#000" stroke-width="6.2"/>
<text x="2249.1" y="2217.0" font-size="52" text-anchor="middle" fill="#000">6</text>
<text x="1957.5" y="2290.0" font-size="52" text-anchor="middle" textLength="514.0" lengthAdjust="spacingAndGlyphs" fill="#000">Number of histidines</text>
<text transform="translate(1285.2,1835) rotate(-90)" font-size="52" textLength="256" lengthAdjust="spacingAndGlyphs">Volume (A</text>
<text transform="translate(1263,1573.5) rotate(-90)" font-size="49">3</text>
<text transform="translate(1285.2,1547) rotate(-90)" font-size="52">)</text>
<text x="1958.5" y="1234.5" font-size="54" text-anchor="middle" font-weight="bold" textLength="42.0" lengthAdjust="spacingAndGlyphs" fill="#000">D</text>
<filter id="goo" x="-25%" y="-25%" width="150%" height="150%" color-interpolation-filters="sRGB">
<feGaussianBlur in="SourceGraphic" stdDeviation="6" result="b"/>
<feColorMatrix in="b" type="matrix" values="1 0 0 0 0 0 1 0 0 0 0 0 1 0 0 0 0 0 16 -6.5" result="g"/>
<feGaussianBlur in="g" stdDeviation="7" result="h"/>
<feTurbulence type="fractalNoise" baseFrequency="0.055" numOctaves="2" seed="3" result="noise"/>
<feComposite in="noise" in2="h" operator="arithmetic" k2="0.28" k3="0.72" result="h2"/>
<feDiffuseLighting in="h2" surfaceScale="8" diffuseConstant="1.3" lighting-color="#fff" result="light"><feDistantLight azimuth="235" elevation="50"/></feDiffuseLighting>
<feComposite in="g" in2="light" operator="arithmetic" k1="1" result="lit"/>
<feSpecularLighting in="h2" surfaceScale="8" specularConstant="0.55" specularExponent="22" lighting-color="#fff" result="spec"><feDistantLight azimuth="235" elevation="50"/></feSpecularLighting>
<feComposite in="spec" in2="g" operator="in" result="specIn"/>
<feComposite in="lit" in2="specIn" operator="arithmetic" k2="1" k3="0.35" result="lit2"/>
<feComposite in="lit2" in2="g" operator="in"/>
<feGaussianBlur stdDeviation="1.2"/>
</filter>
<filter id="tblur"><feGaussianBlur stdDeviation="1.1"/></filter>
<g filter="url(#goo)" fill="#93b06c"><polygon points="486.2,2577.4 492.7,2544.9 512.2,2531.9 541.4,2525.4 567.4,2535.2 593.3,2543.3 609.6,2553.0 632.3,2549.8 664.7,2546.5 684.2,2559.5 692.3,2583.9 687.5,2609.8 671.2,2626.1 651.8,2626.1 625.8,2616.3 599.8,2622.8 567.4,2629.3 541.4,2637.4 512.2,2629.3 492.7,2609.8"/></g>
<g filter="url(#goo)" fill="#22d46e"><ellipse cx="780" cy="2584" rx="23" ry="23"/><ellipse cx="820" cy="2578" rx="23" ry="22"/><ellipse cx="859" cy="2578" rx="23" ry="22"/><ellipse cx="880" cy="2591" rx="25" ry="24"/><ellipse cx="910" cy="2583" rx="17" ry="16"/><ellipse cx="938" cy="2571" rx="28" ry="26"/></g>
<g filter="url(#goo)" fill="#ab7676"><polygon points="1023.5,2579.3 1028.5,2550.6 1043.7,2542.2 1060.6,2537.1 1080.8,2543.9 1094.3,2550.6 1111.1,2548.9 1131.4,2533.8 1153.3,2520.3 1171.8,2511.9 1188.7,2525.3 1200.5,2542.2 1212.2,2560.7 1229.1,2564.1 1252.7,2569.2 1267.9,2586.0 1264.5,2604.6 1251.0,2616.4 1229.1,2618.0 1212.2,2611.3 1187.0,2602.9 1170.1,2589.4 1158.3,2582.6 1144.8,2592.8 1136.4,2613.0 1117.9,2628.2 1101.0,2623.1 1090.9,2606.2 1089.2,2594.4 1074.0,2594.4 1057.2,2599.5 1040.3,2589.4"/></g>
<g filter="url(#goo)" fill="#e4acd4"><polygon points="1296.4,2576.7 1302.9,2562.1 1322.3,2555.6 1341.8,2550.7 1349.9,2537.7 1366.2,2539.4 1385.6,2544.2 1401.9,2550.7 1419.7,2541.0 1437.6,2526.4 1455.5,2531.2 1471.7,2537.7 1496.0,2539.4 1512.3,2544.2 1523.6,2557.2 1528.5,2576.7 1526.9,2592.9 1515.5,2605.9 1496.0,2605.9 1479.8,2592.9 1470.1,2579.9 1461.9,2586.4 1455.5,2605.9 1444.1,2622.1 1426.2,2618.9 1410.0,2604.3 1398.6,2589.7 1375.9,2588.1 1358.1,2594.5 1341.8,2584.8 1325.6,2592.9 1309.4,2602.7 1299.6,2592.9"/></g>
<g filter="url(#goo)" fill="#78dce6"><polygon points="1590.5,2569.9 1596.5,2542.9 1610.0,2535.4 1627.9,2530.9 1642.9,2516.0 1662.4,2504.0 1684.9,2498.0 1714.8,2501.0 1729.8,2495.0 1744.8,2490.5 1767.3,2496.5 1789.7,2511.5 1803.2,2526.4 1798.7,2547.4 1786.7,2563.9 1774.8,2572.9 1756.8,2577.4 1741.8,2587.9 1729.8,2602.8 1714.8,2608.8 1699.9,2602.8 1695.4,2581.9 1687.9,2563.9 1675.9,2557.9 1654.9,2563.9 1636.9,2575.9 1617.5,2584.9 1598.0,2581.9"/></g>
<g filter="url(#goo)" fill="#40e640"><polygon points="1862.5,2521.0 1880.0,2490.0 1913.0,2468.7 1950.0,2458.0 1982.3,2446.2 2019.8,2470.6 2068.5,2481.8 2095.0,2500.0 2106.0,2524.9 2079.7,2554.8 2027.3,2579.2 1990.0,2592.0 1944.9,2600.7 1905.0,2590.0 1873.7,2569.8"/></g>
<g filter="url(#goo)" fill="#2cc2cc"><ellipse cx="512" cy="2707" rx="33" ry="27"/><ellipse cx="545" cy="2714" rx="24" ry="22"/><ellipse cx="580" cy="2737" rx="31" ry="33"/><ellipse cx="616" cy="2718" rx="20" ry="19"/><ellipse cx="664" cy="2714" rx="30" ry="28"/></g>
<g filter="url(#goo)" fill="#1a7fe0"><ellipse cx="781" cy="2684" rx="30" ry="21"/><ellipse cx="814" cy="2688" rx="24" ry="23"/><ellipse cx="866" cy="2708" rx="29" ry="30"/><ellipse cx="905" cy="2698" rx="16" ry="15"/><ellipse cx="941" cy="2688" rx="28" ry="27"/></g>
<g filter="url(#goo)" fill="#ecc99c"><ellipse cx="1038" cy="2707" rx="26" ry="22"/><ellipse cx="1082" cy="2707" rx="24" ry="24"/><ellipse cx="1124" cy="2740" rx="30" ry="28"/><ellipse cx="1127" cy="2760" rx="18" ry="16"/><ellipse cx="1184" cy="2719" rx="31" ry="30"/><ellipse cx="1155" cy="2735" rx="18" ry="18"/></g>
<g filter="url(#goo)" fill="#e27474"><ellipse cx="1315" cy="2719" rx="27" ry="26"/><ellipse cx="1378" cy="2741" rx="28" ry="28"/><ellipse cx="1408" cy="2730" rx="20" ry="20"/><ellipse cx="1457" cy="2715" rx="28" ry="26"/><ellipse cx="1345" cy="2730" rx="18" ry="18"/></g>
<g filter="url(#goo)" fill="#ece684"><ellipse cx="1625" cy="2716" rx="23" ry="22"/><ellipse cx="1650" cy="2722" rx="16" ry="16"/><ellipse cx="1674" cy="2727" rx="26" ry="26"/><ellipse cx="1700" cy="2712" rx="17" ry="17"/><ellipse cx="1722" cy="2691" rx="22" ry="24"/><ellipse cx="1771" cy="2709" rx="24" ry="24"/><ellipse cx="1689" cy="2742" rx="15" ry="15"/><ellipse cx="1745" cy="2702" rx="17" ry="17"/></g>
<g filter="url(#goo)" fill="#25d6e0"><ellipse cx="1929" cy="2697" rx="30" ry="28"/><ellipse cx="1965" cy="2705" rx="18" ry="18"/><ellipse cx="2003" cy="2716" rx="33" ry="32"/><ellipse cx="2037" cy="2705" rx="17" ry="17"/><ellipse cx="2071" cy="2690" rx="27" ry="26"/></g>
<g filter="url(#goo)" fill="#944fa8"><polygon points="462.5,3054.3 468.1,3014.9 483.1,3005.6 501.8,3013.1 522.4,3006.5 537.4,3014.9 571.1,3007.5 582.3,2992.5 604.8,2990.6 636.6,2996.2 683.4,3005.6 709.7,3022.4 717.2,3048.7 719.0,3082.4 711.5,3101.1 692.8,3116.1 666.6,3127.3 642.2,3119.8 608.5,3106.7 578.6,3099.2 556.1,3080.5 529.9,3071.1 503.7,3067.4 483.1,3076.7 468.1,3069.3"/></g>
<g filter="url(#goo)" fill="#e0e0e0"><polygon points="783.0,3055.5 792.7,3031.1 802.5,3026.2 818.7,3026.2 826.8,3036.0 838.2,3047.3 847.9,3049.0 857.7,3042.5 875.5,3036.0 899.9,3034.4 924.2,3032.7 942.1,3027.9 956.7,3029.5 972.9,3037.6 985.9,3045.7 1000.5,3049.0 1010.3,3058.7 1013.5,3071.7 1005.4,3078.2 989.2,3079.8 972.9,3078.2 956.7,3078.2 940.5,3078.2 924.2,3074.9 912.9,3078.2 899.9,3087.9 883.6,3096.0 867.4,3096.0 854.4,3087.9 846.3,3071.7 838.2,3070.1 823.6,3073.3 807.3,3074.9 791.1,3068.4"/></g>
<g filter="url(#goo)" fill="#f84cd4"><polygon points="1896.2,3047.9 1904.4,3022.0 1922.2,3002.5 1944.9,2994.4 1969.3,2994.4 2003.4,2987.9 2026.1,2986.2 2055.3,2994.4 2074.8,3000.8 2099.2,3000.8 2117.0,3012.2 2126.8,3031.7 2125.1,3054.4 2117.0,3073.9 2097.5,3083.6 2074.8,3085.3 2058.6,3093.4 2047.2,3112.9 2039.1,3129.1 2022.9,3142.1 2001.8,3148.6 1980.6,3143.7 1964.4,3134.0 1948.2,3122.6 1928.7,3111.2 1907.6,3091.8 1897.9,3070.6"/></g>
<g filter="url(#goo)" fill="#ef9b2c"><ellipse cx="1116" cy="3074" rx="28" ry="27"/><ellipse cx="1150" cy="3066" rx="18" ry="16"/><ellipse cx="1180" cy="3050" rx="30" ry="30"/><ellipse cx="1215" cy="3064" rx="20" ry="18"/><ellipse cx="1247" cy="3075" rx="31" ry="33"/></g>
<g filter="url(#goo)" fill="#7de87d"><ellipse cx="1399" cy="3070" rx="22" ry="20"/><ellipse cx="1428" cy="3058" rx="19" ry="18"/><ellipse cx="1468" cy="3082" rx="25" ry="25"/><ellipse cx="1495" cy="3062" rx="15" ry="14"/><ellipse cx="1522" cy="3042" rx="22" ry="22"/></g>
<g filter="url(#goo)" fill="#e8228c"><ellipse cx="1667" cy="3085" rx="27" ry="19"/><ellipse cx="1700" cy="3075" rx="15" ry="13"/><ellipse cx="1729" cy="3065" rx="30" ry="28"/><ellipse cx="1765" cy="3063" rx="15" ry="13"/><ellipse cx="1800" cy="3060" rx="30" ry="30"/></g>
<g filter="url(#goo)" fill="#a8a8a8"><ellipse cx="545" cy="3263" rx="30" ry="28"/><ellipse cx="590" cy="3256" rx="15" ry="13"/><ellipse cx="632" cy="3251" rx="30" ry="30"/><ellipse cx="662" cy="3276" rx="14" ry="13"/><ellipse cx="690" cy="3298" rx="30" ry="29"/></g>
<g filter="url(#goo)" fill="#ee9a9a"><ellipse cx="800" cy="3260" rx="28" ry="23"/><ellipse cx="845" cy="3262" rx="28" ry="25"/><ellipse cx="890" cy="3263" rx="29" ry="26"/><ellipse cx="945" cy="3262" rx="30" ry="22"/></g>
<g filter="url(#goo)" fill="#8484ec"><ellipse cx="1112" cy="3287" rx="32" ry="34"/><ellipse cx="1150" cy="3294" rx="18" ry="18"/><ellipse cx="1184" cy="3302" rx="34" ry="31"/><ellipse cx="1247" cy="3280" rx="27" ry="24"/></g>
<g filter="url(#goo)" fill="#239494"><ellipse cx="1397" cy="3273" rx="30" ry="32"/><ellipse cx="1433" cy="3290" rx="17" ry="17"/><ellipse cx="1468" cy="3302" rx="30" ry="33"/><ellipse cx="1500" cy="3283" rx="14" ry="14"/><ellipse cx="1532" cy="3268" rx="27" ry="28"/></g>
<g filter="url(#goo)" fill="#ebc660"><ellipse cx="1682" cy="3280" rx="26" ry="24"/><ellipse cx="1717" cy="3277" rx="14" ry="12"/><ellipse cx="1750" cy="3275" rx="25" ry="26"/><ellipse cx="1780" cy="3225" rx="25" ry="26"/><ellipse cx="1809" cy="3247" rx="21" ry="21"/><ellipse cx="1768" cy="3250" rx="14" ry="14"/></g>
<g filter="url(#goo)" fill="#eaea20"><ellipse cx="1971" cy="3246" rx="31" ry="27"/><ellipse cx="2016" cy="3272" rx="28" ry="28"/><ellipse cx="2050" cy="3252" rx="22" ry="20"/><ellipse cx="2080" cy="3246" rx="26" ry="24"/><ellipse cx="2112" cy="3243" rx="24" ry="20"/><ellipse cx="2139" cy="3235" rx="20" ry="18"/><ellipse cx="2020" cy="3294" rx="15" ry="15"/></g>
<g filter="url(#tblur)">
<text x="297.5" y="2397.5" font-size="48" font-weight="bold" textLength="38.0" lengthAdjust="spacingAndGlyphs" fill="#111">E</text>
<text x="440.0" y="2444.0" font-size="49" textLength="392.0" lengthAdjust="spacingAndGlyphs" fill="#3c3c3c" stroke="#3c3c3c" stroke-width="0.5">High concentration</text>
<text x="440.0" y="2904.0" font-size="49" textLength="379.0" lengthAdjust="spacingAndGlyphs" fill="#3c3c3c" stroke="#3c3c3c" stroke-width="0.5">Low concentration</text>
<text x="291.9" y="2566.0" font-size="68" textLength="32.0" lengthAdjust="spacingAndGlyphs" fill="#e77a85">+</text>
<text x="343.7" y="2558.0" font-size="50" textLength="88.0" lengthAdjust="spacingAndGlyphs" fill="#d84050" stroke="#d84050" stroke-width="1">Zinc</text>
<text x="281.9" y="3038.0" font-size="68" textLength="32.0" lengthAdjust="spacingAndGlyphs" fill="#e77a85">+</text>
<text x="333.7" y="3030.0" font-size="50" textLength="88.0" lengthAdjust="spacingAndGlyphs" fill="#d84050" stroke="#d84050" stroke-width="1">Zinc</text>
<text x="288.0" y="2706.6" font-size="50" textLength="15.0" lengthAdjust="spacingAndGlyphs" fill="#3a3a3a">-</text>
<text x="322.4" y="2706.6" font-size="50" textLength="88.0" lengthAdjust="spacingAndGlyphs" fill="#333" stroke="#333" stroke-width="0.7">Zinc</text>
<text x="280.0" y="3252.5" font-size="50" textLength="15.0" lengthAdjust="spacingAndGlyphs" fill="#3a3a3a">-</text>
<text x="314.4" y="3252.5" font-size="50" textLength="88.0" lengthAdjust="spacingAndGlyphs" fill="#333" stroke="#333" stroke-width="0.7">Zinc</text>
<text x="552.5" y="3441.0" font-size="52" textLength="93.0" lengthAdjust="spacingAndGlyphs" fill="#3c3c3c" stroke="#3c3c3c" stroke-width="0.7">Hst5</text>
<text x="648.5" y="3449.5" font-size="32" textLength="45.5" lengthAdjust="spacingAndGlyphs" fill="#555" stroke="#555" stroke-width="0.5">DH</text>
<text x="792.5" y="3441.0" font-size="52" textLength="93.0" lengthAdjust="spacingAndGlyphs" fill="#3c3c3c" stroke="#3c3c3c" stroke-width="0.7">Hst5</text>
<text x="888.5" y="3449.5" font-size="32" textLength="36.5" lengthAdjust="spacingAndGlyphs" fill="#555" stroke="#555" stroke-width="0.5">2H</text>
<text x="1108.6" y="3441.0" font-size="52" textLength="93.0" lengthAdjust="spacingAndGlyphs" fill="#3c3c3c" stroke="#3c3c3c" stroke-width="0.7">Hst5</text>
<text x="1204.6" y="3449.5" font-size="32" textLength="45.4" lengthAdjust="spacingAndGlyphs" fill="#555" stroke="#555" stroke-width="0.5">ZM</text>
<text x="1403.7" y="3441.0" font-size="52" textLength="93.0" lengthAdjust="spacingAndGlyphs" fill="#3c3c3c" stroke="#3c3c3c" stroke-width="0.7">Hst5</text>
<text x="1499.7" y="3449.5" font-size="32" textLength="66.3" lengthAdjust="spacingAndGlyphs" fill="#555" stroke="#555" stroke-width="0.5">DZM</text>
<text x="1666.7" y="3441.0" font-size="52" textLength="93.0" lengthAdjust="spacingAndGlyphs" fill="#3c3c3c" stroke="#3c3c3c" stroke-width="0.7">Hst5</text>
<text x="1762.7" y="3449.5" font-size="32" textLength="65.8" lengthAdjust="spacingAndGlyphs" fill="#555" stroke="#555" stroke-width="0.5">RAN</text>
<text x="1987.6" y="3441.0" font-size="52" textLength="93.0" lengthAdjust="spacingAndGlyphs" fill="#3c3c3c" stroke="#3c3c3c" stroke-width="0.7">Hst5</text>
</g>
</svg></body></html>
